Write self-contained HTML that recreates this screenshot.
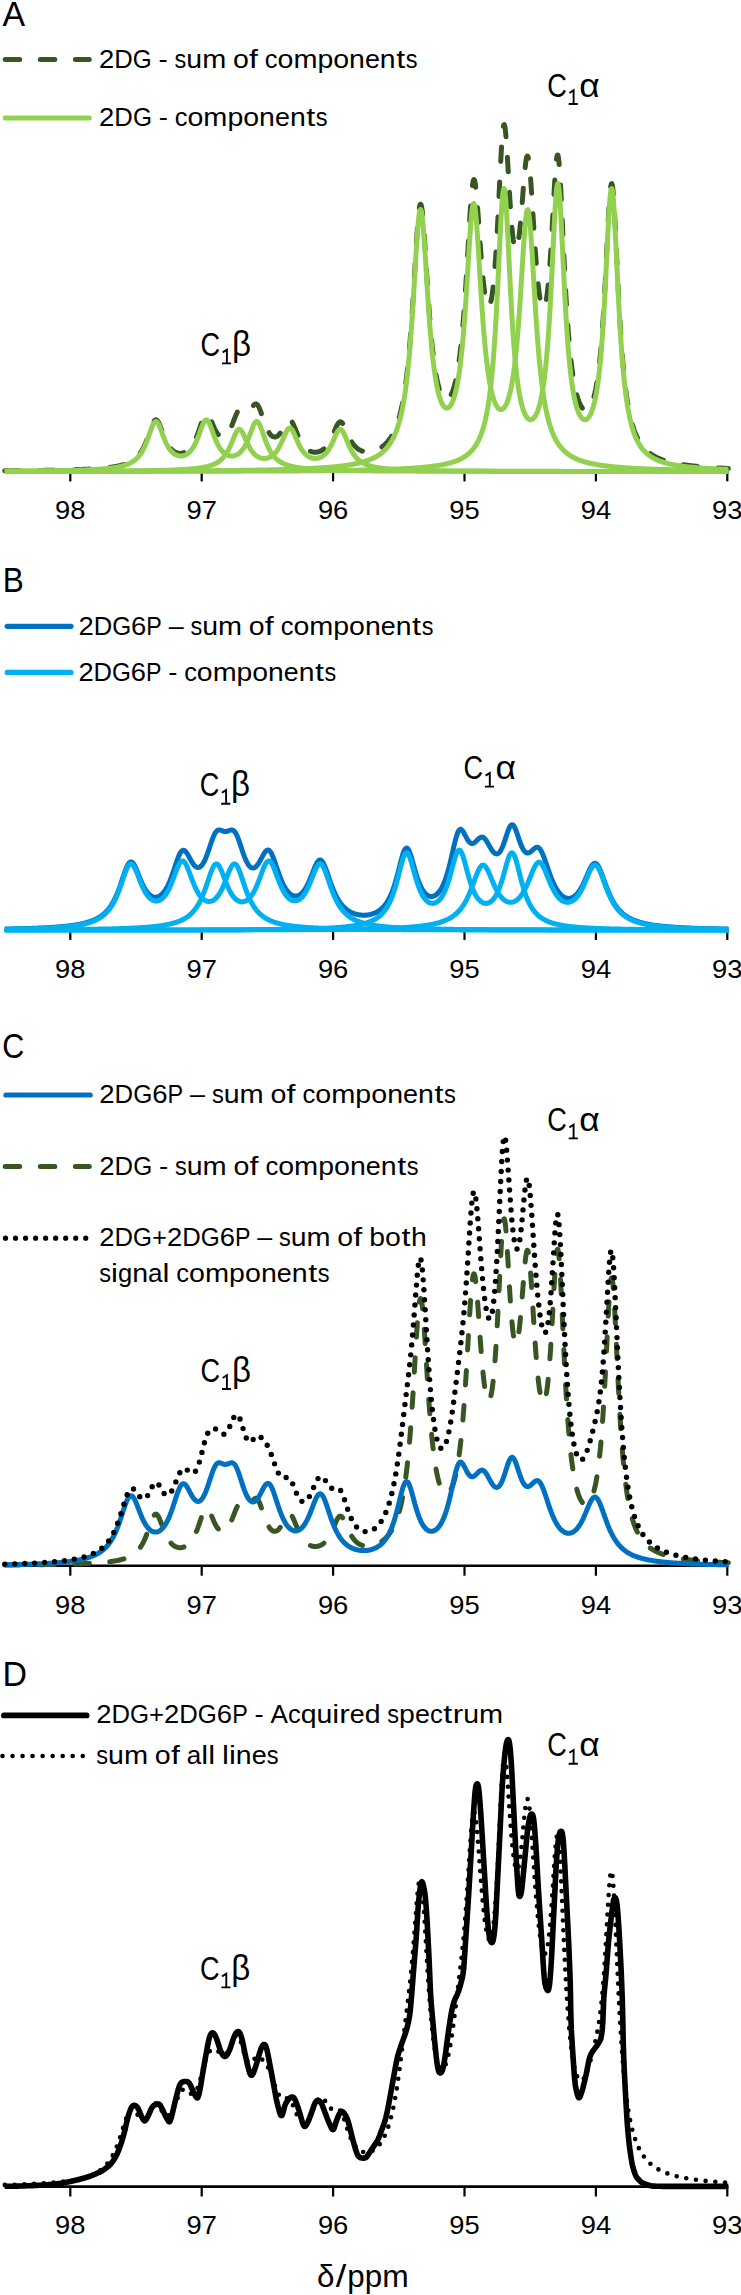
<!DOCTYPE html>
<html><head><meta charset="utf-8"><title>Figure</title><style>html,body{margin:0;padding:0;background:#fff}</style></head><body>
<svg width="741" height="2295" viewBox="0 0 741 2295" style="display:block;font-family:'Liberation Sans',sans-serif">
<rect width="741" height="2295" fill="#fff"/>
<path d="M4.5,471.5 H728.4" stroke="#000" stroke-width="2.6" fill="none"/><path d="M70.3,471.5 V481.4" stroke="#000" stroke-width="2.2" fill="none"/><text x="70.3" y="519.3" font-size="25.6" text-anchor="middle" textLength="30.4" lengthAdjust="spacingAndGlyphs">98</text><path d="M201.7,471.5 V481.4" stroke="#000" stroke-width="2.2" fill="none"/><text x="201.7" y="519.3" font-size="25.6" text-anchor="middle" textLength="30.4" lengthAdjust="spacingAndGlyphs">97</text><path d="M333.1,471.5 V481.4" stroke="#000" stroke-width="2.2" fill="none"/><text x="333.1" y="519.3" font-size="25.6" text-anchor="middle" textLength="30.4" lengthAdjust="spacingAndGlyphs">96</text><path d="M464.5,471.5 V481.4" stroke="#000" stroke-width="2.2" fill="none"/><text x="464.5" y="519.3" font-size="25.6" text-anchor="middle" textLength="30.4" lengthAdjust="spacingAndGlyphs">95</text><path d="M595.9,471.5 V481.4" stroke="#000" stroke-width="2.2" fill="none"/><text x="595.9" y="519.3" font-size="25.6" text-anchor="middle" textLength="30.4" lengthAdjust="spacingAndGlyphs">94</text><path d="M727.3,471.5 V481.4" stroke="#000" stroke-width="2.2" fill="none"/><text x="727.3" y="519.3" font-size="25.6" text-anchor="middle" textLength="30.4" lengthAdjust="spacingAndGlyphs">93</text>
<path d="M4.8,470.8 L5.3,470.8 L5.8,470.8 L6.3,470.8 L6.8,470.8 L7.3,470.8 L7.8,470.8 L8.3,470.8 L8.8,470.7 L9.3,470.7 L9.8,470.7 L10.3,470.7 L10.8,470.7 L11.3,470.7 L11.8,470.7 L12.3,470.7 L12.8,470.7 L13.3,470.7 L13.8,470.7 L14.3,470.7 L14.8,470.7 L15.3,470.7 L15.8,470.7 L16.3,470.7 L16.8,470.7 L17.3,470.7 L17.8,470.7 L18.3,470.7 L18.8,470.7 L19.3,470.7 L19.8,470.6 L20.3,470.6 L20.8,470.6 L21.3,470.6 L21.8,470.6 L22.3,470.6 L22.8,470.6 L23.3,470.6 L23.8,470.6 L24.3,470.6 L24.8,470.6 L25.3,470.6 L25.8,470.6 L26.3,470.6 L26.8,470.6 L27.3,470.6 L27.8,470.6 L28.3,470.6 L28.8,470.6 L29.3,470.5 L29.8,470.5 L30.3,470.5 L30.8,470.5 L31.3,470.5 L31.8,470.5 L32.3,470.5 L32.8,470.5 L33.3,470.5 L33.8,470.5 L34.3,470.5 L34.8,470.5 L35.3,470.5 L35.8,470.5 L36.3,470.5 L36.8,470.5 L37.3,470.4 L37.8,470.4 L38.3,470.4 L38.8,470.4 L39.3,470.4 L39.8,470.4 L40.3,470.4 L40.8,470.4 L41.3,470.4 L41.8,470.4 L42.3,470.4 L42.8,470.4 L43.3,470.4 L43.8,470.4 L44.3,470.3 L44.8,470.3 L45.3,470.3 L45.8,470.3 L46.3,470.3 L46.8,470.3 L47.3,470.3 L47.8,470.3 L48.3,470.3 L48.8,470.3 L49.3,470.3 L49.8,470.3 L50.3,470.2 L50.8,470.2 L51.3,470.2 L51.8,470.2 L52.3,470.2 L52.8,470.2 L53.3,470.2 L53.8,470.2 L54.3,470.2 L54.8,470.2 L55.3,470.2 L55.8,470.1 L56.3,470.1 L56.8,470.1 L57.3,470.1 L57.8,470.1 L58.3,470.1 L58.8,470.1 L59.3,470.1 L59.8,470.1 L60.3,470.0 L60.8,470.0 L61.3,470.0 L61.8,470.0 L62.3,470.0 L62.8,470.0 L63.3,470.0 L63.8,470.0 L64.3,470.0 L64.8,469.9 L65.3,469.9 L65.8,469.9 L66.3,469.9 L66.8,469.9 L67.3,469.9 L67.8,469.9 L68.3,469.9 L68.8,469.8 L69.3,469.8 L69.8,469.8 L70.3,469.8 L70.8,469.8 L71.3,469.8 L71.8,469.8 L72.3,469.7 L72.8,469.7 L73.3,469.7 L73.8,469.7 L74.3,469.7 L74.8,469.7 L75.3,469.6 L75.8,469.6 L76.3,469.6 L76.8,469.6 L77.3,469.6 L77.8,469.6 L78.3,469.5 L78.8,469.5 L79.3,469.5 L79.8,469.5 L80.3,469.5 L80.8,469.4 L81.3,469.4 L81.8,469.4 L82.3,469.4 L82.8,469.4 L83.3,469.3 L83.8,469.3 L84.3,469.3 L84.8,469.3 L85.3,469.3 L85.8,469.2 L86.3,469.2 L86.8,469.2 L87.3,469.2 L87.8,469.1 L88.3,469.1 L88.8,469.1 L89.3,469.1 L89.8,469.0 L90.3,469.0 L90.8,469.0 L91.3,469.0 L91.8,468.9 L92.3,468.9 L92.8,468.9 L93.3,468.8 L93.8,468.8 L94.3,468.8 L94.8,468.7 L95.3,468.7 L95.8,468.7 L96.3,468.6 L96.8,468.6 L97.3,468.6 L97.8,468.5 L98.3,468.5 L98.8,468.5 L99.3,468.4 L99.8,468.4 L100.3,468.3 L100.8,468.3 L101.3,468.3 L101.8,468.2 L102.3,468.2 L102.8,468.1 L103.3,468.1 L103.8,468.0 L104.3,468.0 L104.8,467.9 L105.3,467.9 L105.8,467.8 L106.3,467.8 L106.8,467.7 L107.3,467.7 L107.8,467.6 L108.3,467.6 L108.8,467.5 L109.3,467.4 L109.8,467.4 L110.3,467.3 L110.8,467.2 L111.3,467.2 L111.8,467.1 L112.3,467.0 L112.8,467.0 L113.3,466.9 L113.8,466.8 L114.3,466.7 L114.8,466.6 L115.3,466.5 L115.8,466.5 L116.3,466.4 L116.8,466.3 L117.3,466.2 L117.8,466.1 L118.3,466.0 L118.8,465.9 L119.3,465.8 L119.8,465.6 L120.3,465.5 L120.8,465.4 L121.3,465.3 L121.8,465.1 L122.3,465.0 L122.8,464.9 L123.3,464.7 L123.8,464.6 L124.3,464.4 L124.8,464.2 L125.3,464.1 L125.8,463.9 L126.3,463.7 L126.8,463.5 L127.3,463.3 L127.8,463.1 L128.3,462.9 L128.8,462.7 L129.3,462.4 L129.8,462.2 L130.3,461.9 L130.8,461.6 L131.3,461.4 L131.8,461.1 L132.3,460.7 L132.8,460.4 L133.3,460.1 L133.8,459.7 L134.3,459.3 L134.8,459.0 L135.3,458.5 L135.8,458.1 L136.3,457.7 L136.8,457.2 L137.3,456.7 L137.8,456.1 L138.3,455.6 L138.8,455.0 L139.3,454.4 L139.8,453.7 L140.3,453.0 L140.8,452.3 L141.3,451.5 L141.8,450.7 L142.3,449.8 L142.8,448.9 L143.3,448.0 L143.8,447.0 L144.3,445.9 L144.8,444.8 L145.3,443.7 L145.8,442.5 L146.3,441.2 L146.8,439.9 L147.3,438.6 L147.8,437.2 L148.3,435.8 L148.8,434.3 L149.3,432.9 L149.8,431.4 L150.3,429.9 L150.8,428.5 L151.3,427.1 L151.8,425.7 L152.3,424.5 L152.8,423.4 L153.3,422.3 L153.8,421.5 L154.3,420.8 L154.8,420.3 L155.3,419.9 L155.8,419.8 L156.3,419.9 L156.8,420.2 L157.3,420.6 L157.8,421.3 L158.3,422.1 L158.8,423.0 L159.3,424.1 L159.8,425.3 L160.3,426.5 L160.8,427.8 L161.3,429.1 L161.8,430.5 L162.3,431.8 L162.8,433.2 L163.3,434.5 L163.8,435.8 L164.3,437.0 L164.8,438.2 L165.3,439.4 L165.8,440.5 L166.3,441.5 L166.8,442.5 L167.3,443.4 L167.8,444.3 L168.3,445.2 L168.8,446.0 L169.3,446.7 L169.8,447.4 L170.3,448.0 L170.8,448.6 L171.3,449.2 L171.8,449.7 L172.3,450.1 L172.8,450.6 L173.3,451.0 L173.8,451.3 L174.3,451.7 L174.8,452.0 L175.3,452.2 L175.8,452.5 L176.3,452.7 L176.8,452.8 L177.3,453.0 L177.8,453.1 L178.3,453.2 L178.8,453.3 L179.3,453.4 L179.8,453.4 L180.3,453.4 L180.8,453.4 L181.3,453.3 L181.8,453.2 L182.3,453.2 L182.8,453.0 L183.3,452.9 L183.8,452.7 L184.3,452.5 L184.8,452.3 L185.3,452.1 L185.8,451.8 L186.3,451.5 L186.8,451.2 L187.3,450.8 L187.8,450.4 L188.3,450.0 L188.8,449.5 L189.3,449.0 L189.8,448.5 L190.3,447.9 L190.8,447.3 L191.3,446.7 L191.8,446.0 L192.3,445.2 L192.8,444.4 L193.3,443.6 L193.8,442.7 L194.3,441.7 L194.8,440.7 L195.3,439.7 L195.8,438.6 L196.3,437.4 L196.8,436.2 L197.3,434.9 L197.8,433.6 L198.3,432.2 L198.8,430.8 L199.3,429.3 L199.8,427.9 L200.3,426.4 L200.8,424.9 L201.3,423.4 L201.8,422.0 L202.3,420.6 L202.8,419.4 L203.3,418.2 L203.8,417.1 L204.3,416.2 L204.8,415.4 L205.3,414.8 L205.8,414.4 L206.3,414.1 L206.8,414.1 L207.3,414.3 L207.8,414.6 L208.3,415.2 L208.8,415.9 L209.3,416.7 L209.8,417.6 L210.3,418.7 L210.8,419.8 L211.3,420.9 L211.8,422.1 L212.3,423.3 L212.8,424.5 L213.3,425.7 L213.8,426.9 L214.3,428.0 L214.8,429.0 L215.3,430.0 L215.8,431.0 L216.3,431.9 L216.8,432.7 L217.3,433.4 L217.8,434.1 L218.3,434.7 L218.8,435.3 L219.3,435.7 L219.8,436.1 L220.3,436.5 L220.8,436.7 L221.3,436.9 L221.8,437.1 L222.3,437.1 L222.8,437.1 L223.3,437.1 L223.8,436.9 L224.3,436.7 L224.8,436.5 L225.3,436.1 L225.8,435.7 L226.3,435.3 L226.8,434.7 L227.3,434.1 L227.8,433.4 L228.3,432.7 L228.8,431.9 L229.3,431.0 L229.8,430.0 L230.3,429.0 L230.8,427.9 L231.3,426.8 L231.8,425.6 L232.3,424.4 L232.8,423.1 L233.3,421.8 L233.8,420.5 L234.3,419.2 L234.8,417.9 L235.3,416.7 L235.8,415.4 L236.3,414.3 L236.8,413.2 L237.3,412.2 L237.8,411.4 L238.3,410.7 L238.8,410.1 L239.3,409.6 L239.8,409.3 L240.3,409.1 L240.8,409.0 L241.3,409.0 L241.8,409.1 L242.3,409.3 L242.8,409.6 L243.3,409.9 L243.8,410.2 L244.3,410.5 L244.8,410.7 L245.3,411.0 L245.8,411.2 L246.3,411.3 L246.8,411.3 L247.3,411.3 L247.8,411.2 L248.3,411.0 L248.8,410.7 L249.3,410.3 L249.8,409.8 L250.3,409.3 L250.8,408.7 L251.3,408.1 L251.8,407.5 L252.3,406.8 L252.8,406.2 L253.3,405.6 L253.8,405.1 L254.3,404.6 L254.8,404.3 L255.3,404.0 L255.8,404.0 L256.3,404.0 L256.8,404.3 L257.3,404.7 L257.8,405.3 L258.3,406.1 L258.8,407.0 L259.3,408.0 L259.8,409.2 L260.3,410.5 L260.8,411.9 L261.3,413.3 L261.8,414.8 L262.3,416.3 L262.8,417.8 L263.3,419.3 L263.8,420.8 L264.3,422.2 L264.8,423.6 L265.3,424.9 L265.8,426.2 L266.3,427.4 L266.8,428.5 L267.3,429.6 L267.8,430.6 L268.3,431.5 L268.8,432.3 L269.3,433.1 L269.8,433.8 L270.3,434.5 L270.8,435.0 L271.3,435.5 L271.8,435.9 L272.3,436.3 L272.8,436.6 L273.3,436.8 L273.8,436.9 L274.3,437.0 L274.8,437.0 L275.3,437.0 L275.8,436.9 L276.3,436.7 L276.8,436.5 L277.3,436.2 L277.8,435.8 L278.3,435.4 L278.8,434.9 L279.3,434.3 L279.8,433.7 L280.3,433.0 L280.8,432.3 L281.3,431.5 L281.8,430.7 L282.3,429.8 L282.8,428.9 L283.3,427.9 L283.8,427.0 L284.3,426.0 L284.8,425.0 L285.3,424.1 L285.8,423.2 L286.3,422.4 L286.8,421.6 L287.3,420.9 L287.8,420.4 L288.3,420.0 L288.8,419.7 L289.3,419.6 L289.8,419.7 L290.3,419.9 L290.8,420.3 L291.3,420.8 L291.8,421.5 L292.3,422.3 L292.8,423.3 L293.3,424.3 L293.8,425.4 L294.3,426.6 L294.8,427.8 L295.3,429.0 L295.8,430.3 L296.3,431.5 L296.8,432.7 L297.3,433.9 L297.8,435.1 L298.3,436.3 L298.8,437.4 L299.3,438.4 L299.8,439.5 L300.3,440.4 L300.8,441.4 L301.3,442.2 L301.8,443.1 L302.3,443.8 L302.8,444.6 L303.3,445.3 L303.8,445.9 L304.3,446.5 L304.8,447.1 L305.3,447.6 L305.8,448.1 L306.3,448.6 L306.8,449.0 L307.3,449.4 L307.8,449.8 L308.3,450.1 L308.8,450.4 L309.3,450.7 L309.8,451.0 L310.3,451.2 L310.8,451.4 L311.3,451.6 L311.8,451.7 L312.3,451.9 L312.8,452.0 L313.3,452.1 L313.8,452.2 L314.3,452.2 L314.8,452.2 L315.3,452.2 L315.8,452.2 L316.3,452.2 L316.8,452.1 L317.3,452.1 L317.8,452.0 L318.3,451.9 L318.8,451.7 L319.3,451.5 L319.8,451.4 L320.3,451.1 L320.8,450.9 L321.3,450.7 L321.8,450.4 L322.3,450.0 L322.8,449.7 L323.3,449.3 L323.8,448.9 L324.3,448.5 L324.8,448.0 L325.3,447.5 L325.8,447.0 L326.3,446.4 L326.8,445.8 L327.3,445.1 L327.8,444.4 L328.3,443.6 L328.8,442.8 L329.3,442.0 L329.8,441.1 L330.3,440.2 L330.8,439.2 L331.3,438.2 L331.8,437.1 L332.3,436.0 L332.8,434.9 L333.3,433.7 L333.8,432.5 L334.3,431.3 L334.8,430.1 L335.3,429.0 L335.8,427.8 L336.3,426.7 L336.8,425.7 L337.3,424.8 L337.8,423.9 L338.3,423.2 L338.8,422.6 L339.3,422.2 L339.8,421.9 L340.3,421.8 L340.8,421.9 L341.3,422.1 L341.8,422.5 L342.3,423.0 L342.8,423.7 L343.3,424.5 L343.8,425.4 L344.3,426.4 L344.8,427.4 L345.3,428.5 L345.8,429.7 L346.3,430.8 L346.8,432.0 L347.3,433.1 L347.8,434.3 L348.3,435.4 L348.8,436.5 L349.3,437.5 L349.8,438.5 L350.3,439.5 L350.8,440.4 L351.3,441.2 L351.8,442.1 L352.3,442.8 L352.8,443.6 L353.3,444.3 L353.8,444.9 L354.3,445.5 L354.8,446.1 L355.3,446.6 L355.8,447.1 L356.3,447.6 L356.8,448.0 L357.3,448.4 L357.8,448.8 L358.3,449.2 L358.8,449.5 L359.3,449.8 L359.8,450.0 L360.3,450.3 L360.8,450.5 L361.3,450.7 L361.8,450.9 L362.3,451.1 L362.8,451.2 L363.3,451.4 L363.8,451.5 L364.3,451.6 L364.8,451.7 L365.3,451.7 L365.8,451.8 L366.3,451.8 L366.8,451.8 L367.3,451.9 L367.8,451.9 L368.3,451.8 L368.8,451.8 L369.3,451.8 L369.8,451.7 L370.3,451.7 L370.8,451.6 L371.3,451.5 L371.8,451.4 L372.3,451.3 L372.8,451.2 L373.3,451.1 L373.8,450.9 L374.3,450.8 L374.8,450.6 L375.3,450.5 L375.8,450.3 L376.3,450.1 L376.8,449.9 L377.3,449.6 L377.8,449.4 L378.3,449.2 L378.8,448.9 L379.3,448.6 L379.8,448.3 L380.3,448.0 L380.8,447.7 L381.3,447.4 L381.8,447.1 L382.3,446.7 L382.8,446.3 L383.3,445.9 L383.8,445.5 L384.3,445.1 L384.8,444.6 L385.3,444.1 L385.8,443.7 L386.3,443.1 L386.8,442.6 L387.3,442.0 L387.8,441.5 L388.3,440.8 L388.8,440.2 L389.3,439.5 L389.8,438.8 L390.3,438.1 L390.8,437.4 L391.3,436.6 L391.8,435.7 L392.3,434.8 L392.8,433.9 L393.3,433.0 L393.8,432.0 L394.3,430.9 L394.8,429.8 L395.3,428.6 L395.8,427.4 L396.3,426.1 L396.8,424.8 L397.3,423.4 L397.8,421.9 L398.3,420.3 L398.8,418.7 L399.3,416.9 L399.8,415.1 L400.3,413.1 L400.8,411.1 L401.3,408.9 L401.8,406.6 L402.3,404.2 L402.8,401.6 L403.3,398.9 L403.8,396.0 L404.3,393.0 L404.8,389.7 L405.3,386.3 L405.8,382.6 L406.3,378.8 L406.8,374.7 L407.3,370.3 L407.8,365.7 L408.3,360.8 L408.8,355.6 L409.3,350.1 L409.8,344.3 L410.3,338.2 L410.8,331.7 L411.3,324.9 L411.8,317.8 L412.3,310.3 L412.8,302.6 L413.3,294.6 L413.8,286.4 L414.3,278.0 L414.8,269.5 L415.3,261.0 L415.8,252.6 L416.3,244.4 L416.8,236.6 L417.3,229.3 L417.8,222.7 L418.3,216.8 L418.8,212.0 L419.3,208.2 L419.8,205.6 L420.3,204.3 L420.8,204.3 L421.3,205.5 L421.8,208.1 L422.3,211.8 L422.8,216.5 L423.3,222.2 L423.8,228.6 L424.3,235.7 L424.8,243.2 L425.3,251.0 L425.8,259.1 L426.3,267.1 L426.8,275.2 L427.3,283.1 L427.8,290.8 L428.3,298.3 L428.8,305.5 L429.3,312.5 L429.8,319.0 L430.3,325.3 L430.8,331.2 L431.3,336.8 L431.8,342.0 L432.3,346.9 L432.8,351.5 L433.3,355.8 L433.8,359.9 L434.3,363.6 L434.8,367.1 L435.3,370.4 L435.8,373.4 L436.3,376.2 L436.8,378.8 L437.3,381.2 L437.8,383.4 L438.3,385.4 L438.8,387.3 L439.3,389.0 L439.8,390.5 L440.3,391.9 L440.8,393.2 L441.3,394.3 L441.8,395.4 L442.3,396.3 L442.8,397.0 L443.3,397.7 L443.8,398.3 L444.3,398.7 L444.8,399.1 L445.3,399.3 L445.8,399.4 L446.3,399.5 L446.8,399.4 L447.3,399.3 L447.8,399.0 L448.3,398.7 L448.8,398.2 L449.3,397.7 L449.8,397.0 L450.3,396.3 L450.8,395.4 L451.3,394.4 L451.8,393.4 L452.3,392.2 L452.8,390.8 L453.3,389.4 L453.8,387.8 L454.3,386.1 L454.8,384.2 L455.3,382.2 L455.8,380.0 L456.3,377.6 L456.8,375.1 L457.3,372.3 L457.8,369.4 L458.3,366.3 L458.8,362.9 L459.3,359.3 L459.8,355.5 L460.3,351.3 L460.8,347.0 L461.3,342.3 L461.8,337.3 L462.3,332.0 L462.8,326.4 L463.3,320.4 L463.8,314.1 L464.3,307.4 L464.8,300.4 L465.3,293.0 L465.8,285.4 L466.3,277.4 L466.8,269.2 L467.3,260.7 L467.8,252.1 L468.3,243.4 L468.8,234.8 L469.3,226.3 L469.8,218.1 L470.3,210.3 L470.8,203.1 L471.3,196.6 L471.8,191.0 L472.3,186.3 L472.8,182.8 L473.3,180.6 L473.8,179.5 L474.3,179.8 L474.8,181.3 L475.3,184.0 L475.8,187.7 L476.3,192.4 L476.8,197.9 L477.3,204.0 L477.8,210.6 L478.3,217.5 L478.8,224.6 L479.3,231.8 L479.8,239.0 L480.3,245.9 L480.8,252.7 L481.3,259.2 L481.8,265.3 L482.3,271.0 L482.8,276.4 L483.3,281.3 L483.8,285.8 L484.3,289.9 L484.8,293.5 L485.3,296.6 L485.8,299.3 L486.3,301.6 L486.8,303.4 L487.3,304.8 L487.8,305.7 L488.3,306.2 L488.8,306.3 L489.3,305.9 L489.8,305.0 L490.3,303.7 L490.8,301.9 L491.3,299.6 L491.8,296.9 L492.3,293.6 L492.8,289.8 L493.3,285.4 L493.8,280.5 L494.3,275.1 L494.8,269.0 L495.3,262.3 L495.8,255.1 L496.3,247.2 L496.8,238.8 L497.3,229.9 L497.8,220.4 L498.3,210.6 L498.8,200.4 L499.3,190.1 L499.8,179.8 L500.3,169.7 L500.8,160.0 L501.3,151.0 L501.8,142.9 L502.3,136.0 L502.8,130.6 L503.3,126.8 L503.8,124.8 L504.3,124.6 L504.8,126.1 L505.3,129.4 L505.8,134.2 L506.3,140.3 L506.8,147.4 L507.3,155.3 L507.8,163.8 L508.3,172.5 L508.8,181.2 L509.3,189.8 L509.8,198.1 L510.3,205.9 L510.8,213.2 L511.3,220.0 L511.8,226.0 L512.3,231.4 L512.8,236.1 L513.3,240.1 L513.8,243.4 L514.3,245.9 L514.8,247.7 L515.3,248.9 L515.8,249.4 L516.3,249.1 L516.8,248.3 L517.3,246.7 L517.8,244.6 L518.3,241.8 L518.8,238.4 L519.3,234.5 L519.8,230.0 L520.3,225.0 L520.8,219.6 L521.3,213.8 L521.8,207.7 L522.3,201.4 L522.8,195.0 L523.3,188.6 L523.8,182.3 L524.3,176.4 L524.8,170.9 L525.3,166.1 L525.8,162.1 L526.3,159.0 L526.8,156.9 L527.3,156.0 L527.8,156.3 L528.3,157.8 L528.8,160.5 L529.3,164.3 L529.8,169.2 L530.3,174.9 L530.8,181.4 L531.3,188.5 L531.8,196.1 L532.3,204.0 L532.8,212.0 L533.3,220.0 L533.8,228.0 L534.3,235.8 L534.8,243.4 L535.3,250.6 L535.8,257.5 L536.3,264.0 L536.8,270.1 L537.3,275.8 L537.8,281.0 L538.3,285.7 L538.8,290.0 L539.3,293.8 L539.8,297.2 L540.3,300.1 L540.8,302.6 L541.3,304.6 L541.8,306.2 L542.3,307.3 L542.8,308.0 L543.3,308.3 L543.8,308.0 L544.3,307.3 L544.8,306.2 L545.3,304.5 L545.8,302.4 L546.3,299.8 L546.8,296.6 L547.3,292.9 L547.8,288.6 L548.3,283.8 L548.8,278.4 L549.3,272.5 L549.8,265.9 L550.3,258.8 L550.8,251.1 L551.3,243.0 L551.8,234.4 L552.3,225.4 L552.8,216.2 L553.3,206.9 L553.8,197.6 L554.3,188.7 L554.8,180.3 L555.3,172.6 L555.8,166.1 L556.3,160.8 L556.8,157.1 L557.3,155.1 L557.8,155.0 L558.3,156.7 L558.8,160.3 L559.3,165.6 L559.8,172.5 L560.3,180.7 L560.8,189.9 L561.3,200.0 L561.8,210.6 L562.3,221.5 L562.8,232.6 L563.3,243.5 L563.8,254.3 L564.3,264.7 L564.8,274.8 L565.3,284.4 L565.8,293.5 L566.3,302.2 L566.8,310.3 L567.3,317.9 L567.8,325.1 L568.3,331.8 L568.8,338.0 L569.3,343.8 L569.8,349.2 L570.3,354.3 L570.8,358.9 L571.3,363.3 L571.8,367.4 L572.3,371.1 L572.8,374.6 L573.3,377.9 L573.8,380.9 L574.3,383.7 L574.8,386.3 L575.3,388.8 L575.8,391.0 L576.3,393.1 L576.8,395.0 L577.3,396.8 L577.8,398.4 L578.3,399.9 L578.8,401.3 L579.3,402.6 L579.8,403.7 L580.3,404.8 L580.8,405.7 L581.3,406.6 L581.8,407.3 L582.3,408.0 L582.8,408.5 L583.3,409.0 L583.8,409.4 L584.3,409.7 L584.8,409.9 L585.3,410.0 L585.8,410.1 L586.3,410.0 L586.8,409.9 L587.3,409.7 L587.8,409.4 L588.3,409.0 L588.8,408.5 L589.3,407.9 L589.8,407.2 L590.3,406.4 L590.8,405.5 L591.3,404.4 L591.8,403.3 L592.3,402.0 L592.8,400.6 L593.3,399.0 L593.8,397.3 L594.3,395.4 L594.8,393.4 L595.3,391.1 L595.8,388.7 L596.3,386.0 L596.8,383.1 L597.3,380.0 L597.8,376.6 L598.3,373.0 L598.8,369.0 L599.3,364.7 L599.8,360.0 L600.3,355.0 L600.8,349.6 L601.3,343.8 L601.8,337.5 L602.3,330.8 L602.8,323.6 L603.3,315.9 L603.8,307.7 L604.3,299.0 L604.8,289.9 L605.3,280.4 L605.8,270.5 L606.3,260.3 L606.8,250.0 L607.3,239.7 L607.8,229.6 L608.3,219.8 L608.8,210.8 L609.3,202.6 L609.8,195.6 L610.3,190.0 L610.8,186.0 L611.3,183.9 L611.8,183.6 L612.3,185.3 L612.8,188.8 L613.3,194.0 L613.8,200.7 L614.3,208.8 L614.8,217.8 L615.3,227.7 L615.8,238.0 L616.3,248.6 L616.8,259.4 L617.3,270.0 L617.8,280.4 L618.3,290.5 L618.8,300.3 L619.3,309.6 L619.8,318.4 L620.3,326.7 L620.8,334.6 L621.3,341.9 L621.8,348.9 L622.3,355.3 L622.8,361.4 L623.3,367.0 L623.8,372.3 L624.3,377.3 L624.8,381.9 L625.3,386.2 L625.8,390.2 L626.3,393.9 L626.8,397.5 L627.3,400.7 L627.8,403.8 L628.3,406.7 L628.8,409.4 L629.3,412.0 L629.8,414.3 L630.3,416.6 L630.8,418.7 L631.3,420.7 L631.8,422.6 L632.3,424.4 L632.8,426.0 L633.3,427.6 L633.8,429.1 L634.3,430.6 L634.8,431.9 L635.3,433.2 L635.8,434.4 L636.3,435.6 L636.8,436.7 L637.3,437.7 L637.8,438.7 L638.3,439.6 L638.8,440.6 L639.3,441.4 L639.8,442.2 L640.3,443.0 L640.8,443.8 L641.3,444.5 L641.8,445.2 L642.3,445.9 L642.8,446.5 L643.3,447.1 L643.8,447.7 L644.3,448.3 L644.8,448.8 L645.3,449.4 L645.8,449.9 L646.3,450.4 L646.8,450.8 L647.3,451.3 L647.8,451.7 L648.3,452.1 L648.8,452.5 L649.3,452.9 L649.8,453.3 L650.3,453.7 L650.8,454.0 L651.3,454.4 L651.8,454.7 L652.3,455.0 L652.8,455.3 L653.3,455.6 L653.8,455.9 L654.3,456.2 L654.8,456.5 L655.3,456.8 L655.8,457.0 L656.3,457.3 L656.8,457.5 L657.3,457.7 L657.8,458.0 L658.3,458.2 L658.8,458.4 L659.3,458.6 L659.8,458.8 L660.3,459.0 L660.8,459.2 L661.3,459.4 L661.8,459.6 L662.3,459.8 L662.8,460.0 L663.3,460.2 L663.8,460.3 L664.3,460.5 L664.8,460.6 L665.3,460.8 L665.8,461.0 L666.3,461.1 L666.8,461.3 L667.3,461.4 L667.8,461.5 L668.3,461.7 L668.8,461.8 L669.3,461.9 L669.8,462.1 L670.3,462.2 L670.8,462.3 L671.3,462.4 L671.8,462.6 L672.3,462.7 L672.8,462.8 L673.3,462.9 L673.8,463.0 L674.3,463.1 L674.8,463.2 L675.3,463.3 L675.8,463.4 L676.3,463.5 L676.8,463.6 L677.3,463.7 L677.8,463.8 L678.3,463.9 L678.8,464.0 L679.3,464.1 L679.8,464.1 L680.3,464.2 L680.8,464.3 L681.3,464.4 L681.8,464.5 L682.3,464.6 L682.8,464.6 L683.3,464.7 L683.8,464.8 L684.3,464.9 L684.8,464.9 L685.3,465.0 L685.8,465.1 L686.3,465.1 L686.8,465.2 L687.3,465.3 L687.8,465.3 L688.3,465.4 L688.8,465.5 L689.3,465.5 L689.8,465.6 L690.3,465.6 L690.8,465.7 L691.3,465.8 L691.8,465.8 L692.3,465.9 L692.8,465.9 L693.3,466.0 L693.8,466.0 L694.3,466.1 L694.8,466.1 L695.3,466.2 L695.8,466.2 L696.3,466.3 L696.8,466.3 L697.3,466.4 L697.8,466.4 L698.3,466.5 L698.8,466.5 L699.3,466.6 L699.8,466.6 L700.3,466.7 L700.8,466.7 L701.3,466.8 L701.8,466.8 L702.3,466.8 L702.8,466.9 L703.3,466.9 L703.8,467.0 L704.3,467.0 L704.8,467.0 L705.3,467.1 L705.8,467.1 L706.3,467.2 L706.8,467.2 L707.3,467.2 L707.8,467.3 L708.3,467.3 L708.8,467.3 L709.3,467.4 L709.8,467.4 L710.3,467.5 L710.8,467.5 L711.3,467.5 L711.8,467.6 L712.3,467.6 L712.8,467.6 L713.3,467.6 L713.8,467.7 L714.3,467.7 L714.8,467.7 L715.3,467.8 L715.8,467.8 L716.3,467.8 L716.8,467.9 L717.3,467.9 L717.8,467.9 L718.3,467.9 L718.8,468.0 L719.3,468.0 L719.8,468.0 L720.3,468.1 L720.8,468.1 L721.3,468.1 L721.8,468.1 L722.3,468.2 L722.8,468.2 L723.3,468.2 L723.8,468.2 L724.3,468.3 L724.8,468.3 L725.3,468.3 L725.8,468.3 L726.3,468.4 L726.8,468.4 L727.3,468.4 L727.8,468.4 L728.3,468.5" fill="none" stroke="#375623" stroke-width="5" stroke-linecap="round" stroke-linejoin="round" stroke-dasharray="14.5 20.6"/>
<path d="M4.8,471.1 L5.3,471.1 L5.8,471.1 L6.3,471.1 L6.8,471.1 L7.3,471.1 L7.8,471.1 L8.3,471.1 L8.8,471.1 L9.3,471.1 L9.8,471.1 L10.3,471.1 L10.8,471.1 L11.3,471.1 L11.8,471.1 L12.3,471.1 L12.8,471.1 L13.3,471.1 L13.8,471.1 L14.3,471.1 L14.8,471.1 L15.3,471.0 L15.8,471.0 L16.3,471.0 L16.8,471.0 L17.3,471.0 L17.8,471.0 L18.3,471.0 L18.8,471.0 L19.3,471.0 L19.8,471.0 L20.3,471.0 L20.8,471.0 L21.3,471.0 L21.8,471.0 L22.3,471.0 L22.8,471.0 L23.3,471.0 L23.8,471.0 L24.3,471.0 L24.8,471.0 L25.3,471.0 L25.8,471.0 L26.3,471.0 L26.8,471.0 L27.3,471.0 L27.8,471.0 L28.3,471.0 L28.8,471.0 L29.3,470.9 L29.8,470.9 L30.3,470.9 L30.8,470.9 L31.3,470.9 L31.8,470.9 L32.3,470.9 L32.8,470.9 L33.3,470.9 L33.8,470.9 L34.3,470.9 L34.8,470.9 L35.3,470.9 L35.8,470.9 L36.3,470.9 L36.8,470.9 L37.3,470.9 L37.8,470.9 L38.3,470.9 L38.8,470.9 L39.3,470.9 L39.8,470.9 L40.3,470.8 L40.8,470.8 L41.3,470.8 L41.8,470.8 L42.3,470.8 L42.8,470.8 L43.3,470.8 L43.8,470.8 L44.3,470.8 L44.8,470.8 L45.3,470.8 L45.8,470.8 L46.3,470.8 L46.8,470.8 L47.3,470.8 L47.8,470.8 L48.3,470.8 L48.8,470.7 L49.3,470.7 L49.8,470.7 L50.3,470.7 L50.8,470.7 L51.3,470.7 L51.8,470.7 L52.3,470.7 L52.8,470.7 L53.3,470.7 L53.8,470.7 L54.3,470.7 L54.8,470.7 L55.3,470.7 L55.8,470.6 L56.3,470.6 L56.8,470.6 L57.3,470.6 L57.8,470.6 L58.3,470.6 L58.8,470.6 L59.3,470.6 L59.8,470.6 L60.3,470.6 L60.8,470.6 L61.3,470.6 L61.8,470.6 L62.3,470.5 L62.8,470.5 L63.3,470.5 L63.8,470.5 L64.3,470.5 L64.8,470.5 L65.3,470.5 L65.8,470.5 L66.3,470.5 L66.8,470.5 L67.3,470.4 L67.8,470.4 L68.3,470.4 L68.8,470.4 L69.3,470.4 L69.8,470.4 L70.3,470.4 L70.8,470.4 L71.3,470.4 L71.8,470.3 L72.3,470.3 L72.8,470.3 L73.3,470.3 L73.8,470.3 L74.3,470.3 L74.8,470.3 L75.3,470.3 L75.8,470.2 L76.3,470.2 L76.8,470.2 L77.3,470.2 L77.8,470.2 L78.3,470.2 L78.8,470.1 L79.3,470.1 L79.8,470.1 L80.3,470.1 L80.8,470.1 L81.3,470.1 L81.8,470.1 L82.3,470.0 L82.8,470.0 L83.3,470.0 L83.8,470.0 L84.3,470.0 L84.8,469.9 L85.3,469.9 L85.8,469.9 L86.3,469.9 L86.8,469.9 L87.3,469.8 L87.8,469.8 L88.3,469.8 L88.8,469.8 L89.3,469.8 L89.8,469.7 L90.3,469.7 L90.8,469.7 L91.3,469.7 L91.8,469.6 L92.3,469.6 L92.8,469.6 L93.3,469.6 L93.8,469.5 L94.3,469.5 L94.8,469.5 L95.3,469.5 L95.8,469.4 L96.3,469.4 L96.8,469.4 L97.3,469.3 L97.8,469.3 L98.3,469.3 L98.8,469.2 L99.3,469.2 L99.8,469.2 L100.3,469.1 L100.8,469.1 L101.3,469.1 L101.8,469.0 L102.3,469.0 L102.8,468.9 L103.3,468.9 L103.8,468.9 L104.3,468.8 L104.8,468.8 L105.3,468.7 L105.8,468.7 L106.3,468.6 L106.8,468.6 L107.3,468.5 L107.8,468.5 L108.3,468.4 L108.8,468.4 L109.3,468.3 L109.8,468.2 L110.3,468.2 L110.8,468.1 L111.3,468.1 L111.8,468.0 L112.3,467.9 L112.8,467.9 L113.3,467.8 L113.8,467.7 L114.3,467.6 L114.8,467.6 L115.3,467.5 L115.8,467.4 L116.3,467.3 L116.8,467.2 L117.3,467.1 L117.8,467.0 L118.3,466.9 L118.8,466.8 L119.3,466.7 L119.8,466.6 L120.3,466.5 L120.8,466.4 L121.3,466.3 L121.8,466.1 L122.3,466.0 L122.8,465.9 L123.3,465.7 L123.8,465.6 L124.3,465.4 L124.8,465.3 L125.3,465.1 L125.8,464.9 L126.3,464.8 L126.8,464.6 L127.3,464.4 L127.8,464.2 L128.3,464.0 L128.8,463.8 L129.3,463.5 L129.8,463.3 L130.3,463.0 L130.8,462.8 L131.3,462.5 L131.8,462.2 L132.3,461.9 L132.8,461.6 L133.3,461.2 L133.8,460.9 L134.3,460.5 L134.8,460.1 L135.3,459.7 L135.8,459.3 L136.3,458.9 L136.8,458.4 L137.3,457.9 L137.8,457.4 L138.3,456.8 L138.8,456.2 L139.3,455.6 L139.8,455.0 L140.3,454.3 L140.8,453.6 L141.3,452.8 L141.8,452.0 L142.3,451.2 L142.8,450.3 L143.3,449.3 L143.8,448.3 L144.3,447.3 L144.8,446.2 L145.3,445.1 L145.8,443.9 L146.3,442.6 L146.8,441.3 L147.3,440.0 L147.8,438.6 L148.3,437.2 L148.8,435.8 L149.3,434.3 L149.8,432.9 L150.3,431.4 L150.8,430.0 L151.3,428.6 L151.8,427.3 L152.3,426.0 L152.8,424.9 L153.3,423.9 L153.8,423.1 L154.3,422.4 L154.8,421.9 L155.3,421.6 L155.8,421.4 L156.3,421.5 L156.8,421.8 L157.3,422.3 L157.8,423.0 L158.3,423.8 L158.8,424.7 L159.3,425.8 L159.8,427.0 L160.3,428.3 L160.8,429.6 L161.3,430.9 L161.8,432.3 L162.3,433.6 L162.8,435.0 L163.3,436.3 L163.8,437.6 L164.3,438.9 L164.8,440.1 L165.3,441.3 L165.8,442.4 L166.3,443.5 L166.8,444.5 L167.3,445.4 L167.8,446.3 L168.3,447.2 L168.8,448.0 L169.3,448.7 L169.8,449.5 L170.3,450.1 L170.8,450.7 L171.3,451.3 L171.8,451.8 L172.3,452.3 L172.8,452.8 L173.3,453.2 L173.8,453.6 L174.3,453.9 L174.8,454.3 L175.3,454.5 L175.8,454.8 L176.3,455.0 L176.8,455.2 L177.3,455.4 L177.8,455.6 L178.3,455.7 L178.8,455.8 L179.3,455.9 L179.8,455.9 L180.3,456.0 L180.8,456.0 L181.3,456.0 L181.8,455.9 L182.3,455.9 L182.8,455.8 L183.3,455.7 L183.8,455.6 L184.3,455.4 L184.8,455.2 L185.3,455.0 L185.8,454.8 L186.3,454.5 L186.8,454.2 L187.3,453.9 L187.8,453.5 L188.3,453.2 L188.8,452.7 L189.3,452.3 L189.8,451.8 L190.3,451.3 L190.8,450.7 L191.3,450.1 L191.8,449.4 L192.3,448.8 L192.8,448.0 L193.3,447.2 L193.8,446.4 L194.3,445.5 L194.8,444.5 L195.3,443.5 L195.8,442.5 L196.3,441.4 L196.8,440.2 L197.3,439.0 L197.8,437.8 L198.3,436.5 L198.8,435.1 L199.3,433.8 L199.8,432.4 L200.3,431.0 L200.8,429.6 L201.3,428.2 L201.8,426.9 L202.3,425.6 L202.8,424.4 L203.3,423.3 L203.8,422.3 L204.3,421.5 L204.8,420.8 L205.3,420.3 L205.8,420.0 L206.3,419.9 L206.8,420.0 L207.3,420.3 L207.8,420.8 L208.3,421.5 L208.8,422.3 L209.3,423.3 L209.8,424.4 L210.3,425.6 L210.8,426.9 L211.3,428.2 L211.8,429.6 L212.3,431.0 L212.8,432.4 L213.3,433.8 L213.8,435.1 L214.3,436.5 L214.8,437.8 L215.3,439.0 L215.8,440.2 L216.3,441.4 L216.8,442.5 L217.3,443.6 L217.8,444.5 L218.3,445.5 L218.8,446.4 L219.3,447.2 L219.8,448.0 L220.3,448.8 L220.8,449.4 L221.3,450.1 L221.8,450.7 L222.3,451.3 L222.8,451.8 L223.3,452.3 L223.8,452.7 L224.3,453.2 L224.8,453.5 L225.3,453.9 L225.8,454.2 L226.3,454.5 L226.8,454.8 L227.3,455.0 L227.8,455.2 L228.3,455.4 L228.8,455.6 L229.3,455.7 L229.8,455.8 L230.3,455.9 L230.8,455.9 L231.3,456.0 L231.8,456.0 L232.3,456.0 L232.8,455.9 L233.3,455.9 L233.8,455.8 L234.3,455.7 L234.8,455.6 L235.3,455.4 L235.8,455.2 L236.3,455.0 L236.8,454.8 L237.3,454.5 L237.8,454.3 L238.3,453.9 L238.8,453.6 L239.3,453.2 L239.8,452.8 L240.3,452.3 L240.8,451.8 L241.3,451.3 L241.8,450.7 L242.3,450.1 L242.8,449.4 L243.3,448.7 L243.8,448.0 L244.3,447.2 L244.8,446.3 L245.3,445.4 L245.8,444.5 L246.3,443.5 L246.8,442.4 L247.3,441.3 L247.8,440.1 L248.3,438.9 L248.8,437.6 L249.3,436.3 L249.8,435.0 L250.3,433.6 L250.8,432.3 L251.3,430.9 L251.8,429.6 L252.3,428.3 L252.8,427.0 L253.3,425.8 L253.8,424.7 L254.3,423.8 L254.8,423.0 L255.3,422.3 L255.8,421.8 L256.3,421.5 L256.8,421.4 L257.3,421.6 L257.8,421.9 L258.3,422.4 L258.8,423.1 L259.3,423.9 L259.8,424.9 L260.3,426.0 L260.8,427.3 L261.3,428.6 L261.8,430.0 L262.3,431.4 L262.8,432.9 L263.3,434.3 L263.8,435.8 L264.3,437.2 L264.8,438.6 L265.3,440.0 L265.8,441.3 L266.3,442.6 L266.8,443.9 L267.3,445.1 L267.8,446.2 L268.3,447.3 L268.8,448.3 L269.3,449.3 L269.8,450.3 L270.3,451.2 L270.8,452.0 L271.3,452.8 L271.8,453.6 L272.3,454.3 L272.8,455.0 L273.3,455.6 L273.8,456.2 L274.3,456.8 L274.8,457.4 L275.3,457.9 L275.8,458.4 L276.3,458.9 L276.8,459.3 L277.3,459.7 L277.8,460.1 L278.3,460.5 L278.8,460.9 L279.3,461.3 L279.8,461.6 L280.3,461.9 L280.8,462.2 L281.3,462.5 L281.8,462.8 L282.3,463.0 L282.8,463.3 L283.3,463.5 L283.8,463.8 L284.3,464.0 L284.8,464.2 L285.3,464.4 L285.8,464.6 L286.3,464.8 L286.8,464.9 L287.3,465.1 L287.8,465.3 L288.3,465.4 L288.8,465.6 L289.3,465.7 L289.8,465.9 L290.3,466.0 L290.8,466.1 L291.3,466.3 L291.8,466.4 L292.3,466.5 L292.8,466.6 L293.3,466.7 L293.8,466.8 L294.3,466.9 L294.8,467.0 L295.3,467.1 L295.8,467.2 L296.3,467.3 L296.8,467.4 L297.3,467.5 L297.8,467.6 L298.3,467.6 L298.8,467.7 L299.3,467.8 L299.8,467.9 L300.3,467.9 L300.8,468.0 L301.3,468.1 L301.8,468.1 L302.3,468.2 L302.8,468.2 L303.3,468.3 L303.8,468.4 L304.3,468.4 L304.8,468.5 L305.3,468.5 L305.8,468.6 L306.3,468.6 L306.8,468.7 L307.3,468.7 L307.8,468.8 L308.3,468.8 L308.8,468.9 L309.3,468.9 L309.8,468.9 L310.3,469.0 L310.8,469.0 L311.3,469.1 L311.8,469.1 L312.3,469.1 L312.8,469.2 L313.3,469.2 L313.8,469.2 L314.3,469.3 L314.8,469.3 L315.3,469.3 L315.8,469.4 L316.3,469.4 L316.8,469.4 L317.3,469.5 L317.8,469.5 L318.3,469.5 L318.8,469.5 L319.3,469.6 L319.8,469.6 L320.3,469.6 L320.8,469.6 L321.3,469.7 L321.8,469.7 L322.3,469.7 L322.8,469.7 L323.3,469.8 L323.8,469.8 L324.3,469.8 L324.8,469.8 L325.3,469.8 L325.8,469.9 L326.3,469.9 L326.8,469.9 L327.3,469.9 L327.8,469.9 L328.3,470.0 L328.8,470.0 L329.3,470.0 L329.8,470.0 L330.3,470.0 L330.8,470.1 L331.3,470.1 L331.8,470.1 L332.3,470.1 L332.8,470.1 L333.3,470.1 L333.8,470.1 L334.3,470.2 L334.8,470.2 L335.3,470.2 L335.8,470.2 L336.3,470.2 L336.8,470.2 L337.3,470.3 L337.8,470.3 L338.3,470.3 L338.8,470.3 L339.3,470.3 L339.8,470.3 L340.3,470.3 L340.8,470.3 L341.3,470.4 L341.8,470.4 L342.3,470.4 L342.8,470.4 L343.3,470.4 L343.8,470.4 L344.3,470.4 L344.8,470.4 L345.3,470.4 L345.8,470.5 L346.3,470.5 L346.8,470.5 L347.3,470.5 L347.8,470.5 L348.3,470.5 L348.8,470.5 L349.3,470.5 L349.8,470.5 L350.3,470.5 L350.8,470.6 L351.3,470.6 L351.8,470.6 L352.3,470.6 L352.8,470.6 L353.3,470.6 L353.8,470.6 L354.3,470.6 L354.8,470.6 L355.3,470.6 L355.8,470.6 L356.3,470.6 L356.8,470.6 L357.3,470.7 L357.8,470.7 L358.3,470.7 L358.8,470.7 L359.3,470.7 L359.8,470.7 L360.3,470.7 L360.8,470.7 L361.3,470.7 L361.8,470.7 L362.3,470.7 L362.8,470.7 L363.3,470.7 L363.8,470.7 L364.3,470.8 L364.8,470.8 L365.3,470.8 L365.8,470.8 L366.3,470.8 L366.8,470.8 L367.3,470.8 L367.8,470.8 L368.3,470.8 L368.8,470.8 L369.3,470.8 L369.8,470.8 L370.3,470.8 L370.8,470.8 L371.3,470.8 L371.8,470.8 L372.3,470.8 L372.8,470.9 L373.3,470.9 L373.8,470.9 L374.3,470.9 L374.8,470.9 L375.3,470.9 L375.8,470.9 L376.3,470.9 L376.8,470.9 L377.3,470.9 L377.8,470.9 L378.3,470.9 L378.8,470.9 L379.3,470.9 L379.8,470.9 L380.3,470.9 L380.8,470.9 L381.3,470.9 L381.8,470.9 L382.3,470.9 L382.8,470.9 L383.3,470.9 L383.8,471.0 L384.3,471.0 L384.8,471.0 L385.3,471.0 L385.8,471.0 L386.3,471.0 L386.8,471.0 L387.3,471.0 L387.8,471.0 L388.3,471.0 L388.8,471.0 L389.3,471.0 L389.8,471.0 L390.3,471.0 L390.8,471.0 L391.3,471.0 L391.8,471.0 L392.3,471.0 L392.8,471.0 L393.3,471.0 L393.8,471.0 L394.3,471.0 L394.8,471.0 L395.3,471.0 L395.8,471.0 L396.3,471.0 L396.8,471.0 L397.3,471.0 L397.8,471.1 L398.3,471.1 L398.8,471.1 L399.3,471.1 L399.8,471.1 L400.3,471.1 L400.8,471.1 L401.3,471.1 L401.8,471.1 L402.3,471.1 L402.8,471.1 L403.3,471.1 L403.8,471.1 L404.3,471.1 L404.8,471.1 L405.3,471.1 L405.8,471.1 L406.3,471.1 L406.8,471.1 L407.3,471.1 L407.8,471.1 L408.3,471.1 L408.8,471.1 L409.3,471.1 L409.8,471.1 L410.3,471.1 L410.8,471.1 L411.3,471.1 L411.8,471.1 L412.3,471.1 L412.8,471.1 L413.3,471.1 L413.8,471.1 L414.3,471.1 L414.8,471.1 L415.3,471.1 L415.8,471.1 L416.3,471.1 L416.8,471.2 L417.3,471.2 L417.8,471.2 L418.3,471.2 L418.8,471.2 L419.3,471.2 L419.8,471.2 L420.3,471.2 L420.8,471.2 L421.3,471.2 L421.8,471.2 L422.3,471.2 L422.8,471.2 L423.3,471.2 L423.8,471.2 L424.3,471.2 L424.8,471.2 L425.3,471.2 L425.8,471.2 L426.3,471.2 L426.8,471.2 L427.3,471.2 L427.8,471.2 L428.3,471.2 L428.8,471.2 L429.3,471.2 L429.8,471.2 L430.3,471.2 L430.8,471.2 L431.3,471.2 L431.8,471.2 L432.3,471.2 L432.8,471.2 L433.3,471.2 L433.8,471.2 L434.3,471.2 L434.8,471.2 L435.3,471.2 L435.8,471.2 L436.3,471.2 L436.8,471.2 L437.3,471.2 L437.8,471.2 L438.3,471.2 L438.8,471.2 L439.3,471.2 L439.8,471.2 L440.3,471.2 L440.8,471.2 L441.3,471.2 L441.8,471.2 L442.3,471.2 L442.8,471.2 L443.3,471.2 L443.8,471.2 L444.3,471.2 L444.8,471.2 L445.3,471.2 L445.8,471.3 L446.3,471.3 L446.8,471.3 L447.3,471.3 L447.8,471.3 L448.3,471.3 L448.8,471.3 L449.3,471.3 L449.8,471.3 L450.3,471.3 L450.8,471.3 L451.3,471.3 L451.8,471.3 L452.3,471.3 L452.8,471.3 L453.3,471.3 L453.8,471.3 L454.3,471.3 L454.8,471.3 L455.3,471.3 L455.8,471.3 L456.3,471.3 L456.8,471.3 L457.3,471.3 L457.8,471.3 L458.3,471.3 L458.8,471.3 L459.3,471.3 L459.8,471.3 L460.3,471.3 L460.8,471.3 L461.3,471.3 L461.8,471.3 L462.3,471.3 L462.8,471.3 L463.3,471.3 L463.8,471.3 L464.3,471.3 L464.8,471.3 L465.3,471.3 L465.8,471.3 L466.3,471.3 L466.8,471.3 L467.3,471.3 L467.8,471.3 L468.3,471.3 L468.8,471.3 L469.3,471.3 L469.8,471.3 L470.3,471.3 L470.8,471.3 L471.3,471.3 L471.8,471.3 L472.3,471.3 L472.8,471.3 L473.3,471.3 L473.8,471.3 L474.3,471.3 L474.8,471.3 L475.3,471.3 L475.8,471.3 L476.3,471.3 L476.8,471.3 L477.3,471.3 L477.8,471.3 L478.3,471.3 L478.8,471.3 L479.3,471.3 L479.8,471.3 L480.3,471.3 L480.8,471.3 L481.3,471.3 L481.8,471.3 L482.3,471.3 L482.8,471.3 L483.3,471.3 L483.8,471.3 L484.3,471.3 L484.8,471.3 L485.3,471.3 L485.8,471.3 L486.3,471.3 L486.8,471.3 L487.3,471.3 L487.8,471.3 L488.3,471.3 L488.8,471.3 L489.3,471.3 L489.8,471.3 L490.3,471.3 L490.8,471.3 L491.3,471.3 L491.8,471.3 L492.3,471.3 L492.8,471.3 L493.3,471.3 L493.8,471.3 L494.3,471.3 L494.8,471.3 L495.3,471.4 L495.8,471.4 L496.3,471.4 L496.8,471.4 L497.3,471.4 L497.8,471.4 L498.3,471.4 L498.8,471.4 L499.3,471.4 L499.8,471.4 L500.3,471.4 L500.8,471.4 L501.3,471.4 L501.8,471.4 L502.3,471.4 L502.8,471.4 L503.3,471.4 L503.8,471.4 L504.3,471.4 L504.8,471.4 L505.3,471.4 L505.8,471.4 L506.3,471.4 L506.8,471.4 L507.3,471.4 L507.8,471.4 L508.3,471.4 L508.8,471.4 L509.3,471.4 L509.8,471.4 L510.3,471.4 L510.8,471.4 L511.3,471.4 L511.8,471.4 L512.3,471.4 L512.8,471.4 L513.3,471.4 L513.8,471.4 L514.3,471.4 L514.8,471.4 L515.3,471.4 L515.8,471.4 L516.3,471.4 L516.8,471.4 L517.3,471.4 L517.8,471.4 L518.3,471.4 L518.8,471.4 L519.3,471.4 L519.8,471.4 L520.3,471.4 L520.8,471.4 L521.3,471.4 L521.8,471.4 L522.3,471.4 L522.8,471.4 L523.3,471.4 L523.8,471.4 L524.3,471.4 L524.8,471.4 L525.3,471.4 L525.8,471.4 L526.3,471.4 L526.8,471.4 L527.3,471.4 L527.8,471.4 L528.3,471.4 L528.8,471.4 L529.3,471.4 L529.8,471.4 L530.3,471.4 L530.8,471.4 L531.3,471.4 L531.8,471.4 L532.3,471.4 L532.8,471.4 L533.3,471.4 L533.8,471.4 L534.3,471.4 L534.8,471.4 L535.3,471.4 L535.8,471.4 L536.3,471.4 L536.8,471.4 L537.3,471.4 L537.8,471.4 L538.3,471.4 L538.8,471.4 L539.3,471.4 L539.8,471.4 L540.3,471.4 L540.8,471.4 L541.3,471.4 L541.8,471.4 L542.3,471.4 L542.8,471.4 L543.3,471.4 L543.8,471.4 L544.3,471.4 L544.8,471.4 L545.3,471.4 L545.8,471.4 L546.3,471.4 L546.8,471.4 L547.3,471.4 L547.8,471.4 L548.3,471.4 L548.8,471.4 L549.3,471.4 L549.8,471.4 L550.3,471.4 L550.8,471.4 L551.3,471.4 L551.8,471.4 L552.3,471.4 L552.8,471.4 L553.3,471.4 L553.8,471.4 L554.3,471.4 L554.8,471.4 L555.3,471.4 L555.8,471.4 L556.3,471.4 L556.8,471.4 L557.3,471.4 L557.8,471.4 L558.3,471.4 L558.8,471.4 L559.3,471.4 L559.8,471.4 L560.3,471.4 L560.8,471.4 L561.3,471.4 L561.8,471.4 L562.3,471.4 L562.8,471.4 L563.3,471.4 L563.8,471.4 L564.3,471.4 L564.8,471.4 L565.3,471.4 L565.8,471.4 L566.3,471.4 L566.8,471.4 L567.3,471.4 L567.8,471.4 L568.3,471.4 L568.8,471.4 L569.3,471.4 L569.8,471.4 L570.3,471.4 L570.8,471.4 L571.3,471.4 L571.8,471.4 L572.3,471.4 L572.8,471.4 L573.3,471.4 L573.8,471.4 L574.3,471.4 L574.8,471.4 L575.3,471.4 L575.8,471.4 L576.3,471.4 L576.8,471.4 L577.3,471.4 L577.8,471.4 L578.3,471.4 L578.8,471.4 L579.3,471.4 L579.8,471.4 L580.3,471.4 L580.8,471.4 L581.3,471.4 L581.8,471.4 L582.3,471.4 L582.8,471.4 L583.3,471.4 L583.8,471.4 L584.3,471.4 L584.8,471.4 L585.3,471.4 L585.8,471.4 L586.3,471.4 L586.8,471.4 L587.3,471.4 L587.8,471.4 L588.3,471.4 L588.8,471.4 L589.3,471.4 L589.8,471.4 L590.3,471.4 L590.8,471.4 L591.3,471.4 L591.8,471.4 L592.3,471.4 L592.8,471.4 L593.3,471.4 L593.8,471.4 L594.3,471.4 L594.8,471.4 L595.3,471.4 L595.8,471.4 L596.3,471.4 L596.8,471.4 L597.3,471.4 L597.8,471.4 L598.3,471.4 L598.8,471.4 L599.3,471.4 L599.8,471.4 L600.3,471.4 L600.8,471.4 L601.3,471.4 L601.8,471.4 L602.3,471.4 L602.8,471.4 L603.3,471.4 L603.8,471.4 L604.3,471.4 L604.8,471.4 L605.3,471.4 L605.8,471.4 L606.3,471.4 L606.8,471.4 L607.3,471.4 L607.8,471.4 L608.3,471.4 L608.8,471.4 L609.3,471.4 L609.8,471.4 L610.3,471.4 L610.8,471.4 L611.3,471.4 L611.8,471.4 L612.3,471.4 L612.8,471.4 L613.3,471.4 L613.8,471.4 L614.3,471.4 L614.8,471.4 L615.3,471.4 L615.8,471.4 L616.3,471.4 L616.8,471.4 L617.3,471.4 L617.8,471.4 L618.3,471.4 L618.8,471.4 L619.3,471.4 L619.8,471.4 L620.3,471.4 L620.8,471.4 L621.3,471.4 L621.8,471.4 L622.3,471.4 L622.8,471.4 L623.3,471.4 L623.8,471.4 L624.3,471.4 L624.8,471.4 L625.3,471.4 L625.8,471.4 L626.3,471.4 L626.8,471.4 L627.3,471.4 L627.8,471.4 L628.3,471.4 L628.8,471.4 L629.3,471.5 L629.8,471.5 L630.3,471.5 L630.8,471.5 L631.3,471.5 L631.8,471.5 L632.3,471.5 L632.8,471.5 L633.3,471.5 L633.8,471.5 L634.3,471.5 L634.8,471.5 L635.3,471.5 L635.8,471.5 L636.3,471.5 L636.8,471.5 L637.3,471.5 L637.8,471.5 L638.3,471.5 L638.8,471.5 L639.3,471.5 L639.8,471.5 L640.3,471.5 L640.8,471.5 L641.3,471.5 L641.8,471.5 L642.3,471.5 L642.8,471.5 L643.3,471.5 L643.8,471.5 L644.3,471.5 L644.8,471.5 L645.3,471.5 L645.8,471.5 L646.3,471.5 L646.8,471.5 L647.3,471.5 L647.8,471.5 L648.3,471.5 L648.8,471.5 L649.3,471.5 L649.8,471.5 L650.3,471.5 L650.8,471.5 L651.3,471.5 L651.8,471.5 L652.3,471.5 L652.8,471.5 L653.3,471.5 L653.8,471.5 L654.3,471.5 L654.8,471.5 L655.3,471.5 L655.8,471.5 L656.3,471.5 L656.8,471.5 L657.3,471.5 L657.8,471.5 L658.3,471.5 L658.8,471.5 L659.3,471.5 L659.8,471.5 L660.3,471.5 L660.8,471.5 L661.3,471.5 L661.8,471.5 L662.3,471.5 L662.8,471.5 L663.3,471.5 L663.8,471.5 L664.3,471.5 L664.8,471.5 L665.3,471.5 L665.8,471.5 L666.3,471.5 L666.8,471.5 L667.3,471.5 L667.8,471.5 L668.3,471.5 L668.8,471.5 L669.3,471.5 L669.8,471.5 L670.3,471.5 L670.8,471.5 L671.3,471.5 L671.8,471.5 L672.3,471.5 L672.8,471.5 L673.3,471.5 L673.8,471.5 L674.3,471.5 L674.8,471.5 L675.3,471.5 L675.8,471.5 L676.3,471.5 L676.8,471.5 L677.3,471.5 L677.8,471.5 L678.3,471.5 L678.8,471.5 L679.3,471.5 L679.8,471.5 L680.3,471.5 L680.8,471.5 L681.3,471.5 L681.8,471.5 L682.3,471.5 L682.8,471.5 L683.3,471.5 L683.8,471.5 L684.3,471.5 L684.8,471.5 L685.3,471.5 L685.8,471.5 L686.3,471.5 L686.8,471.5 L687.3,471.5 L687.8,471.5 L688.3,471.5 L688.8,471.5 L689.3,471.5 L689.8,471.5 L690.3,471.5 L690.8,471.5 L691.3,471.5 L691.8,471.5 L692.3,471.5 L692.8,471.5 L693.3,471.5 L693.8,471.5 L694.3,471.5 L694.8,471.5 L695.3,471.5 L695.8,471.5 L696.3,471.5 L696.8,471.5 L697.3,471.5 L697.8,471.5 L698.3,471.5 L698.8,471.5 L699.3,471.5 L699.8,471.5 L700.3,471.5 L700.8,471.5 L701.3,471.5 L701.8,471.5 L702.3,471.5 L702.8,471.5 L703.3,471.5 L703.8,471.5 L704.3,471.5 L704.8,471.5 L705.3,471.5 L705.8,471.5 L706.3,471.5 L706.8,471.5 L707.3,471.5 L707.8,471.5 L708.3,471.5 L708.8,471.5 L709.3,471.5 L709.8,471.5 L710.3,471.5 L710.8,471.5 L711.3,471.5 L711.8,471.5 L712.3,471.5 L712.8,471.5 L713.3,471.5 L713.8,471.5 L714.3,471.5 L714.8,471.5 L715.3,471.5 L715.8,471.5 L716.3,471.5 L716.8,471.5 L717.3,471.5 L717.8,471.5 L718.3,471.5 L718.8,471.5 L719.3,471.5 L719.8,471.5 L720.3,471.5 L720.8,471.5 L721.3,471.5 L721.8,471.5 L722.3,471.5 L722.8,471.5 L723.3,471.5 L723.8,471.5 L724.3,471.5 L724.8,471.5 L725.3,471.5 L725.8,471.5 L726.3,471.5 L726.8,471.5 L727.3,471.5 L727.8,471.5 L728.3,471.5" fill="none" stroke="#92D050" stroke-width="5" stroke-linecap="butt" stroke-linejoin="round"/>
<path d="M4.8,471.4 L5.3,471.4 L5.8,471.4 L6.3,471.4 L6.8,471.4 L7.3,471.4 L7.8,471.4 L8.3,471.4 L8.8,471.4 L9.3,471.4 L9.8,471.4 L10.3,471.4 L10.8,471.4 L11.3,471.4 L11.8,471.4 L12.3,471.4 L12.8,471.4 L13.3,471.4 L13.8,471.4 L14.3,471.4 L14.8,471.4 L15.3,471.4 L15.8,471.4 L16.3,471.4 L16.8,471.4 L17.3,471.4 L17.8,471.4 L18.3,471.4 L18.8,471.3 L19.3,471.3 L19.8,471.3 L20.3,471.3 L20.8,471.3 L21.3,471.3 L21.8,471.3 L22.3,471.3 L22.8,471.3 L23.3,471.3 L23.8,471.3 L24.3,471.3 L24.8,471.3 L25.3,471.3 L25.8,471.3 L26.3,471.3 L26.8,471.3 L27.3,471.3 L27.8,471.3 L28.3,471.3 L28.8,471.3 L29.3,471.3 L29.8,471.3 L30.3,471.3 L30.8,471.3 L31.3,471.3 L31.8,471.3 L32.3,471.3 L32.8,471.3 L33.3,471.3 L33.8,471.3 L34.3,471.3 L34.8,471.3 L35.3,471.3 L35.8,471.3 L36.3,471.3 L36.8,471.3 L37.3,471.3 L37.8,471.3 L38.3,471.3 L38.8,471.3 L39.3,471.3 L39.8,471.3 L40.3,471.3 L40.8,471.3 L41.3,471.3 L41.8,471.3 L42.3,471.3 L42.8,471.3 L43.3,471.3 L43.8,471.3 L44.3,471.3 L44.8,471.3 L45.3,471.3 L45.8,471.3 L46.3,471.3 L46.8,471.3 L47.3,471.3 L47.8,471.3 L48.3,471.3 L48.8,471.3 L49.3,471.3 L49.8,471.3 L50.3,471.3 L50.8,471.3 L51.3,471.3 L51.8,471.3 L52.3,471.3 L52.8,471.3 L53.3,471.3 L53.8,471.3 L54.3,471.3 L54.8,471.3 L55.3,471.3 L55.8,471.3 L56.3,471.3 L56.8,471.3 L57.3,471.3 L57.8,471.3 L58.3,471.3 L58.8,471.3 L59.3,471.3 L59.8,471.3 L60.3,471.3 L60.8,471.3 L61.3,471.3 L61.8,471.3 L62.3,471.3 L62.8,471.3 L63.3,471.3 L63.8,471.3 L64.3,471.3 L64.8,471.3 L65.3,471.3 L65.8,471.2 L66.3,471.2 L66.8,471.2 L67.3,471.2 L67.8,471.2 L68.3,471.2 L68.8,471.2 L69.3,471.2 L69.8,471.2 L70.3,471.2 L70.8,471.2 L71.3,471.2 L71.8,471.2 L72.3,471.2 L72.8,471.2 L73.3,471.2 L73.8,471.2 L74.3,471.2 L74.8,471.2 L75.3,471.2 L75.8,471.2 L76.3,471.2 L76.8,471.2 L77.3,471.2 L77.8,471.2 L78.3,471.2 L78.8,471.2 L79.3,471.2 L79.8,471.2 L80.3,471.2 L80.8,471.2 L81.3,471.2 L81.8,471.2 L82.3,471.2 L82.8,471.2 L83.3,471.2 L83.8,471.2 L84.3,471.2 L84.8,471.2 L85.3,471.2 L85.8,471.2 L86.3,471.2 L86.8,471.2 L87.3,471.2 L87.8,471.2 L88.3,471.2 L88.8,471.2 L89.3,471.2 L89.8,471.2 L90.3,471.2 L90.8,471.2 L91.3,471.2 L91.8,471.2 L92.3,471.2 L92.8,471.1 L93.3,471.1 L93.8,471.1 L94.3,471.1 L94.8,471.1 L95.3,471.1 L95.8,471.1 L96.3,471.1 L96.8,471.1 L97.3,471.1 L97.8,471.1 L98.3,471.1 L98.8,471.1 L99.3,471.1 L99.8,471.1 L100.3,471.1 L100.8,471.1 L101.3,471.1 L101.8,471.1 L102.3,471.1 L102.8,471.1 L103.3,471.1 L103.8,471.1 L104.3,471.1 L104.8,471.1 L105.3,471.1 L105.8,471.1 L106.3,471.1 L106.8,471.1 L107.3,471.1 L107.8,471.1 L108.3,471.1 L108.8,471.1 L109.3,471.1 L109.8,471.1 L110.3,471.1 L110.8,471.0 L111.3,471.0 L111.8,471.0 L112.3,471.0 L112.8,471.0 L113.3,471.0 L113.8,471.0 L114.3,471.0 L114.8,471.0 L115.3,471.0 L115.8,471.0 L116.3,471.0 L116.8,471.0 L117.3,471.0 L117.8,471.0 L118.3,471.0 L118.8,471.0 L119.3,471.0 L119.8,471.0 L120.3,471.0 L120.8,471.0 L121.3,471.0 L121.8,471.0 L122.3,471.0 L122.8,471.0 L123.3,471.0 L123.8,470.9 L124.3,470.9 L124.8,470.9 L125.3,470.9 L125.8,470.9 L126.3,470.9 L126.8,470.9 L127.3,470.9 L127.8,470.9 L128.3,470.9 L128.8,470.9 L129.3,470.9 L129.8,470.9 L130.3,470.9 L130.8,470.9 L131.3,470.9 L131.8,470.9 L132.3,470.9 L132.8,470.9 L133.3,470.9 L133.8,470.8 L134.3,470.8 L134.8,470.8 L135.3,470.8 L135.8,470.8 L136.3,470.8 L136.8,470.8 L137.3,470.8 L137.8,470.8 L138.3,470.8 L138.8,470.8 L139.3,470.8 L139.8,470.8 L140.3,470.8 L140.8,470.8 L141.3,470.8 L141.8,470.7 L142.3,470.7 L142.8,470.7 L143.3,470.7 L143.8,470.7 L144.3,470.7 L144.8,470.7 L145.3,470.7 L145.8,470.7 L146.3,470.7 L146.8,470.7 L147.3,470.7 L147.8,470.7 L148.3,470.7 L148.8,470.6 L149.3,470.6 L149.8,470.6 L150.3,470.6 L150.8,470.6 L151.3,470.6 L151.8,470.6 L152.3,470.6 L152.8,470.6 L153.3,470.6 L153.8,470.6 L154.3,470.5 L154.8,470.5 L155.3,470.5 L155.8,470.5 L156.3,470.5 L156.8,470.5 L157.3,470.5 L157.8,470.5 L158.3,470.5 L158.8,470.4 L159.3,470.4 L159.8,470.4 L160.3,470.4 L160.8,470.4 L161.3,470.4 L161.8,470.4 L162.3,470.4 L162.8,470.3 L163.3,470.3 L163.8,470.3 L164.3,470.3 L164.8,470.3 L165.3,470.3 L165.8,470.3 L166.3,470.3 L166.8,470.2 L167.3,470.2 L167.8,470.2 L168.3,470.2 L168.8,470.2 L169.3,470.2 L169.8,470.1 L170.3,470.1 L170.8,470.1 L171.3,470.1 L171.8,470.1 L172.3,470.1 L172.8,470.0 L173.3,470.0 L173.8,470.0 L174.3,470.0 L174.8,470.0 L175.3,469.9 L175.8,469.9 L176.3,469.9 L176.8,469.9 L177.3,469.8 L177.8,469.8 L178.3,469.8 L178.8,469.8 L179.3,469.7 L179.8,469.7 L180.3,469.7 L180.8,469.7 L181.3,469.6 L181.8,469.6 L182.3,469.6 L182.8,469.6 L183.3,469.5 L183.8,469.5 L184.3,469.5 L184.8,469.4 L185.3,469.4 L185.8,469.4 L186.3,469.3 L186.8,469.3 L187.3,469.3 L187.8,469.2 L188.3,469.2 L188.8,469.2 L189.3,469.1 L189.8,469.1 L190.3,469.0 L190.8,469.0 L191.3,468.9 L191.8,468.9 L192.3,468.9 L192.8,468.8 L193.3,468.8 L193.8,468.7 L194.3,468.7 L194.8,468.6 L195.3,468.5 L195.8,468.5 L196.3,468.4 L196.8,468.4 L197.3,468.3 L197.8,468.2 L198.3,468.2 L198.8,468.1 L199.3,468.0 L199.8,468.0 L200.3,467.9 L200.8,467.8 L201.3,467.7 L201.8,467.6 L202.3,467.6 L202.8,467.5 L203.3,467.4 L203.8,467.3 L204.3,467.2 L204.8,467.1 L205.3,467.0 L205.8,466.9 L206.3,466.7 L206.8,466.6 L207.3,466.5 L207.8,466.4 L208.3,466.2 L208.8,466.1 L209.3,466.0 L209.8,465.8 L210.3,465.7 L210.8,465.5 L211.3,465.3 L211.8,465.1 L212.3,465.0 L212.8,464.8 L213.3,464.6 L213.8,464.3 L214.3,464.1 L214.8,463.9 L215.3,463.6 L215.8,463.4 L216.3,463.1 L216.8,462.8 L217.3,462.5 L217.8,462.2 L218.3,461.9 L218.8,461.6 L219.3,461.2 L219.8,460.8 L220.3,460.4 L220.8,460.0 L221.3,459.5 L221.8,459.1 L222.3,458.6 L222.8,458.1 L223.3,457.5 L223.8,456.9 L224.3,456.3 L224.8,455.7 L225.3,455.0 L225.8,454.3 L226.3,453.5 L226.8,452.7 L227.3,451.9 L227.8,451.0 L228.3,450.1 L228.8,449.1 L229.3,448.1 L229.8,447.1 L230.3,446.0 L230.8,444.8 L231.3,443.7 L231.8,442.5 L232.3,441.3 L232.8,440.0 L233.3,438.8 L233.8,437.6 L234.3,436.4 L234.8,435.2 L235.3,434.1 L235.8,433.1 L236.3,432.2 L236.8,431.3 L237.3,430.6 L237.8,430.1 L238.3,429.7 L238.8,429.4 L239.3,429.3 L239.8,429.4 L240.3,429.7 L240.8,430.1 L241.3,430.7 L241.8,431.4 L242.3,432.2 L242.8,433.2 L243.3,434.2 L243.8,435.2 L244.3,436.3 L244.8,437.5 L245.3,438.6 L245.8,439.8 L246.3,440.9 L246.8,442.0 L247.3,443.1 L247.8,444.2 L248.3,445.2 L248.8,446.2 L249.3,447.1 L249.8,448.0 L250.3,448.8 L250.8,449.6 L251.3,450.4 L251.8,451.1 L252.3,451.8 L252.8,452.4 L253.3,453.0 L253.8,453.6 L254.3,454.1 L254.8,454.5 L255.3,455.0 L255.8,455.4 L256.3,455.8 L256.8,456.1 L257.3,456.4 L257.8,456.7 L258.3,457.0 L258.8,457.3 L259.3,457.5 L259.8,457.7 L260.3,457.8 L260.8,458.0 L261.3,458.1 L261.8,458.2 L262.3,458.3 L262.8,458.4 L263.3,458.4 L263.8,458.4 L264.3,458.4 L264.8,458.4 L265.3,458.4 L265.8,458.3 L266.3,458.3 L266.8,458.2 L267.3,458.1 L267.8,457.9 L268.3,457.8 L268.8,457.6 L269.3,457.4 L269.8,457.2 L270.3,456.9 L270.8,456.6 L271.3,456.3 L271.8,456.0 L272.3,455.7 L272.8,455.3 L273.3,454.9 L273.8,454.4 L274.3,453.9 L274.8,453.4 L275.3,452.9 L275.8,452.3 L276.3,451.6 L276.8,451.0 L277.3,450.3 L277.8,449.5 L278.3,448.7 L278.8,447.9 L279.3,447.0 L279.8,446.0 L280.3,445.0 L280.8,444.0 L281.3,443.0 L281.8,441.9 L282.3,440.7 L282.8,439.6 L283.3,438.4 L283.8,437.2 L284.3,436.0 L284.8,434.9 L285.3,433.8 L285.8,432.7 L286.3,431.7 L286.8,430.8 L287.3,430.0 L287.8,429.3 L288.3,428.7 L288.8,428.4 L289.3,428.1 L289.8,428.1 L290.3,428.2 L290.8,428.4 L291.3,428.9 L291.8,429.5 L292.3,430.2 L292.8,431.0 L293.3,431.9 L293.8,433.0 L294.3,434.0 L294.8,435.2 L295.3,436.3 L295.8,437.5 L296.3,438.7 L296.8,439.9 L297.3,441.0 L297.8,442.1 L298.3,443.2 L298.8,444.3 L299.3,445.3 L299.8,446.3 L300.3,447.2 L300.8,448.1 L301.3,448.9 L301.8,449.7 L302.3,450.4 L302.8,451.1 L303.3,451.8 L303.8,452.4 L304.3,453.0 L304.8,453.5 L305.3,454.0 L305.8,454.5 L306.3,455.0 L306.8,455.4 L307.3,455.7 L307.8,456.1 L308.3,456.4 L308.8,456.7 L309.3,457.0 L309.8,457.2 L310.3,457.4 L310.8,457.6 L311.3,457.8 L311.8,458.0 L312.3,458.1 L312.8,458.2 L313.3,458.3 L313.8,458.4 L314.3,458.4 L314.8,458.4 L315.3,458.4 L315.8,458.4 L316.3,458.4 L316.8,458.3 L317.3,458.3 L317.8,458.2 L318.3,458.1 L318.8,457.9 L319.3,457.8 L319.8,457.6 L320.3,457.4 L320.8,457.2 L321.3,456.9 L321.8,456.7 L322.3,456.4 L322.8,456.0 L323.3,455.7 L323.8,455.3 L324.3,454.9 L324.8,454.4 L325.3,453.9 L325.8,453.4 L326.3,452.9 L326.8,452.3 L327.3,451.6 L327.8,450.9 L328.3,450.2 L328.8,449.4 L329.3,448.6 L329.8,447.8 L330.3,446.9 L330.8,445.9 L331.3,444.9 L331.8,443.9 L332.3,442.8 L332.8,441.7 L333.3,440.6 L333.8,439.5 L334.3,438.3 L334.8,437.2 L335.3,436.0 L335.8,435.0 L336.3,433.9 L336.8,432.9 L337.3,432.0 L337.8,431.2 L338.3,430.6 L338.8,430.0 L339.3,429.6 L339.8,429.4 L340.3,429.4 L340.8,429.5 L341.3,429.7 L341.8,430.2 L342.3,430.8 L342.8,431.5 L343.3,432.4 L343.8,433.3 L344.3,434.4 L344.8,435.5 L345.3,436.7 L345.8,437.9 L346.3,439.1 L346.8,440.3 L347.3,441.6 L347.8,442.8 L348.3,444.0 L348.8,445.1 L349.3,446.2 L349.8,447.3 L350.3,448.4 L350.8,449.4 L351.3,450.3 L351.8,451.2 L352.3,452.1 L352.8,452.9 L353.3,453.7 L353.8,454.5 L354.3,455.2 L354.8,455.8 L355.3,456.5 L355.8,457.1 L356.3,457.7 L356.8,458.2 L357.3,458.7 L357.8,459.2 L358.3,459.7 L358.8,460.1 L359.3,460.5 L359.8,460.9 L360.3,461.3 L360.8,461.6 L361.3,462.0 L361.8,462.3 L362.3,462.6 L362.8,462.9 L363.3,463.2 L363.8,463.4 L364.3,463.7 L364.8,463.9 L365.3,464.2 L365.8,464.4 L366.3,464.6 L366.8,464.8 L367.3,465.0 L367.8,465.2 L368.3,465.4 L368.8,465.5 L369.3,465.7 L369.8,465.8 L370.3,466.0 L370.8,466.1 L371.3,466.3 L371.8,466.4 L372.3,466.5 L372.8,466.7 L373.3,466.8 L373.8,466.9 L374.3,467.0 L374.8,467.1 L375.3,467.2 L375.8,467.3 L376.3,467.4 L376.8,467.5 L377.3,467.6 L377.8,467.7 L378.3,467.7 L378.8,467.8 L379.3,467.9 L379.8,468.0 L380.3,468.1 L380.8,468.1 L381.3,468.2 L381.8,468.3 L382.3,468.3 L382.8,468.4 L383.3,468.4 L383.8,468.5 L384.3,468.6 L384.8,468.6 L385.3,468.7 L385.8,468.7 L386.3,468.8 L386.8,468.8 L387.3,468.9 L387.8,468.9 L388.3,469.0 L388.8,469.0 L389.3,469.0 L389.8,469.1 L390.3,469.1 L390.8,469.2 L391.3,469.2 L391.8,469.2 L392.3,469.3 L392.8,469.3 L393.3,469.3 L393.8,469.4 L394.3,469.4 L394.8,469.4 L395.3,469.5 L395.8,469.5 L396.3,469.5 L396.8,469.6 L397.3,469.6 L397.8,469.6 L398.3,469.7 L398.8,469.7 L399.3,469.7 L399.8,469.7 L400.3,469.8 L400.8,469.8 L401.3,469.8 L401.8,469.8 L402.3,469.9 L402.8,469.9 L403.3,469.9 L403.8,469.9 L404.3,469.9 L404.8,470.0 L405.3,470.0 L405.8,470.0 L406.3,470.0 L406.8,470.0 L407.3,470.1 L407.8,470.1 L408.3,470.1 L408.8,470.1 L409.3,470.1 L409.8,470.1 L410.3,470.2 L410.8,470.2 L411.3,470.2 L411.8,470.2 L412.3,470.2 L412.8,470.2 L413.3,470.3 L413.8,470.3 L414.3,470.3 L414.8,470.3 L415.3,470.3 L415.8,470.3 L416.3,470.3 L416.8,470.4 L417.3,470.4 L417.8,470.4 L418.3,470.4 L418.8,470.4 L419.3,470.4 L419.8,470.4 L420.3,470.4 L420.8,470.4 L421.3,470.5 L421.8,470.5 L422.3,470.5 L422.8,470.5 L423.3,470.5 L423.8,470.5 L424.3,470.5 L424.8,470.5 L425.3,470.5 L425.8,470.6 L426.3,470.6 L426.8,470.6 L427.3,470.6 L427.8,470.6 L428.3,470.6 L428.8,470.6 L429.3,470.6 L429.8,470.6 L430.3,470.6 L430.8,470.6 L431.3,470.7 L431.8,470.7 L432.3,470.7 L432.8,470.7 L433.3,470.7 L433.8,470.7 L434.3,470.7 L434.8,470.7 L435.3,470.7 L435.8,470.7 L436.3,470.7 L436.8,470.7 L437.3,470.7 L437.8,470.8 L438.3,470.8 L438.8,470.8 L439.3,470.8 L439.8,470.8 L440.3,470.8 L440.8,470.8 L441.3,470.8 L441.8,470.8 L442.3,470.8 L442.8,470.8 L443.3,470.8 L443.8,470.8 L444.3,470.8 L444.8,470.8 L445.3,470.8 L445.8,470.9 L446.3,470.9 L446.8,470.9 L447.3,470.9 L447.8,470.9 L448.3,470.9 L448.8,470.9 L449.3,470.9 L449.8,470.9 L450.3,470.9 L450.8,470.9 L451.3,470.9 L451.8,470.9 L452.3,470.9 L452.8,470.9 L453.3,470.9 L453.8,470.9 L454.3,470.9 L454.8,470.9 L455.3,470.9 L455.8,471.0 L456.3,471.0 L456.8,471.0 L457.3,471.0 L457.8,471.0 L458.3,471.0 L458.8,471.0 L459.3,471.0 L459.8,471.0 L460.3,471.0 L460.8,471.0 L461.3,471.0 L461.8,471.0 L462.3,471.0 L462.8,471.0 L463.3,471.0 L463.8,471.0 L464.3,471.0 L464.8,471.0 L465.3,471.0 L465.8,471.0 L466.3,471.0 L466.8,471.0 L467.3,471.0 L467.8,471.0 L468.3,471.0 L468.8,471.0 L469.3,471.1 L469.8,471.1 L470.3,471.1 L470.8,471.1 L471.3,471.1 L471.8,471.1 L472.3,471.1 L472.8,471.1 L473.3,471.1 L473.8,471.1 L474.3,471.1 L474.8,471.1 L475.3,471.1 L475.8,471.1 L476.3,471.1 L476.8,471.1 L477.3,471.1 L477.8,471.1 L478.3,471.1 L478.8,471.1 L479.3,471.1 L479.8,471.1 L480.3,471.1 L480.8,471.1 L481.3,471.1 L481.8,471.1 L482.3,471.1 L482.8,471.1 L483.3,471.1 L483.8,471.1 L484.3,471.1 L484.8,471.1 L485.3,471.1 L485.8,471.1 L486.3,471.1 L486.8,471.1 L487.3,471.2 L487.8,471.2 L488.3,471.2 L488.8,471.2 L489.3,471.2 L489.8,471.2 L490.3,471.2 L490.8,471.2 L491.3,471.2 L491.8,471.2 L492.3,471.2 L492.8,471.2 L493.3,471.2 L493.8,471.2 L494.3,471.2 L494.8,471.2 L495.3,471.2 L495.8,471.2 L496.3,471.2 L496.8,471.2 L497.3,471.2 L497.8,471.2 L498.3,471.2 L498.8,471.2 L499.3,471.2 L499.8,471.2 L500.3,471.2 L500.8,471.2 L501.3,471.2 L501.8,471.2 L502.3,471.2 L502.8,471.2 L503.3,471.2 L503.8,471.2 L504.3,471.2 L504.8,471.2 L505.3,471.2 L505.8,471.2 L506.3,471.2 L506.8,471.2 L507.3,471.2 L507.8,471.2 L508.3,471.2 L508.8,471.2 L509.3,471.2 L509.8,471.2 L510.3,471.2 L510.8,471.2 L511.3,471.2 L511.8,471.2 L512.3,471.2 L512.8,471.2 L513.3,471.2 L513.8,471.2 L514.3,471.3 L514.8,471.3 L515.3,471.3 L515.8,471.3 L516.3,471.3 L516.8,471.3 L517.3,471.3 L517.8,471.3 L518.3,471.3 L518.8,471.3 L519.3,471.3 L519.8,471.3 L520.3,471.3 L520.8,471.3 L521.3,471.3 L521.8,471.3 L522.3,471.3 L522.8,471.3 L523.3,471.3 L523.8,471.3 L524.3,471.3 L524.8,471.3 L525.3,471.3 L525.8,471.3 L526.3,471.3 L526.8,471.3 L527.3,471.3 L527.8,471.3 L528.3,471.3 L528.8,471.3 L529.3,471.3 L529.8,471.3 L530.3,471.3 L530.8,471.3 L531.3,471.3 L531.8,471.3 L532.3,471.3 L532.8,471.3 L533.3,471.3 L533.8,471.3 L534.3,471.3 L534.8,471.3 L535.3,471.3 L535.8,471.3 L536.3,471.3 L536.8,471.3 L537.3,471.3 L537.8,471.3 L538.3,471.3 L538.8,471.3 L539.3,471.3 L539.8,471.3 L540.3,471.3 L540.8,471.3 L541.3,471.3 L541.8,471.3 L542.3,471.3 L542.8,471.3 L543.3,471.3 L543.8,471.3 L544.3,471.3 L544.8,471.3 L545.3,471.3 L545.8,471.3 L546.3,471.3 L546.8,471.3 L547.3,471.3 L547.8,471.3 L548.3,471.3 L548.8,471.3 L549.3,471.3 L549.8,471.3 L550.3,471.3 L550.8,471.3 L551.3,471.3 L551.8,471.3 L552.3,471.3 L552.8,471.3 L553.3,471.3 L553.8,471.3 L554.3,471.3 L554.8,471.3 L555.3,471.3 L555.8,471.3 L556.3,471.3 L556.8,471.3 L557.3,471.3 L557.8,471.3 L558.3,471.3 L558.8,471.3 L559.3,471.3 L559.8,471.3 L560.3,471.3 L560.8,471.3 L561.3,471.4 L561.8,471.4 L562.3,471.4 L562.8,471.4 L563.3,471.4 L563.8,471.4 L564.3,471.4 L564.8,471.4 L565.3,471.4 L565.8,471.4 L566.3,471.4 L566.8,471.4 L567.3,471.4 L567.8,471.4 L568.3,471.4 L568.8,471.4 L569.3,471.4 L569.8,471.4 L570.3,471.4 L570.8,471.4 L571.3,471.4 L571.8,471.4 L572.3,471.4 L572.8,471.4 L573.3,471.4 L573.8,471.4 L574.3,471.4 L574.8,471.4 L575.3,471.4 L575.8,471.4 L576.3,471.4 L576.8,471.4 L577.3,471.4 L577.8,471.4 L578.3,471.4 L578.8,471.4 L579.3,471.4 L579.8,471.4 L580.3,471.4 L580.8,471.4 L581.3,471.4 L581.8,471.4 L582.3,471.4 L582.8,471.4 L583.3,471.4 L583.8,471.4 L584.3,471.4 L584.8,471.4 L585.3,471.4 L585.8,471.4 L586.3,471.4 L586.8,471.4 L587.3,471.4 L587.8,471.4 L588.3,471.4 L588.8,471.4 L589.3,471.4 L589.8,471.4 L590.3,471.4 L590.8,471.4 L591.3,471.4 L591.8,471.4 L592.3,471.4 L592.8,471.4 L593.3,471.4 L593.8,471.4 L594.3,471.4 L594.8,471.4 L595.3,471.4 L595.8,471.4 L596.3,471.4 L596.8,471.4 L597.3,471.4 L597.8,471.4 L598.3,471.4 L598.8,471.4 L599.3,471.4 L599.8,471.4 L600.3,471.4 L600.8,471.4 L601.3,471.4 L601.8,471.4 L602.3,471.4 L602.8,471.4 L603.3,471.4 L603.8,471.4 L604.3,471.4 L604.8,471.4 L605.3,471.4 L605.8,471.4 L606.3,471.4 L606.8,471.4 L607.3,471.4 L607.8,471.4 L608.3,471.4 L608.8,471.4 L609.3,471.4 L609.8,471.4 L610.3,471.4 L610.8,471.4 L611.3,471.4 L611.8,471.4 L612.3,471.4 L612.8,471.4 L613.3,471.4 L613.8,471.4 L614.3,471.4 L614.8,471.4 L615.3,471.4 L615.8,471.4 L616.3,471.4 L616.8,471.4 L617.3,471.4 L617.8,471.4 L618.3,471.4 L618.8,471.4 L619.3,471.4 L619.8,471.4 L620.3,471.4 L620.8,471.4 L621.3,471.4 L621.8,471.4 L622.3,471.4 L622.8,471.4 L623.3,471.4 L623.8,471.4 L624.3,471.4 L624.8,471.4 L625.3,471.4 L625.8,471.4 L626.3,471.4 L626.8,471.4 L627.3,471.4 L627.8,471.4 L628.3,471.4 L628.8,471.4 L629.3,471.4 L629.8,471.4 L630.3,471.4 L630.8,471.4 L631.3,471.4 L631.8,471.4 L632.3,471.4 L632.8,471.4 L633.3,471.4 L633.8,471.4 L634.3,471.4 L634.8,471.4 L635.3,471.4 L635.8,471.4 L636.3,471.4 L636.8,471.4 L637.3,471.4 L637.8,471.4 L638.3,471.4 L638.8,471.4 L639.3,471.4 L639.8,471.4 L640.3,471.4 L640.8,471.4 L641.3,471.4 L641.8,471.4 L642.3,471.4 L642.8,471.4 L643.3,471.4 L643.8,471.4 L644.3,471.4 L644.8,471.4 L645.3,471.4 L645.8,471.4 L646.3,471.4 L646.8,471.4 L647.3,471.4 L647.8,471.4 L648.3,471.4 L648.8,471.4 L649.3,471.4 L649.8,471.4 L650.3,471.4 L650.8,471.4 L651.3,471.4 L651.8,471.4 L652.3,471.4 L652.8,471.4 L653.3,471.4 L653.8,471.4 L654.3,471.4 L654.8,471.4 L655.3,471.4 L655.8,471.4 L656.3,471.4 L656.8,471.4 L657.3,471.4 L657.8,471.4 L658.3,471.4 L658.8,471.4 L659.3,471.4 L659.8,471.4 L660.3,471.4 L660.8,471.4 L661.3,471.4 L661.8,471.4 L662.3,471.4 L662.8,471.4 L663.3,471.4 L663.8,471.4 L664.3,471.4 L664.8,471.4 L665.3,471.4 L665.8,471.4 L666.3,471.4 L666.8,471.4 L667.3,471.4 L667.8,471.4 L668.3,471.4 L668.8,471.4 L669.3,471.4 L669.8,471.4 L670.3,471.4 L670.8,471.4 L671.3,471.4 L671.8,471.4 L672.3,471.4 L672.8,471.4 L673.3,471.4 L673.8,471.4 L674.3,471.4 L674.8,471.4 L675.3,471.4 L675.8,471.4 L676.3,471.4 L676.8,471.4 L677.3,471.4 L677.8,471.4 L678.3,471.4 L678.8,471.4 L679.3,471.4 L679.8,471.4 L680.3,471.4 L680.8,471.4 L681.3,471.4 L681.8,471.4 L682.3,471.4 L682.8,471.4 L683.3,471.4 L683.8,471.4 L684.3,471.4 L684.8,471.4 L685.3,471.4 L685.8,471.4 L686.3,471.4 L686.8,471.4 L687.3,471.4 L687.8,471.4 L688.3,471.4 L688.8,471.4 L689.3,471.5 L689.8,471.5 L690.3,471.5 L690.8,471.5 L691.3,471.5 L691.8,471.5 L692.3,471.5 L692.8,471.5 L693.3,471.5 L693.8,471.5 L694.3,471.5 L694.8,471.5 L695.3,471.5 L695.8,471.5 L696.3,471.5 L696.8,471.5 L697.3,471.5 L697.8,471.5 L698.3,471.5 L698.8,471.5 L699.3,471.5 L699.8,471.5 L700.3,471.5 L700.8,471.5 L701.3,471.5 L701.8,471.5 L702.3,471.5 L702.8,471.5 L703.3,471.5 L703.8,471.5 L704.3,471.5 L704.8,471.5 L705.3,471.5 L705.8,471.5 L706.3,471.5 L706.8,471.5 L707.3,471.5 L707.8,471.5 L708.3,471.5 L708.8,471.5 L709.3,471.5 L709.8,471.5 L710.3,471.5 L710.8,471.5 L711.3,471.5 L711.8,471.5 L712.3,471.5 L712.8,471.5 L713.3,471.5 L713.8,471.5 L714.3,471.5 L714.8,471.5 L715.3,471.5 L715.8,471.5 L716.3,471.5 L716.8,471.5 L717.3,471.5 L717.8,471.5 L718.3,471.5 L718.8,471.5 L719.3,471.5 L719.8,471.5 L720.3,471.5 L720.8,471.5 L721.3,471.5 L721.8,471.5 L722.3,471.5 L722.8,471.5 L723.3,471.5 L723.8,471.5 L724.3,471.5 L724.8,471.5 L725.3,471.5 L725.8,471.5 L726.3,471.5 L726.8,471.5 L727.3,471.5 L727.8,471.5 L728.3,471.5" fill="none" stroke="#92D050" stroke-width="5" stroke-linecap="butt" stroke-linejoin="round"/>
<path d="M4.8,471.4 L5.3,471.4 L5.8,471.4 L6.3,471.4 L6.8,471.4 L7.3,471.4 L7.8,471.4 L8.3,471.4 L8.8,471.4 L9.3,471.4 L9.8,471.4 L10.3,471.4 L10.8,471.4 L11.3,471.4 L11.8,471.3 L12.3,471.3 L12.8,471.3 L13.3,471.3 L13.8,471.3 L14.3,471.3 L14.8,471.3 L15.3,471.3 L15.8,471.3 L16.3,471.3 L16.8,471.3 L17.3,471.3 L17.8,471.3 L18.3,471.3 L18.8,471.3 L19.3,471.3 L19.8,471.3 L20.3,471.3 L20.8,471.3 L21.3,471.3 L21.8,471.3 L22.3,471.3 L22.8,471.3 L23.3,471.3 L23.8,471.3 L24.3,471.3 L24.8,471.3 L25.3,471.3 L25.8,471.3 L26.3,471.3 L26.8,471.3 L27.3,471.3 L27.8,471.3 L28.3,471.3 L28.8,471.3 L29.3,471.3 L29.8,471.3 L30.3,471.3 L30.8,471.3 L31.3,471.3 L31.8,471.3 L32.3,471.3 L32.8,471.3 L33.3,471.3 L33.8,471.3 L34.3,471.3 L34.8,471.3 L35.3,471.3 L35.8,471.3 L36.3,471.3 L36.8,471.3 L37.3,471.3 L37.8,471.3 L38.3,471.3 L38.8,471.3 L39.3,471.3 L39.8,471.3 L40.3,471.3 L40.8,471.3 L41.3,471.3 L41.8,471.3 L42.3,471.3 L42.8,471.3 L43.3,471.3 L43.8,471.3 L44.3,471.3 L44.8,471.3 L45.3,471.3 L45.8,471.3 L46.3,471.3 L46.8,471.3 L47.3,471.3 L47.8,471.3 L48.3,471.3 L48.8,471.3 L49.3,471.3 L49.8,471.3 L50.3,471.3 L50.8,471.3 L51.3,471.3 L51.8,471.3 L52.3,471.3 L52.8,471.3 L53.3,471.3 L53.8,471.3 L54.3,471.3 L54.8,471.3 L55.3,471.3 L55.8,471.3 L56.3,471.3 L56.8,471.3 L57.3,471.3 L57.8,471.3 L58.3,471.3 L58.8,471.3 L59.3,471.3 L59.8,471.3 L60.3,471.3 L60.8,471.3 L61.3,471.3 L61.8,471.3 L62.3,471.3 L62.8,471.3 L63.3,471.3 L63.8,471.3 L64.3,471.3 L64.8,471.3 L65.3,471.3 L65.8,471.3 L66.3,471.3 L66.8,471.3 L67.3,471.3 L67.8,471.3 L68.3,471.3 L68.8,471.3 L69.3,471.3 L69.8,471.3 L70.3,471.3 L70.8,471.3 L71.3,471.3 L71.8,471.3 L72.3,471.3 L72.8,471.3 L73.3,471.3 L73.8,471.3 L74.3,471.3 L74.8,471.3 L75.3,471.3 L75.8,471.3 L76.3,471.3 L76.8,471.3 L77.3,471.3 L77.8,471.3 L78.3,471.3 L78.8,471.3 L79.3,471.3 L79.8,471.3 L80.3,471.3 L80.8,471.2 L81.3,471.2 L81.8,471.2 L82.3,471.2 L82.8,471.2 L83.3,471.2 L83.8,471.2 L84.3,471.2 L84.8,471.2 L85.3,471.2 L85.8,471.2 L86.3,471.2 L86.8,471.2 L87.3,471.2 L87.8,471.2 L88.3,471.2 L88.8,471.2 L89.3,471.2 L89.8,471.2 L90.3,471.2 L90.8,471.2 L91.3,471.2 L91.8,471.2 L92.3,471.2 L92.8,471.2 L93.3,471.2 L93.8,471.2 L94.3,471.2 L94.8,471.2 L95.3,471.2 L95.8,471.2 L96.3,471.2 L96.8,471.2 L97.3,471.2 L97.8,471.2 L98.3,471.2 L98.8,471.2 L99.3,471.2 L99.8,471.2 L100.3,471.2 L100.8,471.2 L101.3,471.2 L101.8,471.2 L102.3,471.2 L102.8,471.2 L103.3,471.2 L103.8,471.2 L104.3,471.2 L104.8,471.2 L105.3,471.2 L105.8,471.2 L106.3,471.2 L106.8,471.2 L107.3,471.2 L107.8,471.2 L108.3,471.2 L108.8,471.2 L109.3,471.2 L109.8,471.2 L110.3,471.2 L110.8,471.2 L111.3,471.2 L111.8,471.2 L112.3,471.2 L112.8,471.2 L113.3,471.2 L113.8,471.2 L114.3,471.2 L114.8,471.2 L115.3,471.2 L115.8,471.2 L116.3,471.2 L116.8,471.2 L117.3,471.2 L117.8,471.2 L118.3,471.2 L118.8,471.2 L119.3,471.2 L119.8,471.2 L120.3,471.2 L120.8,471.2 L121.3,471.2 L121.8,471.1 L122.3,471.1 L122.8,471.1 L123.3,471.1 L123.8,471.1 L124.3,471.1 L124.8,471.1 L125.3,471.1 L125.8,471.1 L126.3,471.1 L126.8,471.1 L127.3,471.1 L127.8,471.1 L128.3,471.1 L128.8,471.1 L129.3,471.1 L129.8,471.1 L130.3,471.1 L130.8,471.1 L131.3,471.1 L131.8,471.1 L132.3,471.1 L132.8,471.1 L133.3,471.1 L133.8,471.1 L134.3,471.1 L134.8,471.1 L135.3,471.1 L135.8,471.1 L136.3,471.1 L136.8,471.1 L137.3,471.1 L137.8,471.1 L138.3,471.1 L138.8,471.1 L139.3,471.1 L139.8,471.1 L140.3,471.1 L140.8,471.1 L141.3,471.1 L141.8,471.1 L142.3,471.1 L142.8,471.1 L143.3,471.1 L143.8,471.1 L144.3,471.1 L144.8,471.1 L145.3,471.1 L145.8,471.1 L146.3,471.1 L146.8,471.1 L147.3,471.1 L147.8,471.1 L148.3,471.1 L148.8,471.1 L149.3,471.1 L149.8,471.1 L150.3,471.0 L150.8,471.0 L151.3,471.0 L151.8,471.0 L152.3,471.0 L152.8,471.0 L153.3,471.0 L153.8,471.0 L154.3,471.0 L154.8,471.0 L155.3,471.0 L155.8,471.0 L156.3,471.0 L156.8,471.0 L157.3,471.0 L157.8,471.0 L158.3,471.0 L158.8,471.0 L159.3,471.0 L159.8,471.0 L160.3,471.0 L160.8,471.0 L161.3,471.0 L161.8,471.0 L162.3,471.0 L162.8,471.0 L163.3,471.0 L163.8,471.0 L164.3,471.0 L164.8,471.0 L165.3,471.0 L165.8,471.0 L166.3,471.0 L166.8,471.0 L167.3,471.0 L167.8,471.0 L168.3,471.0 L168.8,471.0 L169.3,471.0 L169.8,471.0 L170.3,471.0 L170.8,471.0 L171.3,471.0 L171.8,471.0 L172.3,470.9 L172.8,470.9 L173.3,470.9 L173.8,470.9 L174.3,470.9 L174.8,470.9 L175.3,470.9 L175.8,470.9 L176.3,470.9 L176.8,470.9 L177.3,470.9 L177.8,470.9 L178.3,470.9 L178.8,470.9 L179.3,470.9 L179.8,470.9 L180.3,470.9 L180.8,470.9 L181.3,470.9 L181.8,470.9 L182.3,470.9 L182.8,470.9 L183.3,470.9 L183.8,470.9 L184.3,470.9 L184.8,470.9 L185.3,470.9 L185.8,470.9 L186.3,470.9 L186.8,470.9 L187.3,470.9 L187.8,470.9 L188.3,470.9 L188.8,470.9 L189.3,470.8 L189.8,470.8 L190.3,470.8 L190.8,470.8 L191.3,470.8 L191.8,470.8 L192.3,470.8 L192.8,470.8 L193.3,470.8 L193.8,470.8 L194.3,470.8 L194.8,470.8 L195.3,470.8 L195.8,470.8 L196.3,470.8 L196.8,470.8 L197.3,470.8 L197.8,470.8 L198.3,470.8 L198.8,470.8 L199.3,470.8 L199.8,470.8 L200.3,470.8 L200.8,470.8 L201.3,470.8 L201.8,470.8 L202.3,470.8 L202.8,470.8 L203.3,470.7 L203.8,470.7 L204.3,470.7 L204.8,470.7 L205.3,470.7 L205.8,470.7 L206.3,470.7 L206.8,470.7 L207.3,470.7 L207.8,470.7 L208.3,470.7 L208.8,470.7 L209.3,470.7 L209.8,470.7 L210.3,470.7 L210.8,470.7 L211.3,470.7 L211.8,470.7 L212.3,470.7 L212.8,470.7 L213.3,470.7 L213.8,470.7 L214.3,470.7 L214.8,470.7 L215.3,470.6 L215.8,470.6 L216.3,470.6 L216.8,470.6 L217.3,470.6 L217.8,470.6 L218.3,470.6 L218.8,470.6 L219.3,470.6 L219.8,470.6 L220.3,470.6 L220.8,470.6 L221.3,470.6 L221.8,470.6 L222.3,470.6 L222.8,470.6 L223.3,470.6 L223.8,470.6 L224.3,470.6 L224.8,470.6 L225.3,470.5 L225.8,470.5 L226.3,470.5 L226.8,470.5 L227.3,470.5 L227.8,470.5 L228.3,470.5 L228.8,470.5 L229.3,470.5 L229.8,470.5 L230.3,470.5 L230.8,470.5 L231.3,470.5 L231.8,470.5 L232.3,470.5 L232.8,470.5 L233.3,470.5 L233.8,470.5 L234.3,470.4 L234.8,470.4 L235.3,470.4 L235.8,470.4 L236.3,470.4 L236.8,470.4 L237.3,470.4 L237.8,470.4 L238.3,470.4 L238.8,470.4 L239.3,470.4 L239.8,470.4 L240.3,470.4 L240.8,470.4 L241.3,470.4 L241.8,470.3 L242.3,470.3 L242.8,470.3 L243.3,470.3 L243.8,470.3 L244.3,470.3 L244.8,470.3 L245.3,470.3 L245.8,470.3 L246.3,470.3 L246.8,470.3 L247.3,470.3 L247.8,470.3 L248.3,470.3 L248.8,470.2 L249.3,470.2 L249.8,470.2 L250.3,470.2 L250.8,470.2 L251.3,470.2 L251.8,470.2 L252.3,470.2 L252.8,470.2 L253.3,470.2 L253.8,470.2 L254.3,470.2 L254.8,470.2 L255.3,470.1 L255.8,470.1 L256.3,470.1 L256.8,470.1 L257.3,470.1 L257.8,470.1 L258.3,470.1 L258.8,470.1 L259.3,470.1 L259.8,470.1 L260.3,470.1 L260.8,470.0 L261.3,470.0 L261.8,470.0 L262.3,470.0 L262.8,470.0 L263.3,470.0 L263.8,470.0 L264.3,470.0 L264.8,470.0 L265.3,470.0 L265.8,469.9 L266.3,469.9 L266.8,469.9 L267.3,469.9 L267.8,469.9 L268.3,469.9 L268.8,469.9 L269.3,469.9 L269.8,469.9 L270.3,469.9 L270.8,469.8 L271.3,469.8 L271.8,469.8 L272.3,469.8 L272.8,469.8 L273.3,469.8 L273.8,469.8 L274.3,469.8 L274.8,469.8 L275.3,469.7 L275.8,469.7 L276.3,469.7 L276.8,469.7 L277.3,469.7 L277.8,469.7 L278.3,469.7 L278.8,469.7 L279.3,469.6 L279.8,469.6 L280.3,469.6 L280.8,469.6 L281.3,469.6 L281.8,469.6 L282.3,469.6 L282.8,469.5 L283.3,469.5 L283.8,469.5 L284.3,469.5 L284.8,469.5 L285.3,469.5 L285.8,469.5 L286.3,469.4 L286.8,469.4 L287.3,469.4 L287.8,469.4 L288.3,469.4 L288.8,469.4 L289.3,469.4 L289.8,469.3 L290.3,469.3 L290.8,469.3 L291.3,469.3 L291.8,469.3 L292.3,469.3 L292.8,469.2 L293.3,469.2 L293.8,469.2 L294.3,469.2 L294.8,469.2 L295.3,469.1 L295.8,469.1 L296.3,469.1 L296.8,469.1 L297.3,469.1 L297.8,469.1 L298.3,469.0 L298.8,469.0 L299.3,469.0 L299.8,469.0 L300.3,469.0 L300.8,468.9 L301.3,468.9 L301.8,468.9 L302.3,468.9 L302.8,468.9 L303.3,468.8 L303.8,468.8 L304.3,468.8 L304.8,468.8 L305.3,468.7 L305.8,468.7 L306.3,468.7 L306.8,468.7 L307.3,468.7 L307.8,468.6 L308.3,468.6 L308.8,468.6 L309.3,468.6 L309.8,468.5 L310.3,468.5 L310.8,468.5 L311.3,468.5 L311.8,468.4 L312.3,468.4 L312.8,468.4 L313.3,468.3 L313.8,468.3 L314.3,468.3 L314.8,468.3 L315.3,468.2 L315.8,468.2 L316.3,468.2 L316.8,468.1 L317.3,468.1 L317.8,468.1 L318.3,468.1 L318.8,468.0 L319.3,468.0 L319.8,468.0 L320.3,467.9 L320.8,467.9 L321.3,467.9 L321.8,467.8 L322.3,467.8 L322.8,467.8 L323.3,467.7 L323.8,467.7 L324.3,467.7 L324.8,467.6 L325.3,467.6 L325.8,467.5 L326.3,467.5 L326.8,467.5 L327.3,467.4 L327.8,467.4 L328.3,467.3 L328.8,467.3 L329.3,467.3 L329.8,467.2 L330.3,467.2 L330.8,467.1 L331.3,467.1 L331.8,467.0 L332.3,467.0 L332.8,467.0 L333.3,466.9 L333.8,466.9 L334.3,466.8 L334.8,466.8 L335.3,466.7 L335.8,466.7 L336.3,466.6 L336.8,466.6 L337.3,466.5 L337.8,466.5 L338.3,466.4 L338.8,466.3 L339.3,466.3 L339.8,466.2 L340.3,466.2 L340.8,466.1 L341.3,466.0 L341.8,466.0 L342.3,465.9 L342.8,465.9 L343.3,465.8 L343.8,465.7 L344.3,465.7 L344.8,465.6 L345.3,465.5 L345.8,465.5 L346.3,465.4 L346.8,465.3 L347.3,465.2 L347.8,465.2 L348.3,465.1 L348.8,465.0 L349.3,464.9 L349.8,464.8 L350.3,464.8 L350.8,464.7 L351.3,464.6 L351.8,464.5 L352.3,464.4 L352.8,464.3 L353.3,464.2 L353.8,464.1 L354.3,464.0 L354.8,463.9 L355.3,463.8 L355.8,463.7 L356.3,463.6 L356.8,463.5 L357.3,463.4 L357.8,463.3 L358.3,463.2 L358.8,463.1 L359.3,462.9 L359.8,462.8 L360.3,462.7 L360.8,462.6 L361.3,462.4 L361.8,462.3 L362.3,462.2 L362.8,462.0 L363.3,461.9 L363.8,461.7 L364.3,461.6 L364.8,461.4 L365.3,461.3 L365.8,461.1 L366.3,460.9 L366.8,460.8 L367.3,460.6 L367.8,460.4 L368.3,460.2 L368.8,460.0 L369.3,459.9 L369.8,459.7 L370.3,459.5 L370.8,459.2 L371.3,459.0 L371.8,458.8 L372.3,458.6 L372.8,458.4 L373.3,458.1 L373.8,457.9 L374.3,457.6 L374.8,457.4 L375.3,457.1 L375.8,456.8 L376.3,456.5 L376.8,456.2 L377.3,455.9 L377.8,455.6 L378.3,455.3 L378.8,455.0 L379.3,454.6 L379.8,454.3 L380.3,453.9 L380.8,453.6 L381.3,453.2 L381.8,452.8 L382.3,452.4 L382.8,451.9 L383.3,451.5 L383.8,451.0 L384.3,450.5 L384.8,450.0 L385.3,449.5 L385.8,449.0 L386.3,448.5 L386.8,447.9 L387.3,447.3 L387.8,446.7 L388.3,446.0 L388.8,445.4 L389.3,444.7 L389.8,443.9 L390.3,443.2 L390.8,442.4 L391.3,441.6 L391.8,440.7 L392.3,439.8 L392.8,438.9 L393.3,437.9 L393.8,436.9 L394.3,435.8 L394.8,434.7 L395.3,433.5 L395.8,432.3 L396.3,431.0 L396.8,429.6 L397.3,428.2 L397.8,426.7 L398.3,425.1 L398.8,423.5 L399.3,421.7 L399.8,419.9 L400.3,417.9 L400.8,415.9 L401.3,413.7 L401.8,411.4 L402.3,409.0 L402.8,406.4 L403.3,403.7 L403.8,400.8 L404.3,397.8 L404.8,394.5 L405.3,391.1 L405.8,387.5 L406.3,383.6 L406.8,379.5 L407.3,375.2 L407.8,370.5 L408.3,365.6 L408.8,360.5 L409.3,355.0 L409.8,349.2 L410.3,343.1 L410.8,336.6 L411.3,329.8 L411.8,322.7 L412.3,315.3 L412.8,307.6 L413.3,299.6 L413.8,291.4 L414.3,283.0 L414.8,274.5 L415.3,266.1 L415.8,257.7 L416.3,249.6 L416.8,241.8 L417.3,234.5 L417.8,227.8 L418.3,222.0 L418.8,217.2 L419.3,213.4 L419.8,210.9 L420.3,209.6 L420.8,209.6 L421.3,210.9 L421.8,213.5 L422.3,217.2 L422.8,222.0 L423.3,227.7 L423.8,234.2 L424.3,241.3 L424.8,248.8 L425.3,256.7 L425.8,264.7 L426.3,272.9 L426.8,280.9 L427.3,288.9 L427.8,296.7 L428.3,304.2 L428.8,311.5 L429.3,318.4 L429.8,325.1 L430.3,331.4 L430.8,337.3 L431.3,342.9 L431.8,348.2 L432.3,353.2 L432.8,357.9 L433.3,362.2 L433.8,366.3 L434.3,370.1 L434.8,373.7 L435.3,377.0 L435.8,380.1 L436.3,383.0 L436.8,385.6 L437.3,388.1 L437.8,390.4 L438.3,392.5 L438.8,394.4 L439.3,396.2 L439.8,397.8 L440.3,399.3 L440.8,400.7 L441.3,401.9 L441.8,403.0 L442.3,404.0 L442.8,404.8 L443.3,405.6 L443.8,406.3 L444.3,406.8 L444.8,407.3 L445.3,407.6 L445.8,407.9 L446.3,408.0 L446.8,408.1 L447.3,408.0 L447.8,407.9 L448.3,407.7 L448.8,407.3 L449.3,406.9 L449.8,406.4 L450.3,405.8 L450.8,405.0 L451.3,404.2 L451.8,403.3 L452.3,402.2 L452.8,401.0 L453.3,399.7 L453.8,398.3 L454.3,396.7 L454.8,395.0 L455.3,393.2 L455.8,391.2 L456.3,389.0 L456.8,386.7 L457.3,384.1 L457.8,381.4 L458.3,378.5 L458.8,375.3 L459.3,372.0 L459.8,368.3 L460.3,364.5 L460.8,360.3 L461.3,355.9 L461.8,351.2 L462.3,346.1 L462.8,340.8 L463.3,335.1 L463.8,329.1 L464.3,322.7 L464.8,316.0 L465.3,309.0 L465.8,301.7 L466.3,294.0 L466.8,286.2 L467.3,278.1 L467.8,269.9 L468.3,261.7 L468.8,253.5 L469.3,245.4 L469.8,237.7 L470.3,230.3 L470.8,223.6 L471.3,217.6 L471.8,212.5 L472.3,208.5 L472.8,205.6 L473.3,203.9 L473.8,203.5 L474.3,204.4 L474.8,206.6 L475.3,210.0 L475.8,214.5 L476.3,220.0 L476.8,226.3 L477.3,233.4 L477.8,240.9 L478.3,248.8 L478.8,256.9 L479.3,265.2 L479.8,273.4 L480.3,281.6 L480.8,289.6 L481.3,297.4 L481.8,304.9 L482.3,312.1 L482.8,319.0 L483.3,325.6 L483.8,331.8 L484.3,337.7 L484.8,343.3 L485.3,348.5 L485.8,353.5 L486.3,358.1 L486.8,362.4 L487.3,366.5 L487.8,370.3 L488.3,373.8 L488.8,377.1 L489.3,380.2 L489.8,383.1 L490.3,385.7 L490.8,388.2 L491.3,390.5 L491.8,392.7 L492.3,394.6 L492.8,396.5 L493.3,398.1 L493.8,399.7 L494.3,401.1 L494.8,402.4 L495.3,403.5 L495.8,404.6 L496.3,405.5 L496.8,406.4 L497.3,407.1 L497.8,407.7 L498.3,408.3 L498.8,408.7 L499.3,409.1 L499.8,409.3 L500.3,409.5 L500.8,409.6 L501.3,409.6 L501.8,409.4 L502.3,409.2 L502.8,408.9 L503.3,408.6 L503.8,408.1 L504.3,407.5 L504.8,406.8 L505.3,406.0 L505.8,405.1 L506.3,404.1 L506.8,403.0 L507.3,401.8 L507.8,400.4 L508.3,398.9 L508.8,397.2 L509.3,395.5 L509.8,393.5 L510.3,391.4 L510.8,389.1 L511.3,386.7 L511.8,384.0 L512.3,381.2 L512.8,378.1 L513.3,374.8 L513.8,371.3 L514.3,367.5 L514.8,363.5 L515.3,359.1 L515.8,354.5 L516.3,349.6 L516.8,344.3 L517.3,338.7 L517.8,332.8 L518.3,326.6 L518.8,320.0 L519.3,313.1 L519.8,305.8 L520.3,298.3 L520.8,290.6 L521.3,282.6 L521.8,274.6 L522.3,266.4 L522.8,258.3 L523.3,250.4 L523.8,242.8 L524.3,235.6 L524.8,229.0 L525.3,223.1 L525.8,218.2 L526.3,214.3 L526.8,211.5 L527.3,210.0 L527.8,209.7 L528.3,210.8 L528.8,213.1 L529.3,216.7 L529.8,221.4 L530.3,227.0 L530.8,233.5 L531.3,240.7 L531.8,248.4 L532.3,256.5 L532.8,264.8 L533.3,273.3 L533.8,281.8 L534.3,290.1 L534.8,298.4 L535.3,306.4 L535.8,314.2 L536.3,321.6 L536.8,328.8 L537.3,335.6 L537.8,342.1 L538.3,348.3 L538.8,354.2 L539.3,359.7 L539.8,364.9 L540.3,369.9 L540.8,374.5 L541.3,378.9 L541.8,383.0 L542.3,386.9 L542.8,390.6 L543.3,394.1 L543.8,397.3 L544.3,400.4 L544.8,403.3 L545.3,406.1 L545.8,408.7 L546.3,411.1 L546.8,413.4 L547.3,415.6 L547.8,417.7 L548.3,419.7 L548.8,421.5 L549.3,423.3 L549.8,425.0 L550.3,426.5 L550.8,428.1 L551.3,429.5 L551.8,430.9 L552.3,432.2 L552.8,433.4 L553.3,434.6 L553.8,435.7 L554.3,436.8 L554.8,437.8 L555.3,438.8 L555.8,439.7 L556.3,440.6 L556.8,441.5 L557.3,442.3 L557.8,443.1 L558.3,443.9 L558.8,444.6 L559.3,445.3 L559.8,446.0 L560.3,446.6 L560.8,447.2 L561.3,447.8 L561.8,448.4 L562.3,449.0 L562.8,449.5 L563.3,450.0 L563.8,450.5 L564.3,451.0 L564.8,451.5 L565.3,451.9 L565.8,452.3 L566.3,452.7 L566.8,453.1 L567.3,453.5 L567.8,453.9 L568.3,454.3 L568.8,454.6 L569.3,455.0 L569.8,455.3 L570.3,455.6 L570.8,455.9 L571.3,456.2 L571.8,456.5 L572.3,456.8 L572.8,457.1 L573.3,457.4 L573.8,457.6 L574.3,457.9 L574.8,458.1 L575.3,458.4 L575.8,458.6 L576.3,458.8 L576.8,459.0 L577.3,459.2 L577.8,459.5 L578.3,459.7 L578.8,459.9 L579.3,460.0 L579.8,460.2 L580.3,460.4 L580.8,460.6 L581.3,460.8 L581.8,460.9 L582.3,461.1 L582.8,461.3 L583.3,461.4 L583.8,461.6 L584.3,461.7 L584.8,461.9 L585.3,462.0 L585.8,462.2 L586.3,462.3 L586.8,462.4 L587.3,462.6 L587.8,462.7 L588.3,462.8 L588.8,462.9 L589.3,463.1 L589.8,463.2 L590.3,463.3 L590.8,463.4 L591.3,463.5 L591.8,463.6 L592.3,463.7 L592.8,463.8 L593.3,463.9 L593.8,464.0 L594.3,464.1 L594.8,464.2 L595.3,464.3 L595.8,464.4 L596.3,464.5 L596.8,464.6 L597.3,464.7 L597.8,464.8 L598.3,464.8 L598.8,464.9 L599.3,465.0 L599.8,465.1 L600.3,465.2 L600.8,465.2 L601.3,465.3 L601.8,465.4 L602.3,465.5 L602.8,465.5 L603.3,465.6 L603.8,465.7 L604.3,465.7 L604.8,465.8 L605.3,465.9 L605.8,465.9 L606.3,466.0 L606.8,466.1 L607.3,466.1 L607.8,466.2 L608.3,466.2 L608.8,466.3 L609.3,466.3 L609.8,466.4 L610.3,466.5 L610.8,466.5 L611.3,466.6 L611.8,466.6 L612.3,466.7 L612.8,466.7 L613.3,466.8 L613.8,466.8 L614.3,466.9 L614.8,466.9 L615.3,467.0 L615.8,467.0 L616.3,467.1 L616.8,467.1 L617.3,467.1 L617.8,467.2 L618.3,467.2 L618.8,467.3 L619.3,467.3 L619.8,467.4 L620.3,467.4 L620.8,467.4 L621.3,467.5 L621.8,467.5 L622.3,467.5 L622.8,467.6 L623.3,467.6 L623.8,467.7 L624.3,467.7 L624.8,467.7 L625.3,467.8 L625.8,467.8 L626.3,467.8 L626.8,467.9 L627.3,467.9 L627.8,467.9 L628.3,468.0 L628.8,468.0 L629.3,468.0 L629.8,468.1 L630.3,468.1 L630.8,468.1 L631.3,468.2 L631.8,468.2 L632.3,468.2 L632.8,468.2 L633.3,468.3 L633.8,468.3 L634.3,468.3 L634.8,468.4 L635.3,468.4 L635.8,468.4 L636.3,468.4 L636.8,468.5 L637.3,468.5 L637.8,468.5 L638.3,468.5 L638.8,468.6 L639.3,468.6 L639.8,468.6 L640.3,468.6 L640.8,468.7 L641.3,468.7 L641.8,468.7 L642.3,468.7 L642.8,468.7 L643.3,468.8 L643.8,468.8 L644.3,468.8 L644.8,468.8 L645.3,468.9 L645.8,468.9 L646.3,468.9 L646.8,468.9 L647.3,468.9 L647.8,469.0 L648.3,469.0 L648.8,469.0 L649.3,469.0 L649.8,469.0 L650.3,469.1 L650.8,469.1 L651.3,469.1 L651.8,469.1 L652.3,469.1 L652.8,469.2 L653.3,469.2 L653.8,469.2 L654.3,469.2 L654.8,469.2 L655.3,469.2 L655.8,469.3 L656.3,469.3 L656.8,469.3 L657.3,469.3 L657.8,469.3 L658.3,469.3 L658.8,469.4 L659.3,469.4 L659.8,469.4 L660.3,469.4 L660.8,469.4 L661.3,469.4 L661.8,469.4 L662.3,469.5 L662.8,469.5 L663.3,469.5 L663.8,469.5 L664.3,469.5 L664.8,469.5 L665.3,469.5 L665.8,469.6 L666.3,469.6 L666.8,469.6 L667.3,469.6 L667.8,469.6 L668.3,469.6 L668.8,469.6 L669.3,469.7 L669.8,469.7 L670.3,469.7 L670.8,469.7 L671.3,469.7 L671.8,469.7 L672.3,469.7 L672.8,469.7 L673.3,469.8 L673.8,469.8 L674.3,469.8 L674.8,469.8 L675.3,469.8 L675.8,469.8 L676.3,469.8 L676.8,469.8 L677.3,469.8 L677.8,469.9 L678.3,469.9 L678.8,469.9 L679.3,469.9 L679.8,469.9 L680.3,469.9 L680.8,469.9 L681.3,469.9 L681.8,469.9 L682.3,470.0 L682.8,470.0 L683.3,470.0 L683.8,470.0 L684.3,470.0 L684.8,470.0 L685.3,470.0 L685.8,470.0 L686.3,470.0 L686.8,470.0 L687.3,470.0 L687.8,470.1 L688.3,470.1 L688.8,470.1 L689.3,470.1 L689.8,470.1 L690.3,470.1 L690.8,470.1 L691.3,470.1 L691.8,470.1 L692.3,470.1 L692.8,470.1 L693.3,470.2 L693.8,470.2 L694.3,470.2 L694.8,470.2 L695.3,470.2 L695.8,470.2 L696.3,470.2 L696.8,470.2 L697.3,470.2 L697.8,470.2 L698.3,470.2 L698.8,470.2 L699.3,470.2 L699.8,470.3 L700.3,470.3 L700.8,470.3 L701.3,470.3 L701.8,470.3 L702.3,470.3 L702.8,470.3 L703.3,470.3 L703.8,470.3 L704.3,470.3 L704.8,470.3 L705.3,470.3 L705.8,470.3 L706.3,470.4 L706.8,470.4 L707.3,470.4 L707.8,470.4 L708.3,470.4 L708.8,470.4 L709.3,470.4 L709.8,470.4 L710.3,470.4 L710.8,470.4 L711.3,470.4 L711.8,470.4 L712.3,470.4 L712.8,470.4 L713.3,470.4 L713.8,470.4 L714.3,470.5 L714.8,470.5 L715.3,470.5 L715.8,470.5 L716.3,470.5 L716.8,470.5 L717.3,470.5 L717.8,470.5 L718.3,470.5 L718.8,470.5 L719.3,470.5 L719.8,470.5 L720.3,470.5 L720.8,470.5 L721.3,470.5 L721.8,470.5 L722.3,470.5 L722.8,470.5 L723.3,470.6 L723.8,470.6 L724.3,470.6 L724.8,470.6 L725.3,470.6 L725.8,470.6 L726.3,470.6 L726.8,470.6 L727.3,470.6 L727.8,470.6 L728.3,470.6" fill="none" stroke="#92D050" stroke-width="5" stroke-linecap="butt" stroke-linejoin="round"/>
<path d="M4.8,471.4 L5.3,471.4 L5.8,471.4 L6.3,471.4 L6.8,471.4 L7.3,471.4 L7.8,471.4 L8.3,471.4 L8.8,471.4 L9.3,471.4 L9.8,471.4 L10.3,471.4 L10.8,471.4 L11.3,471.4 L11.8,471.4 L12.3,471.4 L12.8,471.4 L13.3,471.4 L13.8,471.4 L14.3,471.4 L14.8,471.4 L15.3,471.4 L15.8,471.4 L16.3,471.4 L16.8,471.4 L17.3,471.4 L17.8,471.4 L18.3,471.4 L18.8,471.4 L19.3,471.4 L19.8,471.4 L20.3,471.4 L20.8,471.4 L21.3,471.4 L21.8,471.4 L22.3,471.4 L22.8,471.4 L23.3,471.4 L23.8,471.4 L24.3,471.4 L24.8,471.4 L25.3,471.4 L25.8,471.4 L26.3,471.4 L26.8,471.4 L27.3,471.4 L27.8,471.4 L28.3,471.4 L28.8,471.4 L29.3,471.4 L29.8,471.4 L30.3,471.4 L30.8,471.4 L31.3,471.4 L31.8,471.4 L32.3,471.4 L32.8,471.4 L33.3,471.4 L33.8,471.4 L34.3,471.4 L34.8,471.4 L35.3,471.4 L35.8,471.4 L36.3,471.4 L36.8,471.4 L37.3,471.4 L37.8,471.4 L38.3,471.4 L38.8,471.4 L39.3,471.4 L39.8,471.4 L40.3,471.4 L40.8,471.4 L41.3,471.4 L41.8,471.4 L42.3,471.4 L42.8,471.4 L43.3,471.4 L43.8,471.4 L44.3,471.4 L44.8,471.4 L45.3,471.4 L45.8,471.4 L46.3,471.4 L46.8,471.4 L47.3,471.4 L47.8,471.4 L48.3,471.4 L48.8,471.4 L49.3,471.4 L49.8,471.4 L50.3,471.4 L50.8,471.4 L51.3,471.4 L51.8,471.4 L52.3,471.4 L52.8,471.4 L53.3,471.4 L53.8,471.4 L54.3,471.4 L54.8,471.4 L55.3,471.4 L55.8,471.4 L56.3,471.4 L56.8,471.4 L57.3,471.4 L57.8,471.4 L58.3,471.4 L58.8,471.4 L59.3,471.4 L59.8,471.4 L60.3,471.4 L60.8,471.4 L61.3,471.4 L61.8,471.4 L62.3,471.4 L62.8,471.4 L63.3,471.4 L63.8,471.4 L64.3,471.4 L64.8,471.4 L65.3,471.4 L65.8,471.4 L66.3,471.4 L66.8,471.4 L67.3,471.4 L67.8,471.4 L68.3,471.4 L68.8,471.4 L69.3,471.4 L69.8,471.4 L70.3,471.4 L70.8,471.4 L71.3,471.4 L71.8,471.4 L72.3,471.4 L72.8,471.4 L73.3,471.4 L73.8,471.4 L74.3,471.4 L74.8,471.4 L75.3,471.4 L75.8,471.4 L76.3,471.4 L76.8,471.4 L77.3,471.4 L77.8,471.4 L78.3,471.4 L78.8,471.4 L79.3,471.4 L79.8,471.4 L80.3,471.4 L80.8,471.4 L81.3,471.4 L81.8,471.4 L82.3,471.4 L82.8,471.4 L83.3,471.4 L83.8,471.4 L84.3,471.4 L84.8,471.4 L85.3,471.4 L85.8,471.4 L86.3,471.4 L86.8,471.4 L87.3,471.4 L87.8,471.4 L88.3,471.4 L88.8,471.4 L89.3,471.4 L89.8,471.4 L90.3,471.4 L90.8,471.4 L91.3,471.4 L91.8,471.4 L92.3,471.4 L92.8,471.4 L93.3,471.4 L93.8,471.4 L94.3,471.4 L94.8,471.4 L95.3,471.4 L95.8,471.4 L96.3,471.4 L96.8,471.4 L97.3,471.4 L97.8,471.4 L98.3,471.4 L98.8,471.4 L99.3,471.4 L99.8,471.4 L100.3,471.4 L100.8,471.4 L101.3,471.4 L101.8,471.4 L102.3,471.4 L102.8,471.4 L103.3,471.4 L103.8,471.4 L104.3,471.4 L104.8,471.4 L105.3,471.4 L105.8,471.4 L106.3,471.4 L106.8,471.4 L107.3,471.4 L107.8,471.4 L108.3,471.4 L108.8,471.4 L109.3,471.4 L109.8,471.4 L110.3,471.4 L110.8,471.4 L111.3,471.4 L111.8,471.4 L112.3,471.4 L112.8,471.4 L113.3,471.4 L113.8,471.4 L114.3,471.4 L114.8,471.4 L115.3,471.4 L115.8,471.4 L116.3,471.4 L116.8,471.4 L117.3,471.4 L117.8,471.4 L118.3,471.4 L118.8,471.4 L119.3,471.4 L119.8,471.4 L120.3,471.4 L120.8,471.4 L121.3,471.4 L121.8,471.4 L122.3,471.4 L122.8,471.4 L123.3,471.4 L123.8,471.4 L124.3,471.4 L124.8,471.4 L125.3,471.4 L125.8,471.4 L126.3,471.4 L126.8,471.4 L127.3,471.4 L127.8,471.4 L128.3,471.4 L128.8,471.4 L129.3,471.4 L129.8,471.4 L130.3,471.4 L130.8,471.4 L131.3,471.4 L131.8,471.4 L132.3,471.4 L132.8,471.4 L133.3,471.4 L133.8,471.4 L134.3,471.4 L134.8,471.4 L135.3,471.4 L135.8,471.4 L136.3,471.4 L136.8,471.4 L137.3,471.4 L137.8,471.4 L138.3,471.4 L138.8,471.4 L139.3,471.4 L139.8,471.4 L140.3,471.4 L140.8,471.4 L141.3,471.4 L141.8,471.4 L142.3,471.4 L142.8,471.4 L143.3,471.4 L143.8,471.4 L144.3,471.4 L144.8,471.4 L145.3,471.4 L145.8,471.4 L146.3,471.3 L146.8,471.3 L147.3,471.3 L147.8,471.3 L148.3,471.3 L148.8,471.3 L149.3,471.3 L149.8,471.3 L150.3,471.3 L150.8,471.3 L151.3,471.3 L151.8,471.3 L152.3,471.3 L152.8,471.3 L153.3,471.3 L153.8,471.3 L154.3,471.3 L154.8,471.3 L155.3,471.3 L155.8,471.3 L156.3,471.3 L156.8,471.3 L157.3,471.3 L157.8,471.3 L158.3,471.3 L158.8,471.3 L159.3,471.3 L159.8,471.3 L160.3,471.3 L160.8,471.3 L161.3,471.3 L161.8,471.3 L162.3,471.3 L162.8,471.3 L163.3,471.3 L163.8,471.3 L164.3,471.3 L164.8,471.3 L165.3,471.3 L165.8,471.3 L166.3,471.3 L166.8,471.3 L167.3,471.3 L167.8,471.3 L168.3,471.3 L168.8,471.3 L169.3,471.3 L169.8,471.3 L170.3,471.3 L170.8,471.3 L171.3,471.3 L171.8,471.3 L172.3,471.3 L172.8,471.3 L173.3,471.3 L173.8,471.3 L174.3,471.3 L174.8,471.3 L175.3,471.3 L175.8,471.3 L176.3,471.3 L176.8,471.3 L177.3,471.3 L177.8,471.3 L178.3,471.3 L178.8,471.3 L179.3,471.3 L179.8,471.3 L180.3,471.3 L180.8,471.3 L181.3,471.3 L181.8,471.3 L182.3,471.3 L182.8,471.3 L183.3,471.3 L183.8,471.3 L184.3,471.3 L184.8,471.3 L185.3,471.3 L185.8,471.3 L186.3,471.3 L186.8,471.3 L187.3,471.3 L187.8,471.3 L188.3,471.3 L188.8,471.3 L189.3,471.3 L189.8,471.3 L190.3,471.3 L190.8,471.3 L191.3,471.3 L191.8,471.3 L192.3,471.3 L192.8,471.3 L193.3,471.3 L193.8,471.3 L194.3,471.3 L194.8,471.3 L195.3,471.3 L195.8,471.3 L196.3,471.3 L196.8,471.3 L197.3,471.3 L197.8,471.3 L198.3,471.3 L198.8,471.3 L199.3,471.3 L199.8,471.3 L200.3,471.3 L200.8,471.3 L201.3,471.3 L201.8,471.3 L202.3,471.3 L202.8,471.3 L203.3,471.3 L203.8,471.3 L204.3,471.3 L204.8,471.3 L205.3,471.3 L205.8,471.3 L206.3,471.2 L206.8,471.2 L207.3,471.2 L207.8,471.2 L208.3,471.2 L208.8,471.2 L209.3,471.2 L209.8,471.2 L210.3,471.2 L210.8,471.2 L211.3,471.2 L211.8,471.2 L212.3,471.2 L212.8,471.2 L213.3,471.2 L213.8,471.2 L214.3,471.2 L214.8,471.2 L215.3,471.2 L215.8,471.2 L216.3,471.2 L216.8,471.2 L217.3,471.2 L217.8,471.2 L218.3,471.2 L218.8,471.2 L219.3,471.2 L219.8,471.2 L220.3,471.2 L220.8,471.2 L221.3,471.2 L221.8,471.2 L222.3,471.2 L222.8,471.2 L223.3,471.2 L223.8,471.2 L224.3,471.2 L224.8,471.2 L225.3,471.2 L225.8,471.2 L226.3,471.2 L226.8,471.2 L227.3,471.2 L227.8,471.2 L228.3,471.2 L228.8,471.2 L229.3,471.2 L229.8,471.2 L230.3,471.2 L230.8,471.2 L231.3,471.2 L231.8,471.2 L232.3,471.2 L232.8,471.2 L233.3,471.2 L233.8,471.2 L234.3,471.2 L234.8,471.2 L235.3,471.2 L235.8,471.2 L236.3,471.2 L236.8,471.2 L237.3,471.2 L237.8,471.2 L238.3,471.2 L238.8,471.2 L239.3,471.2 L239.8,471.2 L240.3,471.2 L240.8,471.2 L241.3,471.2 L241.8,471.2 L242.3,471.1 L242.8,471.1 L243.3,471.1 L243.8,471.1 L244.3,471.1 L244.8,471.1 L245.3,471.1 L245.8,471.1 L246.3,471.1 L246.8,471.1 L247.3,471.1 L247.8,471.1 L248.3,471.1 L248.8,471.1 L249.3,471.1 L249.8,471.1 L250.3,471.1 L250.8,471.1 L251.3,471.1 L251.8,471.1 L252.3,471.1 L252.8,471.1 L253.3,471.1 L253.8,471.1 L254.3,471.1 L254.8,471.1 L255.3,471.1 L255.8,471.1 L256.3,471.1 L256.8,471.1 L257.3,471.1 L257.8,471.1 L258.3,471.1 L258.8,471.1 L259.3,471.1 L259.8,471.1 L260.3,471.1 L260.8,471.1 L261.3,471.1 L261.8,471.1 L262.3,471.1 L262.8,471.1 L263.3,471.1 L263.8,471.1 L264.3,471.1 L264.8,471.1 L265.3,471.1 L265.8,471.1 L266.3,471.1 L266.8,471.1 L267.3,471.1 L267.8,471.0 L268.3,471.0 L268.8,471.0 L269.3,471.0 L269.8,471.0 L270.3,471.0 L270.8,471.0 L271.3,471.0 L271.8,471.0 L272.3,471.0 L272.8,471.0 L273.3,471.0 L273.8,471.0 L274.3,471.0 L274.8,471.0 L275.3,471.0 L275.8,471.0 L276.3,471.0 L276.8,471.0 L277.3,471.0 L277.8,471.0 L278.3,471.0 L278.8,471.0 L279.3,471.0 L279.8,471.0 L280.3,471.0 L280.8,471.0 L281.3,471.0 L281.8,471.0 L282.3,471.0 L282.8,471.0 L283.3,471.0 L283.8,471.0 L284.3,471.0 L284.8,471.0 L285.3,471.0 L285.8,471.0 L286.3,470.9 L286.8,470.9 L287.3,470.9 L287.8,470.9 L288.3,470.9 L288.8,470.9 L289.3,470.9 L289.8,470.9 L290.3,470.9 L290.8,470.9 L291.3,470.9 L291.8,470.9 L292.3,470.9 L292.8,470.9 L293.3,470.9 L293.8,470.9 L294.3,470.9 L294.8,470.9 L295.3,470.9 L295.8,470.9 L296.3,470.9 L296.8,470.9 L297.3,470.9 L297.8,470.9 L298.3,470.9 L298.8,470.9 L299.3,470.9 L299.8,470.9 L300.3,470.9 L300.8,470.9 L301.3,470.8 L301.8,470.8 L302.3,470.8 L302.8,470.8 L303.3,470.8 L303.8,470.8 L304.3,470.8 L304.8,470.8 L305.3,470.8 L305.8,470.8 L306.3,470.8 L306.8,470.8 L307.3,470.8 L307.8,470.8 L308.3,470.8 L308.8,470.8 L309.3,470.8 L309.8,470.8 L310.3,470.8 L310.8,470.8 L311.3,470.8 L311.8,470.8 L312.3,470.8 L312.8,470.8 L313.3,470.8 L313.8,470.7 L314.3,470.7 L314.8,470.7 L315.3,470.7 L315.8,470.7 L316.3,470.7 L316.8,470.7 L317.3,470.7 L317.8,470.7 L318.3,470.7 L318.8,470.7 L319.3,470.7 L319.8,470.7 L320.3,470.7 L320.8,470.7 L321.3,470.7 L321.8,470.7 L322.3,470.7 L322.8,470.7 L323.3,470.7 L323.8,470.7 L324.3,470.6 L324.8,470.6 L325.3,470.6 L325.8,470.6 L326.3,470.6 L326.8,470.6 L327.3,470.6 L327.8,470.6 L328.3,470.6 L328.8,470.6 L329.3,470.6 L329.8,470.6 L330.3,470.6 L330.8,470.6 L331.3,470.6 L331.8,470.6 L332.3,470.6 L332.8,470.5 L333.3,470.5 L333.8,470.5 L334.3,470.5 L334.8,470.5 L335.3,470.5 L335.8,470.5 L336.3,470.5 L336.8,470.5 L337.3,470.5 L337.8,470.5 L338.3,470.5 L338.8,470.5 L339.3,470.5 L339.8,470.5 L340.3,470.5 L340.8,470.4 L341.3,470.4 L341.8,470.4 L342.3,470.4 L342.8,470.4 L343.3,470.4 L343.8,470.4 L344.3,470.4 L344.8,470.4 L345.3,470.4 L345.8,470.4 L346.3,470.4 L346.8,470.4 L347.3,470.3 L347.8,470.3 L348.3,470.3 L348.8,470.3 L349.3,470.3 L349.8,470.3 L350.3,470.3 L350.8,470.3 L351.3,470.3 L351.8,470.3 L352.3,470.3 L352.8,470.3 L353.3,470.3 L353.8,470.2 L354.3,470.2 L354.8,470.2 L355.3,470.2 L355.8,470.2 L356.3,470.2 L356.8,470.2 L357.3,470.2 L357.8,470.2 L358.3,470.2 L358.8,470.2 L359.3,470.1 L359.8,470.1 L360.3,470.1 L360.8,470.1 L361.3,470.1 L361.8,470.1 L362.3,470.1 L362.8,470.1 L363.3,470.1 L363.8,470.1 L364.3,470.0 L364.8,470.0 L365.3,470.0 L365.8,470.0 L366.3,470.0 L366.8,470.0 L367.3,470.0 L367.8,470.0 L368.3,470.0 L368.8,469.9 L369.3,469.9 L369.8,469.9 L370.3,469.9 L370.8,469.9 L371.3,469.9 L371.8,469.9 L372.3,469.9 L372.8,469.8 L373.3,469.8 L373.8,469.8 L374.3,469.8 L374.8,469.8 L375.3,469.8 L375.8,469.8 L376.3,469.7 L376.8,469.7 L377.3,469.7 L377.8,469.7 L378.3,469.7 L378.8,469.7 L379.3,469.7 L379.8,469.6 L380.3,469.6 L380.8,469.6 L381.3,469.6 L381.8,469.6 L382.3,469.6 L382.8,469.6 L383.3,469.5 L383.8,469.5 L384.3,469.5 L384.8,469.5 L385.3,469.5 L385.8,469.5 L386.3,469.4 L386.8,469.4 L387.3,469.4 L387.8,469.4 L388.3,469.4 L388.8,469.4 L389.3,469.3 L389.8,469.3 L390.3,469.3 L390.8,469.3 L391.3,469.3 L391.8,469.2 L392.3,469.2 L392.8,469.2 L393.3,469.2 L393.8,469.2 L394.3,469.1 L394.8,469.1 L395.3,469.1 L395.8,469.1 L396.3,469.1 L396.8,469.0 L397.3,469.0 L397.8,469.0 L398.3,469.0 L398.8,468.9 L399.3,468.9 L399.8,468.9 L400.3,468.9 L400.8,468.9 L401.3,468.8 L401.8,468.8 L402.3,468.8 L402.8,468.8 L403.3,468.7 L403.8,468.7 L404.3,468.7 L404.8,468.6 L405.3,468.6 L405.8,468.6 L406.3,468.6 L406.8,468.5 L407.3,468.5 L407.8,468.5 L408.3,468.4 L408.8,468.4 L409.3,468.4 L409.8,468.4 L410.3,468.3 L410.8,468.3 L411.3,468.3 L411.8,468.2 L412.3,468.2 L412.8,468.2 L413.3,468.1 L413.8,468.1 L414.3,468.1 L414.8,468.0 L415.3,468.0 L415.8,467.9 L416.3,467.9 L416.8,467.9 L417.3,467.8 L417.8,467.8 L418.3,467.8 L418.8,467.7 L419.3,467.7 L419.8,467.6 L420.3,467.6 L420.8,467.5 L421.3,467.5 L421.8,467.5 L422.3,467.4 L422.8,467.4 L423.3,467.3 L423.8,467.3 L424.3,467.2 L424.8,467.2 L425.3,467.1 L425.8,467.1 L426.3,467.0 L426.8,467.0 L427.3,466.9 L427.8,466.9 L428.3,466.8 L428.8,466.7 L429.3,466.7 L429.8,466.6 L430.3,466.6 L430.8,466.5 L431.3,466.4 L431.8,466.4 L432.3,466.3 L432.8,466.3 L433.3,466.2 L433.8,466.1 L434.3,466.1 L434.8,466.0 L435.3,465.9 L435.8,465.8 L436.3,465.8 L436.8,465.7 L437.3,465.6 L437.8,465.5 L438.3,465.4 L438.8,465.4 L439.3,465.3 L439.8,465.2 L440.3,465.1 L440.8,465.0 L441.3,464.9 L441.8,464.8 L442.3,464.7 L442.8,464.6 L443.3,464.5 L443.8,464.4 L444.3,464.3 L444.8,464.2 L445.3,464.1 L445.8,464.0 L446.3,463.9 L446.8,463.8 L447.3,463.6 L447.8,463.5 L448.3,463.4 L448.8,463.3 L449.3,463.1 L449.8,463.0 L450.3,462.9 L450.8,462.7 L451.3,462.6 L451.8,462.4 L452.3,462.3 L452.8,462.1 L453.3,461.9 L453.8,461.8 L454.3,461.6 L454.8,461.4 L455.3,461.2 L455.8,461.1 L456.3,460.9 L456.8,460.7 L457.3,460.5 L457.8,460.3 L458.3,460.0 L458.8,459.8 L459.3,459.6 L459.8,459.4 L460.3,459.1 L460.8,458.9 L461.3,458.6 L461.8,458.3 L462.3,458.1 L462.8,457.8 L463.3,457.5 L463.8,457.2 L464.3,456.9 L464.8,456.5 L465.3,456.2 L465.8,455.9 L466.3,455.5 L466.8,455.1 L467.3,454.7 L467.8,454.3 L468.3,453.9 L468.8,453.5 L469.3,453.1 L469.8,452.6 L470.3,452.1 L470.8,451.6 L471.3,451.1 L471.8,450.5 L472.3,450.0 L472.8,449.4 L473.3,448.8 L473.8,448.1 L474.3,447.4 L474.8,446.7 L475.3,446.0 L475.8,445.2 L476.3,444.4 L476.8,443.6 L477.3,442.7 L477.8,441.8 L478.3,440.8 L478.8,439.8 L479.3,438.7 L479.8,437.6 L480.3,436.4 L480.8,435.1 L481.3,433.8 L481.8,432.4 L482.3,430.9 L482.8,429.4 L483.3,427.7 L483.8,426.0 L484.3,424.1 L484.8,422.2 L485.3,420.1 L485.8,417.9 L486.3,415.5 L486.8,413.0 L487.3,410.3 L487.8,407.4 L488.3,404.4 L488.8,401.1 L489.3,397.7 L489.8,393.9 L490.3,389.9 L490.8,385.7 L491.3,381.1 L491.8,376.2 L492.3,370.9 L492.8,365.3 L493.3,359.3 L493.8,352.8 L494.3,345.9 L494.8,338.6 L495.3,330.8 L495.8,322.5 L496.3,313.7 L496.8,304.4 L497.3,294.7 L497.8,284.6 L498.3,274.3 L498.8,263.7 L499.3,253.0 L499.8,242.4 L500.3,232.1 L500.8,222.3 L501.3,213.3 L501.8,205.4 L502.3,198.7 L502.8,193.6 L503.3,190.2 L503.8,188.6 L504.3,189.0 L504.8,191.2 L505.3,195.3 L505.8,201.0 L506.3,208.1 L506.8,216.3 L507.3,225.5 L507.8,235.3 L508.3,245.5 L508.8,255.9 L509.3,266.2 L509.8,276.4 L510.3,286.4 L510.8,296.0 L511.3,305.2 L511.8,313.9 L512.3,322.1 L512.8,329.9 L513.3,337.1 L513.8,343.9 L514.3,350.3 L514.8,356.2 L515.3,361.6 L515.8,366.7 L516.3,371.4 L516.8,375.8 L517.3,379.9 L517.8,383.6 L518.3,387.1 L518.8,390.3 L519.3,393.3 L519.8,396.0 L520.3,398.5 L520.8,400.9 L521.3,403.0 L521.8,405.0 L522.3,406.8 L522.8,408.5 L523.3,410.0 L523.8,411.4 L524.3,412.6 L524.8,413.8 L525.3,414.8 L525.8,415.7 L526.3,416.5 L526.8,417.2 L527.3,417.9 L527.8,418.4 L528.3,418.8 L528.8,419.2 L529.3,419.4 L529.8,419.6 L530.3,419.7 L530.8,419.7 L531.3,419.7 L531.8,419.5 L532.3,419.3 L532.8,419.0 L533.3,418.6 L533.8,418.1 L534.3,417.5 L534.8,416.8 L535.3,416.0 L535.8,415.2 L536.3,414.2 L536.8,413.1 L537.3,411.9 L537.8,410.6 L538.3,409.2 L538.8,407.6 L539.3,405.9 L539.8,404.1 L540.3,402.1 L540.8,399.9 L541.3,397.5 L541.8,394.9 L542.3,392.2 L542.8,389.2 L543.3,386.0 L543.8,382.5 L544.3,378.7 L544.8,374.6 L545.3,370.2 L545.8,365.5 L546.3,360.4 L546.8,354.9 L547.3,349.0 L547.8,342.7 L548.3,335.9 L548.8,328.7 L549.3,321.0 L549.8,312.7 L550.3,304.0 L550.8,294.8 L551.3,285.2 L551.8,275.3 L552.3,265.0 L552.8,254.5 L553.3,244.0 L553.8,233.7 L554.3,223.6 L554.8,214.2 L555.3,205.6 L555.8,198.1 L556.3,191.9 L556.8,187.4 L557.3,184.6 L557.8,183.6 L558.3,184.6 L558.8,187.5 L559.3,192.1 L559.8,198.2 L560.3,205.8 L560.8,214.4 L561.3,223.9 L561.8,233.9 L562.3,244.3 L562.8,254.8 L563.3,265.2 L563.8,275.5 L564.3,285.5 L564.8,295.1 L565.3,304.2 L565.8,312.9 L566.3,321.1 L566.8,328.9 L567.3,336.1 L567.8,342.9 L568.3,349.2 L568.8,355.1 L569.3,360.5 L569.8,365.6 L570.3,370.3 L570.8,374.7 L571.3,378.8 L571.8,382.5 L572.3,386.0 L572.8,389.3 L573.3,392.2 L573.8,395.0 L574.3,397.6 L574.8,399.9 L575.3,402.1 L575.8,404.1 L576.3,406.0 L576.8,407.7 L577.3,409.2 L577.8,410.7 L578.3,412.0 L578.8,413.2 L579.3,414.2 L579.8,415.2 L580.3,416.1 L580.8,416.8 L581.3,417.5 L581.8,418.1 L582.3,418.6 L582.8,419.0 L583.3,419.3 L583.8,419.5 L584.3,419.7 L584.8,419.7 L585.3,419.7 L585.8,419.6 L586.3,419.4 L586.8,419.2 L587.3,418.8 L587.8,418.4 L588.3,417.8 L588.8,417.2 L589.3,416.5 L589.8,415.7 L590.3,414.8 L590.8,413.7 L591.3,412.6 L591.8,411.3 L592.3,409.9 L592.8,408.4 L593.3,406.8 L593.8,404.9 L594.3,403.0 L594.8,400.8 L595.3,398.5 L595.8,395.9 L596.3,393.2 L596.8,390.2 L597.3,387.0 L597.8,383.5 L598.3,379.8 L598.8,375.7 L599.3,371.3 L599.8,366.6 L600.3,361.5 L600.8,356.0 L601.3,350.1 L601.8,343.8 L602.3,337.0 L602.8,329.7 L603.3,321.9 L603.8,313.7 L604.3,304.9 L604.8,295.8 L605.3,286.2 L605.8,276.2 L606.3,266.0 L606.8,255.6 L607.3,245.2 L607.8,235.0 L608.3,225.3 L608.8,216.1 L609.3,207.9 L609.8,200.8 L610.3,195.2 L610.8,191.2 L611.3,189.0 L611.8,188.6 L612.3,190.2 L612.8,193.7 L613.3,198.9 L613.8,205.5 L614.3,213.5 L614.8,222.6 L615.3,232.3 L615.8,242.6 L616.3,253.2 L616.8,263.9 L617.3,274.5 L617.8,284.9 L618.3,295.0 L618.8,304.6 L619.3,313.9 L619.8,322.7 L620.3,331.0 L620.8,338.8 L621.3,346.1 L621.8,353.0 L622.3,359.4 L622.8,365.4 L623.3,371.1 L623.8,376.3 L624.3,381.2 L624.8,385.8 L625.3,390.0 L625.8,394.0 L626.3,397.7 L626.8,401.2 L627.3,404.5 L627.8,407.5 L628.3,410.4 L628.8,413.0 L629.3,415.6 L629.8,417.9 L630.3,420.1 L630.8,422.2 L631.3,424.2 L631.8,426.0 L632.3,427.8 L632.8,429.4 L633.3,431.0 L633.8,432.5 L634.3,433.9 L634.8,435.2 L635.3,436.4 L635.8,437.6 L636.3,438.7 L636.8,439.8 L637.3,440.8 L637.8,441.8 L638.3,442.7 L638.8,443.6 L639.3,444.5 L639.8,445.3 L640.3,446.0 L640.8,446.8 L641.3,447.5 L641.8,448.1 L642.3,448.8 L642.8,449.4 L643.3,450.0 L643.8,450.5 L644.3,451.1 L644.8,451.6 L645.3,452.1 L645.8,452.6 L646.3,453.1 L646.8,453.5 L647.3,453.9 L647.8,454.4 L648.3,454.8 L648.8,455.1 L649.3,455.5 L649.8,455.9 L650.3,456.2 L650.8,456.6 L651.3,456.9 L651.8,457.2 L652.3,457.5 L652.8,457.8 L653.3,458.1 L653.8,458.3 L654.3,458.6 L654.8,458.9 L655.3,459.1 L655.8,459.4 L656.3,459.6 L656.8,459.8 L657.3,460.0 L657.8,460.3 L658.3,460.5 L658.8,460.7 L659.3,460.9 L659.8,461.1 L660.3,461.2 L660.8,461.4 L661.3,461.6 L661.8,461.8 L662.3,461.9 L662.8,462.1 L663.3,462.3 L663.8,462.4 L664.3,462.6 L664.8,462.7 L665.3,462.9 L665.8,463.0 L666.3,463.1 L666.8,463.3 L667.3,463.4 L667.8,463.5 L668.3,463.6 L668.8,463.8 L669.3,463.9 L669.8,464.0 L670.3,464.1 L670.8,464.2 L671.3,464.3 L671.8,464.4 L672.3,464.5 L672.8,464.6 L673.3,464.7 L673.8,464.8 L674.3,464.9 L674.8,465.0 L675.3,465.1 L675.8,465.2 L676.3,465.3 L676.8,465.4 L677.3,465.4 L677.8,465.5 L678.3,465.6 L678.8,465.7 L679.3,465.8 L679.8,465.8 L680.3,465.9 L680.8,466.0 L681.3,466.1 L681.8,466.1 L682.3,466.2 L682.8,466.3 L683.3,466.3 L683.8,466.4 L684.3,466.4 L684.8,466.5 L685.3,466.6 L685.8,466.6 L686.3,466.7 L686.8,466.7 L687.3,466.8 L687.8,466.9 L688.3,466.9 L688.8,467.0 L689.3,467.0 L689.8,467.1 L690.3,467.1 L690.8,467.2 L691.3,467.2 L691.8,467.3 L692.3,467.3 L692.8,467.4 L693.3,467.4 L693.8,467.5 L694.3,467.5 L694.8,467.5 L695.3,467.6 L695.8,467.6 L696.3,467.7 L696.8,467.7 L697.3,467.8 L697.8,467.8 L698.3,467.8 L698.8,467.9 L699.3,467.9 L699.8,467.9 L700.3,468.0 L700.8,468.0 L701.3,468.1 L701.8,468.1 L702.3,468.1 L702.8,468.2 L703.3,468.2 L703.8,468.2 L704.3,468.3 L704.8,468.3 L705.3,468.3 L705.8,468.4 L706.3,468.4 L706.8,468.4 L707.3,468.4 L707.8,468.5 L708.3,468.5 L708.8,468.5 L709.3,468.6 L709.8,468.6 L710.3,468.6 L710.8,468.6 L711.3,468.7 L711.8,468.7 L712.3,468.7 L712.8,468.8 L713.3,468.8 L713.8,468.8 L714.3,468.8 L714.8,468.9 L715.3,468.9 L715.8,468.9 L716.3,468.9 L716.8,468.9 L717.3,469.0 L717.8,469.0 L718.3,469.0 L718.8,469.0 L719.3,469.1 L719.8,469.1 L720.3,469.1 L720.8,469.1 L721.3,469.1 L721.8,469.2 L722.3,469.2 L722.8,469.2 L723.3,469.2 L723.8,469.2 L724.3,469.3 L724.8,469.3 L725.3,469.3 L725.8,469.3 L726.3,469.3 L726.8,469.4 L727.3,469.4 L727.8,469.4 L728.3,469.4" fill="none" stroke="#92D050" stroke-width="5" stroke-linecap="butt" stroke-linejoin="round"/>
<text x="2.6" y="25.6" font-size="34.5" textLength="22.6" lengthAdjust="spacingAndGlyphs">A</text>
<path d="M5.2,59.4 H89.3" fill="none" stroke="#375623" stroke-width="5" stroke-linecap="round" stroke-linejoin="round" stroke-dasharray="14.5 20.6"/>
<path d="M5.2,118 H89.3" fill="none" stroke="#92D050" stroke-width="5" stroke-linecap="round" stroke-linejoin="round"/>
<g font-size="26.4"><text x="99.10" y="68.3" textLength="15.24" lengthAdjust="spacingAndGlyphs">2</text><text x="114.34" y="68.3" textLength="18.50" lengthAdjust="spacingAndGlyphs">D</text><text x="132.84" y="68.3" textLength="18.97" lengthAdjust="spacingAndGlyphs">G</text><text x="158.62" y="68.3" textLength="9.21" lengthAdjust="spacingAndGlyphs">-</text><text x="174.62" y="68.3" textLength="11.76" lengthAdjust="spacingAndGlyphs">s</text><text x="186.38" y="68.3" textLength="15.80" lengthAdjust="spacingAndGlyphs">u</text><text x="202.18" y="68.3" textLength="24.02" lengthAdjust="spacingAndGlyphs">m</text><text x="233.01" y="68.3" textLength="15.86" lengthAdjust="spacingAndGlyphs">o</text><text x="248.98" y="68.3" textLength="8.95" lengthAdjust="spacingAndGlyphs">f</text><text x="264.84" y="68.3" textLength="12.72" lengthAdjust="spacingAndGlyphs">c</text><text x="277.56" y="68.3" textLength="15.86" lengthAdjust="spacingAndGlyphs">o</text><text x="293.42" y="68.3" textLength="24.02" lengthAdjust="spacingAndGlyphs">m</text><text x="317.44" y="68.3" textLength="15.80" lengthAdjust="spacingAndGlyphs">p</text><text x="333.24" y="68.3" textLength="15.86" lengthAdjust="spacingAndGlyphs">o</text><text x="349.10" y="68.3" textLength="15.80" lengthAdjust="spacingAndGlyphs">n</text><text x="364.90" y="68.3" textLength="14.96" lengthAdjust="spacingAndGlyphs">e</text><text x="379.86" y="68.3" textLength="15.80" lengthAdjust="spacingAndGlyphs">n</text><text x="396.23" y="68.3" textLength="8.95" lengthAdjust="spacingAndGlyphs">t</text><text x="405.74" y="68.3" textLength="11.76" lengthAdjust="spacingAndGlyphs">s</text></g>
<g font-size="26.4"><text x="99.10" y="126.3" textLength="15.26" lengthAdjust="spacingAndGlyphs">2</text><text x="114.36" y="126.3" textLength="18.53" lengthAdjust="spacingAndGlyphs">D</text><text x="132.89" y="126.3" textLength="19.00" lengthAdjust="spacingAndGlyphs">G</text><text x="158.70" y="126.3" textLength="9.22" lengthAdjust="spacingAndGlyphs">-</text><text x="174.73" y="126.3" textLength="12.73" lengthAdjust="spacingAndGlyphs">c</text><text x="187.46" y="126.3" textLength="15.88" lengthAdjust="spacingAndGlyphs">o</text><text x="203.34" y="126.3" textLength="24.06" lengthAdjust="spacingAndGlyphs">m</text><text x="227.40" y="126.3" textLength="15.82" lengthAdjust="spacingAndGlyphs">p</text><text x="243.22" y="126.3" textLength="15.88" lengthAdjust="spacingAndGlyphs">o</text><text x="259.10" y="126.3" textLength="15.82" lengthAdjust="spacingAndGlyphs">n</text><text x="274.93" y="126.3" textLength="14.98" lengthAdjust="spacingAndGlyphs">e</text><text x="289.91" y="126.3" textLength="15.82" lengthAdjust="spacingAndGlyphs">n</text><text x="306.30" y="126.3" textLength="8.95" lengthAdjust="spacingAndGlyphs">t</text><text x="315.82" y="126.3" textLength="11.78" lengthAdjust="spacingAndGlyphs">s</text></g>
<text x="547.2" y="96.6" font-size="32.3" textLength="19.6" lengthAdjust="spacingAndGlyphs">C</text><path d="M568.7,104.0 H577.8 M573.6,104.0 V90.3 L569.4,93.0" fill="none" stroke="#000" stroke-width="1.9" stroke-linejoin="miter"/><text x="579.3" y="96.6" font-size="32.3" textLength="20.5" lengthAdjust="spacingAndGlyphs">α</text>
<text x="200.5" y="356" font-size="32.3" textLength="19.6" lengthAdjust="spacingAndGlyphs">C</text><path d="M222.0,363.4 H231.1 M226.9,363.4 V349.7 L222.7,352.4" fill="none" stroke="#000" stroke-width="1.9" stroke-linejoin="miter"/><text x="231.9" y="356" font-size="32.3" textLength="19.0" lengthAdjust="spacingAndGlyphs" transform="translate(0,356) scale(1,1.08) translate(0,-356)">β</text>
<path d="M4.5,930 H728.4" stroke="#000" stroke-width="2.6" fill="none"/><path d="M70.3,930 V939.9" stroke="#000" stroke-width="2.2" fill="none"/><text x="70.3" y="977.8" font-size="25.6" text-anchor="middle" textLength="30.4" lengthAdjust="spacingAndGlyphs">98</text><path d="M201.7,930 V939.9" stroke="#000" stroke-width="2.2" fill="none"/><text x="201.7" y="977.8" font-size="25.6" text-anchor="middle" textLength="30.4" lengthAdjust="spacingAndGlyphs">97</text><path d="M333.1,930 V939.9" stroke="#000" stroke-width="2.2" fill="none"/><text x="333.1" y="977.8" font-size="25.6" text-anchor="middle" textLength="30.4" lengthAdjust="spacingAndGlyphs">96</text><path d="M464.5,930 V939.9" stroke="#000" stroke-width="2.2" fill="none"/><text x="464.5" y="977.8" font-size="25.6" text-anchor="middle" textLength="30.4" lengthAdjust="spacingAndGlyphs">95</text><path d="M595.9,930 V939.9" stroke="#000" stroke-width="2.2" fill="none"/><text x="595.9" y="977.8" font-size="25.6" text-anchor="middle" textLength="30.4" lengthAdjust="spacingAndGlyphs">94</text><path d="M727.3,930 V939.9" stroke="#000" stroke-width="2.2" fill="none"/><text x="727.3" y="977.8" font-size="25.6" text-anchor="middle" textLength="30.4" lengthAdjust="spacingAndGlyphs">93</text>
<path d="M4.8,929.0 L5.3,929.0 L5.8,929.0 L6.3,929.0 L6.8,929.0 L7.3,929.0 L7.8,929.0 L8.3,929.0 L8.8,929.0 L9.3,929.0 L9.8,928.9 L10.3,928.9 L10.8,928.9 L11.3,928.9 L11.8,928.9 L12.3,928.9 L12.8,928.9 L13.3,928.9 L13.8,928.9 L14.3,928.8 L14.8,928.8 L15.3,928.8 L15.8,928.8 L16.3,928.8 L16.8,928.8 L17.3,928.8 L17.8,928.8 L18.3,928.8 L18.8,928.7 L19.3,928.7 L19.8,928.7 L20.3,928.7 L20.8,928.7 L21.3,928.7 L21.8,928.7 L22.3,928.7 L22.8,928.6 L23.3,928.6 L23.8,928.6 L24.3,928.6 L24.8,928.6 L25.3,928.6 L25.8,928.6 L26.3,928.5 L26.8,928.5 L27.3,928.5 L27.8,928.5 L28.3,928.5 L28.8,928.5 L29.3,928.4 L29.8,928.4 L30.3,928.4 L30.8,928.4 L31.3,928.4 L31.8,928.4 L32.3,928.3 L32.8,928.3 L33.3,928.3 L33.8,928.3 L34.3,928.3 L34.8,928.3 L35.3,928.2 L35.8,928.2 L36.3,928.2 L36.8,928.2 L37.3,928.2 L37.8,928.1 L38.3,928.1 L38.8,928.1 L39.3,928.1 L39.8,928.1 L40.3,928.0 L40.8,928.0 L41.3,928.0 L41.8,928.0 L42.3,927.9 L42.8,927.9 L43.3,927.9 L43.8,927.9 L44.3,927.8 L44.8,927.8 L45.3,927.8 L45.8,927.8 L46.3,927.7 L46.8,927.7 L47.3,927.7 L47.8,927.7 L48.3,927.6 L48.8,927.6 L49.3,927.6 L49.8,927.5 L50.3,927.5 L50.8,927.5 L51.3,927.4 L51.8,927.4 L52.3,927.4 L52.8,927.3 L53.3,927.3 L53.8,927.3 L54.3,927.2 L54.8,927.2 L55.3,927.2 L55.8,927.1 L56.3,927.1 L56.8,927.1 L57.3,927.0 L57.8,927.0 L58.3,926.9 L58.8,926.9 L59.3,926.9 L59.8,926.8 L60.3,926.8 L60.8,926.7 L61.3,926.7 L61.8,926.6 L62.3,926.6 L62.8,926.6 L63.3,926.5 L63.8,926.5 L64.3,926.4 L64.8,926.4 L65.3,926.3 L65.8,926.3 L66.3,926.2 L66.8,926.1 L67.3,926.1 L67.8,926.0 L68.3,926.0 L68.8,925.9 L69.3,925.9 L69.8,925.8 L70.3,925.7 L70.8,925.7 L71.3,925.6 L71.8,925.5 L72.3,925.5 L72.8,925.4 L73.3,925.3 L73.8,925.2 L74.3,925.2 L74.8,925.1 L75.3,925.0 L75.8,924.9 L76.3,924.8 L76.8,924.8 L77.3,924.7 L77.8,924.6 L78.3,924.5 L78.8,924.4 L79.3,924.3 L79.8,924.2 L80.3,924.1 L80.8,924.0 L81.3,923.9 L81.8,923.8 L82.3,923.7 L82.8,923.6 L83.3,923.5 L83.8,923.3 L84.3,923.2 L84.8,923.1 L85.3,923.0 L85.8,922.8 L86.3,922.7 L86.8,922.5 L87.3,922.4 L87.8,922.3 L88.3,922.1 L88.8,921.9 L89.3,921.8 L89.8,921.6 L90.3,921.4 L90.8,921.3 L91.3,921.1 L91.8,920.9 L92.3,920.7 L92.8,920.5 L93.3,920.3 L93.8,920.1 L94.3,919.9 L94.8,919.7 L95.3,919.4 L95.8,919.2 L96.3,918.9 L96.8,918.7 L97.3,918.4 L97.8,918.1 L98.3,917.9 L98.8,917.6 L99.3,917.3 L99.8,916.9 L100.3,916.6 L100.8,916.3 L101.3,915.9 L101.8,915.6 L102.3,915.2 L102.8,914.8 L103.3,914.4 L103.8,914.0 L104.3,913.5 L104.8,913.1 L105.3,912.6 L105.8,912.1 L106.3,911.6 L106.8,911.1 L107.3,910.5 L107.8,909.9 L108.3,909.3 L108.8,908.7 L109.3,908.1 L109.8,907.4 L110.3,906.7 L110.8,906.0 L111.3,905.2 L111.8,904.4 L112.3,903.6 L112.8,902.7 L113.3,901.8 L113.8,900.9 L114.3,899.9 L114.8,898.9 L115.3,897.9 L115.8,896.8 L116.3,895.7 L116.8,894.5 L117.3,893.3 L117.8,892.1 L118.3,890.8 L118.8,889.5 L119.3,888.1 L119.8,886.8 L120.3,885.3 L120.8,883.9 L121.3,882.4 L121.8,880.9 L122.3,879.4 L122.8,877.9 L123.3,876.4 L123.8,875.0 L124.3,873.5 L124.8,872.1 L125.3,870.7 L125.8,869.4 L126.3,868.1 L126.8,866.9 L127.3,865.9 L127.8,864.9 L128.3,864.1 L128.8,863.4 L129.3,862.8 L129.8,862.4 L130.3,862.1 L130.8,861.9 L131.3,862.0 L131.8,862.1 L132.3,862.5 L132.8,862.9 L133.3,863.5 L133.8,864.2 L134.3,865.1 L134.8,866.0 L135.3,867.0 L135.8,868.1 L136.3,869.2 L136.8,870.4 L137.3,871.6 L137.8,872.9 L138.3,874.1 L138.8,875.4 L139.3,876.7 L139.8,877.9 L140.3,879.1 L140.8,880.3 L141.3,881.5 L141.8,882.7 L142.3,883.8 L142.8,884.8 L143.3,885.8 L143.8,886.8 L144.3,887.7 L144.8,888.6 L145.3,889.5 L145.8,890.3 L146.3,891.0 L146.8,891.7 L147.3,892.4 L147.8,893.0 L148.3,893.6 L148.8,894.1 L149.3,894.6 L149.8,895.0 L150.3,895.4 L150.8,895.8 L151.3,896.1 L151.8,896.4 L152.3,896.6 L152.8,896.8 L153.3,897.0 L153.8,897.1 L154.3,897.2 L154.8,897.3 L155.3,897.3 L155.8,897.3 L156.3,897.3 L156.8,897.2 L157.3,897.0 L157.8,896.9 L158.3,896.7 L158.8,896.5 L159.3,896.2 L159.8,895.9 L160.3,895.6 L160.8,895.2 L161.3,894.8 L161.8,894.3 L162.3,893.8 L162.8,893.3 L163.3,892.7 L163.8,892.1 L164.3,891.5 L164.8,890.8 L165.3,890.0 L165.8,889.2 L166.3,888.4 L166.8,887.5 L167.3,886.6 L167.8,885.6 L168.3,884.5 L168.8,883.5 L169.3,882.3 L169.8,881.2 L170.3,879.9 L170.8,878.7 L171.3,877.4 L171.8,876.0 L172.3,874.6 L172.8,873.2 L173.3,871.7 L173.8,870.2 L174.3,868.8 L174.8,867.2 L175.3,865.7 L175.8,864.2 L176.3,862.8 L176.8,861.3 L177.3,859.9 L177.8,858.5 L178.3,857.2 L178.8,856.0 L179.3,854.9 L179.8,853.8 L180.3,852.9 L180.8,852.1 L181.3,851.5 L181.8,851.0 L182.3,850.6 L182.8,850.3 L183.3,850.2 L183.8,850.3 L184.3,850.5 L184.8,850.8 L185.3,851.2 L185.8,851.7 L186.3,852.3 L186.8,853.1 L187.3,853.8 L187.8,854.7 L188.3,855.5 L188.8,856.5 L189.3,857.4 L189.8,858.3 L190.3,859.2 L190.8,860.1 L191.3,861.0 L191.8,861.9 L192.3,862.7 L192.8,863.4 L193.3,864.1 L193.8,864.8 L194.3,865.4 L194.8,865.9 L195.3,866.4 L195.8,866.7 L196.3,867.1 L196.8,867.3 L197.3,867.4 L197.8,867.5 L198.3,867.5 L198.8,867.4 L199.3,867.3 L199.8,867.0 L200.3,866.7 L200.8,866.3 L201.3,865.8 L201.8,865.3 L202.3,864.6 L202.8,863.9 L203.3,863.1 L203.8,862.2 L204.3,861.3 L204.8,860.2 L205.3,859.1 L205.8,858.0 L206.3,856.7 L206.8,855.4 L207.3,854.1 L207.8,852.7 L208.3,851.2 L208.8,849.8 L209.3,848.3 L209.8,846.8 L210.3,845.3 L210.8,843.8 L211.3,842.3 L211.8,840.9 L212.3,839.5 L212.8,838.1 L213.3,836.9 L213.8,835.7 L214.3,834.6 L214.8,833.7 L215.3,832.8 L215.8,832.1 L216.3,831.4 L216.8,830.9 L217.3,830.5 L217.8,830.2 L218.3,830.1 L218.8,830.0 L219.3,829.9 L219.8,830.0 L220.3,830.1 L220.8,830.3 L221.3,830.4 L221.8,830.6 L222.3,830.8 L222.8,831.0 L223.3,831.2 L223.8,831.3 L224.3,831.5 L224.8,831.5 L225.3,831.6 L225.8,831.5 L226.3,831.5 L226.8,831.4 L227.3,831.3 L227.8,831.1 L228.3,830.9 L228.8,830.7 L229.3,830.5 L229.8,830.4 L230.3,830.2 L230.8,830.1 L231.3,830.0 L231.8,830.0 L232.3,830.0 L232.8,830.2 L233.3,830.4 L233.8,830.8 L234.3,831.2 L234.8,831.8 L235.3,832.5 L235.8,833.3 L236.3,834.2 L236.8,835.3 L237.3,836.4 L237.8,837.6 L238.3,838.9 L238.8,840.3 L239.3,841.7 L239.8,843.2 L240.3,844.6 L240.8,846.2 L241.3,847.7 L241.8,849.2 L242.3,850.7 L242.8,852.1 L243.3,853.6 L243.8,854.9 L244.3,856.3 L244.8,857.6 L245.3,858.8 L245.8,859.9 L246.3,861.0 L246.8,862.0 L247.3,862.9 L247.8,863.8 L248.3,864.6 L248.8,865.3 L249.3,865.9 L249.8,866.4 L250.3,866.9 L250.8,867.3 L251.3,867.6 L251.8,867.8 L252.3,867.9 L252.8,868.0 L253.3,868.0 L253.8,867.9 L254.3,867.7 L254.8,867.5 L255.3,867.1 L255.8,866.7 L256.3,866.3 L256.8,865.7 L257.3,865.1 L257.8,864.5 L258.3,863.8 L258.8,863.0 L259.3,862.2 L259.8,861.3 L260.3,860.4 L260.8,859.5 L261.3,858.5 L261.8,857.6 L262.3,856.6 L262.8,855.7 L263.3,854.8 L263.8,853.9 L264.3,853.1 L264.8,852.4 L265.3,851.7 L265.8,851.1 L266.3,850.7 L266.8,850.3 L267.3,850.1 L267.8,850.0 L268.3,850.0 L268.8,850.2 L269.3,850.5 L269.8,851.0 L270.3,851.6 L270.8,852.4 L271.3,853.2 L271.8,854.2 L272.3,855.3 L272.8,856.5 L273.3,857.7 L273.8,859.1 L274.3,860.5 L274.8,861.9 L275.3,863.4 L275.8,864.8 L276.3,866.3 L276.8,867.8 L277.3,869.3 L277.8,870.8 L278.3,872.2 L278.8,873.6 L279.3,875.0 L279.8,876.4 L280.3,877.7 L280.8,879.0 L281.3,880.2 L281.8,881.3 L282.3,882.5 L282.8,883.6 L283.3,884.6 L283.8,885.6 L284.3,886.5 L284.8,887.4 L285.3,888.2 L285.8,889.0 L286.3,889.7 L286.8,890.4 L287.3,891.1 L287.8,891.7 L288.3,892.3 L288.8,892.8 L289.3,893.3 L289.8,893.7 L290.3,894.1 L290.8,894.5 L291.3,894.8 L291.8,895.1 L292.3,895.4 L292.8,895.6 L293.3,895.8 L293.8,895.9 L294.3,896.0 L294.8,896.1 L295.3,896.1 L295.8,896.1 L296.3,896.1 L296.8,896.0 L297.3,895.9 L297.8,895.7 L298.3,895.6 L298.8,895.3 L299.3,895.1 L299.8,894.8 L300.3,894.4 L300.8,894.0 L301.3,893.6 L301.8,893.2 L302.3,892.7 L302.8,892.1 L303.3,891.5 L303.8,890.9 L304.3,890.2 L304.8,889.5 L305.3,888.7 L305.8,887.9 L306.3,887.0 L306.8,886.1 L307.3,885.1 L307.8,884.1 L308.3,883.1 L308.8,882.0 L309.3,880.9 L309.8,879.7 L310.3,878.5 L310.8,877.3 L311.3,876.1 L311.8,874.8 L312.3,873.5 L312.8,872.2 L313.3,871.0 L313.8,869.7 L314.3,868.5 L314.8,867.3 L315.3,866.1 L315.8,865.0 L316.3,864.0 L316.8,863.1 L317.3,862.3 L317.8,861.6 L318.3,861.0 L318.8,860.5 L319.3,860.2 L319.8,860.1 L320.3,860.1 L320.8,860.2 L321.3,860.5 L321.8,861.0 L322.3,861.6 L322.8,862.3 L323.3,863.1 L323.8,864.1 L324.3,865.2 L324.8,866.3 L325.3,867.6 L325.8,868.9 L326.3,870.3 L326.8,871.7 L327.3,873.1 L327.8,874.6 L328.3,876.0 L328.8,877.5 L329.3,879.0 L329.8,880.4 L330.3,881.8 L330.8,883.3 L331.3,884.6 L331.8,886.0 L332.3,887.3 L332.8,888.6 L333.3,889.8 L333.8,891.0 L334.3,892.1 L334.8,893.2 L335.3,894.3 L335.8,895.3 L336.3,896.3 L336.8,897.3 L337.3,898.2 L337.8,899.1 L338.3,899.9 L338.8,900.7 L339.3,901.5 L339.8,902.2 L340.3,902.9 L340.8,903.6 L341.3,904.3 L341.8,904.9 L342.3,905.5 L342.8,906.0 L343.3,906.6 L343.8,907.1 L344.3,907.6 L344.8,908.0 L345.3,908.5 L345.8,908.9 L346.3,909.3 L346.8,909.7 L347.3,910.1 L347.8,910.4 L348.3,910.8 L348.8,911.1 L349.3,911.4 L349.8,911.7 L350.3,912.0 L350.8,912.2 L351.3,912.5 L351.8,912.7 L352.3,912.9 L352.8,913.1 L353.3,913.3 L353.8,913.5 L354.3,913.7 L354.8,913.9 L355.3,914.0 L355.8,914.2 L356.3,914.3 L356.8,914.4 L357.3,914.5 L357.8,914.6 L358.3,914.7 L358.8,914.8 L359.3,914.9 L359.8,915.0 L360.3,915.0 L360.8,915.1 L361.3,915.1 L361.8,915.2 L362.3,915.2 L362.8,915.2 L363.3,915.2 L363.8,915.2 L364.3,915.2 L364.8,915.2 L365.3,915.2 L365.8,915.2 L366.3,915.1 L366.8,915.1 L367.3,915.0 L367.8,915.0 L368.3,914.9 L368.8,914.8 L369.3,914.7 L369.8,914.6 L370.3,914.5 L370.8,914.4 L371.3,914.3 L371.8,914.1 L372.3,914.0 L372.8,913.8 L373.3,913.6 L373.8,913.4 L374.3,913.2 L374.8,913.0 L375.3,912.8 L375.8,912.6 L376.3,912.3 L376.8,912.1 L377.3,911.8 L377.8,911.5 L378.3,911.2 L378.8,910.9 L379.3,910.5 L379.8,910.2 L380.3,909.8 L380.8,909.4 L381.3,908.9 L381.8,908.5 L382.3,908.0 L382.8,907.5 L383.3,907.0 L383.8,906.5 L384.3,905.9 L384.8,905.3 L385.3,904.6 L385.8,904.0 L386.3,903.3 L386.8,902.5 L387.3,901.7 L387.8,900.9 L388.3,900.1 L388.8,899.2 L389.3,898.2 L389.8,897.2 L390.3,896.2 L390.8,895.1 L391.3,893.9 L391.8,892.7 L392.3,891.4 L392.8,890.1 L393.3,888.7 L393.8,887.2 L394.3,885.7 L394.8,884.1 L395.3,882.5 L395.8,880.8 L396.3,879.0 L396.8,877.2 L397.3,875.4 L397.8,873.5 L398.3,871.5 L398.8,869.5 L399.3,867.5 L399.8,865.5 L400.3,863.6 L400.8,861.6 L401.3,859.7 L401.8,857.9 L402.3,856.1 L402.8,854.5 L403.3,853.0 L403.8,851.7 L404.3,850.6 L404.8,849.6 L405.3,848.9 L405.8,848.4 L406.3,848.1 L406.8,848.1 L407.3,848.3 L407.8,848.8 L408.3,849.4 L408.8,850.3 L409.3,851.4 L409.8,852.6 L410.3,854.0 L410.8,855.5 L411.3,857.1 L411.8,858.8 L412.3,860.6 L412.8,862.4 L413.3,864.2 L413.8,866.0 L414.3,867.8 L414.8,869.6 L415.3,871.3 L415.8,873.0 L416.3,874.6 L416.8,876.2 L417.3,877.8 L417.8,879.2 L418.3,880.6 L418.8,882.0 L419.3,883.2 L419.8,884.4 L420.3,885.5 L420.8,886.6 L421.3,887.6 L421.8,888.6 L422.3,889.4 L422.8,890.2 L423.3,891.0 L423.8,891.7 L424.3,892.4 L424.8,893.0 L425.3,893.5 L425.8,894.0 L426.3,894.4 L426.8,894.9 L427.3,895.2 L427.8,895.5 L428.3,895.8 L428.8,896.0 L429.3,896.2 L429.8,896.3 L430.3,896.4 L430.8,896.5 L431.3,896.5 L431.8,896.5 L432.3,896.5 L432.8,896.4 L433.3,896.2 L433.8,896.1 L434.3,895.9 L434.8,895.6 L435.3,895.3 L435.8,895.0 L436.3,894.6 L436.8,894.2 L437.3,893.8 L437.8,893.3 L438.3,892.7 L438.8,892.1 L439.3,891.5 L439.8,890.8 L440.3,890.1 L440.8,889.3 L441.3,888.5 L441.8,887.6 L442.3,886.6 L442.8,885.6 L443.3,884.5 L443.8,883.4 L444.3,882.1 L444.8,880.9 L445.3,879.5 L445.8,878.1 L446.3,876.6 L446.8,875.1 L447.3,873.4 L447.8,871.7 L448.3,869.9 L448.8,868.1 L449.3,866.1 L449.8,864.2 L450.3,862.1 L450.8,860.0 L451.3,857.8 L451.8,855.7 L452.3,853.4 L452.8,851.2 L453.3,849.0 L453.8,846.8 L454.3,844.6 L454.8,842.5 L455.3,840.5 L455.8,838.6 L456.3,836.9 L456.8,835.2 L457.3,833.8 L457.8,832.5 L458.3,831.4 L458.8,830.6 L459.3,829.9 L459.8,829.5 L460.3,829.3 L460.8,829.3 L461.3,829.5 L461.8,829.9 L462.3,830.4 L462.8,831.1 L463.3,831.8 L463.8,832.7 L464.3,833.6 L464.8,834.6 L465.3,835.5 L465.8,836.5 L466.3,837.5 L466.8,838.4 L467.3,839.3 L467.8,840.1 L468.3,840.8 L468.8,841.5 L469.3,842.1 L469.8,842.5 L470.3,842.9 L470.8,843.2 L471.3,843.4 L471.8,843.5 L472.3,843.5 L472.8,843.4 L473.3,843.3 L473.8,843.1 L474.3,842.8 L474.8,842.4 L475.3,842.0 L475.8,841.6 L476.3,841.1 L476.8,840.6 L477.3,840.1 L477.8,839.6 L478.3,839.1 L478.8,838.6 L479.3,838.2 L479.8,837.9 L480.3,837.6 L480.8,837.3 L481.3,837.2 L481.8,837.1 L482.3,837.1 L482.8,837.2 L483.3,837.5 L483.8,837.8 L484.3,838.2 L484.8,838.7 L485.3,839.2 L485.8,839.9 L486.3,840.6 L486.8,841.4 L487.3,842.2 L487.8,843.1 L488.3,844.0 L488.8,844.9 L489.3,845.8 L489.8,846.7 L490.3,847.5 L490.8,848.4 L491.3,849.2 L491.8,850.0 L492.3,850.7 L492.8,851.4 L493.3,852.0 L493.8,852.5 L494.3,852.9 L494.8,853.3 L495.3,853.6 L495.8,853.8 L496.3,853.9 L496.8,853.9 L497.3,853.8 L497.8,853.6 L498.3,853.3 L498.8,852.9 L499.3,852.4 L499.8,851.8 L500.3,851.1 L500.8,850.3 L501.3,849.4 L501.8,848.4 L502.3,847.3 L502.8,846.1 L503.3,844.8 L503.8,843.5 L504.3,842.1 L504.8,840.6 L505.3,839.1 L505.8,837.6 L506.3,836.0 L506.8,834.5 L507.3,833.0 L507.8,831.6 L508.3,830.2 L508.8,829.0 L509.3,827.8 L509.8,826.8 L510.3,826.0 L510.8,825.4 L511.3,824.9 L511.8,824.7 L512.3,824.7 L512.8,824.9 L513.3,825.3 L513.8,825.9 L514.3,826.7 L514.8,827.6 L515.3,828.7 L515.8,830.0 L516.3,831.3 L516.8,832.7 L517.3,834.1 L517.8,835.6 L518.3,837.2 L518.8,838.7 L519.3,840.1 L519.8,841.6 L520.3,843.0 L520.8,844.3 L521.3,845.5 L521.8,846.7 L522.3,847.7 L522.8,848.7 L523.3,849.6 L523.8,850.4 L524.3,851.1 L524.8,851.6 L525.3,852.1 L525.8,852.5 L526.3,852.8 L526.8,853.0 L527.3,853.1 L527.8,853.1 L528.3,853.0 L528.8,852.9 L529.3,852.7 L529.8,852.4 L530.3,852.1 L530.8,851.7 L531.3,851.3 L531.8,850.8 L532.3,850.4 L532.8,849.9 L533.3,849.4 L533.8,849.0 L534.3,848.6 L534.8,848.2 L535.3,847.9 L535.8,847.6 L536.3,847.4 L536.8,847.3 L537.3,847.3 L537.8,847.4 L538.3,847.6 L538.8,847.9 L539.3,848.3 L539.8,848.9 L540.3,849.5 L540.8,850.3 L541.3,851.2 L541.8,852.1 L542.3,853.2 L542.8,854.4 L543.3,855.6 L543.8,856.9 L544.3,858.2 L544.8,859.6 L545.3,861.0 L545.8,862.5 L546.3,864.0 L546.8,865.5 L547.3,866.9 L547.8,868.4 L548.3,869.9 L548.8,871.3 L549.3,872.7 L549.8,874.1 L550.3,875.5 L550.8,876.8 L551.3,878.1 L551.8,879.4 L552.3,880.6 L552.8,881.7 L553.3,882.9 L553.8,883.9 L554.3,885.0 L554.8,886.0 L555.3,886.9 L555.8,887.8 L556.3,888.7 L556.8,889.5 L557.3,890.3 L557.8,891.0 L558.3,891.7 L558.8,892.4 L559.3,893.0 L559.8,893.6 L560.3,894.1 L560.8,894.7 L561.3,895.1 L561.8,895.6 L562.3,896.0 L562.8,896.4 L563.3,896.7 L563.8,897.0 L564.3,897.3 L564.8,897.5 L565.3,897.8 L565.8,897.9 L566.3,898.1 L566.8,898.2 L567.3,898.3 L567.8,898.4 L568.3,898.4 L568.8,898.4 L569.3,898.4 L569.8,898.3 L570.3,898.3 L570.8,898.1 L571.3,898.0 L571.8,897.8 L572.3,897.6 L572.8,897.4 L573.3,897.1 L573.8,896.8 L574.3,896.4 L574.8,896.0 L575.3,895.6 L575.8,895.2 L576.3,894.7 L576.8,894.2 L577.3,893.6 L577.8,893.0 L578.3,892.4 L578.8,891.7 L579.3,891.0 L579.8,890.2 L580.3,889.4 L580.8,888.6 L581.3,887.7 L581.8,886.8 L582.3,885.9 L582.8,884.9 L583.3,883.8 L583.8,882.8 L584.3,881.7 L584.8,880.6 L585.3,879.5 L585.8,878.3 L586.3,877.2 L586.8,876.0 L587.3,874.8 L587.8,873.6 L588.3,872.5 L588.8,871.4 L589.3,870.3 L589.8,869.2 L590.3,868.2 L590.8,867.3 L591.3,866.4 L591.8,865.7 L592.3,865.0 L592.8,864.4 L593.3,863.9 L593.8,863.6 L594.3,863.4 L594.8,863.3 L595.3,863.3 L595.8,863.5 L596.3,863.8 L596.8,864.3 L597.3,864.8 L597.8,865.5 L598.3,866.3 L598.8,867.2 L599.3,868.2 L599.8,869.3 L600.3,870.4 L600.8,871.7 L601.3,872.9 L601.8,874.2 L602.3,875.6 L602.8,876.9 L603.3,878.3 L603.8,879.7 L604.3,881.1 L604.8,882.5 L605.3,883.8 L605.8,885.2 L606.3,886.5 L606.8,887.8 L607.3,889.1 L607.8,890.3 L608.3,891.6 L608.8,892.7 L609.3,893.9 L609.8,895.0 L610.3,896.1 L610.8,897.1 L611.3,898.2 L611.8,899.1 L612.3,900.1 L612.8,901.0 L613.3,901.9 L613.8,902.7 L614.3,903.5 L614.8,904.3 L615.3,905.1 L615.8,905.8 L616.3,906.5 L616.8,907.2 L617.3,907.8 L617.8,908.5 L618.3,909.1 L618.8,909.7 L619.3,910.2 L619.8,910.8 L620.3,911.3 L620.8,911.8 L621.3,912.3 L621.8,912.7 L622.3,913.2 L622.8,913.6 L623.3,914.0 L623.8,914.4 L624.3,914.8 L624.8,915.2 L625.3,915.5 L625.8,915.9 L626.3,916.2 L626.8,916.6 L627.3,916.9 L627.8,917.2 L628.3,917.5 L628.8,917.8 L629.3,918.0 L629.8,918.3 L630.3,918.6 L630.8,918.8 L631.3,919.1 L631.8,919.3 L632.3,919.5 L632.8,919.7 L633.3,920.0 L633.8,920.2 L634.3,920.4 L634.8,920.6 L635.3,920.7 L635.8,920.9 L636.3,921.1 L636.8,921.3 L637.3,921.5 L637.8,921.6 L638.3,921.8 L638.8,921.9 L639.3,922.1 L639.8,922.2 L640.3,922.4 L640.8,922.5 L641.3,922.7 L641.8,922.8 L642.3,922.9 L642.8,923.0 L643.3,923.2 L643.8,923.3 L644.3,923.4 L644.8,923.5 L645.3,923.6 L645.8,923.7 L646.3,923.8 L646.8,923.9 L647.3,924.0 L647.8,924.1 L648.3,924.2 L648.8,924.3 L649.3,924.4 L649.8,924.5 L650.3,924.6 L650.8,924.7 L651.3,924.8 L651.8,924.9 L652.3,924.9 L652.8,925.0 L653.3,925.1 L653.8,925.2 L654.3,925.2 L654.8,925.3 L655.3,925.4 L655.8,925.4 L656.3,925.5 L656.8,925.6 L657.3,925.6 L657.8,925.7 L658.3,925.8 L658.8,925.8 L659.3,925.9 L659.8,925.9 L660.3,926.0 L660.8,926.1 L661.3,926.1 L661.8,926.2 L662.3,926.2 L662.8,926.3 L663.3,926.3 L663.8,926.4 L664.3,926.4 L664.8,926.5 L665.3,926.5 L665.8,926.6 L666.3,926.6 L666.8,926.7 L667.3,926.7 L667.8,926.7 L668.3,926.8 L668.8,926.8 L669.3,926.9 L669.8,926.9 L670.3,926.9 L670.8,927.0 L671.3,927.0 L671.8,927.1 L672.3,927.1 L672.8,927.1 L673.3,927.2 L673.8,927.2 L674.3,927.2 L674.8,927.3 L675.3,927.3 L675.8,927.3 L676.3,927.4 L676.8,927.4 L677.3,927.4 L677.8,927.5 L678.3,927.5 L678.8,927.5 L679.3,927.6 L679.8,927.6 L680.3,927.6 L680.8,927.6 L681.3,927.7 L681.8,927.7 L682.3,927.7 L682.8,927.7 L683.3,927.8 L683.8,927.8 L684.3,927.8 L684.8,927.8 L685.3,927.9 L685.8,927.9 L686.3,927.9 L686.8,927.9 L687.3,928.0 L687.8,928.0 L688.3,928.0 L688.8,928.0 L689.3,928.1 L689.8,928.1 L690.3,928.1 L690.8,928.1 L691.3,928.1 L691.8,928.2 L692.3,928.2 L692.8,928.2 L693.3,928.2 L693.8,928.2 L694.3,928.3 L694.8,928.3 L695.3,928.3 L695.8,928.3 L696.3,928.3 L696.8,928.3 L697.3,928.4 L697.8,928.4 L698.3,928.4 L698.8,928.4 L699.3,928.4 L699.8,928.4 L700.3,928.5 L700.8,928.5 L701.3,928.5 L701.8,928.5 L702.3,928.5 L702.8,928.5 L703.3,928.5 L703.8,928.6 L704.3,928.6 L704.8,928.6 L705.3,928.6 L705.8,928.6 L706.3,928.6 L706.8,928.6 L707.3,928.7 L707.8,928.7 L708.3,928.7 L708.8,928.7 L709.3,928.7 L709.8,928.7 L710.3,928.7 L710.8,928.7 L711.3,928.8 L711.8,928.8 L712.3,928.8 L712.8,928.8 L713.3,928.8 L713.8,928.8 L714.3,928.8 L714.8,928.8 L715.3,928.8 L715.8,928.9 L716.3,928.9 L716.8,928.9 L717.3,928.9 L717.8,928.9 L718.3,928.9 L718.8,928.9 L719.3,928.9 L719.8,928.9 L720.3,928.9 L720.8,929.0 L721.3,929.0 L721.8,929.0 L722.3,929.0 L722.8,929.0 L723.3,929.0 L723.8,929.0 L724.3,929.0 L724.8,929.0 L725.3,929.0 L725.8,929.0 L726.3,929.1 L726.8,929.1 L727.3,929.1 L727.8,929.1 L728.3,929.1" fill="none" stroke="#0070C0" stroke-width="5" stroke-linecap="butt" stroke-linejoin="round"/>
<path d="M4.8,929.2 L5.3,929.2 L5.8,929.2 L6.3,929.2 L6.8,929.2 L7.3,929.2 L7.8,929.2 L8.3,929.2 L8.8,929.2 L9.3,929.2 L9.8,929.2 L10.3,929.2 L10.8,929.2 L11.3,929.1 L11.8,929.1 L12.3,929.1 L12.8,929.1 L13.3,929.1 L13.8,929.1 L14.3,929.1 L14.8,929.1 L15.3,929.1 L15.8,929.1 L16.3,929.1 L16.8,929.0 L17.3,929.0 L17.8,929.0 L18.3,929.0 L18.8,929.0 L19.3,929.0 L19.8,929.0 L20.3,929.0 L20.8,929.0 L21.3,928.9 L21.8,928.9 L22.3,928.9 L22.8,928.9 L23.3,928.9 L23.8,928.9 L24.3,928.9 L24.8,928.9 L25.3,928.9 L25.8,928.8 L26.3,928.8 L26.8,928.8 L27.3,928.8 L27.8,928.8 L28.3,928.8 L28.8,928.8 L29.3,928.7 L29.8,928.7 L30.3,928.7 L30.8,928.7 L31.3,928.7 L31.8,928.7 L32.3,928.7 L32.8,928.6 L33.3,928.6 L33.8,928.6 L34.3,928.6 L34.8,928.6 L35.3,928.6 L35.8,928.5 L36.3,928.5 L36.8,928.5 L37.3,928.5 L37.8,928.5 L38.3,928.5 L38.8,928.4 L39.3,928.4 L39.8,928.4 L40.3,928.4 L40.8,928.4 L41.3,928.3 L41.8,928.3 L42.3,928.3 L42.8,928.3 L43.3,928.3 L43.8,928.2 L44.3,928.2 L44.8,928.2 L45.3,928.2 L45.8,928.1 L46.3,928.1 L46.8,928.1 L47.3,928.1 L47.8,928.0 L48.3,928.0 L48.8,928.0 L49.3,928.0 L49.8,927.9 L50.3,927.9 L50.8,927.9 L51.3,927.9 L51.8,927.8 L52.3,927.8 L52.8,927.8 L53.3,927.7 L53.8,927.7 L54.3,927.7 L54.8,927.6 L55.3,927.6 L55.8,927.6 L56.3,927.5 L56.8,927.5 L57.3,927.5 L57.8,927.4 L58.3,927.4 L58.8,927.4 L59.3,927.3 L59.8,927.3 L60.3,927.3 L60.8,927.2 L61.3,927.2 L61.8,927.1 L62.3,927.1 L62.8,927.0 L63.3,927.0 L63.8,927.0 L64.3,926.9 L64.8,926.9 L65.3,926.8 L65.8,926.8 L66.3,926.7 L66.8,926.7 L67.3,926.6 L67.8,926.6 L68.3,926.5 L68.8,926.5 L69.3,926.4 L69.8,926.3 L70.3,926.3 L70.8,926.2 L71.3,926.2 L71.8,926.1 L72.3,926.0 L72.8,926.0 L73.3,925.9 L73.8,925.8 L74.3,925.8 L74.8,925.7 L75.3,925.6 L75.8,925.5 L76.3,925.5 L76.8,925.4 L77.3,925.3 L77.8,925.2 L78.3,925.1 L78.8,925.1 L79.3,925.0 L79.8,924.9 L80.3,924.8 L80.8,924.7 L81.3,924.6 L81.8,924.5 L82.3,924.4 L82.8,924.3 L83.3,924.2 L83.8,924.0 L84.3,923.9 L84.8,923.8 L85.3,923.7 L85.8,923.6 L86.3,923.4 L86.8,923.3 L87.3,923.2 L87.8,923.0 L88.3,922.9 L88.8,922.7 L89.3,922.6 L89.8,922.4 L90.3,922.3 L90.8,922.1 L91.3,921.9 L91.8,921.7 L92.3,921.5 L92.8,921.4 L93.3,921.2 L93.8,921.0 L94.3,920.7 L94.8,920.5 L95.3,920.3 L95.8,920.1 L96.3,919.8 L96.8,919.6 L97.3,919.3 L97.8,919.1 L98.3,918.8 L98.8,918.5 L99.3,918.2 L99.8,917.9 L100.3,917.6 L100.8,917.3 L101.3,916.9 L101.8,916.6 L102.3,916.2 L102.8,915.8 L103.3,915.4 L103.8,915.0 L104.3,914.6 L104.8,914.1 L105.3,913.7 L105.8,913.2 L106.3,912.7 L106.8,912.2 L107.3,911.6 L107.8,911.1 L108.3,910.5 L108.8,909.9 L109.3,909.2 L109.8,908.6 L110.3,907.9 L110.8,907.2 L111.3,906.4 L111.8,905.6 L112.3,904.8 L112.8,904.0 L113.3,903.1 L113.8,902.2 L114.3,901.2 L114.8,900.3 L115.3,899.2 L115.8,898.2 L116.3,897.1 L116.8,895.9 L117.3,894.7 L117.8,893.5 L118.3,892.2 L118.8,890.9 L119.3,889.6 L119.8,888.2 L120.3,886.8 L120.8,885.4 L121.3,883.9 L121.8,882.5 L122.3,881.0 L122.8,879.5 L123.3,878.0 L123.8,876.6 L124.3,875.1 L124.8,873.7 L125.3,872.4 L125.8,871.1 L126.3,869.8 L126.8,868.7 L127.3,867.6 L127.8,866.7 L128.3,865.9 L128.8,865.2 L129.3,864.6 L129.8,864.2 L130.3,863.9 L130.8,863.8 L131.3,863.9 L131.8,864.1 L132.3,864.4 L132.8,864.9 L133.3,865.5 L133.8,866.3 L134.3,867.1 L134.8,868.1 L135.3,869.1 L135.8,870.2 L136.3,871.4 L136.8,872.6 L137.3,873.9 L137.8,875.1 L138.3,876.4 L138.8,877.7 L139.3,879.0 L139.8,880.3 L140.3,881.6 L140.8,882.8 L141.3,884.0 L141.8,885.2 L142.3,886.3 L142.8,887.4 L143.3,888.5 L143.8,889.5 L144.3,890.4 L144.8,891.4 L145.3,892.2 L145.8,893.1 L146.3,893.9 L146.8,894.6 L147.3,895.3 L147.8,895.9 L148.3,896.6 L148.8,897.1 L149.3,897.7 L149.8,898.1 L150.3,898.6 L150.8,899.0 L151.3,899.4 L151.8,899.7 L152.3,900.0 L152.8,900.3 L153.3,900.5 L153.8,900.7 L154.3,900.8 L154.8,900.9 L155.3,901.0 L155.8,901.1 L156.3,901.1 L156.8,901.0 L157.3,901.0 L157.8,900.9 L158.3,900.8 L158.8,900.6 L159.3,900.4 L159.8,900.2 L160.3,899.9 L160.8,899.6 L161.3,899.3 L161.8,898.9 L162.3,898.5 L162.8,898.0 L163.3,897.5 L163.8,897.0 L164.3,896.4 L164.8,895.8 L165.3,895.2 L165.8,894.5 L166.3,893.7 L166.8,892.9 L167.3,892.1 L167.8,891.2 L168.3,890.3 L168.8,889.3 L169.3,888.3 L169.8,887.2 L170.3,886.1 L170.8,885.0 L171.3,883.8 L171.8,882.6 L172.3,881.3 L172.8,880.0 L173.3,878.7 L173.8,877.4 L174.3,876.0 L174.8,874.7 L175.3,873.3 L175.8,872.0 L176.3,870.7 L176.8,869.4 L177.3,868.1 L177.8,866.9 L178.3,865.8 L178.8,864.8 L179.3,863.9 L179.8,863.1 L180.3,862.4 L180.8,861.8 L181.3,861.4 L181.8,861.1 L182.3,860.9 L182.8,860.9 L183.3,861.1 L183.8,861.4 L184.3,861.9 L184.8,862.5 L185.3,863.2 L185.8,864.0 L186.3,865.0 L186.8,866.0 L187.3,867.2 L187.8,868.4 L188.3,869.6 L188.8,870.9 L189.3,872.2 L189.8,873.6 L190.3,874.9 L190.8,876.3 L191.3,877.7 L191.8,879.0 L192.3,880.3 L192.8,881.6 L193.3,882.9 L193.8,884.1 L194.3,885.3 L194.8,886.4 L195.3,887.6 L195.8,888.6 L196.3,889.6 L196.8,890.6 L197.3,891.5 L197.8,892.4 L198.3,893.3 L198.8,894.1 L199.3,894.8 L199.8,895.5 L200.3,896.2 L200.8,896.8 L201.3,897.4 L201.8,897.9 L202.3,898.4 L202.8,898.9 L203.3,899.3 L203.8,899.7 L204.3,900.0 L204.8,900.3 L205.3,900.6 L205.8,900.8 L206.3,901.0 L206.8,901.2 L207.3,901.3 L207.8,901.4 L208.3,901.5 L208.8,901.5 L209.3,901.5 L209.8,901.5 L210.3,901.4 L210.8,901.3 L211.3,901.2 L211.8,901.0 L212.3,900.8 L212.8,900.6 L213.3,900.3 L213.8,900.0 L214.3,899.6 L214.8,899.2 L215.3,898.8 L215.8,898.3 L216.3,897.8 L216.8,897.3 L217.3,896.7 L217.8,896.0 L218.3,895.4 L218.8,894.6 L219.3,893.9 L219.8,893.1 L220.3,892.2 L220.8,891.3 L221.3,890.3 L221.8,889.3 L222.3,888.3 L222.8,887.2 L223.3,886.1 L223.8,884.9 L224.3,883.7 L224.8,882.5 L225.3,881.2 L225.8,879.9 L226.3,878.6 L226.8,877.3 L227.3,876.0 L227.8,874.7 L228.3,873.4 L228.8,872.1 L229.3,870.9 L229.8,869.7 L230.3,868.6 L230.8,867.6 L231.3,866.7 L231.8,865.9 L232.3,865.2 L232.8,864.7 L233.3,864.2 L233.8,864.0 L234.3,863.9 L234.8,863.9 L235.3,864.1 L235.8,864.5 L236.3,865.0 L236.8,865.6 L237.3,866.4 L237.8,867.3 L238.3,868.4 L238.8,869.5 L239.3,870.7 L239.8,872.0 L240.3,873.4 L240.8,874.8 L241.3,876.3 L241.8,877.8 L242.3,879.3 L242.8,880.8 L243.3,882.3 L243.8,883.7 L244.3,885.2 L244.8,886.7 L245.3,888.1 L245.8,889.5 L246.3,890.8 L246.8,892.2 L247.3,893.5 L247.8,894.7 L248.3,895.9 L248.8,897.1 L249.3,898.2 L249.8,899.3 L250.3,900.3 L250.8,901.3 L251.3,902.3 L251.8,903.2 L252.3,904.1 L252.8,904.9 L253.3,905.7 L253.8,906.5 L254.3,907.3 L254.8,908.0 L255.3,908.7 L255.8,909.4 L256.3,910.0 L256.8,910.6 L257.3,911.2 L257.8,911.8 L258.3,912.3 L258.8,912.8 L259.3,913.3 L259.8,913.8 L260.3,914.3 L260.8,914.7 L261.3,915.1 L261.8,915.5 L262.3,915.9 L262.8,916.3 L263.3,916.7 L263.8,917.0 L264.3,917.4 L264.8,917.7 L265.3,918.0 L265.8,918.3 L266.3,918.6 L266.8,918.9 L267.3,919.2 L267.8,919.4 L268.3,919.7 L268.8,919.9 L269.3,920.2 L269.8,920.4 L270.3,920.6 L270.8,920.9 L271.3,921.1 L271.8,921.3 L272.3,921.5 L272.8,921.6 L273.3,921.8 L273.8,922.0 L274.3,922.2 L274.8,922.4 L275.3,922.5 L275.8,922.7 L276.3,922.8 L276.8,923.0 L277.3,923.1 L277.8,923.3 L278.3,923.4 L278.8,923.5 L279.3,923.7 L279.8,923.8 L280.3,923.9 L280.8,924.0 L281.3,924.1 L281.8,924.2 L282.3,924.3 L282.8,924.5 L283.3,924.6 L283.8,924.7 L284.3,924.8 L284.8,924.9 L285.3,924.9 L285.8,925.0 L286.3,925.1 L286.8,925.2 L287.3,925.3 L287.8,925.4 L288.3,925.5 L288.8,925.5 L289.3,925.6 L289.8,925.7 L290.3,925.8 L290.8,925.8 L291.3,925.9 L291.8,926.0 L292.3,926.0 L292.8,926.1 L293.3,926.2 L293.8,926.2 L294.3,926.3 L294.8,926.3 L295.3,926.4 L295.8,926.5 L296.3,926.5 L296.8,926.6 L297.3,926.6 L297.8,926.7 L298.3,926.7 L298.8,926.8 L299.3,926.8 L299.8,926.9 L300.3,926.9 L300.8,927.0 L301.3,927.0 L301.8,927.1 L302.3,927.1 L302.8,927.1 L303.3,927.2 L303.8,927.2 L304.3,927.3 L304.8,927.3 L305.3,927.3 L305.8,927.4 L306.3,927.4 L306.8,927.4 L307.3,927.5 L307.8,927.5 L308.3,927.6 L308.8,927.6 L309.3,927.6 L309.8,927.7 L310.3,927.7 L310.8,927.7 L311.3,927.7 L311.8,927.8 L312.3,927.8 L312.8,927.8 L313.3,927.9 L313.8,927.9 L314.3,927.9 L314.8,927.9 L315.3,928.0 L315.8,928.0 L316.3,928.0 L316.8,928.1 L317.3,928.1 L317.8,928.1 L318.3,928.1 L318.8,928.1 L319.3,928.2 L319.8,928.2 L320.3,928.2 L320.8,928.2 L321.3,928.3 L321.8,928.3 L322.3,928.3 L322.8,928.3 L323.3,928.3 L323.8,928.4 L324.3,928.4 L324.8,928.4 L325.3,928.4 L325.8,928.4 L326.3,928.5 L326.8,928.5 L327.3,928.5 L327.8,928.5 L328.3,928.5 L328.8,928.5 L329.3,928.6 L329.8,928.6 L330.3,928.6 L330.8,928.6 L331.3,928.6 L331.8,928.6 L332.3,928.7 L332.8,928.7 L333.3,928.7 L333.8,928.7 L334.3,928.7 L334.8,928.7 L335.3,928.8 L335.8,928.8 L336.3,928.8 L336.8,928.8 L337.3,928.8 L337.8,928.8 L338.3,928.8 L338.8,928.8 L339.3,928.9 L339.8,928.9 L340.3,928.9 L340.8,928.9 L341.3,928.9 L341.8,928.9 L342.3,928.9 L342.8,928.9 L343.3,929.0 L343.8,929.0 L344.3,929.0 L344.8,929.0 L345.3,929.0 L345.8,929.0 L346.3,929.0 L346.8,929.0 L347.3,929.0 L347.8,929.0 L348.3,929.1 L348.8,929.1 L349.3,929.1 L349.8,929.1 L350.3,929.1 L350.8,929.1 L351.3,929.1 L351.8,929.1 L352.3,929.1 L352.8,929.1 L353.3,929.2 L353.8,929.2 L354.3,929.2 L354.8,929.2 L355.3,929.2 L355.8,929.2 L356.3,929.2 L356.8,929.2 L357.3,929.2 L357.8,929.2 L358.3,929.2 L358.8,929.2 L359.3,929.2 L359.8,929.3 L360.3,929.3 L360.8,929.3 L361.3,929.3 L361.8,929.3 L362.3,929.3 L362.8,929.3 L363.3,929.3 L363.8,929.3 L364.3,929.3 L364.8,929.3 L365.3,929.3 L365.8,929.3 L366.3,929.3 L366.8,929.3 L367.3,929.4 L367.8,929.4 L368.3,929.4 L368.8,929.4 L369.3,929.4 L369.8,929.4 L370.3,929.4 L370.8,929.4 L371.3,929.4 L371.8,929.4 L372.3,929.4 L372.8,929.4 L373.3,929.4 L373.8,929.4 L374.3,929.4 L374.8,929.4 L375.3,929.4 L375.8,929.4 L376.3,929.5 L376.8,929.5 L377.3,929.5 L377.8,929.5 L378.3,929.5 L378.8,929.5 L379.3,929.5 L379.8,929.5 L380.3,929.5 L380.8,929.5 L381.3,929.5 L381.8,929.5 L382.3,929.5 L382.8,929.5 L383.3,929.5 L383.8,929.5 L384.3,929.5 L384.8,929.5 L385.3,929.5 L385.8,929.5 L386.3,929.5 L386.8,929.5 L387.3,929.6 L387.8,929.6 L388.3,929.6 L388.8,929.6 L389.3,929.6 L389.8,929.6 L390.3,929.6 L390.8,929.6 L391.3,929.6 L391.8,929.6 L392.3,929.6 L392.8,929.6 L393.3,929.6 L393.8,929.6 L394.3,929.6 L394.8,929.6 L395.3,929.6 L395.8,929.6 L396.3,929.6 L396.8,929.6 L397.3,929.6 L397.8,929.6 L398.3,929.6 L398.8,929.6 L399.3,929.6 L399.8,929.6 L400.3,929.6 L400.8,929.6 L401.3,929.6 L401.8,929.6 L402.3,929.7 L402.8,929.7 L403.3,929.7 L403.8,929.7 L404.3,929.7 L404.8,929.7 L405.3,929.7 L405.8,929.7 L406.3,929.7 L406.8,929.7 L407.3,929.7 L407.8,929.7 L408.3,929.7 L408.8,929.7 L409.3,929.7 L409.8,929.7 L410.3,929.7 L410.8,929.7 L411.3,929.7 L411.8,929.7 L412.3,929.7 L412.8,929.7 L413.3,929.7 L413.8,929.7 L414.3,929.7 L414.8,929.7 L415.3,929.7 L415.8,929.7 L416.3,929.7 L416.8,929.7 L417.3,929.7 L417.8,929.7 L418.3,929.7 L418.8,929.7 L419.3,929.7 L419.8,929.7 L420.3,929.7 L420.8,929.7 L421.3,929.7 L421.8,929.7 L422.3,929.7 L422.8,929.7 L423.3,929.7 L423.8,929.8 L424.3,929.8 L424.8,929.8 L425.3,929.8 L425.8,929.8 L426.3,929.8 L426.8,929.8 L427.3,929.8 L427.8,929.8 L428.3,929.8 L428.8,929.8 L429.3,929.8 L429.8,929.8 L430.3,929.8 L430.8,929.8 L431.3,929.8 L431.8,929.8 L432.3,929.8 L432.8,929.8 L433.3,929.8 L433.8,929.8 L434.3,929.8 L434.8,929.8 L435.3,929.8 L435.8,929.8 L436.3,929.8 L436.8,929.8 L437.3,929.8 L437.8,929.8 L438.3,929.8 L438.8,929.8 L439.3,929.8 L439.8,929.8 L440.3,929.8 L440.8,929.8 L441.3,929.8 L441.8,929.8 L442.3,929.8 L442.8,929.8 L443.3,929.8 L443.8,929.8 L444.3,929.8 L444.8,929.8 L445.3,929.8 L445.8,929.8 L446.3,929.8 L446.8,929.8 L447.3,929.8 L447.8,929.8 L448.3,929.8 L448.8,929.8 L449.3,929.8 L449.8,929.8 L450.3,929.8 L450.8,929.8 L451.3,929.8 L451.8,929.8 L452.3,929.8 L452.8,929.8 L453.3,929.8 L453.8,929.8 L454.3,929.8 L454.8,929.8 L455.3,929.8 L455.8,929.8 L456.3,929.8 L456.8,929.8 L457.3,929.8 L457.8,929.8 L458.3,929.8 L458.8,929.8 L459.3,929.8 L459.8,929.9 L460.3,929.9 L460.8,929.9 L461.3,929.9 L461.8,929.9 L462.3,929.9 L462.8,929.9 L463.3,929.9 L463.8,929.9 L464.3,929.9 L464.8,929.9 L465.3,929.9 L465.8,929.9 L466.3,929.9 L466.8,929.9 L467.3,929.9 L467.8,929.9 L468.3,929.9 L468.8,929.9 L469.3,929.9 L469.8,929.9 L470.3,929.9 L470.8,929.9 L471.3,929.9 L471.8,929.9 L472.3,929.9 L472.8,929.9 L473.3,929.9 L473.8,929.9 L474.3,929.9 L474.8,929.9 L475.3,929.9 L475.8,929.9 L476.3,929.9 L476.8,929.9 L477.3,929.9 L477.8,929.9 L478.3,929.9 L478.8,929.9 L479.3,929.9 L479.8,929.9 L480.3,929.9 L480.8,929.9 L481.3,929.9 L481.8,929.9 L482.3,929.9 L482.8,929.9 L483.3,929.9 L483.8,929.9 L484.3,929.9 L484.8,929.9 L485.3,929.9 L485.8,929.9 L486.3,929.9 L486.8,929.9 L487.3,929.9 L487.8,929.9 L488.3,929.9 L488.8,929.9 L489.3,929.9 L489.8,929.9 L490.3,929.9 L490.8,929.9 L491.3,929.9 L491.8,929.9 L492.3,929.9 L492.8,929.9 L493.3,929.9 L493.8,929.9 L494.3,929.9 L494.8,929.9 L495.3,929.9 L495.8,929.9 L496.3,929.9 L496.8,929.9 L497.3,929.9 L497.8,929.9 L498.3,929.9 L498.8,929.9 L499.3,929.9 L499.8,929.9 L500.3,929.9 L500.8,929.9 L501.3,929.9 L501.8,929.9 L502.3,929.9 L502.8,929.9 L503.3,929.9 L503.8,929.9 L504.3,929.9 L504.8,929.9 L505.3,929.9 L505.8,929.9 L506.3,929.9 L506.8,929.9 L507.3,929.9 L507.8,929.9 L508.3,929.9 L508.8,929.9 L509.3,929.9 L509.8,929.9 L510.3,929.9 L510.8,929.9 L511.3,929.9 L511.8,929.9 L512.3,929.9 L512.8,929.9 L513.3,929.9 L513.8,929.9 L514.3,929.9 L514.8,929.9 L515.3,929.9 L515.8,929.9 L516.3,929.9 L516.8,929.9 L517.3,929.9 L517.8,929.9 L518.3,929.9 L518.8,929.9 L519.3,929.9 L519.8,929.9 L520.3,929.9 L520.8,929.9 L521.3,929.9 L521.8,929.9 L522.3,929.9 L522.8,929.9 L523.3,929.9 L523.8,929.9 L524.3,929.9 L524.8,929.9 L525.3,929.9 L525.8,929.9 L526.3,929.9 L526.8,929.9 L527.3,929.9 L527.8,929.9 L528.3,929.9 L528.8,929.9 L529.3,929.9 L529.8,929.9 L530.3,929.9 L530.8,929.9 L531.3,929.9 L531.8,929.9 L532.3,929.9 L532.8,929.9 L533.3,929.9 L533.8,929.9 L534.3,929.9 L534.8,929.9 L535.3,929.9 L535.8,929.9 L536.3,929.9 L536.8,929.9 L537.3,929.9 L537.8,929.9 L538.3,929.9 L538.8,929.9 L539.3,929.9 L539.8,929.9 L540.3,929.9 L540.8,929.9 L541.3,929.9 L541.8,929.9 L542.3,929.9 L542.8,929.9 L543.3,929.9 L543.8,929.9 L544.3,929.9 L544.8,929.9 L545.3,929.9 L545.8,929.9 L546.3,929.9 L546.8,929.9 L547.3,929.9 L547.8,929.9 L548.3,929.9 L548.8,929.9 L549.3,929.9 L549.8,929.9 L550.3,929.9 L550.8,929.9 L551.3,929.9 L551.8,929.9 L552.3,929.9 L552.8,929.9 L553.3,930.0 L553.8,930.0 L554.3,930.0 L554.8,930.0 L555.3,930.0 L555.8,930.0 L556.3,930.0 L556.8,930.0 L557.3,930.0 L557.8,930.0 L558.3,930.0 L558.8,930.0 L559.3,930.0 L559.8,930.0 L560.3,930.0 L560.8,930.0 L561.3,930.0 L561.8,930.0 L562.3,930.0 L562.8,930.0 L563.3,930.0 L563.8,930.0 L564.3,930.0 L564.8,930.0 L565.3,930.0 L565.8,930.0 L566.3,930.0 L566.8,930.0 L567.3,930.0 L567.8,930.0 L568.3,930.0 L568.8,930.0 L569.3,930.0 L569.8,930.0 L570.3,930.0 L570.8,930.0 L571.3,930.0 L571.8,930.0 L572.3,930.0 L572.8,930.0 L573.3,930.0 L573.8,930.0 L574.3,930.0 L574.8,930.0 L575.3,930.0 L575.8,930.0 L576.3,930.0 L576.8,930.0 L577.3,930.0 L577.8,930.0 L578.3,930.0 L578.8,930.0 L579.3,930.0 L579.8,930.0 L580.3,930.0 L580.8,930.0 L581.3,930.0 L581.8,930.0 L582.3,930.0 L582.8,930.0 L583.3,930.0 L583.8,930.0 L584.3,930.0 L584.8,930.0 L585.3,930.0 L585.8,930.0 L586.3,930.0 L586.8,930.0 L587.3,930.0 L587.8,930.0 L588.3,930.0 L588.8,930.0 L589.3,930.0 L589.8,930.0 L590.3,930.0 L590.8,930.0 L591.3,930.0 L591.8,930.0 L592.3,930.0 L592.8,930.0 L593.3,930.0 L593.8,930.0 L594.3,930.0 L594.8,930.0 L595.3,930.0 L595.8,930.0 L596.3,930.0 L596.8,930.0 L597.3,930.0 L597.8,930.0 L598.3,930.0 L598.8,930.0 L599.3,930.0 L599.8,930.0 L600.3,930.0 L600.8,930.0 L601.3,930.0 L601.8,930.0 L602.3,930.0 L602.8,930.0 L603.3,930.0 L603.8,930.0 L604.3,930.0 L604.8,930.0 L605.3,930.0 L605.8,930.0 L606.3,930.0 L606.8,930.0 L607.3,930.0 L607.8,930.0 L608.3,930.0 L608.8,930.0 L609.3,930.0 L609.8,930.0 L610.3,930.0 L610.8,930.0 L611.3,930.0 L611.8,930.0 L612.3,930.0 L612.8,930.0 L613.3,930.0 L613.8,930.0 L614.3,930.0 L614.8,930.0 L615.3,930.0 L615.8,930.0 L616.3,930.0 L616.8,930.0 L617.3,930.0 L617.8,930.0 L618.3,930.0 L618.8,930.0 L619.3,930.0 L619.8,930.0 L620.3,930.0 L620.8,930.0 L621.3,930.0 L621.8,930.0 L622.3,930.0 L622.8,930.0 L623.3,930.0 L623.8,930.0 L624.3,930.0 L624.8,930.0 L625.3,930.0 L625.8,930.0 L626.3,930.0 L626.8,930.0 L627.3,930.0 L627.8,930.0 L628.3,930.0 L628.8,930.0 L629.3,930.0 L629.8,930.0 L630.3,930.0 L630.8,930.0 L631.3,930.0 L631.8,930.0 L632.3,930.0 L632.8,930.0 L633.3,930.0 L633.8,930.0 L634.3,930.0 L634.8,930.0 L635.3,930.0 L635.8,930.0 L636.3,930.0 L636.8,930.0 L637.3,930.0 L637.8,930.0 L638.3,930.0 L638.8,930.0 L639.3,930.0 L639.8,930.0 L640.3,930.0 L640.8,930.0 L641.3,930.0 L641.8,930.0 L642.3,930.0 L642.8,930.0 L643.3,930.0 L643.8,930.0 L644.3,930.0 L644.8,930.0 L645.3,930.0 L645.8,930.0 L646.3,930.0 L646.8,930.0 L647.3,930.0 L647.8,930.0 L648.3,930.0 L648.8,930.0 L649.3,930.0 L649.8,930.0 L650.3,930.0 L650.8,930.0 L651.3,930.0 L651.8,930.0 L652.3,930.0 L652.8,930.0 L653.3,930.0 L653.8,930.0 L654.3,930.0 L654.8,930.0 L655.3,930.0 L655.8,930.0 L656.3,930.0 L656.8,930.0 L657.3,930.0 L657.8,930.0 L658.3,930.0 L658.8,930.0 L659.3,930.0 L659.8,930.0 L660.3,930.0 L660.8,930.0 L661.3,930.0 L661.8,930.0 L662.3,930.0 L662.8,930.0 L663.3,930.0 L663.8,930.0 L664.3,930.0 L664.8,930.0 L665.3,930.0 L665.8,930.0 L666.3,930.0 L666.8,930.0 L667.3,930.0 L667.8,930.0 L668.3,930.0 L668.8,930.0 L669.3,930.0 L669.8,930.0 L670.3,930.0 L670.8,930.0 L671.3,930.0 L671.8,930.0 L672.3,930.0 L672.8,930.0 L673.3,930.0 L673.8,930.0 L674.3,930.0 L674.8,930.0 L675.3,930.0 L675.8,930.0 L676.3,930.0 L676.8,930.0 L677.3,930.0 L677.8,930.0 L678.3,930.0 L678.8,930.0 L679.3,930.0 L679.8,930.0 L680.3,930.0 L680.8,930.0 L681.3,930.0 L681.8,930.0 L682.3,930.0 L682.8,930.0 L683.3,930.0 L683.8,930.0 L684.3,930.0 L684.8,930.0 L685.3,930.0 L685.8,930.0 L686.3,930.0 L686.8,930.0 L687.3,930.0 L687.8,930.0 L688.3,930.0 L688.8,930.0 L689.3,930.0 L689.8,930.0 L690.3,930.0 L690.8,930.0 L691.3,930.0 L691.8,930.0 L692.3,930.0 L692.8,930.0 L693.3,930.0 L693.8,930.0 L694.3,930.0 L694.8,930.0 L695.3,930.0 L695.8,930.0 L696.3,930.0 L696.8,930.0 L697.3,930.0 L697.8,930.0 L698.3,930.0 L698.8,930.0 L699.3,930.0 L699.8,930.0 L700.3,930.0 L700.8,930.0 L701.3,930.0 L701.8,930.0 L702.3,930.0 L702.8,930.0 L703.3,930.0 L703.8,930.0 L704.3,930.0 L704.8,930.0 L705.3,930.0 L705.8,930.0 L706.3,930.0 L706.8,930.0 L707.3,930.0 L707.8,930.0 L708.3,930.0 L708.8,930.0 L709.3,930.0 L709.8,930.0 L710.3,930.0 L710.8,930.0 L711.3,930.0 L711.8,930.0 L712.3,930.0 L712.8,930.0 L713.3,930.0 L713.8,930.0 L714.3,930.0 L714.8,930.0 L715.3,930.0 L715.8,930.0 L716.3,930.0 L716.8,930.0 L717.3,930.0 L717.8,930.0 L718.3,930.0 L718.8,930.0 L719.3,930.0 L719.8,930.0 L720.3,930.0 L720.8,930.0 L721.3,930.0 L721.8,930.0 L722.3,930.0 L722.8,930.0 L723.3,930.0 L723.8,930.0 L724.3,930.0 L724.8,930.0 L725.3,930.0 L725.8,930.0 L726.3,930.0 L726.8,930.0 L727.3,930.0 L727.8,930.0 L728.3,930.0" fill="none" stroke="#00B0F0" stroke-width="5" stroke-linecap="butt" stroke-linejoin="round"/>
<path d="M4.8,929.8 L5.3,929.8 L5.8,929.8 L6.3,929.8 L6.8,929.8 L7.3,929.8 L7.8,929.8 L8.3,929.8 L8.8,929.8 L9.3,929.8 L9.8,929.8 L10.3,929.8 L10.8,929.8 L11.3,929.8 L11.8,929.8 L12.3,929.8 L12.8,929.8 L13.3,929.8 L13.8,929.8 L14.3,929.8 L14.8,929.8 L15.3,929.8 L15.8,929.8 L16.3,929.8 L16.8,929.8 L17.3,929.8 L17.8,929.8 L18.3,929.8 L18.8,929.8 L19.3,929.8 L19.8,929.8 L20.3,929.8 L20.8,929.8 L21.3,929.8 L21.8,929.8 L22.3,929.8 L22.8,929.8 L23.3,929.8 L23.8,929.8 L24.3,929.8 L24.8,929.8 L25.3,929.8 L25.8,929.8 L26.3,929.8 L26.8,929.8 L27.3,929.8 L27.8,929.7 L28.3,929.7 L28.8,929.7 L29.3,929.7 L29.8,929.7 L30.3,929.7 L30.8,929.7 L31.3,929.7 L31.8,929.7 L32.3,929.7 L32.8,929.7 L33.3,929.7 L33.8,929.7 L34.3,929.7 L34.8,929.7 L35.3,929.7 L35.8,929.7 L36.3,929.7 L36.8,929.7 L37.3,929.7 L37.8,929.7 L38.3,929.7 L38.8,929.7 L39.3,929.7 L39.8,929.7 L40.3,929.7 L40.8,929.7 L41.3,929.7 L41.8,929.7 L42.3,929.7 L42.8,929.7 L43.3,929.7 L43.8,929.7 L44.3,929.7 L44.8,929.7 L45.3,929.7 L45.8,929.7 L46.3,929.7 L46.8,929.7 L47.3,929.7 L47.8,929.7 L48.3,929.7 L48.8,929.7 L49.3,929.6 L49.8,929.6 L50.3,929.6 L50.8,929.6 L51.3,929.6 L51.8,929.6 L52.3,929.6 L52.8,929.6 L53.3,929.6 L53.8,929.6 L54.3,929.6 L54.8,929.6 L55.3,929.6 L55.8,929.6 L56.3,929.6 L56.8,929.6 L57.3,929.6 L57.8,929.6 L58.3,929.6 L58.8,929.6 L59.3,929.6 L59.8,929.6 L60.3,929.6 L60.8,929.6 L61.3,929.6 L61.8,929.6 L62.3,929.6 L62.8,929.6 L63.3,929.6 L63.8,929.5 L64.3,929.5 L64.8,929.5 L65.3,929.5 L65.8,929.5 L66.3,929.5 L66.8,929.5 L67.3,929.5 L67.8,929.5 L68.3,929.5 L68.8,929.5 L69.3,929.5 L69.8,929.5 L70.3,929.5 L70.8,929.5 L71.3,929.5 L71.8,929.5 L72.3,929.5 L72.8,929.5 L73.3,929.5 L73.8,929.5 L74.3,929.5 L74.8,929.5 L75.3,929.4 L75.8,929.4 L76.3,929.4 L76.8,929.4 L77.3,929.4 L77.8,929.4 L78.3,929.4 L78.8,929.4 L79.3,929.4 L79.8,929.4 L80.3,929.4 L80.8,929.4 L81.3,929.4 L81.8,929.4 L82.3,929.4 L82.8,929.4 L83.3,929.4 L83.8,929.4 L84.3,929.3 L84.8,929.3 L85.3,929.3 L85.8,929.3 L86.3,929.3 L86.8,929.3 L87.3,929.3 L87.8,929.3 L88.3,929.3 L88.8,929.3 L89.3,929.3 L89.8,929.3 L90.3,929.3 L90.8,929.3 L91.3,929.3 L91.8,929.2 L92.3,929.2 L92.8,929.2 L93.3,929.2 L93.8,929.2 L94.3,929.2 L94.8,929.2 L95.3,929.2 L95.8,929.2 L96.3,929.2 L96.8,929.2 L97.3,929.2 L97.8,929.1 L98.3,929.1 L98.8,929.1 L99.3,929.1 L99.8,929.1 L100.3,929.1 L100.8,929.1 L101.3,929.1 L101.8,929.1 L102.3,929.1 L102.8,929.1 L103.3,929.0 L103.8,929.0 L104.3,929.0 L104.8,929.0 L105.3,929.0 L105.8,929.0 L106.3,929.0 L106.8,929.0 L107.3,929.0 L107.8,928.9 L108.3,928.9 L108.8,928.9 L109.3,928.9 L109.8,928.9 L110.3,928.9 L110.8,928.9 L111.3,928.9 L111.8,928.9 L112.3,928.8 L112.8,928.8 L113.3,928.8 L113.8,928.8 L114.3,928.8 L114.8,928.8 L115.3,928.8 L115.8,928.7 L116.3,928.7 L116.8,928.7 L117.3,928.7 L117.8,928.7 L118.3,928.7 L118.8,928.7 L119.3,928.6 L119.8,928.6 L120.3,928.6 L120.8,928.6 L121.3,928.6 L121.8,928.6 L122.3,928.5 L122.8,928.5 L123.3,928.5 L123.8,928.5 L124.3,928.5 L124.8,928.5 L125.3,928.4 L125.8,928.4 L126.3,928.4 L126.8,928.4 L127.3,928.4 L127.8,928.3 L128.3,928.3 L128.8,928.3 L129.3,928.3 L129.8,928.3 L130.3,928.2 L130.8,928.2 L131.3,928.2 L131.8,928.2 L132.3,928.1 L132.8,928.1 L133.3,928.1 L133.8,928.1 L134.3,928.0 L134.8,928.0 L135.3,928.0 L135.8,928.0 L136.3,927.9 L136.8,927.9 L137.3,927.9 L137.8,927.9 L138.3,927.8 L138.8,927.8 L139.3,927.8 L139.8,927.7 L140.3,927.7 L140.8,927.7 L141.3,927.6 L141.8,927.6 L142.3,927.6 L142.8,927.5 L143.3,927.5 L143.8,927.5 L144.3,927.4 L144.8,927.4 L145.3,927.4 L145.8,927.3 L146.3,927.3 L146.8,927.2 L147.3,927.2 L147.8,927.2 L148.3,927.1 L148.8,927.1 L149.3,927.0 L149.8,927.0 L150.3,926.9 L150.8,926.9 L151.3,926.9 L151.8,926.8 L152.3,926.8 L152.8,926.7 L153.3,926.7 L153.8,926.6 L154.3,926.5 L154.8,926.5 L155.3,926.4 L155.8,926.4 L156.3,926.3 L156.8,926.3 L157.3,926.2 L157.8,926.1 L158.3,926.1 L158.8,926.0 L159.3,925.9 L159.8,925.9 L160.3,925.8 L160.8,925.7 L161.3,925.7 L161.8,925.6 L162.3,925.5 L162.8,925.4 L163.3,925.3 L163.8,925.3 L164.3,925.2 L164.8,925.1 L165.3,925.0 L165.8,924.9 L166.3,924.8 L166.8,924.7 L167.3,924.6 L167.8,924.5 L168.3,924.4 L168.8,924.3 L169.3,924.2 L169.8,924.1 L170.3,924.0 L170.8,923.8 L171.3,923.7 L171.8,923.6 L172.3,923.5 L172.8,923.3 L173.3,923.2 L173.8,923.0 L174.3,922.9 L174.8,922.8 L175.3,922.6 L175.8,922.4 L176.3,922.3 L176.8,922.1 L177.3,921.9 L177.8,921.7 L178.3,921.6 L178.8,921.4 L179.3,921.2 L179.8,921.0 L180.3,920.8 L180.8,920.5 L181.3,920.3 L181.8,920.1 L182.3,919.8 L182.8,919.6 L183.3,919.3 L183.8,919.1 L184.3,918.8 L184.8,918.5 L185.3,918.2 L185.8,917.9 L186.3,917.6 L186.8,917.2 L187.3,916.9 L187.8,916.5 L188.3,916.1 L188.8,915.8 L189.3,915.4 L189.8,914.9 L190.3,914.5 L190.8,914.0 L191.3,913.6 L191.8,913.1 L192.3,912.6 L192.8,912.0 L193.3,911.5 L193.8,910.9 L194.3,910.3 L194.8,909.7 L195.3,909.0 L195.8,908.4 L196.3,907.6 L196.8,906.9 L197.3,906.1 L197.8,905.3 L198.3,904.5 L198.8,903.6 L199.3,902.7 L199.8,901.8 L200.3,900.8 L200.8,899.8 L201.3,898.7 L201.8,897.6 L202.3,896.5 L202.8,895.3 L203.3,894.1 L203.8,892.8 L204.3,891.5 L204.8,890.2 L205.3,888.8 L205.8,887.4 L206.3,885.9 L206.8,884.5 L207.3,883.0 L207.8,881.5 L208.3,880.0 L208.8,878.5 L209.3,877.0 L209.8,875.5 L210.3,874.1 L210.8,872.7 L211.3,871.4 L211.8,870.1 L212.3,868.9 L212.8,867.9 L213.3,866.9 L213.8,866.0 L214.3,865.3 L214.8,864.7 L215.3,864.3 L215.8,864.0 L216.3,863.9 L216.8,864.0 L217.3,864.2 L217.8,864.5 L218.3,865.0 L218.8,865.6 L219.3,866.4 L219.8,867.3 L220.3,868.2 L220.8,869.3 L221.3,870.4 L221.8,871.6 L222.3,872.9 L222.8,874.1 L223.3,875.4 L223.8,876.8 L224.3,878.1 L224.8,879.4 L225.3,880.7 L225.8,882.0 L226.3,883.2 L226.8,884.5 L227.3,885.6 L227.8,886.8 L228.3,887.9 L228.8,889.0 L229.3,890.0 L229.8,891.0 L230.3,891.9 L230.8,892.8 L231.3,893.6 L231.8,894.4 L232.3,895.2 L232.8,895.9 L233.3,896.6 L233.8,897.2 L234.3,897.8 L234.8,898.3 L235.3,898.8 L235.8,899.2 L236.3,899.7 L236.8,900.0 L237.3,900.4 L237.8,900.7 L238.3,901.0 L238.8,901.2 L239.3,901.4 L239.8,901.5 L240.3,901.7 L240.8,901.8 L241.3,901.8 L241.8,901.9 L242.3,901.9 L242.8,901.8 L243.3,901.7 L243.8,901.6 L244.3,901.5 L244.8,901.3 L245.3,901.1 L245.8,900.9 L246.3,900.6 L246.8,900.3 L247.3,900.0 L247.8,899.6 L248.3,899.2 L248.8,898.7 L249.3,898.2 L249.8,897.7 L250.3,897.1 L250.8,896.5 L251.3,895.8 L251.8,895.1 L252.3,894.4 L252.8,893.6 L253.3,892.8 L253.8,891.9 L254.3,891.0 L254.8,890.0 L255.3,889.0 L255.8,887.9 L256.3,886.8 L256.8,885.7 L257.3,884.5 L257.8,883.3 L258.3,882.0 L258.8,880.7 L259.3,879.4 L259.8,878.1 L260.3,876.7 L260.8,875.4 L261.3,874.0 L261.8,872.6 L262.3,871.3 L262.8,870.0 L263.3,868.7 L263.8,867.5 L264.3,866.4 L264.8,865.3 L265.3,864.3 L265.8,863.4 L266.3,862.7 L266.8,862.1 L267.3,861.6 L267.8,861.2 L268.3,861.0 L268.8,860.9 L269.3,861.0 L269.8,861.3 L270.3,861.7 L270.8,862.2 L271.3,862.9 L271.8,863.7 L272.3,864.6 L272.8,865.6 L273.3,866.6 L273.8,867.8 L274.3,869.0 L274.8,870.3 L275.3,871.6 L275.8,872.9 L276.3,874.3 L276.8,875.6 L277.3,877.0 L277.8,878.3 L278.3,879.6 L278.8,880.9 L279.3,882.2 L279.8,883.4 L280.3,884.6 L280.8,885.8 L281.3,886.9 L281.8,888.0 L282.3,889.0 L282.8,890.0 L283.3,890.9 L283.8,891.8 L284.3,892.6 L284.8,893.4 L285.3,894.2 L285.8,894.9 L286.3,895.6 L286.8,896.2 L287.3,896.8 L287.8,897.3 L288.3,897.8 L288.8,898.3 L289.3,898.7 L289.8,899.1 L290.3,899.4 L290.8,899.7 L291.3,900.0 L291.8,900.2 L292.3,900.4 L292.8,900.6 L293.3,900.7 L293.8,900.8 L294.3,900.8 L294.8,900.9 L295.3,900.8 L295.8,900.8 L296.3,900.7 L296.8,900.6 L297.3,900.4 L297.8,900.3 L298.3,900.0 L298.8,899.8 L299.3,899.5 L299.8,899.1 L300.3,898.8 L300.8,898.3 L301.3,897.9 L301.8,897.4 L302.3,896.9 L302.8,896.3 L303.3,895.7 L303.8,895.0 L304.3,894.3 L304.8,893.5 L305.3,892.8 L305.8,891.9 L306.3,891.0 L306.8,890.1 L307.3,889.1 L307.8,888.1 L308.3,887.0 L308.8,885.9 L309.3,884.8 L309.8,883.6 L310.3,882.4 L310.8,881.2 L311.3,879.9 L311.8,878.6 L312.3,877.3 L312.8,876.0 L313.3,874.7 L313.8,873.5 L314.3,872.2 L314.8,871.0 L315.3,869.9 L315.8,868.8 L316.3,867.8 L316.8,866.9 L317.3,866.0 L317.8,865.3 L318.3,864.7 L318.8,864.3 L319.3,864.0 L319.8,863.8 L320.3,863.8 L320.8,864.0 L321.3,864.3 L321.8,864.7 L322.3,865.3 L322.8,866.0 L323.3,866.9 L323.8,867.9 L324.3,868.9 L324.8,870.1 L325.3,871.4 L325.8,872.7 L326.3,874.1 L326.8,875.5 L327.3,876.9 L327.8,878.4 L328.3,879.9 L328.8,881.4 L329.3,882.8 L329.8,884.3 L330.3,885.8 L330.8,887.2 L331.3,888.6 L331.8,889.9 L332.3,891.3 L332.8,892.6 L333.3,893.8 L333.8,895.0 L334.3,896.2 L334.8,897.3 L335.3,898.4 L335.8,899.5 L336.3,900.5 L336.8,901.5 L337.3,902.4 L337.8,903.3 L338.3,904.2 L338.8,905.0 L339.3,905.8 L339.8,906.6 L340.3,907.4 L340.8,908.1 L341.3,908.7 L341.8,909.4 L342.3,910.0 L342.8,910.6 L343.3,911.2 L343.8,911.8 L344.3,912.3 L344.8,912.8 L345.3,913.3 L345.8,913.8 L346.3,914.2 L346.8,914.7 L347.3,915.1 L347.8,915.5 L348.3,915.9 L348.8,916.3 L349.3,916.6 L349.8,917.0 L350.3,917.3 L350.8,917.7 L351.3,918.0 L351.8,918.3 L352.3,918.6 L352.8,918.9 L353.3,919.1 L353.8,919.4 L354.3,919.6 L354.8,919.9 L355.3,920.1 L355.8,920.4 L356.3,920.6 L356.8,920.8 L357.3,921.0 L357.8,921.2 L358.3,921.4 L358.8,921.6 L359.3,921.8 L359.8,921.9 L360.3,922.1 L360.8,922.3 L361.3,922.5 L361.8,922.6 L362.3,922.8 L362.8,922.9 L363.3,923.1 L363.8,923.2 L364.3,923.3 L364.8,923.5 L365.3,923.6 L365.8,923.7 L366.3,923.8 L366.8,924.0 L367.3,924.1 L367.8,924.2 L368.3,924.3 L368.8,924.4 L369.3,924.5 L369.8,924.6 L370.3,924.7 L370.8,924.8 L371.3,924.9 L371.8,925.0 L372.3,925.1 L372.8,925.2 L373.3,925.2 L373.8,925.3 L374.3,925.4 L374.8,925.5 L375.3,925.6 L375.8,925.6 L376.3,925.7 L376.8,925.8 L377.3,925.9 L377.8,925.9 L378.3,926.0 L378.8,926.1 L379.3,926.1 L379.8,926.2 L380.3,926.2 L380.8,926.3 L381.3,926.4 L381.8,926.4 L382.3,926.5 L382.8,926.5 L383.3,926.6 L383.8,926.6 L384.3,926.7 L384.8,926.7 L385.3,926.8 L385.8,926.8 L386.3,926.9 L386.8,926.9 L387.3,927.0 L387.8,927.0 L388.3,927.1 L388.8,927.1 L389.3,927.1 L389.8,927.2 L390.3,927.2 L390.8,927.3 L391.3,927.3 L391.8,927.3 L392.3,927.4 L392.8,927.4 L393.3,927.5 L393.8,927.5 L394.3,927.5 L394.8,927.6 L395.3,927.6 L395.8,927.6 L396.3,927.7 L396.8,927.7 L397.3,927.7 L397.8,927.7 L398.3,927.8 L398.8,927.8 L399.3,927.8 L399.8,927.9 L400.3,927.9 L400.8,927.9 L401.3,927.9 L401.8,928.0 L402.3,928.0 L402.8,928.0 L403.3,928.0 L403.8,928.1 L404.3,928.1 L404.8,928.1 L405.3,928.1 L405.8,928.2 L406.3,928.2 L406.8,928.2 L407.3,928.2 L407.8,928.3 L408.3,928.3 L408.8,928.3 L409.3,928.3 L409.8,928.3 L410.3,928.4 L410.8,928.4 L411.3,928.4 L411.8,928.4 L412.3,928.4 L412.8,928.5 L413.3,928.5 L413.8,928.5 L414.3,928.5 L414.8,928.5 L415.3,928.5 L415.8,928.6 L416.3,928.6 L416.8,928.6 L417.3,928.6 L417.8,928.6 L418.3,928.6 L418.8,928.7 L419.3,928.7 L419.8,928.7 L420.3,928.7 L420.8,928.7 L421.3,928.7 L421.8,928.7 L422.3,928.8 L422.8,928.8 L423.3,928.8 L423.8,928.8 L424.3,928.8 L424.8,928.8 L425.3,928.8 L425.8,928.9 L426.3,928.9 L426.8,928.9 L427.3,928.9 L427.8,928.9 L428.3,928.9 L428.8,928.9 L429.3,928.9 L429.8,928.9 L430.3,929.0 L430.8,929.0 L431.3,929.0 L431.8,929.0 L432.3,929.0 L432.8,929.0 L433.3,929.0 L433.8,929.0 L434.3,929.0 L434.8,929.1 L435.3,929.1 L435.8,929.1 L436.3,929.1 L436.8,929.1 L437.3,929.1 L437.8,929.1 L438.3,929.1 L438.8,929.1 L439.3,929.1 L439.8,929.1 L440.3,929.2 L440.8,929.2 L441.3,929.2 L441.8,929.2 L442.3,929.2 L442.8,929.2 L443.3,929.2 L443.8,929.2 L444.3,929.2 L444.8,929.2 L445.3,929.2 L445.8,929.2 L446.3,929.2 L446.8,929.3 L447.3,929.3 L447.8,929.3 L448.3,929.3 L448.8,929.3 L449.3,929.3 L449.8,929.3 L450.3,929.3 L450.8,929.3 L451.3,929.3 L451.8,929.3 L452.3,929.3 L452.8,929.3 L453.3,929.3 L453.8,929.4 L454.3,929.4 L454.8,929.4 L455.3,929.4 L455.8,929.4 L456.3,929.4 L456.8,929.4 L457.3,929.4 L457.8,929.4 L458.3,929.4 L458.8,929.4 L459.3,929.4 L459.8,929.4 L460.3,929.4 L460.8,929.4 L461.3,929.4 L461.8,929.4 L462.3,929.4 L462.8,929.5 L463.3,929.5 L463.8,929.5 L464.3,929.5 L464.8,929.5 L465.3,929.5 L465.8,929.5 L466.3,929.5 L466.8,929.5 L467.3,929.5 L467.8,929.5 L468.3,929.5 L468.8,929.5 L469.3,929.5 L469.8,929.5 L470.3,929.5 L470.8,929.5 L471.3,929.5 L471.8,929.5 L472.3,929.5 L472.8,929.5 L473.3,929.5 L473.8,929.5 L474.3,929.6 L474.8,929.6 L475.3,929.6 L475.8,929.6 L476.3,929.6 L476.8,929.6 L477.3,929.6 L477.8,929.6 L478.3,929.6 L478.8,929.6 L479.3,929.6 L479.8,929.6 L480.3,929.6 L480.8,929.6 L481.3,929.6 L481.8,929.6 L482.3,929.6 L482.8,929.6 L483.3,929.6 L483.8,929.6 L484.3,929.6 L484.8,929.6 L485.3,929.6 L485.8,929.6 L486.3,929.6 L486.8,929.6 L487.3,929.6 L487.8,929.6 L488.3,929.6 L488.8,929.6 L489.3,929.7 L489.8,929.7 L490.3,929.7 L490.8,929.7 L491.3,929.7 L491.8,929.7 L492.3,929.7 L492.8,929.7 L493.3,929.7 L493.8,929.7 L494.3,929.7 L494.8,929.7 L495.3,929.7 L495.8,929.7 L496.3,929.7 L496.8,929.7 L497.3,929.7 L497.8,929.7 L498.3,929.7 L498.8,929.7 L499.3,929.7 L499.8,929.7 L500.3,929.7 L500.8,929.7 L501.3,929.7 L501.8,929.7 L502.3,929.7 L502.8,929.7 L503.3,929.7 L503.8,929.7 L504.3,929.7 L504.8,929.7 L505.3,929.7 L505.8,929.7 L506.3,929.7 L506.8,929.7 L507.3,929.7 L507.8,929.7 L508.3,929.7 L508.8,929.7 L509.3,929.7 L509.8,929.7 L510.3,929.7 L510.8,929.8 L511.3,929.8 L511.8,929.8 L512.3,929.8 L512.8,929.8 L513.3,929.8 L513.8,929.8 L514.3,929.8 L514.8,929.8 L515.3,929.8 L515.8,929.8 L516.3,929.8 L516.8,929.8 L517.3,929.8 L517.8,929.8 L518.3,929.8 L518.8,929.8 L519.3,929.8 L519.8,929.8 L520.3,929.8 L520.8,929.8 L521.3,929.8 L521.8,929.8 L522.3,929.8 L522.8,929.8 L523.3,929.8 L523.8,929.8 L524.3,929.8 L524.8,929.8 L525.3,929.8 L525.8,929.8 L526.3,929.8 L526.8,929.8 L527.3,929.8 L527.8,929.8 L528.3,929.8 L528.8,929.8 L529.3,929.8 L529.8,929.8 L530.3,929.8 L530.8,929.8 L531.3,929.8 L531.8,929.8 L532.3,929.8 L532.8,929.8 L533.3,929.8 L533.8,929.8 L534.3,929.8 L534.8,929.8 L535.3,929.8 L535.8,929.8 L536.3,929.8 L536.8,929.8 L537.3,929.8 L537.8,929.8 L538.3,929.8 L538.8,929.8 L539.3,929.8 L539.8,929.8 L540.3,929.8 L540.8,929.8 L541.3,929.8 L541.8,929.8 L542.3,929.8 L542.8,929.8 L543.3,929.8 L543.8,929.8 L544.3,929.8 L544.8,929.8 L545.3,929.8 L545.8,929.8 L546.3,929.8 L546.8,929.9 L547.3,929.9 L547.8,929.9 L548.3,929.9 L548.8,929.9 L549.3,929.9 L549.8,929.9 L550.3,929.9 L550.8,929.9 L551.3,929.9 L551.8,929.9 L552.3,929.9 L552.8,929.9 L553.3,929.9 L553.8,929.9 L554.3,929.9 L554.8,929.9 L555.3,929.9 L555.8,929.9 L556.3,929.9 L556.8,929.9 L557.3,929.9 L557.8,929.9 L558.3,929.9 L558.8,929.9 L559.3,929.9 L559.8,929.9 L560.3,929.9 L560.8,929.9 L561.3,929.9 L561.8,929.9 L562.3,929.9 L562.8,929.9 L563.3,929.9 L563.8,929.9 L564.3,929.9 L564.8,929.9 L565.3,929.9 L565.8,929.9 L566.3,929.9 L566.8,929.9 L567.3,929.9 L567.8,929.9 L568.3,929.9 L568.8,929.9 L569.3,929.9 L569.8,929.9 L570.3,929.9 L570.8,929.9 L571.3,929.9 L571.8,929.9 L572.3,929.9 L572.8,929.9 L573.3,929.9 L573.8,929.9 L574.3,929.9 L574.8,929.9 L575.3,929.9 L575.8,929.9 L576.3,929.9 L576.8,929.9 L577.3,929.9 L577.8,929.9 L578.3,929.9 L578.8,929.9 L579.3,929.9 L579.8,929.9 L580.3,929.9 L580.8,929.9 L581.3,929.9 L581.8,929.9 L582.3,929.9 L582.8,929.9 L583.3,929.9 L583.8,929.9 L584.3,929.9 L584.8,929.9 L585.3,929.9 L585.8,929.9 L586.3,929.9 L586.8,929.9 L587.3,929.9 L587.8,929.9 L588.3,929.9 L588.8,929.9 L589.3,929.9 L589.8,929.9 L590.3,929.9 L590.8,929.9 L591.3,929.9 L591.8,929.9 L592.3,929.9 L592.8,929.9 L593.3,929.9 L593.8,929.9 L594.3,929.9 L594.8,929.9 L595.3,929.9 L595.8,929.9 L596.3,929.9 L596.8,929.9 L597.3,929.9 L597.8,929.9 L598.3,929.9 L598.8,929.9 L599.3,929.9 L599.8,929.9 L600.3,929.9 L600.8,929.9 L601.3,929.9 L601.8,929.9 L602.3,929.9 L602.8,929.9 L603.3,929.9 L603.8,929.9 L604.3,929.9 L604.8,929.9 L605.3,929.9 L605.8,929.9 L606.3,929.9 L606.8,929.9 L607.3,929.9 L607.8,929.9 L608.3,929.9 L608.8,929.9 L609.3,929.9 L609.8,929.9 L610.3,929.9 L610.8,929.9 L611.3,929.9 L611.8,929.9 L612.3,929.9 L612.8,929.9 L613.3,929.9 L613.8,929.9 L614.3,929.9 L614.8,929.9 L615.3,929.9 L615.8,929.9 L616.3,929.9 L616.8,929.9 L617.3,929.9 L617.8,929.9 L618.3,929.9 L618.8,929.9 L619.3,929.9 L619.8,929.9 L620.3,929.9 L620.8,929.9 L621.3,929.9 L621.8,929.9 L622.3,929.9 L622.8,929.9 L623.3,929.9 L623.8,929.9 L624.3,929.9 L624.8,929.9 L625.3,929.9 L625.8,929.9 L626.3,929.9 L626.8,929.9 L627.3,929.9 L627.8,929.9 L628.3,929.9 L628.8,929.9 L629.3,929.9 L629.8,929.9 L630.3,929.9 L630.8,929.9 L631.3,929.9 L631.8,929.9 L632.3,929.9 L632.8,929.9 L633.3,929.9 L633.8,929.9 L634.3,929.9 L634.8,929.9 L635.3,929.9 L635.8,929.9 L636.3,929.9 L636.8,929.9 L637.3,929.9 L637.8,929.9 L638.3,929.9 L638.8,929.9 L639.3,929.9 L639.8,929.9 L640.3,929.9 L640.8,930.0 L641.3,930.0 L641.8,930.0 L642.3,930.0 L642.8,930.0 L643.3,930.0 L643.8,930.0 L644.3,930.0 L644.8,930.0 L645.3,930.0 L645.8,930.0 L646.3,930.0 L646.8,930.0 L647.3,930.0 L647.8,930.0 L648.3,930.0 L648.8,930.0 L649.3,930.0 L649.8,930.0 L650.3,930.0 L650.8,930.0 L651.3,930.0 L651.8,930.0 L652.3,930.0 L652.8,930.0 L653.3,930.0 L653.8,930.0 L654.3,930.0 L654.8,930.0 L655.3,930.0 L655.8,930.0 L656.3,930.0 L656.8,930.0 L657.3,930.0 L657.8,930.0 L658.3,930.0 L658.8,930.0 L659.3,930.0 L659.8,930.0 L660.3,930.0 L660.8,930.0 L661.3,930.0 L661.8,930.0 L662.3,930.0 L662.8,930.0 L663.3,930.0 L663.8,930.0 L664.3,930.0 L664.8,930.0 L665.3,930.0 L665.8,930.0 L666.3,930.0 L666.8,930.0 L667.3,930.0 L667.8,930.0 L668.3,930.0 L668.8,930.0 L669.3,930.0 L669.8,930.0 L670.3,930.0 L670.8,930.0 L671.3,930.0 L671.8,930.0 L672.3,930.0 L672.8,930.0 L673.3,930.0 L673.8,930.0 L674.3,930.0 L674.8,930.0 L675.3,930.0 L675.8,930.0 L676.3,930.0 L676.8,930.0 L677.3,930.0 L677.8,930.0 L678.3,930.0 L678.8,930.0 L679.3,930.0 L679.8,930.0 L680.3,930.0 L680.8,930.0 L681.3,930.0 L681.8,930.0 L682.3,930.0 L682.8,930.0 L683.3,930.0 L683.8,930.0 L684.3,930.0 L684.8,930.0 L685.3,930.0 L685.8,930.0 L686.3,930.0 L686.8,930.0 L687.3,930.0 L687.8,930.0 L688.3,930.0 L688.8,930.0 L689.3,930.0 L689.8,930.0 L690.3,930.0 L690.8,930.0 L691.3,930.0 L691.8,930.0 L692.3,930.0 L692.8,930.0 L693.3,930.0 L693.8,930.0 L694.3,930.0 L694.8,930.0 L695.3,930.0 L695.8,930.0 L696.3,930.0 L696.8,930.0 L697.3,930.0 L697.8,930.0 L698.3,930.0 L698.8,930.0 L699.3,930.0 L699.8,930.0 L700.3,930.0 L700.8,930.0 L701.3,930.0 L701.8,930.0 L702.3,930.0 L702.8,930.0 L703.3,930.0 L703.8,930.0 L704.3,930.0 L704.8,930.0 L705.3,930.0 L705.8,930.0 L706.3,930.0 L706.8,930.0 L707.3,930.0 L707.8,930.0 L708.3,930.0 L708.8,930.0 L709.3,930.0 L709.8,930.0 L710.3,930.0 L710.8,930.0 L711.3,930.0 L711.8,930.0 L712.3,930.0 L712.8,930.0 L713.3,930.0 L713.8,930.0 L714.3,930.0 L714.8,930.0 L715.3,930.0 L715.8,930.0 L716.3,930.0 L716.8,930.0 L717.3,930.0 L717.8,930.0 L718.3,930.0 L718.8,930.0 L719.3,930.0 L719.8,930.0 L720.3,930.0 L720.8,930.0 L721.3,930.0 L721.8,930.0 L722.3,930.0 L722.8,930.0 L723.3,930.0 L723.8,930.0 L724.3,930.0 L724.8,930.0 L725.3,930.0 L725.8,930.0 L726.3,930.0 L726.8,930.0 L727.3,930.0 L727.8,930.0 L728.3,930.0" fill="none" stroke="#00B0F0" stroke-width="5" stroke-linecap="butt" stroke-linejoin="round"/>
<path d="M4.8,930.0 L5.3,930.0 L5.8,930.0 L6.3,930.0 L6.8,930.0 L7.3,930.0 L7.8,930.0 L8.3,930.0 L8.8,930.0 L9.3,930.0 L9.8,930.0 L10.3,930.0 L10.8,930.0 L11.3,930.0 L11.8,930.0 L12.3,930.0 L12.8,930.0 L13.3,930.0 L13.8,930.0 L14.3,930.0 L14.8,930.0 L15.3,930.0 L15.8,930.0 L16.3,930.0 L16.8,930.0 L17.3,930.0 L17.8,930.0 L18.3,930.0 L18.8,930.0 L19.3,930.0 L19.8,930.0 L20.3,930.0 L20.8,930.0 L21.3,930.0 L21.8,930.0 L22.3,930.0 L22.8,930.0 L23.3,930.0 L23.8,930.0 L24.3,930.0 L24.8,930.0 L25.3,930.0 L25.8,930.0 L26.3,930.0 L26.8,930.0 L27.3,930.0 L27.8,930.0 L28.3,930.0 L28.8,930.0 L29.3,930.0 L29.8,930.0 L30.3,930.0 L30.8,930.0 L31.3,930.0 L31.8,930.0 L32.3,930.0 L32.8,930.0 L33.3,930.0 L33.8,930.0 L34.3,930.0 L34.8,930.0 L35.3,930.0 L35.8,930.0 L36.3,930.0 L36.8,930.0 L37.3,930.0 L37.8,930.0 L38.3,930.0 L38.8,930.0 L39.3,930.0 L39.8,930.0 L40.3,930.0 L40.8,930.0 L41.3,930.0 L41.8,930.0 L42.3,930.0 L42.8,930.0 L43.3,930.0 L43.8,930.0 L44.3,930.0 L44.8,930.0 L45.3,930.0 L45.8,930.0 L46.3,930.0 L46.8,930.0 L47.3,930.0 L47.8,930.0 L48.3,930.0 L48.8,930.0 L49.3,930.0 L49.8,930.0 L50.3,930.0 L50.8,930.0 L51.3,930.0 L51.8,930.0 L52.3,930.0 L52.8,930.0 L53.3,930.0 L53.8,930.0 L54.3,930.0 L54.8,930.0 L55.3,930.0 L55.8,930.0 L56.3,930.0 L56.8,930.0 L57.3,930.0 L57.8,930.0 L58.3,930.0 L58.8,930.0 L59.3,930.0 L59.8,930.0 L60.3,930.0 L60.8,930.0 L61.3,930.0 L61.8,930.0 L62.3,930.0 L62.8,930.0 L63.3,930.0 L63.8,930.0 L64.3,930.0 L64.8,930.0 L65.3,930.0 L65.8,930.0 L66.3,930.0 L66.8,930.0 L67.3,930.0 L67.8,930.0 L68.3,930.0 L68.8,930.0 L69.3,930.0 L69.8,930.0 L70.3,930.0 L70.8,930.0 L71.3,930.0 L71.8,930.0 L72.3,930.0 L72.8,930.0 L73.3,930.0 L73.8,930.0 L74.3,930.0 L74.8,930.0 L75.3,930.0 L75.8,930.0 L76.3,930.0 L76.8,930.0 L77.3,930.0 L77.8,930.0 L78.3,930.0 L78.8,930.0 L79.3,930.0 L79.8,930.0 L80.3,930.0 L80.8,930.0 L81.3,930.0 L81.8,930.0 L82.3,930.0 L82.8,930.0 L83.3,930.0 L83.8,930.0 L84.3,930.0 L84.8,930.0 L85.3,930.0 L85.8,930.0 L86.3,930.0 L86.8,930.0 L87.3,930.0 L87.8,930.0 L88.3,930.0 L88.8,930.0 L89.3,930.0 L89.8,930.0 L90.3,930.0 L90.8,930.0 L91.3,930.0 L91.8,930.0 L92.3,930.0 L92.8,930.0 L93.3,930.0 L93.8,930.0 L94.3,930.0 L94.8,930.0 L95.3,930.0 L95.8,930.0 L96.3,930.0 L96.8,930.0 L97.3,930.0 L97.8,930.0 L98.3,930.0 L98.8,930.0 L99.3,930.0 L99.8,930.0 L100.3,930.0 L100.8,930.0 L101.3,930.0 L101.8,930.0 L102.3,930.0 L102.8,930.0 L103.3,930.0 L103.8,930.0 L104.3,930.0 L104.8,930.0 L105.3,930.0 L105.8,930.0 L106.3,930.0 L106.8,930.0 L107.3,930.0 L107.8,930.0 L108.3,930.0 L108.8,930.0 L109.3,930.0 L109.8,930.0 L110.3,930.0 L110.8,930.0 L111.3,930.0 L111.8,930.0 L112.3,930.0 L112.8,930.0 L113.3,930.0 L113.8,930.0 L114.3,930.0 L114.8,930.0 L115.3,930.0 L115.8,929.9 L116.3,929.9 L116.8,929.9 L117.3,929.9 L117.8,929.9 L118.3,929.9 L118.8,929.9 L119.3,929.9 L119.8,929.9 L120.3,929.9 L120.8,929.9 L121.3,929.9 L121.8,929.9 L122.3,929.9 L122.8,929.9 L123.3,929.9 L123.8,929.9 L124.3,929.9 L124.8,929.9 L125.3,929.9 L125.8,929.9 L126.3,929.9 L126.8,929.9 L127.3,929.9 L127.8,929.9 L128.3,929.9 L128.8,929.9 L129.3,929.9 L129.8,929.9 L130.3,929.9 L130.8,929.9 L131.3,929.9 L131.8,929.9 L132.3,929.9 L132.8,929.9 L133.3,929.9 L133.8,929.9 L134.3,929.9 L134.8,929.9 L135.3,929.9 L135.8,929.9 L136.3,929.9 L136.8,929.9 L137.3,929.9 L137.8,929.9 L138.3,929.9 L138.8,929.9 L139.3,929.9 L139.8,929.9 L140.3,929.9 L140.8,929.9 L141.3,929.9 L141.8,929.9 L142.3,929.9 L142.8,929.9 L143.3,929.9 L143.8,929.9 L144.3,929.9 L144.8,929.9 L145.3,929.9 L145.8,929.9 L146.3,929.9 L146.8,929.9 L147.3,929.9 L147.8,929.9 L148.3,929.9 L148.8,929.9 L149.3,929.9 L149.8,929.9 L150.3,929.9 L150.8,929.9 L151.3,929.9 L151.8,929.9 L152.3,929.9 L152.8,929.9 L153.3,929.9 L153.8,929.9 L154.3,929.9 L154.8,929.9 L155.3,929.9 L155.8,929.9 L156.3,929.9 L156.8,929.9 L157.3,929.9 L157.8,929.9 L158.3,929.9 L158.8,929.9 L159.3,929.9 L159.8,929.9 L160.3,929.9 L160.8,929.9 L161.3,929.9 L161.8,929.9 L162.3,929.9 L162.8,929.9 L163.3,929.9 L163.8,929.9 L164.3,929.9 L164.8,929.9 L165.3,929.9 L165.8,929.9 L166.3,929.9 L166.8,929.9 L167.3,929.9 L167.8,929.9 L168.3,929.9 L168.8,929.9 L169.3,929.9 L169.8,929.9 L170.3,929.9 L170.8,929.9 L171.3,929.9 L171.8,929.9 L172.3,929.9 L172.8,929.9 L173.3,929.9 L173.8,929.9 L174.3,929.9 L174.8,929.9 L175.3,929.9 L175.8,929.9 L176.3,929.9 L176.8,929.9 L177.3,929.9 L177.8,929.9 L178.3,929.9 L178.8,929.9 L179.3,929.9 L179.8,929.9 L180.3,929.9 L180.8,929.9 L181.3,929.9 L181.8,929.9 L182.3,929.9 L182.8,929.9 L183.3,929.9 L183.8,929.9 L184.3,929.9 L184.8,929.9 L185.3,929.9 L185.8,929.9 L186.3,929.9 L186.8,929.9 L187.3,929.9 L187.8,929.9 L188.3,929.9 L188.8,929.9 L189.3,929.9 L189.8,929.9 L190.3,929.9 L190.8,929.9 L191.3,929.9 L191.8,929.9 L192.3,929.9 L192.8,929.9 L193.3,929.9 L193.8,929.9 L194.3,929.9 L194.8,929.9 L195.3,929.9 L195.8,929.9 L196.3,929.9 L196.8,929.9 L197.3,929.9 L197.8,929.9 L198.3,929.9 L198.8,929.9 L199.3,929.9 L199.8,929.9 L200.3,929.9 L200.8,929.8 L201.3,929.8 L201.8,929.8 L202.3,929.8 L202.8,929.8 L203.3,929.8 L203.8,929.8 L204.3,929.8 L204.8,929.8 L205.3,929.8 L205.8,929.8 L206.3,929.8 L206.8,929.8 L207.3,929.8 L207.8,929.8 L208.3,929.8 L208.8,929.8 L209.3,929.8 L209.8,929.8 L210.3,929.8 L210.8,929.8 L211.3,929.8 L211.8,929.8 L212.3,929.8 L212.8,929.8 L213.3,929.8 L213.8,929.8 L214.3,929.8 L214.8,929.8 L215.3,929.8 L215.8,929.8 L216.3,929.8 L216.8,929.8 L217.3,929.8 L217.8,929.8 L218.3,929.8 L218.8,929.8 L219.3,929.8 L219.8,929.8 L220.3,929.8 L220.8,929.8 L221.3,929.8 L221.8,929.8 L222.3,929.8 L222.8,929.8 L223.3,929.8 L223.8,929.8 L224.3,929.8 L224.8,929.8 L225.3,929.8 L225.8,929.8 L226.3,929.8 L226.8,929.8 L227.3,929.8 L227.8,929.8 L228.3,929.8 L228.8,929.8 L229.3,929.8 L229.8,929.8 L230.3,929.8 L230.8,929.8 L231.3,929.8 L231.8,929.8 L232.3,929.8 L232.8,929.8 L233.3,929.7 L233.8,929.7 L234.3,929.7 L234.8,929.7 L235.3,929.7 L235.8,929.7 L236.3,929.7 L236.8,929.7 L237.3,929.7 L237.8,929.7 L238.3,929.7 L238.8,929.7 L239.3,929.7 L239.8,929.7 L240.3,929.7 L240.8,929.7 L241.3,929.7 L241.8,929.7 L242.3,929.7 L242.8,929.7 L243.3,929.7 L243.8,929.7 L244.3,929.7 L244.8,929.7 L245.3,929.7 L245.8,929.7 L246.3,929.7 L246.8,929.7 L247.3,929.7 L247.8,929.7 L248.3,929.7 L248.8,929.7 L249.3,929.7 L249.8,929.7 L250.3,929.7 L250.8,929.7 L251.3,929.7 L251.8,929.7 L252.3,929.7 L252.8,929.6 L253.3,929.6 L253.8,929.6 L254.3,929.6 L254.8,929.6 L255.3,929.6 L255.8,929.6 L256.3,929.6 L256.8,929.6 L257.3,929.6 L257.8,929.6 L258.3,929.6 L258.8,929.6 L259.3,929.6 L259.8,929.6 L260.3,929.6 L260.8,929.6 L261.3,929.6 L261.8,929.6 L262.3,929.6 L262.8,929.6 L263.3,929.6 L263.8,929.6 L264.3,929.6 L264.8,929.6 L265.3,929.6 L265.8,929.6 L266.3,929.5 L266.8,929.5 L267.3,929.5 L267.8,929.5 L268.3,929.5 L268.8,929.5 L269.3,929.5 L269.8,929.5 L270.3,929.5 L270.8,929.5 L271.3,929.5 L271.8,929.5 L272.3,929.5 L272.8,929.5 L273.3,929.5 L273.8,929.5 L274.3,929.5 L274.8,929.5 L275.3,929.5 L275.8,929.5 L276.3,929.4 L276.8,929.4 L277.3,929.4 L277.8,929.4 L278.3,929.4 L278.8,929.4 L279.3,929.4 L279.8,929.4 L280.3,929.4 L280.8,929.4 L281.3,929.4 L281.8,929.4 L282.3,929.4 L282.8,929.4 L283.3,929.4 L283.8,929.4 L284.3,929.4 L284.8,929.3 L285.3,929.3 L285.8,929.3 L286.3,929.3 L286.8,929.3 L287.3,929.3 L287.8,929.3 L288.3,929.3 L288.8,929.3 L289.3,929.3 L289.8,929.3 L290.3,929.3 L290.8,929.3 L291.3,929.2 L291.8,929.2 L292.3,929.2 L292.8,929.2 L293.3,929.2 L293.8,929.2 L294.3,929.2 L294.8,929.2 L295.3,929.2 L295.8,929.2 L296.3,929.2 L296.8,929.1 L297.3,929.1 L297.8,929.1 L298.3,929.1 L298.8,929.1 L299.3,929.1 L299.8,929.1 L300.3,929.1 L300.8,929.1 L301.3,929.1 L301.8,929.0 L302.3,929.0 L302.8,929.0 L303.3,929.0 L303.8,929.0 L304.3,929.0 L304.8,929.0 L305.3,929.0 L305.8,929.0 L306.3,928.9 L306.8,928.9 L307.3,928.9 L307.8,928.9 L308.3,928.9 L308.8,928.9 L309.3,928.9 L309.8,928.8 L310.3,928.8 L310.8,928.8 L311.3,928.8 L311.8,928.8 L312.3,928.8 L312.8,928.8 L313.3,928.7 L313.8,928.7 L314.3,928.7 L314.8,928.7 L315.3,928.7 L315.8,928.7 L316.3,928.6 L316.8,928.6 L317.3,928.6 L317.8,928.6 L318.3,928.6 L318.8,928.6 L319.3,928.5 L319.8,928.5 L320.3,928.5 L320.8,928.5 L321.3,928.5 L321.8,928.4 L322.3,928.4 L322.8,928.4 L323.3,928.4 L323.8,928.3 L324.3,928.3 L324.8,928.3 L325.3,928.3 L325.8,928.3 L326.3,928.2 L326.8,928.2 L327.3,928.2 L327.8,928.2 L328.3,928.1 L328.8,928.1 L329.3,928.1 L329.8,928.0 L330.3,928.0 L330.8,928.0 L331.3,928.0 L331.8,927.9 L332.3,927.9 L332.8,927.9 L333.3,927.8 L333.8,927.8 L334.3,927.8 L334.8,927.7 L335.3,927.7 L335.8,927.7 L336.3,927.6 L336.8,927.6 L337.3,927.6 L337.8,927.5 L338.3,927.5 L338.8,927.5 L339.3,927.4 L339.8,927.4 L340.3,927.3 L340.8,927.3 L341.3,927.2 L341.8,927.2 L342.3,927.2 L342.8,927.1 L343.3,927.1 L343.8,927.0 L344.3,927.0 L344.8,926.9 L345.3,926.9 L345.8,926.8 L346.3,926.8 L346.8,926.7 L347.3,926.6 L347.8,926.6 L348.3,926.5 L348.8,926.5 L349.3,926.4 L349.8,926.3 L350.3,926.3 L350.8,926.2 L351.3,926.1 L351.8,926.1 L352.3,926.0 L352.8,925.9 L353.3,925.9 L353.8,925.8 L354.3,925.7 L354.8,925.6 L355.3,925.5 L355.8,925.5 L356.3,925.4 L356.8,925.3 L357.3,925.2 L357.8,925.1 L358.3,925.0 L358.8,924.9 L359.3,924.8 L359.8,924.7 L360.3,924.6 L360.8,924.5 L361.3,924.3 L361.8,924.2 L362.3,924.1 L362.8,924.0 L363.3,923.8 L363.8,923.7 L364.3,923.6 L364.8,923.4 L365.3,923.3 L365.8,923.1 L366.3,923.0 L366.8,922.8 L367.3,922.7 L367.8,922.5 L368.3,922.3 L368.8,922.1 L369.3,921.9 L369.8,921.7 L370.3,921.5 L370.8,921.3 L371.3,921.1 L371.8,920.9 L372.3,920.6 L372.8,920.4 L373.3,920.2 L373.8,919.9 L374.3,919.6 L374.8,919.3 L375.3,919.1 L375.8,918.8 L376.3,918.4 L376.8,918.1 L377.3,917.8 L377.8,917.4 L378.3,917.0 L378.8,916.7 L379.3,916.3 L379.8,915.9 L380.3,915.4 L380.8,915.0 L381.3,914.5 L381.8,914.0 L382.3,913.5 L382.8,912.9 L383.3,912.4 L383.8,911.8 L384.3,911.2 L384.8,910.5 L385.3,909.9 L385.8,909.2 L386.3,908.4 L386.8,907.6 L387.3,906.8 L387.8,906.0 L388.3,905.1 L388.8,904.2 L389.3,903.2 L389.8,902.2 L390.3,901.1 L390.8,900.0 L391.3,898.8 L391.8,897.6 L392.3,896.3 L392.8,894.9 L393.3,893.5 L393.8,892.0 L394.3,890.5 L394.8,888.9 L395.3,887.3 L395.8,885.5 L396.3,883.8 L396.8,881.9 L397.3,880.1 L397.8,878.2 L398.3,876.2 L398.8,874.2 L399.3,872.2 L399.8,870.2 L400.3,868.2 L400.8,866.3 L401.3,864.4 L401.8,862.6 L402.3,860.8 L402.8,859.2 L403.3,857.7 L403.8,856.4 L404.3,855.2 L404.8,854.3 L405.3,853.6 L405.8,853.1 L406.3,852.8 L406.8,852.8 L407.3,853.1 L407.8,853.5 L408.3,854.2 L408.8,855.1 L409.3,856.2 L409.8,857.4 L410.3,858.8 L410.8,860.4 L411.3,862.0 L411.8,863.7 L412.3,865.5 L412.8,867.3 L413.3,869.1 L413.8,871.0 L414.3,872.8 L414.8,874.6 L415.3,876.4 L415.8,878.1 L416.3,879.7 L416.8,881.4 L417.3,882.9 L417.8,884.4 L418.3,885.9 L418.8,887.2 L419.3,888.5 L419.8,889.8 L420.3,890.9 L420.8,892.0 L421.3,893.1 L421.8,894.1 L422.3,895.0 L422.8,895.9 L423.3,896.7 L423.8,897.4 L424.3,898.1 L424.8,898.8 L425.3,899.4 L425.8,900.0 L426.3,900.5 L426.8,900.9 L427.3,901.3 L427.8,901.7 L428.3,902.1 L428.8,902.4 L429.3,902.6 L429.8,902.8 L430.3,903.0 L430.8,903.2 L431.3,903.3 L431.8,903.3 L432.3,903.4 L432.8,903.4 L433.3,903.3 L433.8,903.3 L434.3,903.2 L434.8,903.0 L435.3,902.8 L435.8,902.6 L436.3,902.4 L436.8,902.1 L437.3,901.7 L437.8,901.4 L438.3,901.0 L438.8,900.5 L439.3,900.0 L439.8,899.4 L440.3,898.9 L440.8,898.2 L441.3,897.5 L441.8,896.8 L442.3,896.0 L442.8,895.1 L443.3,894.2 L443.8,893.3 L444.3,892.3 L444.8,891.2 L445.3,890.0 L445.8,888.8 L446.3,887.5 L446.8,886.2 L447.3,884.8 L447.8,883.3 L448.3,881.8 L448.8,880.2 L449.3,878.5 L449.8,876.8 L450.3,875.0 L450.8,873.2 L451.3,871.4 L451.8,869.5 L452.3,867.6 L452.8,865.7 L453.3,863.8 L453.8,862.0 L454.3,860.2 L454.8,858.5 L455.3,856.9 L455.8,855.4 L456.3,854.1 L456.8,852.9 L457.3,851.9 L457.8,851.1 L458.3,850.6 L458.8,850.2 L459.3,850.1 L459.8,850.3 L460.3,850.7 L460.8,851.3 L461.3,852.1 L461.8,853.1 L462.3,854.3 L462.8,855.7 L463.3,857.2 L463.8,858.9 L464.3,860.6 L464.8,862.4 L465.3,864.2 L465.8,866.1 L466.3,868.0 L466.8,869.9 L467.3,871.8 L467.8,873.6 L468.3,875.4 L468.8,877.2 L469.3,878.9 L469.8,880.5 L470.3,882.1 L470.8,883.7 L471.3,885.1 L471.8,886.5 L472.3,887.8 L472.8,889.1 L473.3,890.3 L473.8,891.4 L474.3,892.5 L474.8,893.5 L475.3,894.5 L475.8,895.3 L476.3,896.2 L476.8,897.0 L477.3,897.7 L477.8,898.4 L478.3,899.0 L478.8,899.6 L479.3,900.1 L479.8,900.6 L480.3,901.0 L480.8,901.5 L481.3,901.8 L481.8,902.1 L482.3,902.4 L482.8,902.7 L483.3,902.9 L483.8,903.1 L484.3,903.2 L484.8,903.3 L485.3,903.4 L485.8,903.4 L486.3,903.4 L486.8,903.3 L487.3,903.3 L487.8,903.1 L488.3,903.0 L488.8,902.8 L489.3,902.6 L489.8,902.3 L490.3,902.0 L490.8,901.6 L491.3,901.3 L491.8,900.8 L492.3,900.4 L492.8,899.8 L493.3,899.3 L493.8,898.7 L494.3,898.0 L494.8,897.3 L495.3,896.5 L495.8,895.7 L496.3,894.8 L496.8,893.9 L497.3,892.9 L497.8,891.8 L498.3,890.7 L498.8,889.5 L499.3,888.2 L499.8,886.9 L500.3,885.5 L500.8,884.1 L501.3,882.6 L501.8,881.0 L502.3,879.4 L502.8,877.7 L503.3,876.0 L503.8,874.2 L504.3,872.4 L504.8,870.5 L505.3,868.7 L505.8,866.9 L506.3,865.1 L506.8,863.3 L507.3,861.6 L507.8,860.0 L508.3,858.5 L508.8,857.1 L509.3,855.9 L509.8,854.9 L510.3,854.0 L510.8,853.4 L511.3,853.0 L511.8,852.8 L512.3,852.9 L512.8,853.2 L513.3,853.7 L513.8,854.5 L514.3,855.5 L514.8,856.7 L515.3,858.0 L515.8,859.5 L516.3,861.2 L516.8,863.0 L517.3,864.8 L517.8,866.7 L518.3,868.7 L518.8,870.7 L519.3,872.7 L519.8,874.7 L520.3,876.6 L520.8,878.6 L521.3,880.5 L521.8,882.4 L522.3,884.2 L522.8,885.9 L523.3,887.6 L523.8,889.3 L524.3,890.9 L524.8,892.4 L525.3,893.8 L525.8,895.2 L526.3,896.6 L526.8,897.8 L527.3,899.1 L527.8,900.2 L528.3,901.3 L528.8,902.4 L529.3,903.4 L529.8,904.4 L530.3,905.3 L530.8,906.2 L531.3,907.0 L531.8,907.8 L532.3,908.6 L532.8,909.3 L533.3,910.0 L533.8,910.7 L534.3,911.3 L534.8,911.9 L535.3,912.5 L535.8,913.1 L536.3,913.6 L536.8,914.1 L537.3,914.6 L537.8,915.1 L538.3,915.5 L538.8,915.9 L539.3,916.4 L539.8,916.8 L540.3,917.1 L540.8,917.5 L541.3,917.8 L541.8,918.2 L542.3,918.5 L542.8,918.8 L543.3,919.1 L543.8,919.4 L544.3,919.7 L544.8,920.0 L545.3,920.2 L545.8,920.5 L546.3,920.7 L546.8,920.9 L547.3,921.2 L547.8,921.4 L548.3,921.6 L548.8,921.8 L549.3,922.0 L549.8,922.2 L550.3,922.3 L550.8,922.5 L551.3,922.7 L551.8,922.9 L552.3,923.0 L552.8,923.2 L553.3,923.3 L553.8,923.5 L554.3,923.6 L554.8,923.7 L555.3,923.9 L555.8,924.0 L556.3,924.1 L556.8,924.3 L557.3,924.4 L557.8,924.5 L558.3,924.6 L558.8,924.7 L559.3,924.8 L559.8,924.9 L560.3,925.0 L560.8,925.1 L561.3,925.2 L561.8,925.3 L562.3,925.4 L562.8,925.5 L563.3,925.6 L563.8,925.6 L564.3,925.7 L564.8,925.8 L565.3,925.9 L565.8,925.9 L566.3,926.0 L566.8,926.1 L567.3,926.2 L567.8,926.2 L568.3,926.3 L568.8,926.4 L569.3,926.4 L569.8,926.5 L570.3,926.5 L570.8,926.6 L571.3,926.7 L571.8,926.7 L572.3,926.8 L572.8,926.8 L573.3,926.9 L573.8,926.9 L574.3,927.0 L574.8,927.0 L575.3,927.1 L575.8,927.1 L576.3,927.2 L576.8,927.2 L577.3,927.3 L577.8,927.3 L578.3,927.3 L578.8,927.4 L579.3,927.4 L579.8,927.5 L580.3,927.5 L580.8,927.5 L581.3,927.6 L581.8,927.6 L582.3,927.6 L582.8,927.7 L583.3,927.7 L583.8,927.8 L584.3,927.8 L584.8,927.8 L585.3,927.8 L585.8,927.9 L586.3,927.9 L586.8,927.9 L587.3,928.0 L587.8,928.0 L588.3,928.0 L588.8,928.1 L589.3,928.1 L589.8,928.1 L590.3,928.1 L590.8,928.2 L591.3,928.2 L591.8,928.2 L592.3,928.2 L592.8,928.3 L593.3,928.3 L593.8,928.3 L594.3,928.3 L594.8,928.4 L595.3,928.4 L595.8,928.4 L596.3,928.4 L596.8,928.4 L597.3,928.5 L597.8,928.5 L598.3,928.5 L598.8,928.5 L599.3,928.5 L599.8,928.6 L600.3,928.6 L600.8,928.6 L601.3,928.6 L601.8,928.6 L602.3,928.6 L602.8,928.7 L603.3,928.7 L603.8,928.7 L604.3,928.7 L604.8,928.7 L605.3,928.7 L605.8,928.8 L606.3,928.8 L606.8,928.8 L607.3,928.8 L607.8,928.8 L608.3,928.8 L608.8,928.8 L609.3,928.9 L609.8,928.9 L610.3,928.9 L610.8,928.9 L611.3,928.9 L611.8,928.9 L612.3,928.9 L612.8,929.0 L613.3,929.0 L613.8,929.0 L614.3,929.0 L614.8,929.0 L615.3,929.0 L615.8,929.0 L616.3,929.0 L616.8,929.0 L617.3,929.1 L617.8,929.1 L618.3,929.1 L618.8,929.1 L619.3,929.1 L619.8,929.1 L620.3,929.1 L620.8,929.1 L621.3,929.1 L621.8,929.2 L622.3,929.2 L622.8,929.2 L623.3,929.2 L623.8,929.2 L624.3,929.2 L624.8,929.2 L625.3,929.2 L625.8,929.2 L626.3,929.2 L626.8,929.2 L627.3,929.2 L627.8,929.3 L628.3,929.3 L628.8,929.3 L629.3,929.3 L629.8,929.3 L630.3,929.3 L630.8,929.3 L631.3,929.3 L631.8,929.3 L632.3,929.3 L632.8,929.3 L633.3,929.3 L633.8,929.3 L634.3,929.4 L634.8,929.4 L635.3,929.4 L635.8,929.4 L636.3,929.4 L636.8,929.4 L637.3,929.4 L637.8,929.4 L638.3,929.4 L638.8,929.4 L639.3,929.4 L639.8,929.4 L640.3,929.4 L640.8,929.4 L641.3,929.4 L641.8,929.4 L642.3,929.5 L642.8,929.5 L643.3,929.5 L643.8,929.5 L644.3,929.5 L644.8,929.5 L645.3,929.5 L645.8,929.5 L646.3,929.5 L646.8,929.5 L647.3,929.5 L647.8,929.5 L648.3,929.5 L648.8,929.5 L649.3,929.5 L649.8,929.5 L650.3,929.5 L650.8,929.5 L651.3,929.5 L651.8,929.5 L652.3,929.5 L652.8,929.6 L653.3,929.6 L653.8,929.6 L654.3,929.6 L654.8,929.6 L655.3,929.6 L655.8,929.6 L656.3,929.6 L656.8,929.6 L657.3,929.6 L657.8,929.6 L658.3,929.6 L658.8,929.6 L659.3,929.6 L659.8,929.6 L660.3,929.6 L660.8,929.6 L661.3,929.6 L661.8,929.6 L662.3,929.6 L662.8,929.6 L663.3,929.6 L663.8,929.6 L664.3,929.6 L664.8,929.6 L665.3,929.6 L665.8,929.6 L666.3,929.7 L666.8,929.7 L667.3,929.7 L667.8,929.7 L668.3,929.7 L668.8,929.7 L669.3,929.7 L669.8,929.7 L670.3,929.7 L670.8,929.7 L671.3,929.7 L671.8,929.7 L672.3,929.7 L672.8,929.7 L673.3,929.7 L673.8,929.7 L674.3,929.7 L674.8,929.7 L675.3,929.7 L675.8,929.7 L676.3,929.7 L676.8,929.7 L677.3,929.7 L677.8,929.7 L678.3,929.7 L678.8,929.7 L679.3,929.7 L679.8,929.7 L680.3,929.7 L680.8,929.7 L681.3,929.7 L681.8,929.7 L682.3,929.7 L682.8,929.7 L683.3,929.7 L683.8,929.7 L684.3,929.7 L684.8,929.7 L685.3,929.7 L685.8,929.8 L686.3,929.8 L686.8,929.8 L687.3,929.8 L687.8,929.8 L688.3,929.8 L688.8,929.8 L689.3,929.8 L689.8,929.8 L690.3,929.8 L690.8,929.8 L691.3,929.8 L691.8,929.8 L692.3,929.8 L692.8,929.8 L693.3,929.8 L693.8,929.8 L694.3,929.8 L694.8,929.8 L695.3,929.8 L695.8,929.8 L696.3,929.8 L696.8,929.8 L697.3,929.8 L697.8,929.8 L698.3,929.8 L698.8,929.8 L699.3,929.8 L699.8,929.8 L700.3,929.8 L700.8,929.8 L701.3,929.8 L701.8,929.8 L702.3,929.8 L702.8,929.8 L703.3,929.8 L703.8,929.8 L704.3,929.8 L704.8,929.8 L705.3,929.8 L705.8,929.8 L706.3,929.8 L706.8,929.8 L707.3,929.8 L707.8,929.8 L708.3,929.8 L708.8,929.8 L709.3,929.8 L709.8,929.8 L710.3,929.8 L710.8,929.8 L711.3,929.8 L711.8,929.8 L712.3,929.8 L712.8,929.8 L713.3,929.8 L713.8,929.8 L714.3,929.8 L714.8,929.8 L715.3,929.8 L715.8,929.8 L716.3,929.8 L716.8,929.8 L717.3,929.8 L717.8,929.8 L718.3,929.9 L718.8,929.9 L719.3,929.9 L719.8,929.9 L720.3,929.9 L720.8,929.9 L721.3,929.9 L721.8,929.9 L722.3,929.9 L722.8,929.9 L723.3,929.9 L723.8,929.9 L724.3,929.9 L724.8,929.9 L725.3,929.9 L725.8,929.9 L726.3,929.9 L726.8,929.9 L727.3,929.9 L727.8,929.9 L728.3,929.9" fill="none" stroke="#00B0F0" stroke-width="5" stroke-linecap="butt" stroke-linejoin="round"/>
<path d="M4.8,930.0 L5.3,930.0 L5.8,930.0 L6.3,930.0 L6.8,930.0 L7.3,930.0 L7.8,930.0 L8.3,930.0 L8.8,930.0 L9.3,930.0 L9.8,930.0 L10.3,930.0 L10.8,930.0 L11.3,930.0 L11.8,930.0 L12.3,930.0 L12.8,930.0 L13.3,930.0 L13.8,930.0 L14.3,930.0 L14.8,930.0 L15.3,930.0 L15.8,930.0 L16.3,930.0 L16.8,930.0 L17.3,930.0 L17.8,930.0 L18.3,930.0 L18.8,930.0 L19.3,930.0 L19.8,930.0 L20.3,930.0 L20.8,930.0 L21.3,930.0 L21.8,930.0 L22.3,930.0 L22.8,930.0 L23.3,930.0 L23.8,930.0 L24.3,930.0 L24.8,930.0 L25.3,930.0 L25.8,930.0 L26.3,930.0 L26.8,930.0 L27.3,930.0 L27.8,930.0 L28.3,930.0 L28.8,930.0 L29.3,930.0 L29.8,930.0 L30.3,930.0 L30.8,930.0 L31.3,930.0 L31.8,930.0 L32.3,930.0 L32.8,930.0 L33.3,930.0 L33.8,930.0 L34.3,930.0 L34.8,930.0 L35.3,930.0 L35.8,930.0 L36.3,930.0 L36.8,930.0 L37.3,930.0 L37.8,930.0 L38.3,930.0 L38.8,930.0 L39.3,930.0 L39.8,930.0 L40.3,930.0 L40.8,930.0 L41.3,930.0 L41.8,930.0 L42.3,930.0 L42.8,930.0 L43.3,930.0 L43.8,930.0 L44.3,930.0 L44.8,930.0 L45.3,930.0 L45.8,930.0 L46.3,930.0 L46.8,930.0 L47.3,930.0 L47.8,930.0 L48.3,930.0 L48.8,930.0 L49.3,930.0 L49.8,930.0 L50.3,930.0 L50.8,930.0 L51.3,930.0 L51.8,930.0 L52.3,930.0 L52.8,930.0 L53.3,930.0 L53.8,930.0 L54.3,930.0 L54.8,930.0 L55.3,930.0 L55.8,930.0 L56.3,930.0 L56.8,930.0 L57.3,930.0 L57.8,930.0 L58.3,930.0 L58.8,930.0 L59.3,930.0 L59.8,930.0 L60.3,930.0 L60.8,930.0 L61.3,930.0 L61.8,930.0 L62.3,930.0 L62.8,930.0 L63.3,930.0 L63.8,930.0 L64.3,930.0 L64.8,930.0 L65.3,930.0 L65.8,930.0 L66.3,930.0 L66.8,930.0 L67.3,930.0 L67.8,930.0 L68.3,930.0 L68.8,930.0 L69.3,930.0 L69.8,930.0 L70.3,930.0 L70.8,930.0 L71.3,930.0 L71.8,930.0 L72.3,930.0 L72.8,930.0 L73.3,930.0 L73.8,930.0 L74.3,930.0 L74.8,930.0 L75.3,930.0 L75.8,930.0 L76.3,930.0 L76.8,930.0 L77.3,930.0 L77.8,930.0 L78.3,930.0 L78.8,930.0 L79.3,930.0 L79.8,930.0 L80.3,930.0 L80.8,930.0 L81.3,930.0 L81.8,930.0 L82.3,930.0 L82.8,930.0 L83.3,930.0 L83.8,930.0 L84.3,930.0 L84.8,930.0 L85.3,930.0 L85.8,930.0 L86.3,930.0 L86.8,930.0 L87.3,930.0 L87.8,930.0 L88.3,930.0 L88.8,930.0 L89.3,930.0 L89.8,930.0 L90.3,930.0 L90.8,930.0 L91.3,930.0 L91.8,930.0 L92.3,930.0 L92.8,930.0 L93.3,930.0 L93.8,930.0 L94.3,930.0 L94.8,930.0 L95.3,930.0 L95.8,930.0 L96.3,930.0 L96.8,930.0 L97.3,930.0 L97.8,930.0 L98.3,930.0 L98.8,930.0 L99.3,930.0 L99.8,930.0 L100.3,930.0 L100.8,930.0 L101.3,930.0 L101.8,930.0 L102.3,930.0 L102.8,930.0 L103.3,930.0 L103.8,930.0 L104.3,930.0 L104.8,930.0 L105.3,930.0 L105.8,930.0 L106.3,930.0 L106.8,930.0 L107.3,930.0 L107.8,930.0 L108.3,930.0 L108.8,930.0 L109.3,930.0 L109.8,930.0 L110.3,930.0 L110.8,930.0 L111.3,930.0 L111.8,930.0 L112.3,930.0 L112.8,930.0 L113.3,930.0 L113.8,930.0 L114.3,930.0 L114.8,930.0 L115.3,930.0 L115.8,930.0 L116.3,930.0 L116.8,930.0 L117.3,930.0 L117.8,930.0 L118.3,930.0 L118.8,930.0 L119.3,930.0 L119.8,930.0 L120.3,930.0 L120.8,930.0 L121.3,930.0 L121.8,930.0 L122.3,930.0 L122.8,930.0 L123.3,930.0 L123.8,930.0 L124.3,930.0 L124.8,930.0 L125.3,930.0 L125.8,930.0 L126.3,930.0 L126.8,930.0 L127.3,930.0 L127.8,930.0 L128.3,930.0 L128.8,930.0 L129.3,930.0 L129.8,930.0 L130.3,930.0 L130.8,930.0 L131.3,930.0 L131.8,930.0 L132.3,930.0 L132.8,930.0 L133.3,930.0 L133.8,930.0 L134.3,930.0 L134.8,930.0 L135.3,930.0 L135.8,930.0 L136.3,930.0 L136.8,930.0 L137.3,930.0 L137.8,930.0 L138.3,930.0 L138.8,930.0 L139.3,930.0 L139.8,930.0 L140.3,930.0 L140.8,930.0 L141.3,930.0 L141.8,930.0 L142.3,930.0 L142.8,930.0 L143.3,930.0 L143.8,929.9 L144.3,929.9 L144.8,929.9 L145.3,929.9 L145.8,929.9 L146.3,929.9 L146.8,929.9 L147.3,929.9 L147.8,929.9 L148.3,929.9 L148.8,929.9 L149.3,929.9 L149.8,929.9 L150.3,929.9 L150.8,929.9 L151.3,929.9 L151.8,929.9 L152.3,929.9 L152.8,929.9 L153.3,929.9 L153.8,929.9 L154.3,929.9 L154.8,929.9 L155.3,929.9 L155.8,929.9 L156.3,929.9 L156.8,929.9 L157.3,929.9 L157.8,929.9 L158.3,929.9 L158.8,929.9 L159.3,929.9 L159.8,929.9 L160.3,929.9 L160.8,929.9 L161.3,929.9 L161.8,929.9 L162.3,929.9 L162.8,929.9 L163.3,929.9 L163.8,929.9 L164.3,929.9 L164.8,929.9 L165.3,929.9 L165.8,929.9 L166.3,929.9 L166.8,929.9 L167.3,929.9 L167.8,929.9 L168.3,929.9 L168.8,929.9 L169.3,929.9 L169.8,929.9 L170.3,929.9 L170.8,929.9 L171.3,929.9 L171.8,929.9 L172.3,929.9 L172.8,929.9 L173.3,929.9 L173.8,929.9 L174.3,929.9 L174.8,929.9 L175.3,929.9 L175.8,929.9 L176.3,929.9 L176.8,929.9 L177.3,929.9 L177.8,929.9 L178.3,929.9 L178.8,929.9 L179.3,929.9 L179.8,929.9 L180.3,929.9 L180.8,929.9 L181.3,929.9 L181.8,929.9 L182.3,929.9 L182.8,929.9 L183.3,929.9 L183.8,929.9 L184.3,929.9 L184.8,929.9 L185.3,929.9 L185.8,929.9 L186.3,929.9 L186.8,929.9 L187.3,929.9 L187.8,929.9 L188.3,929.9 L188.8,929.9 L189.3,929.9 L189.8,929.9 L190.3,929.9 L190.8,929.9 L191.3,929.9 L191.8,929.9 L192.3,929.9 L192.8,929.9 L193.3,929.9 L193.8,929.9 L194.3,929.9 L194.8,929.9 L195.3,929.9 L195.8,929.9 L196.3,929.9 L196.8,929.9 L197.3,929.9 L197.8,929.9 L198.3,929.9 L198.8,929.9 L199.3,929.9 L199.8,929.9 L200.3,929.9 L200.8,929.9 L201.3,929.9 L201.8,929.9 L202.3,929.9 L202.8,929.9 L203.3,929.9 L203.8,929.9 L204.3,929.9 L204.8,929.9 L205.3,929.9 L205.8,929.9 L206.3,929.9 L206.8,929.9 L207.3,929.9 L207.8,929.9 L208.3,929.9 L208.8,929.9 L209.3,929.9 L209.8,929.9 L210.3,929.9 L210.8,929.9 L211.3,929.9 L211.8,929.9 L212.3,929.9 L212.8,929.9 L213.3,929.9 L213.8,929.9 L214.3,929.9 L214.8,929.9 L215.3,929.9 L215.8,929.9 L216.3,929.9 L216.8,929.9 L217.3,929.9 L217.8,929.9 L218.3,929.9 L218.8,929.9 L219.3,929.9 L219.8,929.9 L220.3,929.9 L220.8,929.9 L221.3,929.9 L221.8,929.9 L222.3,929.9 L222.8,929.9 L223.3,929.9 L223.8,929.9 L224.3,929.9 L224.8,929.9 L225.3,929.9 L225.8,929.9 L226.3,929.9 L226.8,929.9 L227.3,929.9 L227.8,929.9 L228.3,929.9 L228.8,929.9 L229.3,929.9 L229.8,929.9 L230.3,929.9 L230.8,929.9 L231.3,929.9 L231.8,929.9 L232.3,929.9 L232.8,929.9 L233.3,929.9 L233.8,929.9 L234.3,929.9 L234.8,929.9 L235.3,929.9 L235.8,929.9 L236.3,929.9 L236.8,929.9 L237.3,929.9 L237.8,929.9 L238.3,929.9 L238.8,929.9 L239.3,929.9 L239.8,929.9 L240.3,929.9 L240.8,929.9 L241.3,929.9 L241.8,929.9 L242.3,929.9 L242.8,929.9 L243.3,929.8 L243.8,929.8 L244.3,929.8 L244.8,929.8 L245.3,929.8 L245.8,929.8 L246.3,929.8 L246.8,929.8 L247.3,929.8 L247.8,929.8 L248.3,929.8 L248.8,929.8 L249.3,929.8 L249.8,929.8 L250.3,929.8 L250.8,929.8 L251.3,929.8 L251.8,929.8 L252.3,929.8 L252.8,929.8 L253.3,929.8 L253.8,929.8 L254.3,929.8 L254.8,929.8 L255.3,929.8 L255.8,929.8 L256.3,929.8 L256.8,929.8 L257.3,929.8 L257.8,929.8 L258.3,929.8 L258.8,929.8 L259.3,929.8 L259.8,929.8 L260.3,929.8 L260.8,929.8 L261.3,929.8 L261.8,929.8 L262.3,929.8 L262.8,929.8 L263.3,929.8 L263.8,929.8 L264.3,929.8 L264.8,929.8 L265.3,929.8 L265.8,929.8 L266.3,929.8 L266.8,929.8 L267.3,929.8 L267.8,929.8 L268.3,929.8 L268.8,929.8 L269.3,929.8 L269.8,929.8 L270.3,929.8 L270.8,929.8 L271.3,929.8 L271.8,929.8 L272.3,929.8 L272.8,929.8 L273.3,929.8 L273.8,929.8 L274.3,929.8 L274.8,929.8 L275.3,929.8 L275.8,929.8 L276.3,929.8 L276.8,929.8 L277.3,929.8 L277.8,929.8 L278.3,929.8 L278.8,929.8 L279.3,929.8 L279.8,929.8 L280.3,929.8 L280.8,929.8 L281.3,929.8 L281.8,929.7 L282.3,929.7 L282.8,929.7 L283.3,929.7 L283.8,929.7 L284.3,929.7 L284.8,929.7 L285.3,929.7 L285.8,929.7 L286.3,929.7 L286.8,929.7 L287.3,929.7 L287.8,929.7 L288.3,929.7 L288.8,929.7 L289.3,929.7 L289.8,929.7 L290.3,929.7 L290.8,929.7 L291.3,929.7 L291.8,929.7 L292.3,929.7 L292.8,929.7 L293.3,929.7 L293.8,929.7 L294.3,929.7 L294.8,929.7 L295.3,929.7 L295.8,929.7 L296.3,929.7 L296.8,929.7 L297.3,929.7 L297.8,929.7 L298.3,929.7 L298.8,929.7 L299.3,929.7 L299.8,929.7 L300.3,929.7 L300.8,929.7 L301.3,929.7 L301.8,929.7 L302.3,929.7 L302.8,929.7 L303.3,929.7 L303.8,929.7 L304.3,929.7 L304.8,929.6 L305.3,929.6 L305.8,929.6 L306.3,929.6 L306.8,929.6 L307.3,929.6 L307.8,929.6 L308.3,929.6 L308.8,929.6 L309.3,929.6 L309.8,929.6 L310.3,929.6 L310.8,929.6 L311.3,929.6 L311.8,929.6 L312.3,929.6 L312.8,929.6 L313.3,929.6 L313.8,929.6 L314.3,929.6 L314.8,929.6 L315.3,929.6 L315.8,929.6 L316.3,929.6 L316.8,929.6 L317.3,929.6 L317.8,929.6 L318.3,929.6 L318.8,929.6 L319.3,929.6 L319.8,929.6 L320.3,929.5 L320.8,929.5 L321.3,929.5 L321.8,929.5 L322.3,929.5 L322.8,929.5 L323.3,929.5 L323.8,929.5 L324.3,929.5 L324.8,929.5 L325.3,929.5 L325.8,929.5 L326.3,929.5 L326.8,929.5 L327.3,929.5 L327.8,929.5 L328.3,929.5 L328.8,929.5 L329.3,929.5 L329.8,929.5 L330.3,929.5 L330.8,929.5 L331.3,929.5 L331.8,929.5 L332.3,929.5 L332.8,929.4 L333.3,929.4 L333.8,929.4 L334.3,929.4 L334.8,929.4 L335.3,929.4 L335.8,929.4 L336.3,929.4 L336.8,929.4 L337.3,929.4 L337.8,929.4 L338.3,929.4 L338.8,929.4 L339.3,929.4 L339.8,929.4 L340.3,929.4 L340.8,929.4 L341.3,929.4 L341.8,929.4 L342.3,929.3 L342.8,929.3 L343.3,929.3 L343.8,929.3 L344.3,929.3 L344.8,929.3 L345.3,929.3 L345.8,929.3 L346.3,929.3 L346.8,929.3 L347.3,929.3 L347.8,929.3 L348.3,929.3 L348.8,929.3 L349.3,929.3 L349.8,929.2 L350.3,929.2 L350.8,929.2 L351.3,929.2 L351.8,929.2 L352.3,929.2 L352.8,929.2 L353.3,929.2 L353.8,929.2 L354.3,929.2 L354.8,929.2 L355.3,929.2 L355.8,929.2 L356.3,929.2 L356.8,929.1 L357.3,929.1 L357.8,929.1 L358.3,929.1 L358.8,929.1 L359.3,929.1 L359.8,929.1 L360.3,929.1 L360.8,929.1 L361.3,929.1 L361.8,929.1 L362.3,929.0 L362.8,929.0 L363.3,929.0 L363.8,929.0 L364.3,929.0 L364.8,929.0 L365.3,929.0 L365.8,929.0 L366.3,929.0 L366.8,929.0 L367.3,928.9 L367.8,928.9 L368.3,928.9 L368.8,928.9 L369.3,928.9 L369.8,928.9 L370.3,928.9 L370.8,928.9 L371.3,928.9 L371.8,928.8 L372.3,928.8 L372.8,928.8 L373.3,928.8 L373.8,928.8 L374.3,928.8 L374.8,928.8 L375.3,928.8 L375.8,928.7 L376.3,928.7 L376.8,928.7 L377.3,928.7 L377.8,928.7 L378.3,928.7 L378.8,928.7 L379.3,928.6 L379.8,928.6 L380.3,928.6 L380.8,928.6 L381.3,928.6 L381.8,928.6 L382.3,928.6 L382.8,928.5 L383.3,928.5 L383.8,928.5 L384.3,928.5 L384.8,928.5 L385.3,928.5 L385.8,928.4 L386.3,928.4 L386.8,928.4 L387.3,928.4 L387.8,928.4 L388.3,928.3 L388.8,928.3 L389.3,928.3 L389.8,928.3 L390.3,928.3 L390.8,928.2 L391.3,928.2 L391.8,928.2 L392.3,928.2 L392.8,928.2 L393.3,928.1 L393.8,928.1 L394.3,928.1 L394.8,928.1 L395.3,928.1 L395.8,928.0 L396.3,928.0 L396.8,928.0 L397.3,928.0 L397.8,927.9 L398.3,927.9 L398.8,927.9 L399.3,927.9 L399.8,927.8 L400.3,927.8 L400.8,927.8 L401.3,927.7 L401.8,927.7 L402.3,927.7 L402.8,927.7 L403.3,927.6 L403.8,927.6 L404.3,927.6 L404.8,927.5 L405.3,927.5 L405.8,927.5 L406.3,927.4 L406.8,927.4 L407.3,927.4 L407.8,927.3 L408.3,927.3 L408.8,927.2 L409.3,927.2 L409.8,927.2 L410.3,927.1 L410.8,927.1 L411.3,927.1 L411.8,927.0 L412.3,927.0 L412.8,926.9 L413.3,926.9 L413.8,926.8 L414.3,926.8 L414.8,926.7 L415.3,926.7 L415.8,926.6 L416.3,926.6 L416.8,926.5 L417.3,926.5 L417.8,926.4 L418.3,926.4 L418.8,926.3 L419.3,926.3 L419.8,926.2 L420.3,926.2 L420.8,926.1 L421.3,926.0 L421.8,926.0 L422.3,925.9 L422.8,925.9 L423.3,925.8 L423.8,925.7 L424.3,925.7 L424.8,925.6 L425.3,925.5 L425.8,925.4 L426.3,925.4 L426.8,925.3 L427.3,925.2 L427.8,925.1 L428.3,925.0 L428.8,925.0 L429.3,924.9 L429.8,924.8 L430.3,924.7 L430.8,924.6 L431.3,924.5 L431.8,924.4 L432.3,924.3 L432.8,924.2 L433.3,924.1 L433.8,924.0 L434.3,923.9 L434.8,923.8 L435.3,923.6 L435.8,923.5 L436.3,923.4 L436.8,923.3 L437.3,923.1 L437.8,923.0 L438.3,922.9 L438.8,922.7 L439.3,922.6 L439.8,922.4 L440.3,922.3 L440.8,922.1 L441.3,921.9 L441.8,921.8 L442.3,921.6 L442.8,921.4 L443.3,921.2 L443.8,921.1 L444.3,920.9 L444.8,920.7 L445.3,920.4 L445.8,920.2 L446.3,920.0 L446.8,919.8 L447.3,919.5 L447.8,919.3 L448.3,919.0 L448.8,918.8 L449.3,918.5 L449.8,918.2 L450.3,917.9 L450.8,917.7 L451.3,917.3 L451.8,917.0 L452.3,916.7 L452.8,916.3 L453.3,916.0 L453.8,915.6 L454.3,915.2 L454.8,914.9 L455.3,914.4 L455.8,914.0 L456.3,913.6 L456.8,913.1 L457.3,912.6 L457.8,912.1 L458.3,911.6 L458.8,911.1 L459.3,910.5 L459.8,910.0 L460.3,909.4 L460.8,908.8 L461.3,908.1 L461.8,907.4 L462.3,906.7 L462.8,906.0 L463.3,905.3 L463.8,904.5 L464.3,903.7 L464.8,902.8 L465.3,902.0 L465.8,901.1 L466.3,900.1 L466.8,899.2 L467.3,898.2 L467.8,897.1 L468.3,896.0 L468.8,894.9 L469.3,893.8 L469.8,892.6 L470.3,891.4 L470.8,890.2 L471.3,888.9 L471.8,887.6 L472.3,886.3 L472.8,884.9 L473.3,883.6 L473.8,882.2 L474.3,880.8 L474.8,879.5 L475.3,878.1 L475.8,876.8 L476.3,875.5 L476.8,874.2 L477.3,872.9 L477.8,871.8 L478.3,870.6 L478.8,869.6 L479.3,868.6 L479.8,867.8 L480.3,867.0 L480.8,866.4 L481.3,865.9 L481.8,865.5 L482.3,865.2 L482.8,865.1 L483.3,865.1 L483.8,865.2 L484.3,865.5 L484.8,865.9 L485.3,866.4 L485.8,867.0 L486.3,867.7 L486.8,868.5 L487.3,869.4 L487.8,870.4 L488.3,871.4 L488.8,872.5 L489.3,873.6 L489.8,874.8 L490.3,876.0 L490.8,877.2 L491.3,878.4 L491.8,879.6 L492.3,880.8 L492.8,882.0 L493.3,883.1 L493.8,884.3 L494.3,885.4 L494.8,886.5 L495.3,887.5 L495.8,888.5 L496.3,889.5 L496.8,890.4 L497.3,891.4 L497.8,892.2 L498.3,893.0 L498.8,893.8 L499.3,894.6 L499.8,895.3 L500.3,896.0 L500.8,896.6 L501.3,897.2 L501.8,897.8 L502.3,898.3 L502.8,898.8 L503.3,899.2 L503.8,899.7 L504.3,900.1 L504.8,900.4 L505.3,900.7 L505.8,901.0 L506.3,901.3 L506.8,901.5 L507.3,901.7 L507.8,901.9 L508.3,902.0 L508.8,902.2 L509.3,902.2 L509.8,902.3 L510.3,902.3 L510.8,902.3 L511.3,902.3 L511.8,902.2 L512.3,902.1 L512.8,902.0 L513.3,901.9 L513.8,901.7 L514.3,901.5 L514.8,901.3 L515.3,901.0 L515.8,900.7 L516.3,900.4 L516.8,900.0 L517.3,899.6 L517.8,899.2 L518.3,898.8 L518.8,898.3 L519.3,897.8 L519.8,897.2 L520.3,896.6 L520.8,896.0 L521.3,895.3 L521.8,894.6 L522.3,893.9 L522.8,893.1 L523.3,892.2 L523.8,891.4 L524.3,890.5 L524.8,889.5 L525.3,888.6 L525.8,887.5 L526.3,886.5 L526.8,885.4 L527.3,884.3 L527.8,883.1 L528.3,881.9 L528.8,880.7 L529.3,879.5 L529.8,878.3 L530.3,877.0 L530.8,875.8 L531.3,874.5 L531.8,873.2 L532.3,872.0 L532.8,870.8 L533.3,869.7 L533.8,868.5 L534.3,867.5 L534.8,866.5 L535.3,865.6 L535.8,864.8 L536.3,864.0 L536.8,863.4 L537.3,862.9 L537.8,862.6 L538.3,862.3 L538.8,862.2 L539.3,862.2 L539.8,862.3 L540.3,862.6 L540.8,863.0 L541.3,863.5 L541.8,864.2 L542.3,864.9 L542.8,865.8 L543.3,866.7 L543.8,867.7 L544.3,868.7 L544.8,869.9 L545.3,871.0 L545.8,872.2 L546.3,873.5 L546.8,874.7 L547.3,876.0 L547.8,877.2 L548.3,878.5 L548.8,879.7 L549.3,881.0 L549.8,882.2 L550.3,883.3 L550.8,884.5 L551.3,885.6 L551.8,886.7 L552.3,887.7 L552.8,888.7 L553.3,889.7 L553.8,890.7 L554.3,891.5 L554.8,892.4 L555.3,893.2 L555.8,894.0 L556.3,894.7 L556.8,895.4 L557.3,896.1 L557.8,896.7 L558.3,897.3 L558.8,897.9 L559.3,898.4 L559.8,898.9 L560.3,899.3 L560.8,899.7 L561.3,900.1 L561.8,900.5 L562.3,900.8 L562.8,901.1 L563.3,901.3 L563.8,901.5 L564.3,901.7 L564.8,901.9 L565.3,902.0 L565.8,902.2 L566.3,902.2 L566.8,902.3 L567.3,902.3 L567.8,902.3 L568.3,902.3 L568.8,902.2 L569.3,902.1 L569.8,902.0 L570.3,901.9 L570.8,901.7 L571.3,901.5 L571.8,901.2 L572.3,901.0 L572.8,900.7 L573.3,900.4 L573.8,900.0 L574.3,899.6 L574.8,899.2 L575.3,898.7 L575.8,898.2 L576.3,897.7 L576.8,897.1 L577.3,896.5 L577.8,895.9 L578.3,895.2 L578.8,894.5 L579.3,893.7 L579.8,892.9 L580.3,892.1 L580.8,891.2 L581.3,890.3 L581.8,889.3 L582.3,888.3 L582.8,887.3 L583.3,886.3 L583.8,885.2 L584.3,884.1 L584.8,882.9 L585.3,881.7 L585.8,880.6 L586.3,879.4 L586.8,878.2 L587.3,877.0 L587.8,875.8 L588.3,874.6 L588.8,873.4 L589.3,872.3 L589.8,871.2 L590.3,870.2 L590.8,869.2 L591.3,868.4 L591.8,867.6 L592.3,866.9 L592.8,866.3 L593.3,865.8 L593.8,865.4 L594.3,865.2 L594.8,865.1 L595.3,865.1 L595.8,865.2 L596.3,865.5 L596.8,866.0 L597.3,866.5 L597.8,867.2 L598.3,867.9 L598.8,868.8 L599.3,869.8 L599.8,870.8 L600.3,872.0 L600.8,873.2 L601.3,874.4 L601.8,875.7 L602.3,877.0 L602.8,878.4 L603.3,879.7 L603.8,881.1 L604.3,882.5 L604.8,883.8 L605.3,885.2 L605.8,886.5 L606.3,887.8 L606.8,889.1 L607.3,890.4 L607.8,891.6 L608.3,892.8 L608.8,894.0 L609.3,895.1 L609.8,896.2 L610.3,897.3 L610.8,898.3 L611.3,899.3 L611.8,900.3 L612.3,901.2 L612.8,902.1 L613.3,903.0 L613.8,903.8 L614.3,904.6 L614.8,905.4 L615.3,906.2 L615.8,906.9 L616.3,907.6 L616.8,908.2 L617.3,908.9 L617.8,909.5 L618.3,910.1 L618.8,910.7 L619.3,911.2 L619.8,911.7 L620.3,912.2 L620.8,912.7 L621.3,913.2 L621.8,913.7 L622.3,914.1 L622.8,914.5 L623.3,914.9 L623.8,915.3 L624.3,915.7 L624.8,916.1 L625.3,916.4 L625.8,916.8 L626.3,917.1 L626.8,917.4 L627.3,917.7 L627.8,918.0 L628.3,918.3 L628.8,918.6 L629.3,918.8 L629.8,919.1 L630.3,919.3 L630.8,919.6 L631.3,919.8 L631.8,920.1 L632.3,920.3 L632.8,920.5 L633.3,920.7 L633.8,920.9 L634.3,921.1 L634.8,921.3 L635.3,921.5 L635.8,921.6 L636.3,921.8 L636.8,922.0 L637.3,922.1 L637.8,922.3 L638.3,922.5 L638.8,922.6 L639.3,922.7 L639.8,922.9 L640.3,923.0 L640.8,923.2 L641.3,923.3 L641.8,923.4 L642.3,923.5 L642.8,923.7 L643.3,923.8 L643.8,923.9 L644.3,924.0 L644.8,924.1 L645.3,924.2 L645.8,924.3 L646.3,924.4 L646.8,924.5 L647.3,924.6 L647.8,924.7 L648.3,924.8 L648.8,924.9 L649.3,925.0 L649.8,925.1 L650.3,925.1 L650.8,925.2 L651.3,925.3 L651.8,925.4 L652.3,925.5 L652.8,925.5 L653.3,925.6 L653.8,925.7 L654.3,925.7 L654.8,925.8 L655.3,925.9 L655.8,925.9 L656.3,926.0 L656.8,926.1 L657.3,926.1 L657.8,926.2 L658.3,926.2 L658.8,926.3 L659.3,926.3 L659.8,926.4 L660.3,926.5 L660.8,926.5 L661.3,926.6 L661.8,926.6 L662.3,926.7 L662.8,926.7 L663.3,926.8 L663.8,926.8 L664.3,926.8 L664.8,926.9 L665.3,926.9 L665.8,927.0 L666.3,927.0 L666.8,927.1 L667.3,927.1 L667.8,927.1 L668.3,927.2 L668.8,927.2 L669.3,927.3 L669.8,927.3 L670.3,927.3 L670.8,927.4 L671.3,927.4 L671.8,927.4 L672.3,927.5 L672.8,927.5 L673.3,927.5 L673.8,927.6 L674.3,927.6 L674.8,927.6 L675.3,927.7 L675.8,927.7 L676.3,927.7 L676.8,927.7 L677.3,927.8 L677.8,927.8 L678.3,927.8 L678.8,927.9 L679.3,927.9 L679.8,927.9 L680.3,927.9 L680.8,928.0 L681.3,928.0 L681.8,928.0 L682.3,928.0 L682.8,928.1 L683.3,928.1 L683.8,928.1 L684.3,928.1 L684.8,928.1 L685.3,928.2 L685.8,928.2 L686.3,928.2 L686.8,928.2 L687.3,928.3 L687.8,928.3 L688.3,928.3 L688.8,928.3 L689.3,928.3 L689.8,928.4 L690.3,928.4 L690.8,928.4 L691.3,928.4 L691.8,928.4 L692.3,928.4 L692.8,928.5 L693.3,928.5 L693.8,928.5 L694.3,928.5 L694.8,928.5 L695.3,928.5 L695.8,928.6 L696.3,928.6 L696.8,928.6 L697.3,928.6 L697.8,928.6 L698.3,928.6 L698.8,928.7 L699.3,928.7 L699.8,928.7 L700.3,928.7 L700.8,928.7 L701.3,928.7 L701.8,928.7 L702.3,928.7 L702.8,928.8 L703.3,928.8 L703.8,928.8 L704.3,928.8 L704.8,928.8 L705.3,928.8 L705.8,928.8 L706.3,928.8 L706.8,928.9 L707.3,928.9 L707.8,928.9 L708.3,928.9 L708.8,928.9 L709.3,928.9 L709.8,928.9 L710.3,928.9 L710.8,929.0 L711.3,929.0 L711.8,929.0 L712.3,929.0 L712.8,929.0 L713.3,929.0 L713.8,929.0 L714.3,929.0 L714.8,929.0 L715.3,929.0 L715.8,929.0 L716.3,929.1 L716.8,929.1 L717.3,929.1 L717.8,929.1 L718.3,929.1 L718.8,929.1 L719.3,929.1 L719.8,929.1 L720.3,929.1 L720.8,929.1 L721.3,929.1 L721.8,929.2 L722.3,929.2 L722.8,929.2 L723.3,929.2 L723.8,929.2 L724.3,929.2 L724.8,929.2 L725.3,929.2 L725.8,929.2 L726.3,929.2 L726.8,929.2 L727.3,929.2 L727.8,929.2 L728.3,929.3" fill="none" stroke="#00B0F0" stroke-width="5" stroke-linecap="butt" stroke-linejoin="round"/>
<text x="2.8" y="592.4" font-size="34.5" textLength="21" lengthAdjust="spacingAndGlyphs">B</text>
<path d="M7.2,626.3 H71" fill="none" stroke="#0070C0" stroke-width="5.2" stroke-linecap="round" stroke-linejoin="round"/>
<path d="M7.2,672.4 H71" fill="none" stroke="#00B0F0" stroke-width="5.2" stroke-linecap="round" stroke-linejoin="round"/>
<g font-size="26.4"><text x="78.40" y="634.8" textLength="15.24" lengthAdjust="spacingAndGlyphs">2</text><text x="93.64" y="634.8" textLength="18.50" lengthAdjust="spacingAndGlyphs">D</text><text x="112.15" y="634.8" textLength="18.97" lengthAdjust="spacingAndGlyphs">G</text><text x="131.12" y="634.8" textLength="15.24" lengthAdjust="spacingAndGlyphs">6</text><text x="146.37" y="634.8" textLength="15.54" lengthAdjust="spacingAndGlyphs">P</text><text x="168.71" y="634.8" textLength="14.98" lengthAdjust="spacingAndGlyphs">–</text><text x="190.49" y="634.8" textLength="11.76" lengthAdjust="spacingAndGlyphs">s</text><text x="202.25" y="634.8" textLength="15.80" lengthAdjust="spacingAndGlyphs">u</text><text x="218.05" y="634.8" textLength="24.03" lengthAdjust="spacingAndGlyphs">m</text><text x="248.88" y="634.8" textLength="15.86" lengthAdjust="spacingAndGlyphs">o</text><text x="264.86" y="634.8" textLength="8.95" lengthAdjust="spacingAndGlyphs">f</text><text x="280.72" y="634.8" textLength="12.72" lengthAdjust="spacingAndGlyphs">c</text><text x="293.44" y="634.8" textLength="15.86" lengthAdjust="spacingAndGlyphs">o</text><text x="309.30" y="634.8" textLength="24.03" lengthAdjust="spacingAndGlyphs">m</text><text x="333.33" y="634.8" textLength="15.80" lengthAdjust="spacingAndGlyphs">p</text><text x="349.13" y="634.8" textLength="15.86" lengthAdjust="spacingAndGlyphs">o</text><text x="364.99" y="634.8" textLength="15.80" lengthAdjust="spacingAndGlyphs">n</text><text x="380.79" y="634.8" textLength="14.97" lengthAdjust="spacingAndGlyphs">e</text><text x="395.76" y="634.8" textLength="15.80" lengthAdjust="spacingAndGlyphs">n</text><text x="412.13" y="634.8" textLength="8.95" lengthAdjust="spacingAndGlyphs">t</text><text x="421.64" y="634.8" textLength="11.76" lengthAdjust="spacingAndGlyphs">s</text></g>
<g font-size="26.4"><text x="78.40" y="680.9" textLength="15.17" lengthAdjust="spacingAndGlyphs">2</text><text x="93.57" y="680.9" textLength="18.42" lengthAdjust="spacingAndGlyphs">D</text><text x="111.99" y="680.9" textLength="18.89" lengthAdjust="spacingAndGlyphs">G</text><text x="130.88" y="680.9" textLength="15.17" lengthAdjust="spacingAndGlyphs">6</text><text x="146.06" y="680.9" textLength="15.47" lengthAdjust="spacingAndGlyphs">P</text><text x="168.29" y="680.9" textLength="9.17" lengthAdjust="spacingAndGlyphs">-</text><text x="184.22" y="680.9" textLength="12.66" lengthAdjust="spacingAndGlyphs">c</text><text x="196.88" y="680.9" textLength="15.79" lengthAdjust="spacingAndGlyphs">o</text><text x="212.67" y="680.9" textLength="23.92" lengthAdjust="spacingAndGlyphs">m</text><text x="236.59" y="680.9" textLength="15.73" lengthAdjust="spacingAndGlyphs">p</text><text x="252.32" y="680.9" textLength="15.79" lengthAdjust="spacingAndGlyphs">o</text><text x="268.11" y="680.9" textLength="15.73" lengthAdjust="spacingAndGlyphs">n</text><text x="283.84" y="680.9" textLength="14.90" lengthAdjust="spacingAndGlyphs">e</text><text x="298.73" y="680.9" textLength="15.73" lengthAdjust="spacingAndGlyphs">n</text><text x="315.00" y="680.9" textLength="8.95" lengthAdjust="spacingAndGlyphs">t</text><text x="324.49" y="680.9" textLength="11.71" lengthAdjust="spacingAndGlyphs">s</text></g>
<text x="463.4" y="779.2" font-size="32.3" textLength="19.6" lengthAdjust="spacingAndGlyphs">C</text><path d="M484.9,786.6 H494.0 M489.8,786.6 V772.9 L485.6,775.6" fill="none" stroke="#000" stroke-width="1.9" stroke-linejoin="miter"/><text x="495.5" y="779.2" font-size="32.3" textLength="20.5" lengthAdjust="spacingAndGlyphs">α</text>
<text x="199.7" y="796.4" font-size="32.3" textLength="19.6" lengthAdjust="spacingAndGlyphs">C</text><path d="M221.2,803.8 H230.3 M226.1,803.8 V790.1 L221.9,792.8" fill="none" stroke="#000" stroke-width="1.9" stroke-linejoin="miter"/><text x="231.1" y="796.4" font-size="32.3" textLength="19.0" lengthAdjust="spacingAndGlyphs" transform="translate(0,796.4) scale(1,1.08) translate(0,-796.4)">β</text>
<path d="M4.5,1565.8 H728.4" stroke="#000" stroke-width="2.6" fill="none"/><path d="M70.3,1565.8 V1575.7" stroke="#000" stroke-width="2.2" fill="none"/><text x="70.3" y="1613.6" font-size="25.6" text-anchor="middle" textLength="30.4" lengthAdjust="spacingAndGlyphs">98</text><path d="M201.7,1565.8 V1575.7" stroke="#000" stroke-width="2.2" fill="none"/><text x="201.7" y="1613.6" font-size="25.6" text-anchor="middle" textLength="30.4" lengthAdjust="spacingAndGlyphs">97</text><path d="M333.1,1565.8 V1575.7" stroke="#000" stroke-width="2.2" fill="none"/><text x="333.1" y="1613.6" font-size="25.6" text-anchor="middle" textLength="30.4" lengthAdjust="spacingAndGlyphs">96</text><path d="M464.5,1565.8 V1575.7" stroke="#000" stroke-width="2.2" fill="none"/><text x="464.5" y="1613.6" font-size="25.6" text-anchor="middle" textLength="30.4" lengthAdjust="spacingAndGlyphs">95</text><path d="M595.9,1565.8 V1575.7" stroke="#000" stroke-width="2.2" fill="none"/><text x="595.9" y="1613.6" font-size="25.6" text-anchor="middle" textLength="30.4" lengthAdjust="spacingAndGlyphs">94</text><path d="M727.3,1565.8 V1575.7" stroke="#000" stroke-width="2.2" fill="none"/><text x="727.3" y="1613.6" font-size="25.6" text-anchor="middle" textLength="30.4" lengthAdjust="spacingAndGlyphs">93</text>
<path d="M4.8,1565.1 L5.3,1565.1 L5.8,1565.1 L6.3,1565.1 L6.8,1565.1 L7.3,1565.1 L7.8,1565.1 L8.3,1565.1 L8.8,1565.0 L9.3,1565.0 L9.8,1565.0 L10.3,1565.0 L10.8,1565.0 L11.3,1565.0 L11.8,1565.0 L12.3,1565.0 L12.8,1565.0 L13.3,1565.0 L13.8,1565.0 L14.3,1565.0 L14.8,1565.0 L15.3,1565.0 L15.8,1565.0 L16.3,1565.0 L16.8,1565.0 L17.3,1565.0 L17.8,1565.0 L18.3,1565.0 L18.8,1565.0 L19.3,1565.0 L19.8,1564.9 L20.3,1564.9 L20.8,1564.9 L21.3,1564.9 L21.8,1564.9 L22.3,1564.9 L22.8,1564.9 L23.3,1564.9 L23.8,1564.9 L24.3,1564.9 L24.8,1564.9 L25.3,1564.9 L25.8,1564.9 L26.3,1564.9 L26.8,1564.9 L27.3,1564.9 L27.8,1564.9 L28.3,1564.9 L28.8,1564.9 L29.3,1564.8 L29.8,1564.8 L30.3,1564.8 L30.8,1564.8 L31.3,1564.8 L31.8,1564.8 L32.3,1564.8 L32.8,1564.8 L33.3,1564.8 L33.8,1564.8 L34.3,1564.8 L34.8,1564.8 L35.3,1564.8 L35.8,1564.8 L36.3,1564.8 L36.8,1564.8 L37.3,1564.7 L37.8,1564.7 L38.3,1564.7 L38.8,1564.7 L39.3,1564.7 L39.8,1564.7 L40.3,1564.7 L40.8,1564.7 L41.3,1564.7 L41.8,1564.7 L42.3,1564.7 L42.8,1564.7 L43.3,1564.7 L43.8,1564.7 L44.3,1564.6 L44.8,1564.6 L45.3,1564.6 L45.8,1564.6 L46.3,1564.6 L46.8,1564.6 L47.3,1564.6 L47.8,1564.6 L48.3,1564.6 L48.8,1564.6 L49.3,1564.6 L49.8,1564.6 L50.3,1564.5 L50.8,1564.5 L51.3,1564.5 L51.8,1564.5 L52.3,1564.5 L52.8,1564.5 L53.3,1564.5 L53.8,1564.5 L54.3,1564.5 L54.8,1564.5 L55.3,1564.5 L55.8,1564.4 L56.3,1564.4 L56.8,1564.4 L57.3,1564.4 L57.8,1564.4 L58.3,1564.4 L58.8,1564.4 L59.3,1564.4 L59.8,1564.4 L60.3,1564.3 L60.8,1564.3 L61.3,1564.3 L61.8,1564.3 L62.3,1564.3 L62.8,1564.3 L63.3,1564.3 L63.8,1564.3 L64.3,1564.3 L64.8,1564.2 L65.3,1564.2 L65.8,1564.2 L66.3,1564.2 L66.8,1564.2 L67.3,1564.2 L67.8,1564.2 L68.3,1564.2 L68.8,1564.1 L69.3,1564.1 L69.8,1564.1 L70.3,1564.1 L70.8,1564.1 L71.3,1564.1 L71.8,1564.1 L72.3,1564.0 L72.8,1564.0 L73.3,1564.0 L73.8,1564.0 L74.3,1564.0 L74.8,1564.0 L75.3,1563.9 L75.8,1563.9 L76.3,1563.9 L76.8,1563.9 L77.3,1563.9 L77.8,1563.9 L78.3,1563.8 L78.8,1563.8 L79.3,1563.8 L79.8,1563.8 L80.3,1563.8 L80.8,1563.7 L81.3,1563.7 L81.8,1563.7 L82.3,1563.7 L82.8,1563.7 L83.3,1563.6 L83.8,1563.6 L84.3,1563.6 L84.8,1563.6 L85.3,1563.6 L85.8,1563.5 L86.3,1563.5 L86.8,1563.5 L87.3,1563.5 L87.8,1563.4 L88.3,1563.4 L88.8,1563.4 L89.3,1563.4 L89.8,1563.3 L90.3,1563.3 L90.8,1563.3 L91.3,1563.3 L91.8,1563.2 L92.3,1563.2 L92.8,1563.2 L93.3,1563.1 L93.8,1563.1 L94.3,1563.1 L94.8,1563.0 L95.3,1563.0 L95.8,1563.0 L96.3,1562.9 L96.8,1562.9 L97.3,1562.9 L97.8,1562.8 L98.3,1562.8 L98.8,1562.8 L99.3,1562.7 L99.8,1562.7 L100.3,1562.6 L100.8,1562.6 L101.3,1562.6 L101.8,1562.5 L102.3,1562.5 L102.8,1562.4 L103.3,1562.4 L103.8,1562.3 L104.3,1562.3 L104.8,1562.2 L105.3,1562.2 L105.8,1562.1 L106.3,1562.1 L106.8,1562.0 L107.3,1562.0 L107.8,1561.9 L108.3,1561.9 L108.8,1561.8 L109.3,1561.7 L109.8,1561.7 L110.3,1561.6 L110.8,1561.5 L111.3,1561.5 L111.8,1561.4 L112.3,1561.3 L112.8,1561.3 L113.3,1561.2 L113.8,1561.1 L114.3,1561.0 L114.8,1560.9 L115.3,1560.8 L115.8,1560.8 L116.3,1560.7 L116.8,1560.6 L117.3,1560.5 L117.8,1560.4 L118.3,1560.3 L118.8,1560.2 L119.3,1560.1 L119.8,1559.9 L120.3,1559.8 L120.8,1559.7 L121.3,1559.6 L121.8,1559.4 L122.3,1559.3 L122.8,1559.2 L123.3,1559.0 L123.8,1558.9 L124.3,1558.7 L124.8,1558.5 L125.3,1558.4 L125.8,1558.2 L126.3,1558.0 L126.8,1557.8 L127.3,1557.6 L127.8,1557.4 L128.3,1557.2 L128.8,1557.0 L129.3,1556.7 L129.8,1556.5 L130.3,1556.2 L130.8,1555.9 L131.3,1555.7 L131.8,1555.4 L132.3,1555.0 L132.8,1554.7 L133.3,1554.4 L133.8,1554.0 L134.3,1553.6 L134.8,1553.3 L135.3,1552.8 L135.8,1552.4 L136.3,1552.0 L136.8,1551.5 L137.3,1551.0 L137.8,1550.4 L138.3,1549.9 L138.8,1549.3 L139.3,1548.7 L139.8,1548.0 L140.3,1547.3 L140.8,1546.6 L141.3,1545.8 L141.8,1545.0 L142.3,1544.1 L142.8,1543.2 L143.3,1542.3 L143.8,1541.3 L144.3,1540.2 L144.8,1539.1 L145.3,1538.0 L145.8,1536.8 L146.3,1535.5 L146.8,1534.2 L147.3,1532.9 L147.8,1531.5 L148.3,1530.1 L148.8,1528.6 L149.3,1527.2 L149.8,1525.7 L150.3,1524.2 L150.8,1522.8 L151.3,1521.4 L151.8,1520.0 L152.3,1518.8 L152.8,1517.7 L153.3,1516.6 L153.8,1515.8 L154.3,1515.1 L154.8,1514.6 L155.3,1514.2 L155.8,1514.1 L156.3,1514.2 L156.8,1514.5 L157.3,1514.9 L157.8,1515.6 L158.3,1516.4 L158.8,1517.3 L159.3,1518.4 L159.8,1519.6 L160.3,1520.8 L160.8,1522.1 L161.3,1523.4 L161.8,1524.8 L162.3,1526.1 L162.8,1527.5 L163.3,1528.8 L163.8,1530.1 L164.3,1531.3 L164.8,1532.5 L165.3,1533.7 L165.8,1534.8 L166.3,1535.8 L166.8,1536.8 L167.3,1537.7 L167.8,1538.6 L168.3,1539.5 L168.8,1540.3 L169.3,1541.0 L169.8,1541.7 L170.3,1542.3 L170.8,1542.9 L171.3,1543.5 L171.8,1544.0 L172.3,1544.4 L172.8,1544.9 L173.3,1545.3 L173.8,1545.6 L174.3,1546.0 L174.8,1546.3 L175.3,1546.5 L175.8,1546.8 L176.3,1547.0 L176.8,1547.1 L177.3,1547.3 L177.8,1547.4 L178.3,1547.5 L178.8,1547.6 L179.3,1547.7 L179.8,1547.7 L180.3,1547.7 L180.8,1547.7 L181.3,1547.6 L181.8,1547.5 L182.3,1547.5 L182.8,1547.3 L183.3,1547.2 L183.8,1547.0 L184.3,1546.8 L184.8,1546.6 L185.3,1546.4 L185.8,1546.1 L186.3,1545.8 L186.8,1545.5 L187.3,1545.1 L187.8,1544.7 L188.3,1544.3 L188.8,1543.8 L189.3,1543.3 L189.8,1542.8 L190.3,1542.2 L190.8,1541.6 L191.3,1541.0 L191.8,1540.3 L192.3,1539.5 L192.8,1538.7 L193.3,1537.9 L193.8,1537.0 L194.3,1536.0 L194.8,1535.0 L195.3,1534.0 L195.8,1532.9 L196.3,1531.7 L196.8,1530.5 L197.3,1529.2 L197.8,1527.9 L198.3,1526.5 L198.8,1525.1 L199.3,1523.6 L199.8,1522.2 L200.3,1520.7 L200.8,1519.2 L201.3,1517.7 L201.8,1516.3 L202.3,1514.9 L202.8,1513.7 L203.3,1512.5 L203.8,1511.4 L204.3,1510.5 L204.8,1509.7 L205.3,1509.1 L205.8,1508.7 L206.3,1508.4 L206.8,1508.4 L207.3,1508.6 L207.8,1508.9 L208.3,1509.5 L208.8,1510.2 L209.3,1511.0 L209.8,1511.9 L210.3,1513.0 L210.8,1514.1 L211.3,1515.2 L211.8,1516.4 L212.3,1517.6 L212.8,1518.8 L213.3,1520.0 L213.8,1521.2 L214.3,1522.3 L214.8,1523.3 L215.3,1524.3 L215.8,1525.3 L216.3,1526.2 L216.8,1527.0 L217.3,1527.7 L217.8,1528.4 L218.3,1529.0 L218.8,1529.6 L219.3,1530.0 L219.8,1530.4 L220.3,1530.8 L220.8,1531.0 L221.3,1531.2 L221.8,1531.4 L222.3,1531.4 L222.8,1531.4 L223.3,1531.4 L223.8,1531.2 L224.3,1531.0 L224.8,1530.8 L225.3,1530.4 L225.8,1530.0 L226.3,1529.6 L226.8,1529.0 L227.3,1528.4 L227.8,1527.7 L228.3,1527.0 L228.8,1526.2 L229.3,1525.3 L229.8,1524.3 L230.3,1523.3 L230.8,1522.2 L231.3,1521.1 L231.8,1519.9 L232.3,1518.7 L232.8,1517.4 L233.3,1516.1 L233.8,1514.8 L234.3,1513.5 L234.8,1512.2 L235.3,1511.0 L235.8,1509.7 L236.3,1508.6 L236.8,1507.5 L237.3,1506.5 L237.8,1505.7 L238.3,1505.0 L238.8,1504.4 L239.3,1503.9 L239.8,1503.6 L240.3,1503.4 L240.8,1503.3 L241.3,1503.3 L241.8,1503.4 L242.3,1503.6 L242.8,1503.9 L243.3,1504.2 L243.8,1504.5 L244.3,1504.8 L244.8,1505.0 L245.3,1505.3 L245.8,1505.5 L246.3,1505.6 L246.8,1505.6 L247.3,1505.6 L247.8,1505.5 L248.3,1505.3 L248.8,1505.0 L249.3,1504.6 L249.8,1504.1 L250.3,1503.6 L250.8,1503.0 L251.3,1502.4 L251.8,1501.8 L252.3,1501.1 L252.8,1500.5 L253.3,1499.9 L253.8,1499.4 L254.3,1498.9 L254.8,1498.6 L255.3,1498.3 L255.8,1498.3 L256.3,1498.3 L256.8,1498.6 L257.3,1499.0 L257.8,1499.6 L258.3,1500.4 L258.8,1501.3 L259.3,1502.3 L259.8,1503.5 L260.3,1504.8 L260.8,1506.2 L261.3,1507.6 L261.8,1509.1 L262.3,1510.6 L262.8,1512.1 L263.3,1513.6 L263.8,1515.1 L264.3,1516.5 L264.8,1517.9 L265.3,1519.2 L265.8,1520.5 L266.3,1521.7 L266.8,1522.8 L267.3,1523.9 L267.8,1524.9 L268.3,1525.8 L268.8,1526.6 L269.3,1527.4 L269.8,1528.1 L270.3,1528.8 L270.8,1529.3 L271.3,1529.8 L271.8,1530.2 L272.3,1530.6 L272.8,1530.9 L273.3,1531.1 L273.8,1531.2 L274.3,1531.3 L274.8,1531.3 L275.3,1531.3 L275.8,1531.2 L276.3,1531.0 L276.8,1530.8 L277.3,1530.5 L277.8,1530.1 L278.3,1529.7 L278.8,1529.2 L279.3,1528.6 L279.8,1528.0 L280.3,1527.3 L280.8,1526.6 L281.3,1525.8 L281.8,1525.0 L282.3,1524.1 L282.8,1523.2 L283.3,1522.2 L283.8,1521.3 L284.3,1520.3 L284.8,1519.3 L285.3,1518.4 L285.8,1517.5 L286.3,1516.7 L286.8,1515.9 L287.3,1515.2 L287.8,1514.7 L288.3,1514.3 L288.8,1514.0 L289.3,1513.9 L289.8,1514.0 L290.3,1514.2 L290.8,1514.6 L291.3,1515.1 L291.8,1515.8 L292.3,1516.6 L292.8,1517.6 L293.3,1518.6 L293.8,1519.7 L294.3,1520.9 L294.8,1522.1 L295.3,1523.3 L295.8,1524.6 L296.3,1525.8 L296.8,1527.0 L297.3,1528.2 L297.8,1529.4 L298.3,1530.6 L298.8,1531.7 L299.3,1532.7 L299.8,1533.8 L300.3,1534.7 L300.8,1535.7 L301.3,1536.5 L301.8,1537.4 L302.3,1538.1 L302.8,1538.9 L303.3,1539.6 L303.8,1540.2 L304.3,1540.8 L304.8,1541.4 L305.3,1541.9 L305.8,1542.4 L306.3,1542.9 L306.8,1543.3 L307.3,1543.7 L307.8,1544.1 L308.3,1544.4 L308.8,1544.7 L309.3,1545.0 L309.8,1545.3 L310.3,1545.5 L310.8,1545.7 L311.3,1545.9 L311.8,1546.0 L312.3,1546.2 L312.8,1546.3 L313.3,1546.4 L313.8,1546.5 L314.3,1546.5 L314.8,1546.5 L315.3,1546.5 L315.8,1546.5 L316.3,1546.5 L316.8,1546.4 L317.3,1546.4 L317.8,1546.3 L318.3,1546.2 L318.8,1546.0 L319.3,1545.8 L319.8,1545.7 L320.3,1545.4 L320.8,1545.2 L321.3,1545.0 L321.8,1544.7 L322.3,1544.3 L322.8,1544.0 L323.3,1543.6 L323.8,1543.2 L324.3,1542.8 L324.8,1542.3 L325.3,1541.8 L325.8,1541.3 L326.3,1540.7 L326.8,1540.1 L327.3,1539.4 L327.8,1538.7 L328.3,1537.9 L328.8,1537.1 L329.3,1536.3 L329.8,1535.4 L330.3,1534.5 L330.8,1533.5 L331.3,1532.5 L331.8,1531.4 L332.3,1530.3 L332.8,1529.2 L333.3,1528.0 L333.8,1526.8 L334.3,1525.6 L334.8,1524.4 L335.3,1523.3 L335.8,1522.1 L336.3,1521.0 L336.8,1520.0 L337.3,1519.1 L337.8,1518.2 L338.3,1517.5 L338.8,1516.9 L339.3,1516.5 L339.8,1516.2 L340.3,1516.1 L340.8,1516.2 L341.3,1516.4 L341.8,1516.8 L342.3,1517.3 L342.8,1518.0 L343.3,1518.8 L343.8,1519.7 L344.3,1520.7 L344.8,1521.7 L345.3,1522.8 L345.8,1524.0 L346.3,1525.1 L346.8,1526.3 L347.3,1527.4 L347.8,1528.6 L348.3,1529.7 L348.8,1530.8 L349.3,1531.8 L349.8,1532.8 L350.3,1533.8 L350.8,1534.7 L351.3,1535.5 L351.8,1536.4 L352.3,1537.1 L352.8,1537.9 L353.3,1538.6 L353.8,1539.2 L354.3,1539.8 L354.8,1540.4 L355.3,1540.9 L355.8,1541.4 L356.3,1541.9 L356.8,1542.3 L357.3,1542.7 L357.8,1543.1 L358.3,1543.5 L358.8,1543.8 L359.3,1544.1 L359.8,1544.3 L360.3,1544.6 L360.8,1544.8 L361.3,1545.0 L361.8,1545.2 L362.3,1545.4 L362.8,1545.5 L363.3,1545.7 L363.8,1545.8 L364.3,1545.9 L364.8,1546.0 L365.3,1546.0 L365.8,1546.1 L366.3,1546.1 L366.8,1546.1 L367.3,1546.2 L367.8,1546.2 L368.3,1546.1 L368.8,1546.1 L369.3,1546.1 L369.8,1546.0 L370.3,1546.0 L370.8,1545.9 L371.3,1545.8 L371.8,1545.7 L372.3,1545.6 L372.8,1545.5 L373.3,1545.4 L373.8,1545.2 L374.3,1545.1 L374.8,1544.9 L375.3,1544.8 L375.8,1544.6 L376.3,1544.4 L376.8,1544.2 L377.3,1543.9 L377.8,1543.7 L378.3,1543.5 L378.8,1543.2 L379.3,1542.9 L379.8,1542.6 L380.3,1542.3 L380.8,1542.0 L381.3,1541.7 L381.8,1541.4 L382.3,1541.0 L382.8,1540.6 L383.3,1540.2 L383.8,1539.8 L384.3,1539.4 L384.8,1538.9 L385.3,1538.4 L385.8,1538.0 L386.3,1537.4 L386.8,1536.9 L387.3,1536.3 L387.8,1535.8 L388.3,1535.1 L388.8,1534.5 L389.3,1533.8 L389.8,1533.1 L390.3,1532.4 L390.8,1531.7 L391.3,1530.9 L391.8,1530.0 L392.3,1529.1 L392.8,1528.2 L393.3,1527.3 L393.8,1526.3 L394.3,1525.2 L394.8,1524.1 L395.3,1522.9 L395.8,1521.7 L396.3,1520.4 L396.8,1519.1 L397.3,1517.7 L397.8,1516.2 L398.3,1514.6 L398.8,1513.0 L399.3,1511.2 L399.8,1509.4 L400.3,1507.4 L400.8,1505.4 L401.3,1503.2 L401.8,1500.9 L402.3,1498.5 L402.8,1495.9 L403.3,1493.2 L403.8,1490.3 L404.3,1487.3 L404.8,1484.0 L405.3,1480.6 L405.8,1476.9 L406.3,1473.1 L406.8,1469.0 L407.3,1464.6 L407.8,1460.0 L408.3,1455.1 L408.8,1449.9 L409.3,1444.4 L409.8,1438.6 L410.3,1432.5 L410.8,1426.0 L411.3,1419.2 L411.8,1412.1 L412.3,1404.6 L412.8,1396.9 L413.3,1388.9 L413.8,1380.7 L414.3,1372.3 L414.8,1363.8 L415.3,1355.3 L415.8,1346.9 L416.3,1338.7 L416.8,1330.9 L417.3,1323.6 L417.8,1317.0 L418.3,1311.1 L418.8,1306.3 L419.3,1302.5 L419.8,1299.9 L420.3,1298.6 L420.8,1298.6 L421.3,1299.8 L421.8,1302.4 L422.3,1306.1 L422.8,1310.8 L423.3,1316.5 L423.8,1322.9 L424.3,1330.0 L424.8,1337.5 L425.3,1345.3 L425.8,1353.4 L426.3,1361.4 L426.8,1369.5 L427.3,1377.4 L427.8,1385.1 L428.3,1392.6 L428.8,1399.8 L429.3,1406.8 L429.8,1413.3 L430.3,1419.6 L430.8,1425.5 L431.3,1431.1 L431.8,1436.3 L432.3,1441.2 L432.8,1445.8 L433.3,1450.1 L433.8,1454.2 L434.3,1457.9 L434.8,1461.4 L435.3,1464.7 L435.8,1467.7 L436.3,1470.5 L436.8,1473.1 L437.3,1475.5 L437.8,1477.7 L438.3,1479.7 L438.8,1481.6 L439.3,1483.3 L439.8,1484.8 L440.3,1486.2 L440.8,1487.5 L441.3,1488.6 L441.8,1489.7 L442.3,1490.6 L442.8,1491.3 L443.3,1492.0 L443.8,1492.6 L444.3,1493.0 L444.8,1493.4 L445.3,1493.6 L445.8,1493.7 L446.3,1493.8 L446.8,1493.7 L447.3,1493.6 L447.8,1493.3 L448.3,1493.0 L448.8,1492.5 L449.3,1492.0 L449.8,1491.3 L450.3,1490.6 L450.8,1489.7 L451.3,1488.7 L451.8,1487.7 L452.3,1486.5 L452.8,1485.1 L453.3,1483.7 L453.8,1482.1 L454.3,1480.4 L454.8,1478.5 L455.3,1476.5 L455.8,1474.3 L456.3,1471.9 L456.8,1469.4 L457.3,1466.6 L457.8,1463.7 L458.3,1460.6 L458.8,1457.2 L459.3,1453.6 L459.8,1449.8 L460.3,1445.6 L460.8,1441.3 L461.3,1436.6 L461.8,1431.6 L462.3,1426.3 L462.8,1420.7 L463.3,1414.7 L463.8,1408.4 L464.3,1401.7 L464.8,1394.7 L465.3,1387.3 L465.8,1379.7 L466.3,1371.7 L466.8,1363.5 L467.3,1355.0 L467.8,1346.4 L468.3,1337.7 L468.8,1329.1 L469.3,1320.6 L469.8,1312.4 L470.3,1304.6 L470.8,1297.4 L471.3,1290.9 L471.8,1285.3 L472.3,1280.6 L472.8,1277.1 L473.3,1274.9 L473.8,1273.8 L474.3,1274.1 L474.8,1275.6 L475.3,1278.3 L475.8,1282.0 L476.3,1286.7 L476.8,1292.2 L477.3,1298.3 L477.8,1304.9 L478.3,1311.8 L478.8,1318.9 L479.3,1326.1 L479.8,1333.3 L480.3,1340.2 L480.8,1347.0 L481.3,1353.5 L481.8,1359.6 L482.3,1365.3 L482.8,1370.7 L483.3,1375.6 L483.8,1380.1 L484.3,1384.2 L484.8,1387.8 L485.3,1390.9 L485.8,1393.6 L486.3,1395.9 L486.8,1397.7 L487.3,1399.1 L487.8,1400.0 L488.3,1400.5 L488.8,1400.6 L489.3,1400.2 L489.8,1399.3 L490.3,1398.0 L490.8,1396.2 L491.3,1393.9 L491.8,1391.2 L492.3,1387.9 L492.8,1384.1 L493.3,1379.7 L493.8,1374.8 L494.3,1369.4 L494.8,1363.3 L495.3,1356.6 L495.8,1349.4 L496.3,1341.5 L496.8,1333.1 L497.3,1324.2 L497.8,1314.7 L498.3,1304.9 L498.8,1294.7 L499.3,1284.4 L499.8,1274.1 L500.3,1264.0 L500.8,1254.3 L501.3,1245.3 L501.8,1237.2 L502.3,1230.3 L502.8,1224.9 L503.3,1221.1 L503.8,1219.1 L504.3,1218.9 L504.8,1220.4 L505.3,1223.7 L505.8,1228.5 L506.3,1234.6 L506.8,1241.7 L507.3,1249.6 L507.8,1258.1 L508.3,1266.8 L508.8,1275.5 L509.3,1284.1 L509.8,1292.4 L510.3,1300.2 L510.8,1307.5 L511.3,1314.3 L511.8,1320.3 L512.3,1325.7 L512.8,1330.4 L513.3,1334.4 L513.8,1337.7 L514.3,1340.2 L514.8,1342.0 L515.3,1343.2 L515.8,1343.7 L516.3,1343.4 L516.8,1342.6 L517.3,1341.0 L517.8,1338.9 L518.3,1336.1 L518.8,1332.7 L519.3,1328.8 L519.8,1324.3 L520.3,1319.3 L520.8,1313.9 L521.3,1308.1 L521.8,1302.0 L522.3,1295.7 L522.8,1289.3 L523.3,1282.9 L523.8,1276.6 L524.3,1270.7 L524.8,1265.2 L525.3,1260.4 L525.8,1256.4 L526.3,1253.3 L526.8,1251.2 L527.3,1250.3 L527.8,1250.6 L528.3,1252.1 L528.8,1254.8 L529.3,1258.6 L529.8,1263.5 L530.3,1269.2 L530.8,1275.7 L531.3,1282.8 L531.8,1290.4 L532.3,1298.3 L532.8,1306.3 L533.3,1314.3 L533.8,1322.3 L534.3,1330.1 L534.8,1337.7 L535.3,1344.9 L535.8,1351.8 L536.3,1358.3 L536.8,1364.4 L537.3,1370.1 L537.8,1375.3 L538.3,1380.0 L538.8,1384.3 L539.3,1388.1 L539.8,1391.5 L540.3,1394.4 L540.8,1396.9 L541.3,1398.9 L541.8,1400.5 L542.3,1401.6 L542.8,1402.3 L543.3,1402.6 L543.8,1402.3 L544.3,1401.6 L544.8,1400.5 L545.3,1398.8 L545.8,1396.7 L546.3,1394.1 L546.8,1390.9 L547.3,1387.2 L547.8,1382.9 L548.3,1378.1 L548.8,1372.7 L549.3,1366.8 L549.8,1360.2 L550.3,1353.1 L550.8,1345.4 L551.3,1337.3 L551.8,1328.7 L552.3,1319.7 L552.8,1310.5 L553.3,1301.2 L553.8,1291.9 L554.3,1283.0 L554.8,1274.6 L555.3,1266.9 L555.8,1260.4 L556.3,1255.1 L556.8,1251.4 L557.3,1249.4 L557.8,1249.3 L558.3,1251.0 L558.8,1254.6 L559.3,1259.9 L559.8,1266.8 L560.3,1275.0 L560.8,1284.2 L561.3,1294.3 L561.8,1304.9 L562.3,1315.8 L562.8,1326.9 L563.3,1337.8 L563.8,1348.6 L564.3,1359.0 L564.8,1369.1 L565.3,1378.7 L565.8,1387.8 L566.3,1396.5 L566.8,1404.6 L567.3,1412.2 L567.8,1419.4 L568.3,1426.1 L568.8,1432.3 L569.3,1438.1 L569.8,1443.5 L570.3,1448.6 L570.8,1453.2 L571.3,1457.6 L571.8,1461.7 L572.3,1465.4 L572.8,1468.9 L573.3,1472.2 L573.8,1475.2 L574.3,1478.0 L574.8,1480.6 L575.3,1483.1 L575.8,1485.3 L576.3,1487.4 L576.8,1489.3 L577.3,1491.1 L577.8,1492.7 L578.3,1494.2 L578.8,1495.6 L579.3,1496.9 L579.8,1498.0 L580.3,1499.1 L580.8,1500.0 L581.3,1500.9 L581.8,1501.6 L582.3,1502.3 L582.8,1502.8 L583.3,1503.3 L583.8,1503.7 L584.3,1504.0 L584.8,1504.2 L585.3,1504.3 L585.8,1504.4 L586.3,1504.3 L586.8,1504.2 L587.3,1504.0 L587.8,1503.7 L588.3,1503.3 L588.8,1502.8 L589.3,1502.2 L589.8,1501.5 L590.3,1500.7 L590.8,1499.8 L591.3,1498.7 L591.8,1497.6 L592.3,1496.3 L592.8,1494.9 L593.3,1493.3 L593.8,1491.6 L594.3,1489.7 L594.8,1487.7 L595.3,1485.4 L595.8,1483.0 L596.3,1480.3 L596.8,1477.4 L597.3,1474.3 L597.8,1470.9 L598.3,1467.3 L598.8,1463.3 L599.3,1459.0 L599.8,1454.3 L600.3,1449.3 L600.8,1443.9 L601.3,1438.1 L601.8,1431.8 L602.3,1425.1 L602.8,1417.9 L603.3,1410.2 L603.8,1402.0 L604.3,1393.3 L604.8,1384.2 L605.3,1374.7 L605.8,1364.8 L606.3,1354.6 L606.8,1344.3 L607.3,1334.0 L607.8,1323.9 L608.3,1314.1 L608.8,1305.1 L609.3,1296.9 L609.8,1289.9 L610.3,1284.3 L610.8,1280.3 L611.3,1278.2 L611.8,1277.9 L612.3,1279.6 L612.8,1283.1 L613.3,1288.3 L613.8,1295.0 L614.3,1303.1 L614.8,1312.1 L615.3,1322.0 L615.8,1332.3 L616.3,1342.9 L616.8,1353.7 L617.3,1364.3 L617.8,1374.7 L618.3,1384.8 L618.8,1394.6 L619.3,1403.9 L619.8,1412.7 L620.3,1421.0 L620.8,1428.9 L621.3,1436.2 L621.8,1443.2 L622.3,1449.6 L622.8,1455.7 L623.3,1461.3 L623.8,1466.6 L624.3,1471.6 L624.8,1476.2 L625.3,1480.5 L625.8,1484.5 L626.3,1488.2 L626.8,1491.8 L627.3,1495.0 L627.8,1498.1 L628.3,1501.0 L628.8,1503.7 L629.3,1506.3 L629.8,1508.6 L630.3,1510.9 L630.8,1513.0 L631.3,1515.0 L631.8,1516.9 L632.3,1518.7 L632.8,1520.3 L633.3,1521.9 L633.8,1523.4 L634.3,1524.9 L634.8,1526.2 L635.3,1527.5 L635.8,1528.7 L636.3,1529.9 L636.8,1531.0 L637.3,1532.0 L637.8,1533.0 L638.3,1533.9 L638.8,1534.9 L639.3,1535.7 L639.8,1536.5 L640.3,1537.3 L640.8,1538.1 L641.3,1538.8 L641.8,1539.5 L642.3,1540.2 L642.8,1540.8 L643.3,1541.4 L643.8,1542.0 L644.3,1542.6 L644.8,1543.1 L645.3,1543.7 L645.8,1544.2 L646.3,1544.7 L646.8,1545.1 L647.3,1545.6 L647.8,1546.0 L648.3,1546.4 L648.8,1546.8 L649.3,1547.2 L649.8,1547.6 L650.3,1548.0 L650.8,1548.3 L651.3,1548.7 L651.8,1549.0 L652.3,1549.3 L652.8,1549.6 L653.3,1549.9 L653.8,1550.2 L654.3,1550.5 L654.8,1550.8 L655.3,1551.1 L655.8,1551.3 L656.3,1551.6 L656.8,1551.8 L657.3,1552.0 L657.8,1552.3 L658.3,1552.5 L658.8,1552.7 L659.3,1552.9 L659.8,1553.1 L660.3,1553.3 L660.8,1553.5 L661.3,1553.7 L661.8,1553.9 L662.3,1554.1 L662.8,1554.3 L663.3,1554.5 L663.8,1554.6 L664.3,1554.8 L664.8,1554.9 L665.3,1555.1 L665.8,1555.3 L666.3,1555.4 L666.8,1555.6 L667.3,1555.7 L667.8,1555.8 L668.3,1556.0 L668.8,1556.1 L669.3,1556.2 L669.8,1556.4 L670.3,1556.5 L670.8,1556.6 L671.3,1556.7 L671.8,1556.9 L672.3,1557.0 L672.8,1557.1 L673.3,1557.2 L673.8,1557.3 L674.3,1557.4 L674.8,1557.5 L675.3,1557.6 L675.8,1557.7 L676.3,1557.8 L676.8,1557.9 L677.3,1558.0 L677.8,1558.1 L678.3,1558.2 L678.8,1558.3 L679.3,1558.4 L679.8,1558.4 L680.3,1558.5 L680.8,1558.6 L681.3,1558.7 L681.8,1558.8 L682.3,1558.9 L682.8,1558.9 L683.3,1559.0 L683.8,1559.1 L684.3,1559.2 L684.8,1559.2 L685.3,1559.3 L685.8,1559.4 L686.3,1559.4 L686.8,1559.5 L687.3,1559.6 L687.8,1559.6 L688.3,1559.7 L688.8,1559.8 L689.3,1559.8 L689.8,1559.9 L690.3,1559.9 L690.8,1560.0 L691.3,1560.1 L691.8,1560.1 L692.3,1560.2 L692.8,1560.2 L693.3,1560.3 L693.8,1560.3 L694.3,1560.4 L694.8,1560.4 L695.3,1560.5 L695.8,1560.5 L696.3,1560.6 L696.8,1560.6 L697.3,1560.7 L697.8,1560.7 L698.3,1560.8 L698.8,1560.8 L699.3,1560.9 L699.8,1560.9 L700.3,1561.0 L700.8,1561.0 L701.3,1561.1 L701.8,1561.1 L702.3,1561.1 L702.8,1561.2 L703.3,1561.2 L703.8,1561.3 L704.3,1561.3 L704.8,1561.3 L705.3,1561.4 L705.8,1561.4 L706.3,1561.5 L706.8,1561.5 L707.3,1561.5 L707.8,1561.6 L708.3,1561.6 L708.8,1561.6 L709.3,1561.7 L709.8,1561.7 L710.3,1561.8 L710.8,1561.8 L711.3,1561.8 L711.8,1561.9 L712.3,1561.9 L712.8,1561.9 L713.3,1561.9 L713.8,1562.0 L714.3,1562.0 L714.8,1562.0 L715.3,1562.1 L715.8,1562.1 L716.3,1562.1 L716.8,1562.2 L717.3,1562.2 L717.8,1562.2 L718.3,1562.2 L718.8,1562.3 L719.3,1562.3 L719.8,1562.3 L720.3,1562.4 L720.8,1562.4 L721.3,1562.4 L721.8,1562.4 L722.3,1562.5 L722.8,1562.5 L723.3,1562.5 L723.8,1562.5 L724.3,1562.6 L724.8,1562.6 L725.3,1562.6 L725.8,1562.6 L726.3,1562.7 L726.8,1562.7 L727.3,1562.7 L727.8,1562.7 L728.3,1562.8" fill="none" stroke="#375623" stroke-width="5" stroke-linecap="round" stroke-linejoin="round" stroke-dasharray="14.5 20.6"/>
<path d="M4.8,1564.8 L5.3,1564.8 L5.8,1564.8 L6.3,1564.8 L6.8,1564.8 L7.3,1564.8 L7.8,1564.8 L8.3,1564.7 L8.8,1564.7 L9.3,1564.7 L9.8,1564.7 L10.3,1564.7 L10.8,1564.7 L11.3,1564.7 L11.8,1564.7 L12.3,1564.7 L12.8,1564.6 L13.3,1564.6 L13.8,1564.6 L14.3,1564.6 L14.8,1564.6 L15.3,1564.6 L15.8,1564.6 L16.3,1564.6 L16.8,1564.6 L17.3,1564.5 L17.8,1564.5 L18.3,1564.5 L18.8,1564.5 L19.3,1564.5 L19.8,1564.5 L20.3,1564.5 L20.8,1564.5 L21.3,1564.4 L21.8,1564.4 L22.3,1564.4 L22.8,1564.4 L23.3,1564.4 L23.8,1564.4 L24.3,1564.4 L24.8,1564.3 L25.3,1564.3 L25.8,1564.3 L26.3,1564.3 L26.8,1564.3 L27.3,1564.3 L27.8,1564.3 L28.3,1564.2 L28.8,1564.2 L29.3,1564.2 L29.8,1564.2 L30.3,1564.2 L30.8,1564.2 L31.3,1564.1 L31.8,1564.1 L32.3,1564.1 L32.8,1564.1 L33.3,1564.1 L33.8,1564.0 L34.3,1564.0 L34.8,1564.0 L35.3,1564.0 L35.8,1564.0 L36.3,1563.9 L36.8,1563.9 L37.3,1563.9 L37.8,1563.9 L38.3,1563.9 L38.8,1563.8 L39.3,1563.8 L39.8,1563.8 L40.3,1563.8 L40.8,1563.7 L41.3,1563.7 L41.8,1563.7 L42.3,1563.7 L42.8,1563.7 L43.3,1563.6 L43.8,1563.6 L44.3,1563.6 L44.8,1563.5 L45.3,1563.5 L45.8,1563.5 L46.3,1563.5 L46.8,1563.4 L47.3,1563.4 L47.8,1563.4 L48.3,1563.4 L48.8,1563.3 L49.3,1563.3 L49.8,1563.3 L50.3,1563.2 L50.8,1563.2 L51.3,1563.2 L51.8,1563.1 L52.3,1563.1 L52.8,1563.1 L53.3,1563.0 L53.8,1563.0 L54.3,1563.0 L54.8,1562.9 L55.3,1562.9 L55.8,1562.9 L56.3,1562.8 L56.8,1562.8 L57.3,1562.7 L57.8,1562.7 L58.3,1562.7 L58.8,1562.6 L59.3,1562.6 L59.8,1562.5 L60.3,1562.5 L60.8,1562.4 L61.3,1562.4 L61.8,1562.3 L62.3,1562.3 L62.8,1562.3 L63.3,1562.2 L63.8,1562.2 L64.3,1562.1 L64.8,1562.0 L65.3,1562.0 L65.8,1561.9 L66.3,1561.9 L66.8,1561.8 L67.3,1561.8 L67.8,1561.7 L68.3,1561.7 L68.8,1561.6 L69.3,1561.5 L69.8,1561.5 L70.3,1561.4 L70.8,1561.3 L71.3,1561.3 L71.8,1561.2 L72.3,1561.1 L72.8,1561.0 L73.3,1561.0 L73.8,1560.9 L74.3,1560.8 L74.8,1560.7 L75.3,1560.7 L75.8,1560.6 L76.3,1560.5 L76.8,1560.4 L77.3,1560.3 L77.8,1560.2 L78.3,1560.1 L78.8,1560.0 L79.3,1559.9 L79.8,1559.8 L80.3,1559.7 L80.8,1559.6 L81.3,1559.5 L81.8,1559.4 L82.3,1559.3 L82.8,1559.2 L83.3,1559.1 L83.8,1558.9 L84.3,1558.8 L84.8,1558.7 L85.3,1558.5 L85.8,1558.4 L86.3,1558.3 L86.8,1558.1 L87.3,1558.0 L87.8,1557.8 L88.3,1557.7 L88.8,1557.5 L89.3,1557.3 L89.8,1557.2 L90.3,1557.0 L90.8,1556.8 L91.3,1556.6 L91.8,1556.4 L92.3,1556.2 L92.8,1556.0 L93.3,1555.8 L93.8,1555.6 L94.3,1555.4 L94.8,1555.1 L95.3,1554.9 L95.8,1554.7 L96.3,1554.4 L96.8,1554.1 L97.3,1553.9 L97.8,1553.6 L98.3,1553.3 L98.8,1553.0 L99.3,1552.7 L99.8,1552.3 L100.3,1552.0 L100.8,1551.7 L101.3,1551.3 L101.8,1550.9 L102.3,1550.5 L102.8,1550.1 L103.3,1549.7 L103.8,1549.3 L104.3,1548.8 L104.8,1548.4 L105.3,1547.9 L105.8,1547.4 L106.3,1546.8 L106.8,1546.3 L107.3,1545.7 L107.8,1545.1 L108.3,1544.5 L108.8,1543.9 L109.3,1543.2 L109.8,1542.5 L110.3,1541.8 L110.8,1541.0 L111.3,1540.3 L111.8,1539.4 L112.3,1538.6 L112.8,1537.7 L113.3,1536.8 L113.8,1535.8 L114.3,1534.8 L114.8,1533.8 L115.3,1532.7 L115.8,1531.6 L116.3,1530.5 L116.8,1529.3 L117.3,1528.0 L117.8,1526.8 L118.3,1525.4 L118.8,1524.1 L119.3,1522.7 L119.8,1521.3 L120.3,1519.8 L120.8,1518.3 L121.3,1516.8 L121.8,1515.3 L122.3,1513.7 L122.8,1512.2 L123.3,1510.6 L123.8,1509.1 L124.3,1507.6 L124.8,1506.1 L125.3,1504.7 L125.8,1503.4 L126.3,1502.1 L126.8,1500.9 L127.3,1499.8 L127.8,1498.8 L128.3,1497.9 L128.8,1497.2 L129.3,1496.6 L129.8,1496.1 L130.3,1495.8 L130.8,1495.7 L131.3,1495.7 L131.8,1495.9 L132.3,1496.2 L132.8,1496.7 L133.3,1497.3 L133.8,1498.1 L134.3,1498.9 L134.8,1499.9 L135.3,1500.9 L135.8,1502.0 L136.3,1503.2 L136.8,1504.4 L137.3,1505.7 L137.8,1507.0 L138.3,1508.3 L138.8,1509.6 L139.3,1510.9 L139.8,1512.2 L140.3,1513.4 L140.8,1514.7 L141.3,1515.9 L141.8,1517.0 L142.3,1518.2 L142.8,1519.3 L143.3,1520.3 L143.8,1521.3 L144.3,1522.3 L144.8,1523.2 L145.3,1524.1 L145.8,1524.9 L146.3,1525.6 L146.8,1526.4 L147.3,1527.0 L147.8,1527.7 L148.3,1528.3 L148.8,1528.8 L149.3,1529.3 L149.8,1529.8 L150.3,1530.2 L150.8,1530.5 L151.3,1530.9 L151.8,1531.2 L152.3,1531.4 L152.8,1531.6 L153.3,1531.8 L153.8,1531.9 L154.3,1532.0 L154.8,1532.1 L155.3,1532.1 L155.8,1532.1 L156.3,1532.1 L156.8,1532.0 L157.3,1531.9 L157.8,1531.7 L158.3,1531.5 L158.8,1531.3 L159.3,1531.0 L159.8,1530.7 L160.3,1530.3 L160.8,1530.0 L161.3,1529.5 L161.8,1529.1 L162.3,1528.6 L162.8,1528.0 L163.3,1527.4 L163.8,1526.8 L164.3,1526.1 L164.8,1525.4 L165.3,1524.6 L165.8,1523.8 L166.3,1522.9 L166.8,1522.0 L167.3,1521.1 L167.8,1520.0 L168.3,1519.0 L168.8,1517.9 L169.3,1516.7 L169.8,1515.5 L170.3,1514.2 L170.8,1512.9 L171.3,1511.6 L171.8,1510.2 L172.3,1508.7 L172.8,1507.3 L173.3,1505.8 L173.8,1504.3 L174.3,1502.7 L174.8,1501.2 L175.3,1499.6 L175.8,1498.1 L176.3,1496.5 L176.8,1495.0 L177.3,1493.6 L177.8,1492.2 L178.3,1490.8 L178.8,1489.6 L179.3,1488.4 L179.8,1487.4 L180.3,1486.4 L180.8,1485.6 L181.3,1484.9 L181.8,1484.4 L182.3,1484.0 L182.8,1483.8 L183.3,1483.7 L183.8,1483.7 L184.3,1483.9 L184.8,1484.2 L185.3,1484.6 L185.8,1485.2 L186.3,1485.8 L186.8,1486.6 L187.3,1487.4 L187.8,1488.2 L188.3,1489.1 L188.8,1490.0 L189.3,1491.0 L189.8,1492.0 L190.3,1492.9 L190.8,1493.8 L191.3,1494.8 L191.8,1495.6 L192.3,1496.5 L192.8,1497.2 L193.3,1498.0 L193.8,1498.6 L194.3,1499.2 L194.8,1499.8 L195.3,1500.3 L195.8,1500.6 L196.3,1501.0 L196.8,1501.2 L197.3,1501.4 L197.8,1501.4 L198.3,1501.5 L198.8,1501.4 L199.3,1501.2 L199.8,1501.0 L200.3,1500.6 L200.8,1500.2 L201.3,1499.7 L201.8,1499.1 L202.3,1498.5 L202.8,1497.7 L203.3,1496.9 L203.8,1496.0 L204.3,1495.0 L204.8,1493.9 L205.3,1492.8 L205.8,1491.6 L206.3,1490.3 L206.8,1489.0 L207.3,1487.6 L207.8,1486.2 L208.3,1484.7 L208.8,1483.2 L209.3,1481.6 L209.8,1480.1 L210.3,1478.5 L210.8,1477.0 L211.3,1475.5 L211.8,1474.0 L212.3,1472.6 L212.8,1471.2 L213.3,1469.9 L213.8,1468.7 L214.3,1467.6 L214.8,1466.6 L215.3,1465.7 L215.8,1464.9 L216.3,1464.3 L216.8,1463.8 L217.3,1463.4 L217.8,1463.1 L218.3,1462.9 L218.8,1462.8 L219.3,1462.7 L219.8,1462.8 L220.3,1462.9 L220.8,1463.1 L221.3,1463.3 L221.8,1463.5 L222.3,1463.7 L222.8,1463.9 L223.3,1464.0 L223.8,1464.2 L224.3,1464.3 L224.8,1464.4 L225.3,1464.4 L225.8,1464.4 L226.3,1464.3 L226.8,1464.2 L227.3,1464.1 L227.8,1463.9 L228.3,1463.8 L228.8,1463.6 L229.3,1463.4 L229.8,1463.2 L230.3,1463.0 L230.8,1462.9 L231.3,1462.8 L231.8,1462.8 L232.3,1462.8 L232.8,1463.0 L233.3,1463.2 L233.8,1463.6 L234.3,1464.1 L234.8,1464.7 L235.3,1465.4 L235.8,1466.2 L236.3,1467.1 L236.8,1468.2 L237.3,1469.4 L237.8,1470.6 L238.3,1472.0 L238.8,1473.4 L239.3,1474.8 L239.8,1476.3 L240.3,1477.9 L240.8,1479.4 L241.3,1481.0 L241.8,1482.6 L242.3,1484.1 L242.8,1485.6 L243.3,1487.1 L243.8,1488.5 L244.3,1489.9 L244.8,1491.2 L245.3,1492.4 L245.8,1493.6 L246.3,1494.7 L246.8,1495.8 L247.3,1496.7 L247.8,1497.6 L248.3,1498.4 L248.8,1499.1 L249.3,1499.8 L249.8,1500.3 L250.3,1500.8 L250.8,1501.2 L251.3,1501.5 L251.8,1501.7 L252.3,1501.9 L252.8,1501.9 L253.3,1501.9 L253.8,1501.8 L254.3,1501.6 L254.8,1501.4 L255.3,1501.1 L255.8,1500.6 L256.3,1500.2 L256.8,1499.6 L257.3,1499.0 L257.8,1498.3 L258.3,1497.6 L258.8,1496.8 L259.3,1495.9 L259.8,1495.0 L260.3,1494.1 L260.8,1493.2 L261.3,1492.2 L261.8,1491.2 L262.3,1490.2 L262.8,1489.3 L263.3,1488.3 L263.8,1487.4 L264.3,1486.6 L264.8,1485.8 L265.3,1485.1 L265.8,1484.6 L266.3,1484.1 L266.8,1483.7 L267.3,1483.5 L267.8,1483.4 L268.3,1483.4 L268.8,1483.6 L269.3,1483.9 L269.8,1484.4 L270.3,1485.1 L270.8,1485.8 L271.3,1486.7 L271.8,1487.7 L272.3,1488.9 L272.8,1490.1 L273.3,1491.4 L273.8,1492.7 L274.3,1494.2 L274.8,1495.6 L275.3,1497.2 L275.8,1498.7 L276.3,1500.2 L276.8,1501.8 L277.3,1503.3 L277.8,1504.8 L278.3,1506.3 L278.8,1507.8 L279.3,1509.2 L279.8,1510.6 L280.3,1511.9 L280.8,1513.2 L281.3,1514.5 L281.8,1515.7 L282.3,1516.8 L282.8,1518.0 L283.3,1519.0 L283.8,1520.0 L284.3,1521.0 L284.8,1521.9 L285.3,1522.8 L285.8,1523.6 L286.3,1524.3 L286.8,1525.1 L287.3,1525.7 L287.8,1526.4 L288.3,1526.9 L288.8,1527.5 L289.3,1528.0 L289.8,1528.4 L290.3,1528.9 L290.8,1529.2 L291.3,1529.6 L291.8,1529.9 L292.3,1530.1 L292.8,1530.4 L293.3,1530.5 L293.8,1530.7 L294.3,1530.8 L294.8,1530.9 L295.3,1530.9 L295.8,1530.9 L296.3,1530.9 L296.8,1530.8 L297.3,1530.7 L297.8,1530.5 L298.3,1530.3 L298.8,1530.1 L299.3,1529.8 L299.8,1529.5 L300.3,1529.2 L300.8,1528.8 L301.3,1528.3 L301.8,1527.9 L302.3,1527.3 L302.8,1526.8 L303.3,1526.2 L303.8,1525.5 L304.3,1524.8 L304.8,1524.1 L305.3,1523.3 L305.8,1522.4 L306.3,1521.5 L306.8,1520.6 L307.3,1519.6 L307.8,1518.6 L308.3,1517.5 L308.8,1516.4 L309.3,1515.2 L309.8,1514.0 L310.3,1512.8 L310.8,1511.5 L311.3,1510.2 L311.8,1508.9 L312.3,1507.6 L312.8,1506.3 L313.3,1505.0 L313.8,1503.7 L314.3,1502.4 L314.8,1501.2 L315.3,1500.0 L315.8,1498.9 L316.3,1497.8 L316.8,1496.9 L317.3,1496.1 L317.8,1495.3 L318.3,1494.7 L318.8,1494.3 L319.3,1494.0 L319.8,1493.8 L320.3,1493.8 L320.8,1493.9 L321.3,1494.2 L321.8,1494.7 L322.3,1495.3 L322.8,1496.0 L323.3,1496.9 L323.8,1497.9 L324.3,1499.0 L324.8,1500.2 L325.3,1501.5 L325.8,1502.9 L326.3,1504.3 L326.8,1505.7 L327.3,1507.2 L327.8,1508.7 L328.3,1510.2 L328.8,1511.7 L329.3,1513.2 L329.8,1514.7 L330.3,1516.2 L330.8,1517.7 L331.3,1519.1 L331.8,1520.5 L332.3,1521.8 L332.8,1523.1 L333.3,1524.4 L333.8,1525.6 L334.3,1526.8 L334.8,1527.9 L335.3,1529.0 L335.8,1530.1 L336.3,1531.1 L336.8,1532.1 L337.3,1533.0 L337.8,1533.9 L338.3,1534.8 L338.8,1535.6 L339.3,1536.4 L339.8,1537.2 L340.3,1537.9 L340.8,1538.6 L341.3,1539.3 L341.8,1539.9 L342.3,1540.5 L342.8,1541.1 L343.3,1541.7 L343.8,1542.2 L344.3,1542.7 L344.8,1543.2 L345.3,1543.6 L345.8,1544.1 L346.3,1544.5 L346.8,1544.9 L347.3,1545.3 L347.8,1545.6 L348.3,1546.0 L348.8,1546.3 L349.3,1546.6 L349.8,1546.9 L350.3,1547.2 L350.8,1547.5 L351.3,1547.7 L351.8,1548.0 L352.3,1548.2 L352.8,1548.4 L353.3,1548.6 L353.8,1548.8 L354.3,1549.0 L354.8,1549.2 L355.3,1549.3 L355.8,1549.5 L356.3,1549.6 L356.8,1549.8 L357.3,1549.9 L357.8,1550.0 L358.3,1550.1 L358.8,1550.2 L359.3,1550.3 L359.8,1550.3 L360.3,1550.4 L360.8,1550.4 L361.3,1550.5 L361.8,1550.5 L362.3,1550.6 L362.8,1550.6 L363.3,1550.6 L363.8,1550.6 L364.3,1550.6 L364.8,1550.6 L365.3,1550.6 L365.8,1550.5 L366.3,1550.5 L366.8,1550.4 L367.3,1550.4 L367.8,1550.3 L368.3,1550.2 L368.8,1550.2 L369.3,1550.1 L369.8,1550.0 L370.3,1549.8 L370.8,1549.7 L371.3,1549.6 L371.8,1549.4 L372.3,1549.3 L372.8,1549.1 L373.3,1548.9 L373.8,1548.7 L374.3,1548.5 L374.8,1548.3 L375.3,1548.1 L375.8,1547.9 L376.3,1547.6 L376.8,1547.3 L377.3,1547.0 L377.8,1546.7 L378.3,1546.4 L378.8,1546.1 L379.3,1545.7 L379.8,1545.4 L380.3,1545.0 L380.8,1544.5 L381.3,1544.1 L381.8,1543.6 L382.3,1543.2 L382.8,1542.7 L383.3,1542.1 L383.8,1541.6 L384.3,1541.0 L384.8,1540.3 L385.3,1539.7 L385.8,1539.0 L386.3,1538.3 L386.8,1537.5 L387.3,1536.7 L387.8,1535.9 L388.3,1535.0 L388.8,1534.0 L389.3,1533.1 L389.8,1532.0 L390.3,1530.9 L390.8,1529.8 L391.3,1528.6 L391.8,1527.4 L392.3,1526.1 L392.8,1524.7 L393.3,1523.3 L393.8,1521.8 L394.3,1520.2 L394.8,1518.6 L395.3,1516.9 L395.8,1515.1 L396.3,1513.3 L396.8,1511.4 L397.3,1509.5 L397.8,1507.6 L398.3,1505.6 L398.8,1503.5 L399.3,1501.5 L399.8,1499.4 L400.3,1497.4 L400.8,1495.4 L401.3,1493.4 L401.8,1491.5 L402.3,1489.7 L402.8,1488.1 L403.3,1486.5 L403.8,1485.2 L404.3,1484.0 L404.8,1483.0 L405.3,1482.3 L405.8,1481.7 L406.3,1481.5 L406.8,1481.5 L407.3,1481.7 L407.8,1482.1 L408.3,1482.8 L408.8,1483.7 L409.3,1484.8 L409.8,1486.1 L410.3,1487.5 L410.8,1489.1 L411.3,1490.8 L411.8,1492.5 L412.3,1494.3 L412.8,1496.2 L413.3,1498.0 L413.8,1499.9 L414.3,1501.7 L414.8,1503.6 L415.3,1505.3 L415.8,1507.1 L416.3,1508.8 L416.8,1510.4 L417.3,1512.0 L417.8,1513.5 L418.3,1514.9 L418.8,1516.3 L419.3,1517.6 L419.8,1518.9 L420.3,1520.0 L420.8,1521.1 L421.3,1522.1 L421.8,1523.1 L422.3,1524.0 L422.8,1524.9 L423.3,1525.6 L423.8,1526.4 L424.3,1527.0 L424.8,1527.6 L425.3,1528.2 L425.8,1528.7 L426.3,1529.2 L426.8,1529.6 L427.3,1530.0 L427.8,1530.3 L428.3,1530.6 L428.8,1530.8 L429.3,1531.0 L429.8,1531.1 L430.3,1531.2 L430.8,1531.3 L431.3,1531.3 L431.8,1531.3 L432.3,1531.3 L432.8,1531.2 L433.3,1531.0 L433.8,1530.9 L434.3,1530.6 L434.8,1530.4 L435.3,1530.1 L435.8,1529.8 L436.3,1529.4 L436.8,1529.0 L437.3,1528.5 L437.8,1528.0 L438.3,1527.4 L438.8,1526.8 L439.3,1526.2 L439.8,1525.4 L440.3,1524.7 L440.8,1523.9 L441.3,1523.0 L441.8,1522.1 L442.3,1521.1 L442.8,1520.0 L443.3,1518.9 L443.8,1517.8 L444.3,1516.5 L444.8,1515.2 L445.3,1513.8 L445.8,1512.4 L446.3,1510.8 L446.8,1509.2 L447.3,1507.5 L447.8,1505.8 L448.3,1503.9 L448.8,1502.0 L449.3,1500.0 L449.8,1498.0 L450.3,1495.9 L450.8,1493.7 L451.3,1491.5 L451.8,1489.2 L452.3,1486.9 L452.8,1484.7 L453.3,1482.4 L453.8,1480.1 L454.3,1477.9 L454.8,1475.7 L455.3,1473.6 L455.8,1471.7 L456.3,1469.9 L456.8,1468.2 L457.3,1466.7 L457.8,1465.4 L458.3,1464.3 L458.8,1463.4 L459.3,1462.7 L459.8,1462.3 L460.3,1462.1 L460.8,1462.1 L461.3,1462.3 L461.8,1462.7 L462.3,1463.2 L462.8,1463.9 L463.3,1464.7 L463.8,1465.6 L464.3,1466.5 L464.8,1467.5 L465.3,1468.5 L465.8,1469.5 L466.3,1470.5 L466.8,1471.5 L467.3,1472.4 L467.8,1473.2 L468.3,1473.9 L468.8,1474.6 L469.3,1475.2 L469.8,1475.7 L470.3,1476.1 L470.8,1476.4 L471.3,1476.6 L471.8,1476.7 L472.3,1476.7 L472.8,1476.7 L473.3,1476.5 L473.8,1476.3 L474.3,1476.0 L474.8,1475.6 L475.3,1475.2 L475.8,1474.7 L476.3,1474.2 L476.8,1473.7 L477.3,1473.2 L477.8,1472.7 L478.3,1472.2 L478.8,1471.7 L479.3,1471.3 L479.8,1470.9 L480.3,1470.6 L480.8,1470.3 L481.3,1470.2 L481.8,1470.1 L482.3,1470.1 L482.8,1470.3 L483.3,1470.5 L483.8,1470.8 L484.3,1471.2 L484.8,1471.7 L485.3,1472.3 L485.8,1473.0 L486.3,1473.7 L486.8,1474.5 L487.3,1475.4 L487.8,1476.3 L488.3,1477.2 L488.8,1478.1 L489.3,1479.0 L489.8,1480.0 L490.3,1480.9 L490.8,1481.7 L491.3,1482.6 L491.8,1483.4 L492.3,1484.1 L492.8,1484.8 L493.3,1485.4 L493.8,1486.0 L494.3,1486.4 L494.8,1486.8 L495.3,1487.1 L495.8,1487.3 L496.3,1487.4 L496.8,1487.4 L497.3,1487.3 L497.8,1487.1 L498.3,1486.8 L498.8,1486.4 L499.3,1485.9 L499.8,1485.3 L500.3,1484.6 L500.8,1483.7 L501.3,1482.8 L501.8,1481.8 L502.3,1480.6 L502.8,1479.4 L503.3,1478.1 L503.8,1476.7 L504.3,1475.2 L504.8,1473.7 L505.3,1472.2 L505.8,1470.6 L506.3,1469.0 L506.8,1467.4 L507.3,1465.9 L507.8,1464.4 L508.3,1463.0 L508.8,1461.7 L509.3,1460.6 L509.8,1459.5 L510.3,1458.7 L510.8,1458.0 L511.3,1457.6 L511.8,1457.4 L512.3,1457.3 L512.8,1457.5 L513.3,1458.0 L513.8,1458.6 L514.3,1459.4 L514.8,1460.4 L515.3,1461.5 L515.8,1462.7 L516.3,1464.1 L516.8,1465.6 L517.3,1467.1 L517.8,1468.6 L518.3,1470.2 L518.8,1471.7 L519.3,1473.2 L519.8,1474.7 L520.3,1476.1 L520.8,1477.5 L521.3,1478.8 L521.8,1480.0 L522.3,1481.1 L522.8,1482.1 L523.3,1483.0 L523.8,1483.8 L524.3,1484.5 L524.8,1485.1 L525.3,1485.6 L525.8,1486.0 L526.3,1486.3 L526.8,1486.5 L527.3,1486.6 L527.8,1486.6 L528.3,1486.5 L528.8,1486.4 L529.3,1486.1 L529.8,1485.9 L530.3,1485.5 L530.8,1485.1 L531.3,1484.7 L531.8,1484.3 L532.3,1483.8 L532.8,1483.3 L533.3,1482.8 L533.8,1482.4 L534.3,1481.9 L534.8,1481.5 L535.3,1481.2 L535.8,1480.9 L536.3,1480.7 L536.8,1480.6 L537.3,1480.6 L537.8,1480.7 L538.3,1480.9 L538.8,1481.2 L539.3,1481.7 L539.8,1482.2 L540.3,1482.9 L540.8,1483.7 L541.3,1484.6 L541.8,1485.6 L542.3,1486.7 L542.8,1487.9 L543.3,1489.1 L543.8,1490.5 L544.3,1491.9 L544.8,1493.3 L545.3,1494.8 L545.8,1496.3 L546.3,1497.8 L546.8,1499.3 L547.3,1500.8 L547.8,1502.4 L548.3,1503.9 L548.8,1505.4 L549.3,1506.8 L549.8,1508.3 L550.3,1509.7 L550.8,1511.0 L551.3,1512.4 L551.8,1513.6 L552.3,1514.9 L552.8,1516.1 L553.3,1517.2 L553.8,1518.4 L554.3,1519.4 L554.8,1520.4 L555.3,1521.4 L555.8,1522.4 L556.3,1523.2 L556.8,1524.1 L557.3,1524.9 L557.8,1525.7 L558.3,1526.4 L558.8,1527.1 L559.3,1527.7 L559.8,1528.3 L560.3,1528.9 L560.8,1529.4 L561.3,1529.9 L561.8,1530.3 L562.3,1530.8 L562.8,1531.2 L563.3,1531.5 L563.8,1531.8 L564.3,1532.1 L564.8,1532.4 L565.3,1532.6 L565.8,1532.8 L566.3,1532.9 L566.8,1533.1 L567.3,1533.2 L567.8,1533.2 L568.3,1533.3 L568.8,1533.3 L569.3,1533.3 L569.8,1533.2 L570.3,1533.1 L570.8,1533.0 L571.3,1532.8 L571.8,1532.6 L572.3,1532.4 L572.8,1532.2 L573.3,1531.9 L573.8,1531.6 L574.3,1531.2 L574.8,1530.8 L575.3,1530.4 L575.8,1529.9 L576.3,1529.4 L576.8,1528.9 L577.3,1528.3 L577.8,1527.7 L578.3,1527.0 L578.8,1526.3 L579.3,1525.6 L579.8,1524.8 L580.3,1524.0 L580.8,1523.2 L581.3,1522.3 L581.8,1521.3 L582.3,1520.3 L582.8,1519.3 L583.3,1518.3 L583.8,1517.2 L584.3,1516.1 L584.8,1514.9 L585.3,1513.8 L585.8,1512.6 L586.3,1511.4 L586.8,1510.2 L587.3,1509.0 L587.8,1507.8 L588.3,1506.6 L588.8,1505.4 L589.3,1504.3 L589.8,1503.2 L590.3,1502.2 L590.8,1501.2 L591.3,1500.3 L591.8,1499.5 L592.3,1498.8 L592.8,1498.2 L593.3,1497.8 L593.8,1497.4 L594.3,1497.2 L594.8,1497.1 L595.3,1497.1 L595.8,1497.3 L596.3,1497.7 L596.8,1498.1 L597.3,1498.7 L597.8,1499.4 L598.3,1500.2 L598.8,1501.1 L599.3,1502.2 L599.8,1503.3 L600.3,1504.5 L600.8,1505.7 L601.3,1507.0 L601.8,1508.4 L602.3,1509.7 L602.8,1511.1 L603.3,1512.6 L603.8,1514.0 L604.3,1515.4 L604.8,1516.8 L605.3,1518.2 L605.8,1519.6 L606.3,1521.0 L606.8,1522.4 L607.3,1523.7 L607.8,1525.0 L608.3,1526.2 L608.8,1527.4 L609.3,1528.6 L609.8,1529.8 L610.3,1530.9 L610.8,1532.0 L611.3,1533.0 L611.8,1534.0 L612.3,1535.0 L612.8,1535.9 L613.3,1536.8 L613.8,1537.7 L614.3,1538.5 L614.8,1539.4 L615.3,1540.1 L615.8,1540.9 L616.3,1541.6 L616.8,1542.3 L617.3,1543.0 L617.8,1543.6 L618.3,1544.2 L618.8,1544.8 L619.3,1545.4 L619.8,1546.0 L620.3,1546.5 L620.8,1547.0 L621.3,1547.5 L621.8,1548.0 L622.3,1548.5 L622.8,1548.9 L623.3,1549.3 L623.8,1549.8 L624.3,1550.2 L624.8,1550.5 L625.3,1550.9 L625.8,1551.3 L626.3,1551.6 L626.8,1552.0 L627.3,1552.3 L627.8,1552.6 L628.3,1552.9 L628.8,1553.2 L629.3,1553.5 L629.8,1553.8 L630.3,1554.0 L630.8,1554.3 L631.3,1554.5 L631.8,1554.8 L632.3,1555.0 L632.8,1555.2 L633.3,1555.5 L633.8,1555.7 L634.3,1555.9 L634.8,1556.1 L635.3,1556.3 L635.8,1556.5 L636.3,1556.6 L636.8,1556.8 L637.3,1557.0 L637.8,1557.2 L638.3,1557.3 L638.8,1557.5 L639.3,1557.7 L639.8,1557.8 L640.3,1558.0 L640.8,1558.1 L641.3,1558.2 L641.8,1558.4 L642.3,1558.5 L642.8,1558.6 L643.3,1558.8 L643.8,1558.9 L644.3,1559.0 L644.8,1559.1 L645.3,1559.2 L645.8,1559.3 L646.3,1559.5 L646.8,1559.6 L647.3,1559.7 L647.8,1559.8 L648.3,1559.9 L648.8,1560.0 L649.3,1560.1 L649.8,1560.2 L650.3,1560.2 L650.8,1560.3 L651.3,1560.4 L651.8,1560.5 L652.3,1560.6 L652.8,1560.7 L653.3,1560.7 L653.8,1560.8 L654.3,1560.9 L654.8,1561.0 L655.3,1561.0 L655.8,1561.1 L656.3,1561.2 L656.8,1561.2 L657.3,1561.3 L657.8,1561.4 L658.3,1561.4 L658.8,1561.5 L659.3,1561.6 L659.8,1561.6 L660.3,1561.7 L660.8,1561.7 L661.3,1561.8 L661.8,1561.9 L662.3,1561.9 L662.8,1562.0 L663.3,1562.0 L663.8,1562.1 L664.3,1562.1 L664.8,1562.2 L665.3,1562.2 L665.8,1562.3 L666.3,1562.3 L666.8,1562.4 L667.3,1562.4 L667.8,1562.4 L668.3,1562.5 L668.8,1562.5 L669.3,1562.6 L669.8,1562.6 L670.3,1562.7 L670.8,1562.7 L671.3,1562.7 L671.8,1562.8 L672.3,1562.8 L672.8,1562.9 L673.3,1562.9 L673.8,1562.9 L674.3,1563.0 L674.8,1563.0 L675.3,1563.0 L675.8,1563.1 L676.3,1563.1 L676.8,1563.1 L677.3,1563.2 L677.8,1563.2 L678.3,1563.2 L678.8,1563.3 L679.3,1563.3 L679.8,1563.3 L680.3,1563.3 L680.8,1563.4 L681.3,1563.4 L681.8,1563.4 L682.3,1563.5 L682.8,1563.5 L683.3,1563.5 L683.8,1563.5 L684.3,1563.6 L684.8,1563.6 L685.3,1563.6 L685.8,1563.6 L686.3,1563.7 L686.8,1563.7 L687.3,1563.7 L687.8,1563.7 L688.3,1563.7 L688.8,1563.8 L689.3,1563.8 L689.8,1563.8 L690.3,1563.8 L690.8,1563.9 L691.3,1563.9 L691.8,1563.9 L692.3,1563.9 L692.8,1563.9 L693.3,1564.0 L693.8,1564.0 L694.3,1564.0 L694.8,1564.0 L695.3,1564.0 L695.8,1564.1 L696.3,1564.1 L696.8,1564.1 L697.3,1564.1 L697.8,1564.1 L698.3,1564.1 L698.8,1564.2 L699.3,1564.2 L699.8,1564.2 L700.3,1564.2 L700.8,1564.2 L701.3,1564.2 L701.8,1564.3 L702.3,1564.3 L702.8,1564.3 L703.3,1564.3 L703.8,1564.3 L704.3,1564.3 L704.8,1564.3 L705.3,1564.4 L705.8,1564.4 L706.3,1564.4 L706.8,1564.4 L707.3,1564.4 L707.8,1564.4 L708.3,1564.4 L708.8,1564.5 L709.3,1564.5 L709.8,1564.5 L710.3,1564.5 L710.8,1564.5 L711.3,1564.5 L711.8,1564.5 L712.3,1564.5 L712.8,1564.6 L713.3,1564.6 L713.8,1564.6 L714.3,1564.6 L714.8,1564.6 L715.3,1564.6 L715.8,1564.6 L716.3,1564.6 L716.8,1564.6 L717.3,1564.7 L717.8,1564.7 L718.3,1564.7 L718.8,1564.7 L719.3,1564.7 L719.8,1564.7 L720.3,1564.7 L720.8,1564.7 L721.3,1564.7 L721.8,1564.7 L722.3,1564.8 L722.8,1564.8 L723.3,1564.8 L723.8,1564.8 L724.3,1564.8 L724.8,1564.8 L725.3,1564.8 L725.8,1564.8 L726.3,1564.8 L726.8,1564.8 L727.3,1564.8 L727.8,1564.9 L728.3,1564.9" fill="none" stroke="#0070C0" stroke-width="5" stroke-linecap="butt" stroke-linejoin="round"/>
<path d="M4.8,1564.1 L5.3,1564.1 L5.8,1564.1 L6.3,1564.1 L6.8,1564.1 L7.3,1564.1 L7.8,1564.1 L8.3,1564.0 L8.8,1564.0 L9.3,1564.0 L9.8,1564.0 L10.3,1564.0 L10.8,1564.0 L11.3,1564.0 L11.8,1563.9 L12.3,1563.9 L12.8,1563.9 L13.3,1563.9 L13.8,1563.9 L14.3,1563.9 L14.8,1563.9 L15.3,1563.8 L15.8,1563.8 L16.3,1563.8 L16.8,1563.8 L17.3,1563.8 L17.8,1563.8 L18.3,1563.7 L18.8,1563.7 L19.3,1563.7 L19.8,1563.7 L20.3,1563.7 L20.8,1563.7 L21.3,1563.6 L21.8,1563.6 L22.3,1563.6 L22.8,1563.6 L23.3,1563.6 L23.8,1563.5 L24.3,1563.5 L24.8,1563.5 L25.3,1563.5 L25.8,1563.5 L26.3,1563.5 L26.8,1563.4 L27.3,1563.4 L27.8,1563.4 L28.3,1563.4 L28.8,1563.3 L29.3,1563.3 L29.8,1563.3 L30.3,1563.3 L30.8,1563.3 L31.3,1563.2 L31.8,1563.2 L32.3,1563.2 L32.8,1563.2 L33.3,1563.1 L33.8,1563.1 L34.3,1563.1 L34.8,1563.1 L35.3,1563.0 L35.8,1563.0 L36.3,1563.0 L36.8,1563.0 L37.3,1562.9 L37.8,1562.9 L38.3,1562.9 L38.8,1562.9 L39.3,1562.8 L39.8,1562.8 L40.3,1562.8 L40.8,1562.7 L41.3,1562.7 L41.8,1562.7 L42.3,1562.7 L42.8,1562.6 L43.3,1562.6 L43.8,1562.6 L44.3,1562.5 L44.8,1562.5 L45.3,1562.5 L45.8,1562.4 L46.3,1562.4 L46.8,1562.4 L47.3,1562.3 L47.8,1562.3 L48.3,1562.2 L48.8,1562.2 L49.3,1562.2 L49.8,1562.1 L50.3,1562.1 L50.8,1562.1 L51.3,1562.0 L51.8,1562.0 L52.3,1561.9 L52.8,1561.9 L53.3,1561.9 L53.8,1561.8 L54.3,1561.8 L54.8,1561.7 L55.3,1561.7 L55.8,1561.6 L56.3,1561.6 L56.8,1561.5 L57.3,1561.5 L57.8,1561.4 L58.3,1561.4 L58.8,1561.3 L59.3,1561.3 L59.8,1561.2 L60.3,1561.2 L60.8,1561.1 L61.3,1561.1 L61.8,1561.0 L62.3,1561.0 L62.8,1560.9 L63.3,1560.8 L63.8,1560.8 L64.3,1560.7 L64.8,1560.7 L65.3,1560.6 L65.8,1560.5 L66.3,1560.5 L66.8,1560.4 L67.3,1560.3 L67.8,1560.3 L68.3,1560.2 L68.8,1560.1 L69.3,1560.0 L69.8,1560.0 L70.3,1559.9 L70.8,1559.8 L71.3,1559.7 L71.8,1559.7 L72.3,1559.6 L72.8,1559.5 L73.3,1559.4 L73.8,1559.3 L74.3,1559.2 L74.8,1559.1 L75.3,1559.0 L75.8,1558.9 L76.3,1558.8 L76.8,1558.7 L77.3,1558.6 L77.8,1558.5 L78.3,1558.4 L78.8,1558.3 L79.3,1558.2 L79.8,1558.1 L80.3,1558.0 L80.8,1557.8 L81.3,1557.7 L81.8,1557.6 L82.3,1557.5 L82.8,1557.3 L83.3,1557.2 L83.8,1557.1 L84.3,1556.9 L84.8,1556.8 L85.3,1556.6 L85.8,1556.5 L86.3,1556.3 L86.8,1556.1 L87.3,1556.0 L87.8,1555.8 L88.3,1555.6 L88.8,1555.5 L89.3,1555.3 L89.8,1555.1 L90.3,1554.9 L90.8,1554.7 L91.3,1554.5 L91.8,1554.3 L92.3,1554.0 L92.8,1553.8 L93.3,1553.6 L93.8,1553.4 L94.3,1553.1 L94.8,1552.8 L95.3,1552.6 L95.8,1552.3 L96.3,1552.0 L96.8,1551.8 L97.3,1551.5 L97.8,1551.1 L98.3,1550.8 L98.8,1550.5 L99.3,1550.2 L99.8,1549.8 L100.3,1549.5 L100.8,1549.1 L101.3,1548.7 L101.8,1548.3 L102.3,1547.9 L102.8,1547.4 L103.3,1547.0 L103.8,1546.5 L104.3,1546.1 L104.8,1545.6 L105.3,1545.0 L105.8,1544.5 L106.3,1543.9 L106.8,1543.4 L107.3,1542.8 L107.8,1542.1 L108.3,1541.5 L108.8,1540.8 L109.3,1540.1 L109.8,1539.4 L110.3,1538.6 L110.8,1537.8 L111.3,1537.0 L111.8,1536.2 L112.3,1535.3 L112.8,1534.4 L113.3,1533.4 L113.8,1532.4 L114.3,1531.4 L114.8,1530.3 L115.3,1529.2 L115.8,1528.0 L116.3,1526.8 L116.8,1525.6 L117.3,1524.3 L117.8,1523.0 L118.3,1521.6 L118.8,1520.2 L119.3,1518.8 L119.8,1517.3 L120.3,1515.8 L120.8,1514.2 L121.3,1512.6 L121.8,1511.0 L122.3,1509.4 L122.8,1507.8 L123.3,1506.2 L123.8,1504.6 L124.3,1503.0 L124.8,1501.4 L125.3,1499.9 L125.8,1498.4 L126.3,1497.0 L126.8,1495.6 L127.3,1494.3 L127.8,1493.2 L128.3,1492.1 L128.8,1491.2 L129.3,1490.4 L129.8,1489.7 L130.3,1489.2 L130.8,1488.8 L131.3,1488.6 L131.8,1488.4 L132.3,1488.5 L132.8,1488.6 L133.3,1488.8 L133.8,1489.2 L134.3,1489.6 L134.8,1490.2 L135.3,1490.8 L135.8,1491.4 L136.3,1492.1 L136.8,1492.8 L137.3,1493.5 L137.8,1494.2 L138.3,1494.9 L138.8,1495.5 L139.3,1496.2 L139.8,1496.8 L140.3,1497.3 L140.8,1497.7 L141.3,1498.1 L141.8,1498.5 L142.3,1498.7 L142.8,1498.9 L143.3,1498.9 L143.8,1498.9 L144.3,1498.8 L144.8,1498.6 L145.3,1498.3 L145.8,1497.9 L146.3,1497.4 L146.8,1496.8 L147.3,1496.1 L147.8,1495.3 L148.3,1494.5 L148.8,1493.6 L149.3,1492.6 L149.8,1491.6 L150.3,1490.5 L150.8,1489.5 L151.3,1488.4 L151.8,1487.4 L152.3,1486.4 L152.8,1485.5 L153.3,1484.6 L153.8,1483.9 L154.3,1483.3 L154.8,1482.9 L155.3,1482.6 L155.8,1482.4 L156.3,1482.5 L156.8,1482.7 L157.3,1483.0 L157.8,1483.5 L158.3,1484.1 L158.8,1484.8 L159.3,1485.6 L159.8,1486.5 L160.3,1487.3 L160.8,1488.3 L161.3,1489.2 L161.8,1490.0 L162.3,1490.9 L162.8,1491.7 L163.3,1492.4 L163.8,1493.1 L164.3,1493.7 L164.8,1494.1 L165.3,1494.5 L165.8,1494.8 L166.3,1495.0 L166.8,1495.2 L167.3,1495.2 L167.8,1495.1 L168.3,1494.9 L168.8,1494.6 L169.3,1494.2 L169.8,1493.7 L170.3,1493.1 L170.8,1492.5 L171.3,1491.7 L171.8,1490.9 L172.3,1490.0 L172.8,1489.0 L173.3,1487.9 L173.8,1486.8 L174.3,1485.7 L174.8,1484.5 L175.3,1483.3 L175.8,1482.0 L176.3,1480.7 L176.8,1479.5 L177.3,1478.2 L177.8,1477.0 L178.3,1475.8 L178.8,1474.7 L179.3,1473.6 L179.8,1472.7 L180.3,1471.8 L180.8,1471.0 L181.3,1470.3 L181.8,1469.7 L182.3,1469.2 L182.8,1468.9 L183.3,1468.6 L183.8,1468.5 L184.3,1468.5 L184.8,1468.6 L185.3,1468.7 L185.8,1469.0 L186.3,1469.3 L186.8,1469.7 L187.3,1470.1 L187.8,1470.5 L188.3,1471.0 L188.8,1471.4 L189.3,1471.9 L189.8,1472.2 L190.3,1472.6 L190.8,1472.9 L191.3,1473.1 L191.8,1473.3 L192.3,1473.3 L192.8,1473.3 L193.3,1473.1 L193.8,1472.9 L194.3,1472.5 L194.8,1472.1 L195.3,1471.5 L195.8,1470.8 L196.3,1469.9 L196.8,1468.9 L197.3,1467.8 L197.8,1466.6 L198.3,1465.2 L198.8,1463.8 L199.3,1462.2 L199.8,1460.5 L200.3,1458.7 L200.8,1456.9 L201.3,1454.9 L201.8,1453.0 L202.3,1451.0 L202.8,1449.0 L203.3,1447.0 L203.8,1445.1 L204.3,1443.2 L204.8,1441.4 L205.3,1439.7 L205.8,1438.2 L206.3,1436.7 L206.8,1435.4 L207.3,1434.3 L207.8,1433.2 L208.3,1432.3 L208.8,1431.6 L209.3,1430.9 L209.8,1430.3 L210.3,1429.9 L210.8,1429.5 L211.3,1429.2 L211.8,1428.9 L212.3,1428.8 L212.8,1428.6 L213.3,1428.6 L213.8,1428.6 L214.3,1428.6 L214.8,1428.7 L215.3,1428.8 L215.8,1429.0 L216.3,1429.3 L216.8,1429.6 L217.3,1429.9 L217.8,1430.3 L218.3,1430.7 L218.8,1431.2 L219.3,1431.6 L219.8,1432.1 L220.3,1432.5 L220.8,1432.9 L221.3,1433.3 L221.8,1433.6 L222.3,1433.9 L222.8,1434.1 L223.3,1434.2 L223.8,1434.2 L224.3,1434.1 L224.8,1433.9 L225.3,1433.6 L225.8,1433.2 L226.3,1432.7 L226.8,1432.0 L227.3,1431.3 L227.8,1430.5 L228.3,1429.6 L228.8,1428.6 L229.3,1427.5 L229.8,1426.4 L230.3,1425.2 L230.8,1424.0 L231.3,1422.8 L231.8,1421.6 L232.3,1420.5 L232.8,1419.4 L233.3,1418.3 L233.8,1417.4 L234.3,1416.6 L234.8,1415.8 L235.3,1415.3 L235.8,1414.9 L236.3,1414.6 L236.8,1414.6 L237.3,1414.8 L237.8,1415.1 L238.3,1415.7 L238.8,1416.4 L239.3,1417.4 L239.8,1418.5 L240.3,1419.8 L240.8,1421.2 L241.3,1422.7 L241.8,1424.3 L242.3,1426.0 L242.8,1427.7 L243.3,1429.4 L243.8,1431.1 L244.3,1432.7 L244.8,1434.2 L245.3,1435.6 L245.8,1436.9 L246.3,1438.1 L246.8,1439.2 L247.3,1440.0 L247.8,1440.8 L248.3,1441.3 L248.8,1441.7 L249.3,1442.0 L249.8,1442.1 L250.3,1442.0 L250.8,1441.8 L251.3,1441.5 L251.8,1441.1 L252.3,1440.6 L252.8,1440.0 L253.3,1439.4 L253.8,1438.8 L254.3,1438.2 L254.8,1437.6 L255.3,1437.0 L255.8,1436.6 L256.3,1436.2 L256.8,1435.9 L257.3,1435.7 L257.8,1435.7 L258.3,1435.7 L258.8,1435.8 L259.3,1436.1 L259.8,1436.4 L260.3,1436.8 L260.8,1437.2 L261.3,1437.7 L261.8,1438.2 L262.3,1438.8 L262.8,1439.3 L263.3,1439.9 L263.8,1440.5 L264.3,1441.1 L264.8,1441.8 L265.3,1442.4 L265.8,1443.1 L266.3,1443.8 L266.8,1444.6 L267.3,1445.4 L267.8,1446.3 L268.3,1447.3 L268.8,1448.3 L269.3,1449.4 L269.8,1450.5 L270.3,1451.8 L270.8,1453.0 L271.3,1454.4 L271.8,1455.8 L272.3,1457.2 L272.8,1458.6 L273.3,1460.1 L273.8,1461.6 L274.3,1463.0 L274.8,1464.5 L275.3,1465.9 L275.8,1467.2 L276.3,1468.5 L276.8,1469.8 L277.3,1471.0 L277.8,1472.0 L278.3,1473.0 L278.8,1474.0 L279.3,1474.8 L279.8,1475.5 L280.3,1476.1 L280.8,1476.6 L281.3,1477.1 L281.8,1477.4 L282.3,1477.6 L282.8,1477.8 L283.3,1477.9 L283.8,1477.9 L284.3,1477.8 L284.8,1477.8 L285.3,1477.7 L285.8,1477.6 L286.3,1477.5 L286.8,1477.4 L287.3,1477.4 L287.8,1477.5 L288.3,1477.7 L288.8,1477.9 L289.3,1478.3 L289.8,1478.8 L290.3,1479.4 L290.8,1480.2 L291.3,1481.0 L291.8,1482.0 L292.3,1483.0 L292.8,1484.1 L293.3,1485.3 L293.8,1486.6 L294.3,1487.8 L294.8,1489.1 L295.3,1490.3 L295.8,1491.6 L296.3,1492.8 L296.8,1493.9 L297.3,1495.0 L297.8,1496.0 L298.3,1497.0 L298.8,1497.8 L299.3,1498.6 L299.8,1499.3 L300.3,1500.0 L300.8,1500.5 L301.3,1500.9 L301.8,1501.3 L302.3,1501.6 L302.8,1501.8 L303.3,1501.9 L303.8,1501.9 L304.3,1501.8 L304.8,1501.7 L305.3,1501.4 L305.8,1501.1 L306.3,1500.7 L306.8,1500.2 L307.3,1499.7 L307.8,1499.0 L308.3,1498.3 L308.8,1497.6 L309.3,1496.7 L309.8,1495.8 L310.3,1494.9 L310.8,1493.9 L311.3,1492.8 L311.8,1491.7 L312.3,1490.6 L312.8,1489.4 L313.3,1488.3 L313.8,1487.1 L314.3,1485.9 L314.8,1484.8 L315.3,1483.7 L315.8,1482.6 L316.3,1481.5 L316.8,1480.6 L317.3,1479.7 L317.8,1478.9 L318.3,1478.2 L318.8,1477.6 L319.3,1477.2 L319.8,1476.8 L320.3,1476.6 L320.8,1476.5 L321.3,1476.6 L321.8,1476.7 L322.3,1477.0 L322.8,1477.4 L323.3,1477.8 L323.8,1478.4 L324.3,1479.0 L324.8,1479.7 L325.3,1480.4 L325.8,1481.2 L326.3,1482.0 L326.8,1482.7 L327.3,1483.5 L327.8,1484.2 L328.3,1484.9 L328.8,1485.6 L329.3,1486.2 L329.8,1486.8 L330.3,1487.3 L330.8,1487.7 L331.3,1488.0 L331.8,1488.3 L332.3,1488.5 L332.8,1488.7 L333.3,1488.7 L333.8,1488.7 L334.3,1488.7 L334.8,1488.6 L335.3,1488.5 L335.8,1488.4 L336.3,1488.3 L336.8,1488.2 L337.3,1488.2 L337.8,1488.2 L338.3,1488.4 L338.8,1488.6 L339.3,1488.9 L339.8,1489.4 L340.3,1490.0 L340.8,1490.7 L341.3,1491.5 L341.8,1492.5 L342.3,1493.6 L342.8,1494.9 L343.3,1496.2 L343.8,1497.6 L344.3,1499.0 L344.8,1500.6 L345.3,1502.1 L345.8,1503.6 L346.3,1505.2 L346.8,1506.7 L347.3,1508.2 L347.8,1509.7 L348.3,1511.1 L348.8,1512.5 L349.3,1513.8 L349.8,1515.1 L350.3,1516.3 L350.8,1517.5 L351.3,1518.6 L351.8,1519.6 L352.3,1520.6 L352.8,1521.6 L353.3,1522.4 L353.8,1523.3 L354.3,1524.0 L354.8,1524.8 L355.3,1525.4 L355.8,1526.1 L356.3,1526.7 L356.8,1527.2 L357.3,1527.7 L357.8,1528.2 L358.3,1528.7 L358.8,1529.1 L359.3,1529.4 L359.8,1529.8 L360.3,1530.1 L360.8,1530.3 L361.3,1530.6 L361.8,1530.8 L362.3,1531.0 L362.8,1531.2 L363.3,1531.3 L363.8,1531.4 L364.3,1531.5 L364.8,1531.6 L365.3,1531.6 L365.8,1531.7 L366.3,1531.7 L366.8,1531.6 L367.3,1531.6 L367.8,1531.5 L368.3,1531.5 L368.8,1531.4 L369.3,1531.2 L369.8,1531.1 L370.3,1530.9 L370.8,1530.7 L371.3,1530.5 L371.8,1530.3 L372.3,1530.0 L372.8,1529.8 L373.3,1529.5 L373.8,1529.1 L374.3,1528.8 L374.8,1528.4 L375.3,1528.0 L375.8,1527.6 L376.3,1527.2 L376.8,1526.7 L377.3,1526.2 L377.8,1525.7 L378.3,1525.1 L378.8,1524.6 L379.3,1524.0 L379.8,1523.3 L380.3,1522.6 L380.8,1521.9 L381.3,1521.2 L381.8,1520.4 L382.3,1519.6 L382.8,1518.7 L383.3,1517.8 L383.8,1516.9 L384.3,1515.9 L384.8,1514.8 L385.3,1513.7 L385.8,1512.6 L386.3,1511.4 L386.8,1510.1 L387.3,1508.8 L387.8,1507.4 L388.3,1505.9 L388.8,1504.4 L389.3,1502.8 L389.8,1501.1 L390.3,1499.4 L390.8,1497.5 L391.3,1495.6 L391.8,1493.6 L392.3,1491.5 L392.8,1489.2 L393.3,1486.9 L393.8,1484.5 L394.3,1482.0 L394.8,1479.3 L395.3,1476.5 L395.8,1473.6 L396.3,1470.6 L396.8,1467.5 L397.3,1464.3 L397.8,1460.9 L398.3,1457.4 L398.8,1453.9 L399.3,1450.2 L399.8,1446.4 L400.3,1442.5 L400.8,1438.5 L401.3,1434.5 L401.8,1430.4 L402.3,1426.3 L402.8,1422.2 L403.3,1418.0 L403.8,1413.9 L404.3,1409.7 L404.8,1405.6 L405.3,1401.5 L405.8,1397.4 L406.3,1393.3 L406.8,1389.2 L407.3,1385.1 L407.8,1381.0 L408.3,1376.8 L408.8,1372.6 L409.3,1368.2 L409.8,1363.7 L410.3,1359.0 L410.8,1354.1 L411.3,1349.0 L411.8,1343.6 L412.3,1338.0 L412.8,1332.1 L413.3,1326.0 L413.8,1319.7 L414.3,1313.2 L414.8,1306.5 L415.3,1299.9 L415.8,1293.2 L416.3,1286.8 L416.8,1280.6 L417.3,1274.9 L417.8,1269.8 L418.3,1265.4 L418.8,1261.9 L419.3,1259.4 L419.8,1258.1 L420.3,1257.9 L420.8,1258.9 L421.3,1261.2 L421.8,1264.6 L422.3,1269.1 L422.8,1274.6 L423.3,1281.0 L423.8,1288.0 L424.3,1295.6 L424.8,1303.6 L425.3,1311.9 L425.8,1320.3 L426.3,1328.8 L426.8,1337.1 L427.3,1345.3 L427.8,1353.2 L428.3,1360.9 L428.8,1368.3 L429.3,1375.3 L429.8,1381.9 L430.3,1388.2 L430.8,1394.1 L431.3,1399.6 L431.8,1404.8 L432.3,1409.6 L432.8,1414.0 L433.3,1418.2 L433.8,1422.0 L434.3,1425.5 L434.8,1428.7 L435.3,1431.6 L435.8,1434.3 L436.3,1436.7 L436.8,1438.8 L437.3,1440.7 L437.8,1442.4 L438.3,1443.9 L438.8,1445.2 L439.3,1446.2 L439.8,1447.1 L440.3,1447.7 L440.8,1448.2 L441.3,1448.5 L441.8,1448.6 L442.3,1448.6 L442.8,1448.3 L443.3,1447.9 L443.8,1447.4 L444.3,1446.6 L444.8,1445.7 L445.3,1444.6 L445.8,1443.3 L446.3,1441.9 L446.8,1440.3 L447.3,1438.6 L447.8,1436.6 L448.3,1434.5 L448.8,1432.2 L449.3,1429.8 L449.8,1427.2 L450.3,1424.4 L450.8,1421.5 L451.3,1418.4 L451.8,1415.1 L452.3,1411.8 L452.8,1408.3 L453.3,1404.6 L453.8,1400.9 L454.3,1397.0 L454.8,1393.1 L455.3,1389.1 L455.8,1385.1 L456.3,1381.0 L456.8,1376.9 L457.3,1372.8 L457.8,1368.6 L458.3,1364.4 L458.8,1360.3 L459.3,1356.1 L459.8,1351.9 L460.3,1347.6 L460.8,1343.3 L461.3,1338.8 L461.8,1334.3 L462.3,1329.5 L462.8,1324.6 L463.3,1319.5 L463.8,1314.1 L464.3,1308.4 L464.8,1302.5 L465.3,1296.2 L465.8,1289.5 L466.3,1282.6 L466.8,1275.4 L467.3,1267.9 L467.8,1260.2 L468.3,1252.4 L468.8,1244.5 L469.3,1236.7 L469.8,1229.0 L470.3,1221.7 L470.8,1214.9 L471.3,1208.6 L471.8,1203.2 L472.3,1198.6 L472.8,1195.1 L473.3,1192.7 L473.8,1191.5 L474.3,1191.4 L474.8,1192.5 L475.3,1194.8 L475.8,1198.0 L476.3,1202.2 L476.8,1207.1 L477.3,1212.7 L477.8,1218.7 L478.3,1225.1 L478.8,1231.6 L479.3,1238.3 L479.8,1245.0 L480.3,1251.6 L480.8,1258.1 L481.3,1264.3 L481.8,1270.3 L482.3,1276.0 L482.8,1281.4 L483.3,1286.5 L483.8,1291.2 L484.3,1295.6 L484.8,1299.7 L485.3,1303.3 L485.8,1306.7 L486.3,1309.6 L486.8,1312.2 L487.3,1314.3 L487.8,1316.1 L488.3,1317.5 L488.8,1318.4 L489.3,1318.9 L489.8,1319.0 L490.3,1318.5 L490.8,1317.6 L491.3,1316.2 L491.8,1314.2 L492.3,1311.7 L492.8,1308.6 L493.3,1304.9 L493.8,1300.6 L494.3,1295.6 L494.8,1290.0 L495.3,1283.7 L495.8,1276.7 L496.3,1269.1 L496.8,1260.7 L497.3,1251.8 L497.8,1242.3 L498.3,1232.3 L498.8,1221.9 L499.3,1211.2 L499.8,1200.4 L500.3,1189.7 L500.8,1179.3 L501.3,1169.5 L501.8,1160.5 L502.3,1152.6 L502.8,1146.1 L503.3,1141.1 L503.8,1137.8 L504.3,1136.2 L504.8,1136.3 L505.3,1138.0 L505.8,1141.2 L506.3,1145.7 L506.8,1151.3 L507.3,1157.6 L507.8,1164.5 L508.3,1171.8 L508.8,1179.2 L509.3,1186.5 L509.8,1193.7 L510.3,1200.7 L510.8,1207.3 L511.3,1213.5 L511.8,1219.3 L512.3,1224.6 L512.8,1229.4 L513.3,1233.7 L513.8,1237.5 L514.3,1240.8 L514.8,1243.6 L515.3,1245.8 L515.8,1247.5 L516.3,1248.6 L516.8,1249.1 L517.3,1249.0 L517.8,1248.4 L518.3,1247.1 L518.8,1245.3 L519.3,1242.8 L519.8,1239.8 L520.3,1236.3 L520.8,1232.2 L521.3,1227.7 L521.8,1222.8 L522.3,1217.6 L522.8,1212.3 L523.3,1206.8 L523.8,1201.4 L524.3,1196.2 L524.8,1191.4 L525.3,1187.1 L525.8,1183.5 L526.3,1180.7 L526.8,1178.9 L527.3,1178.1 L527.8,1178.4 L528.3,1179.8 L528.8,1182.3 L529.3,1185.9 L529.8,1190.4 L530.3,1195.8 L530.8,1201.8 L531.3,1208.4 L531.8,1215.5 L532.3,1222.8 L532.8,1230.3 L533.3,1237.8 L533.8,1245.2 L534.3,1252.5 L534.8,1259.6 L535.3,1266.4 L535.8,1273.0 L536.3,1279.2 L536.8,1285.1 L537.3,1290.7 L537.8,1295.9 L538.3,1300.8 L538.8,1305.4 L539.3,1309.6 L539.8,1313.5 L540.3,1317.0 L540.8,1320.2 L541.3,1323.0 L541.8,1325.6 L542.3,1327.7 L542.8,1329.5 L543.3,1331.0 L543.8,1332.0 L544.3,1332.7 L544.8,1332.9 L545.3,1332.7 L545.8,1332.0 L546.3,1330.9 L546.8,1329.2 L547.3,1327.0 L547.8,1324.3 L548.3,1321.0 L548.8,1317.1 L549.3,1312.6 L549.8,1307.5 L550.3,1301.8 L550.8,1295.5 L551.3,1288.7 L551.8,1281.5 L552.3,1273.8 L552.8,1265.8 L553.3,1257.8 L553.8,1249.7 L554.3,1241.9 L554.8,1234.5 L555.3,1228.0 L555.8,1222.4 L556.3,1218.0 L556.8,1215.2 L557.3,1214.0 L557.8,1214.6 L558.3,1217.0 L558.8,1221.2 L559.3,1227.1 L559.8,1234.4 L560.3,1243.0 L560.8,1252.7 L561.3,1263.1 L561.8,1274.0 L562.3,1285.2 L562.8,1296.5 L563.3,1307.7 L563.8,1318.6 L564.3,1329.2 L564.8,1339.4 L565.3,1349.1 L565.8,1358.3 L566.3,1367.0 L566.8,1375.1 L567.3,1382.8 L567.8,1389.9 L568.3,1396.5 L568.8,1402.7 L569.3,1408.4 L569.8,1413.7 L570.3,1418.6 L570.8,1423.1 L571.3,1427.3 L571.8,1431.1 L572.3,1434.6 L572.8,1437.8 L573.3,1440.8 L573.8,1443.5 L574.3,1445.9 L574.8,1448.1 L575.3,1450.1 L575.8,1451.9 L576.3,1453.4 L576.8,1454.8 L577.3,1456.0 L577.8,1457.1 L578.3,1457.9 L578.8,1458.6 L579.3,1459.2 L579.8,1459.6 L580.3,1459.8 L580.8,1459.9 L581.3,1459.9 L581.8,1459.7 L582.3,1459.4 L582.8,1459.0 L583.3,1458.5 L583.8,1457.8 L584.3,1457.0 L584.8,1456.2 L585.3,1455.2 L585.8,1454.1 L586.3,1452.9 L586.8,1451.6 L587.3,1450.2 L587.8,1448.7 L588.3,1447.2 L588.8,1445.6 L589.3,1443.9 L589.8,1442.2 L590.3,1440.4 L590.8,1438.6 L591.3,1436.7 L591.8,1434.8 L592.3,1432.9 L592.8,1430.9 L593.3,1428.9 L593.8,1426.9 L594.3,1424.8 L594.8,1422.7 L595.3,1420.5 L595.8,1418.3 L596.3,1416.0 L596.8,1413.6 L597.3,1411.0 L597.8,1408.4 L598.3,1405.5 L598.8,1402.5 L599.3,1399.2 L599.8,1395.7 L600.3,1391.9 L600.8,1387.7 L601.3,1383.2 L601.8,1378.3 L602.3,1373.0 L602.8,1367.2 L603.3,1361.0 L603.8,1354.2 L604.3,1347.1 L604.8,1339.4 L605.3,1331.3 L605.8,1322.9 L606.3,1314.2 L606.8,1305.3 L607.3,1296.4 L607.8,1287.6 L608.3,1279.2 L608.8,1271.4 L609.3,1264.4 L609.8,1258.6 L610.3,1254.2 L610.8,1251.3 L611.3,1250.2 L611.8,1250.9 L612.3,1253.4 L612.8,1257.8 L613.3,1263.8 L613.8,1271.3 L614.3,1280.1 L614.8,1289.8 L615.3,1300.3 L615.8,1311.2 L616.3,1322.4 L616.8,1333.7 L617.3,1344.8 L617.8,1355.7 L618.3,1366.3 L618.8,1376.5 L619.3,1386.2 L619.8,1395.5 L620.3,1404.2 L620.8,1412.5 L621.3,1420.3 L621.8,1427.6 L622.3,1434.4 L622.8,1440.8 L623.3,1446.8 L623.8,1452.4 L624.3,1457.7 L624.8,1462.6 L625.3,1467.2 L625.8,1471.5 L626.3,1475.6 L626.8,1479.4 L627.3,1482.9 L627.8,1486.3 L628.3,1489.4 L628.8,1492.4 L629.3,1495.2 L629.8,1497.8 L630.3,1500.3 L630.8,1502.6 L631.3,1504.8 L631.8,1506.9 L632.3,1508.9 L632.8,1510.7 L633.3,1512.5 L633.8,1514.2 L634.3,1515.8 L634.8,1517.3 L635.3,1518.8 L635.8,1520.2 L636.3,1521.5 L636.8,1522.8 L637.3,1524.0 L637.8,1525.1 L638.3,1526.2 L638.8,1527.3 L639.3,1528.3 L639.8,1529.2 L640.3,1530.2 L640.8,1531.0 L641.3,1531.9 L641.8,1532.7 L642.3,1533.5 L642.8,1534.3 L643.3,1535.0 L643.8,1535.7 L644.3,1536.4 L644.8,1537.0 L645.3,1537.6 L645.8,1538.2 L646.3,1538.8 L646.8,1539.4 L647.3,1539.9 L647.8,1540.5 L648.3,1541.0 L648.8,1541.5 L649.3,1541.9 L649.8,1542.4 L650.3,1542.9 L650.8,1543.3 L651.3,1543.7 L651.8,1544.1 L652.3,1544.5 L652.8,1544.9 L653.3,1545.3 L653.8,1545.6 L654.3,1546.0 L654.8,1546.3 L655.3,1546.7 L655.8,1547.0 L656.3,1547.3 L656.8,1547.6 L657.3,1547.9 L657.8,1548.2 L658.3,1548.5 L658.8,1548.8 L659.3,1549.0 L659.8,1549.3 L660.3,1549.5 L660.8,1549.8 L661.3,1550.0 L661.8,1550.3 L662.3,1550.5 L662.8,1550.7 L663.3,1551.0 L663.8,1551.2 L664.3,1551.4 L664.8,1551.6 L665.3,1551.8 L665.8,1552.0 L666.3,1552.2 L666.8,1552.4 L667.3,1552.6 L667.8,1552.7 L668.3,1552.9 L668.8,1553.1 L669.3,1553.3 L669.8,1553.4 L670.3,1553.6 L670.8,1553.8 L671.3,1553.9 L671.8,1554.1 L672.3,1554.2 L672.8,1554.4 L673.3,1554.5 L673.8,1554.6 L674.3,1554.8 L674.8,1554.9 L675.3,1555.1 L675.8,1555.2 L676.3,1555.3 L676.8,1555.4 L677.3,1555.6 L677.8,1555.7 L678.3,1555.8 L678.8,1555.9 L679.3,1556.0 L679.8,1556.1 L680.3,1556.3 L680.8,1556.4 L681.3,1556.5 L681.8,1556.6 L682.3,1556.7 L682.8,1556.8 L683.3,1556.9 L683.8,1557.0 L684.3,1557.1 L684.8,1557.2 L685.3,1557.3 L685.8,1557.4 L686.3,1557.5 L686.8,1557.5 L687.3,1557.6 L687.8,1557.7 L688.3,1557.8 L688.8,1557.9 L689.3,1558.0 L689.8,1558.1 L690.3,1558.1 L690.8,1558.2 L691.3,1558.3 L691.8,1558.4 L692.3,1558.4 L692.8,1558.5 L693.3,1558.6 L693.8,1558.7 L694.3,1558.7 L694.8,1558.8 L695.3,1558.9 L695.8,1558.9 L696.3,1559.0 L696.8,1559.1 L697.3,1559.1 L697.8,1559.2 L698.3,1559.3 L698.8,1559.3 L699.3,1559.4 L699.8,1559.4 L700.3,1559.5 L700.8,1559.6 L701.3,1559.6 L701.8,1559.7 L702.3,1559.7 L702.8,1559.8 L703.3,1559.8 L703.8,1559.9 L704.3,1560.0 L704.8,1560.0 L705.3,1560.1 L705.8,1560.1 L706.3,1560.2 L706.8,1560.2 L707.3,1560.3 L707.8,1560.3 L708.3,1560.4 L708.8,1560.4 L709.3,1560.5 L709.8,1560.5 L710.3,1560.5 L710.8,1560.6 L711.3,1560.6 L711.8,1560.7 L712.3,1560.7 L712.8,1560.8 L713.3,1560.8 L713.8,1560.9 L714.3,1560.9 L714.8,1560.9 L715.3,1561.0 L715.8,1561.0 L716.3,1561.1 L716.8,1561.1 L717.3,1561.1 L717.8,1561.2 L718.3,1561.2 L718.8,1561.2 L719.3,1561.3 L719.8,1561.3 L720.3,1561.4 L720.8,1561.4 L721.3,1561.4 L721.8,1561.5 L722.3,1561.5 L722.8,1561.5 L723.3,1561.6 L723.8,1561.6 L724.3,1561.6 L724.8,1561.7 L725.3,1561.7 L725.8,1561.7 L726.3,1561.8 L726.8,1561.8 L727.3,1561.8 L727.8,1561.9 L728.3,1561.9" fill="none" stroke="#000" stroke-width="5.4" stroke-linecap="round" stroke-linejoin="round" stroke-dasharray="0 10"/>
<text x="2.2" y="1057.7" font-size="34.5" textLength="22" lengthAdjust="spacingAndGlyphs">C</text>
<path d="M5.9,1095 H90.2" fill="none" stroke="#0070C0" stroke-width="5.2" stroke-linecap="round" stroke-linejoin="round"/>
<path d="M5.2,1166.5 H89.3" fill="none" stroke="#375623" stroke-width="5" stroke-linecap="round" stroke-linejoin="round" stroke-dasharray="14.5 20.6"/>
<path d="M5.5,1238.2 H86.5" fill="none" stroke="#000" stroke-width="5.2" stroke-linecap="round" stroke-linejoin="round" stroke-dasharray="0 10.03"/>
<g font-size="26.4"><text x="99.30" y="1103.4" textLength="15.31" lengthAdjust="spacingAndGlyphs">2</text><text x="114.61" y="1103.4" textLength="18.59" lengthAdjust="spacingAndGlyphs">D</text><text x="133.20" y="1103.4" textLength="19.06" lengthAdjust="spacingAndGlyphs">G</text><text x="152.26" y="1103.4" textLength="15.31" lengthAdjust="spacingAndGlyphs">6</text><text x="167.58" y="1103.4" textLength="15.61" lengthAdjust="spacingAndGlyphs">P</text><text x="190.01" y="1103.4" textLength="15.05" lengthAdjust="spacingAndGlyphs">–</text><text x="211.89" y="1103.4" textLength="11.82" lengthAdjust="spacingAndGlyphs">s</text><text x="223.71" y="1103.4" textLength="15.87" lengthAdjust="spacingAndGlyphs">u</text><text x="239.58" y="1103.4" textLength="24.14" lengthAdjust="spacingAndGlyphs">m</text><text x="270.55" y="1103.4" textLength="15.93" lengthAdjust="spacingAndGlyphs">o</text><text x="286.62" y="1103.4" textLength="8.95" lengthAdjust="spacingAndGlyphs">f</text><text x="302.53" y="1103.4" textLength="12.78" lengthAdjust="spacingAndGlyphs">c</text><text x="315.31" y="1103.4" textLength="15.93" lengthAdjust="spacingAndGlyphs">o</text><text x="331.24" y="1103.4" textLength="24.14" lengthAdjust="spacingAndGlyphs">m</text><text x="355.38" y="1103.4" textLength="15.87" lengthAdjust="spacingAndGlyphs">p</text><text x="371.25" y="1103.4" textLength="15.93" lengthAdjust="spacingAndGlyphs">o</text><text x="387.18" y="1103.4" textLength="15.87" lengthAdjust="spacingAndGlyphs">n</text><text x="403.06" y="1103.4" textLength="15.03" lengthAdjust="spacingAndGlyphs">e</text><text x="418.09" y="1103.4" textLength="15.87" lengthAdjust="spacingAndGlyphs">n</text><text x="434.55" y="1103.4" textLength="8.95" lengthAdjust="spacingAndGlyphs">t</text><text x="444.08" y="1103.4" textLength="11.82" lengthAdjust="spacingAndGlyphs">s</text></g>
<g font-size="26.4"><text x="99.30" y="1174.9" textLength="15.28" lengthAdjust="spacingAndGlyphs">2</text><text x="114.58" y="1174.9" textLength="18.55" lengthAdjust="spacingAndGlyphs">D</text><text x="133.13" y="1174.9" textLength="19.02" lengthAdjust="spacingAndGlyphs">G</text><text x="158.97" y="1174.9" textLength="9.23" lengthAdjust="spacingAndGlyphs">-</text><text x="175.01" y="1174.9" textLength="11.79" lengthAdjust="spacingAndGlyphs">s</text><text x="186.80" y="1174.9" textLength="15.84" lengthAdjust="spacingAndGlyphs">u</text><text x="202.64" y="1174.9" textLength="24.08" lengthAdjust="spacingAndGlyphs">m</text><text x="233.54" y="1174.9" textLength="15.90" lengthAdjust="spacingAndGlyphs">o</text><text x="249.57" y="1174.9" textLength="8.95" lengthAdjust="spacingAndGlyphs">f</text><text x="265.46" y="1174.9" textLength="12.75" lengthAdjust="spacingAndGlyphs">c</text><text x="278.21" y="1174.9" textLength="15.90" lengthAdjust="spacingAndGlyphs">o</text><text x="294.11" y="1174.9" textLength="24.08" lengthAdjust="spacingAndGlyphs">m</text><text x="318.19" y="1174.9" textLength="15.84" lengthAdjust="spacingAndGlyphs">p</text><text x="334.03" y="1174.9" textLength="15.90" lengthAdjust="spacingAndGlyphs">o</text><text x="349.93" y="1174.9" textLength="15.84" lengthAdjust="spacingAndGlyphs">n</text><text x="365.77" y="1174.9" textLength="15.00" lengthAdjust="spacingAndGlyphs">e</text><text x="380.77" y="1174.9" textLength="15.84" lengthAdjust="spacingAndGlyphs">n</text><text x="397.19" y="1174.9" textLength="8.95" lengthAdjust="spacingAndGlyphs">t</text><text x="406.71" y="1174.9" textLength="11.79" lengthAdjust="spacingAndGlyphs">s</text></g>
<g font-size="26.4"><text x="99.30" y="1246.3" textLength="15.24" lengthAdjust="spacingAndGlyphs">2</text><text x="114.54" y="1246.3" textLength="18.50" lengthAdjust="spacingAndGlyphs">D</text><text x="133.03" y="1246.3" textLength="18.97" lengthAdjust="spacingAndGlyphs">G</text><text x="152.00" y="1246.3" textLength="14.97" lengthAdjust="spacingAndGlyphs">+</text><text x="166.97" y="1246.3" textLength="15.24" lengthAdjust="spacingAndGlyphs">2</text><text x="182.21" y="1246.3" textLength="18.50" lengthAdjust="spacingAndGlyphs">D</text><text x="200.70" y="1246.3" textLength="18.97" lengthAdjust="spacingAndGlyphs">G</text><text x="219.67" y="1246.3" textLength="15.24" lengthAdjust="spacingAndGlyphs">6</text><text x="234.90" y="1246.3" textLength="15.53" lengthAdjust="spacingAndGlyphs">P</text><text x="257.23" y="1246.3" textLength="14.97" lengthAdjust="spacingAndGlyphs">–</text><text x="279.00" y="1246.3" textLength="11.76" lengthAdjust="spacingAndGlyphs">s</text><text x="290.76" y="1246.3" textLength="15.79" lengthAdjust="spacingAndGlyphs">u</text><text x="306.55" y="1246.3" textLength="24.01" lengthAdjust="spacingAndGlyphs">m</text><text x="337.36" y="1246.3" textLength="15.85" lengthAdjust="spacingAndGlyphs">o</text><text x="353.33" y="1246.3" textLength="8.95" lengthAdjust="spacingAndGlyphs">f</text><text x="369.19" y="1246.3" textLength="15.79" lengthAdjust="spacingAndGlyphs">b</text><text x="384.98" y="1246.3" textLength="15.85" lengthAdjust="spacingAndGlyphs">o</text><text x="401.40" y="1246.3" textLength="8.95" lengthAdjust="spacingAndGlyphs">t</text><text x="410.91" y="1246.3" textLength="15.79" lengthAdjust="spacingAndGlyphs">h</text></g>
<g font-size="26.4"><text x="99.30" y="1282.2" textLength="11.81" lengthAdjust="spacingAndGlyphs">s</text><text x="111.11" y="1282.2" textLength="6.93" lengthAdjust="spacingAndGlyphs">i</text><text x="118.04" y="1282.2" textLength="14.21" lengthAdjust="spacingAndGlyphs">g</text><text x="132.25" y="1282.2" textLength="15.86" lengthAdjust="spacingAndGlyphs">n</text><text x="148.11" y="1282.2" textLength="14.46" lengthAdjust="spacingAndGlyphs">a</text><text x="162.58" y="1282.2" textLength="6.93" lengthAdjust="spacingAndGlyphs">l</text><text x="176.33" y="1282.2" textLength="12.77" lengthAdjust="spacingAndGlyphs">c</text><text x="189.10" y="1282.2" textLength="15.92" lengthAdjust="spacingAndGlyphs">o</text><text x="205.02" y="1282.2" textLength="24.12" lengthAdjust="spacingAndGlyphs">m</text><text x="229.14" y="1282.2" textLength="15.86" lengthAdjust="spacingAndGlyphs">p</text><text x="245.00" y="1282.2" textLength="15.92" lengthAdjust="spacingAndGlyphs">o</text><text x="260.93" y="1282.2" textLength="15.86" lengthAdjust="spacingAndGlyphs">n</text><text x="276.79" y="1282.2" textLength="15.02" lengthAdjust="spacingAndGlyphs">e</text><text x="291.81" y="1282.2" textLength="15.86" lengthAdjust="spacingAndGlyphs">n</text><text x="308.26" y="1282.2" textLength="8.95" lengthAdjust="spacingAndGlyphs">t</text><text x="317.79" y="1282.2" textLength="11.81" lengthAdjust="spacingAndGlyphs">s</text></g>
<text x="547.2" y="1131" font-size="32.3" textLength="19.6" lengthAdjust="spacingAndGlyphs">C</text><path d="M568.7,1138.4 H577.8 M573.6,1138.4 V1124.7 L569.4,1127.4" fill="none" stroke="#000" stroke-width="1.9" stroke-linejoin="miter"/><text x="579.3" y="1131" font-size="32.3" textLength="20.5" lengthAdjust="spacingAndGlyphs">α</text>
<text x="200.5" y="1381.6" font-size="32.3" textLength="19.6" lengthAdjust="spacingAndGlyphs">C</text><path d="M222.0,1389.0 H231.1 M226.9,1389.0 V1375.3 L222.7,1378.0" fill="none" stroke="#000" stroke-width="1.9" stroke-linejoin="miter"/><text x="231.9" y="1381.6" font-size="32.3" textLength="19.0" lengthAdjust="spacingAndGlyphs" transform="translate(0,1381.6) scale(1,1.08) translate(0,-1381.6)">β</text>
<path d="M4.5,2186.6 H728.4" stroke="#000" stroke-width="2.6" fill="none"/><path d="M70.3,2186.6 V2196.5" stroke="#000" stroke-width="2.2" fill="none"/><text x="70.3" y="2234.4" font-size="25.6" text-anchor="middle" textLength="30.4" lengthAdjust="spacingAndGlyphs">98</text><path d="M201.7,2186.6 V2196.5" stroke="#000" stroke-width="2.2" fill="none"/><text x="201.7" y="2234.4" font-size="25.6" text-anchor="middle" textLength="30.4" lengthAdjust="spacingAndGlyphs">97</text><path d="M333.1,2186.6 V2196.5" stroke="#000" stroke-width="2.2" fill="none"/><text x="333.1" y="2234.4" font-size="25.6" text-anchor="middle" textLength="30.4" lengthAdjust="spacingAndGlyphs">96</text><path d="M464.5,2186.6 V2196.5" stroke="#000" stroke-width="2.2" fill="none"/><text x="464.5" y="2234.4" font-size="25.6" text-anchor="middle" textLength="30.4" lengthAdjust="spacingAndGlyphs">95</text><path d="M595.9,2186.6 V2196.5" stroke="#000" stroke-width="2.2" fill="none"/><text x="595.9" y="2234.4" font-size="25.6" text-anchor="middle" textLength="30.4" lengthAdjust="spacingAndGlyphs">94</text><path d="M727.3,2186.6 V2196.5" stroke="#000" stroke-width="2.2" fill="none"/><text x="727.3" y="2234.4" font-size="25.6" text-anchor="middle" textLength="30.4" lengthAdjust="spacingAndGlyphs">93</text>
<path d="M4.8,2184.9 L5.3,2184.9 L5.8,2184.9 L6.3,2184.9 L6.8,2184.9 L7.3,2184.9 L7.8,2184.9 L8.3,2184.8 L8.8,2184.8 L9.3,2184.8 L9.8,2184.8 L10.3,2184.8 L10.8,2184.8 L11.3,2184.8 L11.8,2184.7 L12.3,2184.7 L12.8,2184.7 L13.3,2184.7 L13.8,2184.7 L14.3,2184.7 L14.8,2184.7 L15.3,2184.6 L15.8,2184.6 L16.3,2184.6 L16.8,2184.6 L17.3,2184.6 L17.8,2184.6 L18.3,2184.5 L18.8,2184.5 L19.3,2184.5 L19.8,2184.5 L20.3,2184.5 L20.8,2184.5 L21.3,2184.4 L21.8,2184.4 L22.3,2184.4 L22.8,2184.4 L23.3,2184.4 L23.8,2184.3 L24.3,2184.3 L24.8,2184.3 L25.3,2184.3 L25.8,2184.3 L26.3,2184.3 L26.8,2184.2 L27.3,2184.2 L27.8,2184.2 L28.3,2184.2 L28.8,2184.1 L29.3,2184.1 L29.8,2184.1 L30.3,2184.1 L30.8,2184.1 L31.3,2184.0 L31.8,2184.0 L32.3,2184.0 L32.8,2184.0 L33.3,2183.9 L33.8,2183.9 L34.3,2183.9 L34.8,2183.9 L35.3,2183.8 L35.8,2183.8 L36.3,2183.8 L36.8,2183.8 L37.3,2183.7 L37.8,2183.7 L38.3,2183.7 L38.8,2183.7 L39.3,2183.6 L39.8,2183.6 L40.3,2183.6 L40.8,2183.5 L41.3,2183.5 L41.8,2183.5 L42.3,2183.5 L42.8,2183.4 L43.3,2183.4 L43.8,2183.4 L44.3,2183.3 L44.8,2183.3 L45.3,2183.3 L45.8,2183.2 L46.3,2183.2 L46.8,2183.2 L47.3,2183.1 L47.8,2183.1 L48.3,2183.0 L48.8,2183.0 L49.3,2183.0 L49.8,2182.9 L50.3,2182.9 L50.8,2182.9 L51.3,2182.8 L51.8,2182.8 L52.3,2182.7 L52.8,2182.7 L53.3,2182.7 L53.8,2182.6 L54.3,2182.6 L54.8,2182.5 L55.3,2182.5 L55.8,2182.4 L56.3,2182.4 L56.8,2182.3 L57.3,2182.3 L57.8,2182.2 L58.3,2182.2 L58.8,2182.1 L59.3,2182.1 L59.8,2182.0 L60.3,2182.0 L60.8,2181.9 L61.3,2181.9 L61.8,2181.8 L62.3,2181.8 L62.8,2181.7 L63.3,2181.6 L63.8,2181.6 L64.3,2181.5 L64.8,2181.5 L65.3,2181.4 L65.8,2181.3 L66.3,2181.3 L66.8,2181.2 L67.3,2181.1 L67.8,2181.1 L68.3,2181.0 L68.8,2180.9 L69.3,2180.8 L69.8,2180.8 L70.3,2180.7 L70.8,2180.6 L71.3,2180.5 L71.8,2180.5 L72.3,2180.4 L72.8,2180.3 L73.3,2180.2 L73.8,2180.1 L74.3,2180.0 L74.8,2179.9 L75.3,2179.8 L75.8,2179.7 L76.3,2179.6 L76.8,2179.5 L77.3,2179.4 L77.8,2179.3 L78.3,2179.2 L78.8,2179.1 L79.3,2179.0 L79.8,2178.9 L80.3,2178.8 L80.8,2178.6 L81.3,2178.5 L81.8,2178.4 L82.3,2178.3 L82.8,2178.1 L83.3,2178.0 L83.8,2177.9 L84.3,2177.7 L84.8,2177.6 L85.3,2177.4 L85.8,2177.3 L86.3,2177.1 L86.8,2176.9 L87.3,2176.8 L87.8,2176.6 L88.3,2176.4 L88.8,2176.3 L89.3,2176.1 L89.8,2175.9 L90.3,2175.7 L90.8,2175.5 L91.3,2175.3 L91.8,2175.1 L92.3,2174.8 L92.8,2174.6 L93.3,2174.4 L93.8,2174.2 L94.3,2173.9 L94.8,2173.6 L95.3,2173.4 L95.8,2173.1 L96.3,2172.8 L96.8,2172.6 L97.3,2172.3 L97.8,2171.9 L98.3,2171.6 L98.8,2171.3 L99.3,2171.0 L99.8,2170.6 L100.3,2170.3 L100.8,2169.9 L101.3,2169.5 L101.8,2169.1 L102.3,2168.7 L102.8,2168.2 L103.3,2167.8 L103.8,2167.3 L104.3,2166.9 L104.8,2166.4 L105.3,2165.8 L105.8,2165.3 L106.3,2164.7 L106.8,2164.2 L107.3,2163.6 L107.8,2162.9 L108.3,2162.3 L108.8,2161.6 L109.3,2160.9 L109.8,2160.2 L110.3,2159.4 L110.8,2158.6 L111.3,2157.8 L111.8,2157.0 L112.3,2156.1 L112.8,2155.2 L113.3,2154.2 L113.8,2153.2 L114.3,2152.2 L114.8,2151.1 L115.3,2150.0 L115.8,2148.8 L116.3,2147.6 L116.8,2146.4 L117.3,2145.1 L117.8,2143.8 L118.3,2142.4 L118.8,2141.0 L119.3,2139.6 L119.8,2138.1 L120.3,2136.6 L120.8,2135.0 L121.3,2133.4 L121.8,2131.8 L122.3,2130.2 L122.8,2128.6 L123.3,2127.0 L123.8,2125.4 L124.3,2123.8 L124.8,2122.2 L125.3,2120.7 L125.8,2119.2 L126.3,2117.8 L126.8,2116.4 L127.3,2115.1 L127.8,2114.0 L128.3,2112.9 L128.8,2112.0 L129.3,2111.2 L129.8,2110.5 L130.3,2110.0 L130.8,2109.6 L131.3,2109.4 L131.8,2109.2 L132.3,2109.3 L132.8,2109.4 L133.3,2109.6 L133.8,2110.0 L134.3,2110.4 L134.8,2111.0 L135.3,2111.6 L135.8,2112.2 L136.3,2112.9 L136.8,2113.6 L137.3,2114.3 L137.8,2115.0 L138.3,2115.7 L138.8,2116.3 L139.3,2117.0 L139.8,2117.6 L140.3,2118.1 L140.8,2118.5 L141.3,2118.9 L141.8,2119.3 L142.3,2119.5 L142.8,2119.7 L143.3,2119.7 L143.8,2119.7 L144.3,2119.6 L144.8,2119.4 L145.3,2119.1 L145.8,2118.7 L146.3,2118.2 L146.8,2117.6 L147.3,2116.9 L147.8,2116.1 L148.3,2115.3 L148.8,2114.4 L149.3,2113.4 L149.8,2112.4 L150.3,2111.3 L150.8,2110.3 L151.3,2109.2 L151.8,2108.2 L152.3,2107.2 L152.8,2106.3 L153.3,2105.4 L153.8,2104.7 L154.3,2104.1 L154.8,2103.7 L155.3,2103.4 L155.8,2103.2 L156.3,2103.3 L156.8,2103.5 L157.3,2103.8 L157.8,2104.3 L158.3,2104.9 L158.8,2105.6 L159.3,2106.4 L159.8,2107.3 L160.3,2108.1 L160.8,2109.1 L161.3,2110.0 L161.8,2110.8 L162.3,2111.7 L162.8,2112.5 L163.3,2113.2 L163.8,2113.9 L164.3,2114.5 L164.8,2114.9 L165.3,2115.3 L165.8,2115.6 L166.3,2115.8 L166.8,2116.0 L167.3,2116.0 L167.8,2115.9 L168.3,2115.7 L168.8,2115.4 L169.3,2115.0 L169.8,2114.5 L170.3,2113.9 L170.8,2113.3 L171.3,2112.5 L171.8,2111.7 L172.3,2110.8 L172.8,2109.8 L173.3,2108.7 L173.8,2107.6 L174.3,2106.5 L174.8,2105.3 L175.3,2104.1 L175.8,2102.8 L176.3,2101.5 L176.8,2100.3 L177.3,2099.0 L177.8,2097.8 L178.3,2096.6 L178.8,2095.5 L179.3,2094.4 L179.8,2093.5 L180.3,2092.6 L180.8,2091.8 L181.3,2091.1 L181.8,2090.5 L182.3,2090.0 L182.8,2089.7 L183.3,2089.4 L183.8,2089.3 L184.3,2089.3 L184.8,2089.4 L185.3,2089.5 L185.8,2089.8 L186.3,2090.1 L186.8,2090.5 L187.3,2090.9 L187.8,2091.3 L188.3,2091.8 L188.8,2092.2 L189.3,2092.7 L189.8,2093.0 L190.3,2093.4 L190.8,2093.7 L191.3,2093.9 L191.8,2094.1 L192.3,2094.1 L192.8,2094.1 L193.3,2093.9 L193.8,2093.7 L194.3,2093.3 L194.8,2092.9 L195.3,2092.3 L195.8,2091.6 L196.3,2090.7 L196.8,2089.7 L197.3,2088.6 L197.8,2087.4 L198.3,2086.0 L198.8,2084.6 L199.3,2083.0 L199.8,2081.3 L200.3,2079.5 L200.8,2077.7 L201.3,2075.7 L201.8,2073.8 L202.3,2071.8 L202.8,2069.8 L203.3,2067.8 L203.8,2065.9 L204.3,2064.0 L204.8,2062.2 L205.3,2060.5 L205.8,2059.0 L206.3,2057.5 L206.8,2056.2 L207.3,2055.1 L207.8,2054.0 L208.3,2053.1 L208.8,2052.4 L209.3,2051.7 L209.8,2051.1 L210.3,2050.7 L210.8,2050.3 L211.3,2050.0 L211.8,2049.7 L212.3,2049.6 L212.8,2049.4 L213.3,2049.4 L213.8,2049.4 L214.3,2049.4 L214.8,2049.5 L215.3,2049.6 L215.8,2049.8 L216.3,2050.1 L216.8,2050.4 L217.3,2050.7 L217.8,2051.1 L218.3,2051.5 L218.8,2052.0 L219.3,2052.4 L219.8,2052.9 L220.3,2053.3 L220.8,2053.7 L221.3,2054.1 L221.8,2054.4 L222.3,2054.7 L222.8,2054.9 L223.3,2055.0 L223.8,2055.0 L224.3,2054.9 L224.8,2054.7 L225.3,2054.4 L225.8,2054.0 L226.3,2053.5 L226.8,2052.8 L227.3,2052.1 L227.8,2051.3 L228.3,2050.4 L228.8,2049.4 L229.3,2048.3 L229.8,2047.2 L230.3,2046.0 L230.8,2044.8 L231.3,2043.6 L231.8,2042.4 L232.3,2041.3 L232.8,2040.2 L233.3,2039.1 L233.8,2038.2 L234.3,2037.4 L234.8,2036.6 L235.3,2036.1 L235.8,2035.7 L236.3,2035.4 L236.8,2035.4 L237.3,2035.6 L237.8,2035.9 L238.3,2036.5 L238.8,2037.2 L239.3,2038.2 L239.8,2039.3 L240.3,2040.6 L240.8,2042.0 L241.3,2043.5 L241.8,2045.1 L242.3,2046.8 L242.8,2048.5 L243.3,2050.2 L243.8,2051.9 L244.3,2053.5 L244.8,2055.0 L245.3,2056.4 L245.8,2057.7 L246.3,2058.9 L246.8,2060.0 L247.3,2060.8 L247.8,2061.6 L248.3,2062.1 L248.8,2062.5 L249.3,2062.8 L249.8,2062.9 L250.3,2062.8 L250.8,2062.6 L251.3,2062.3 L251.8,2061.9 L252.3,2061.4 L252.8,2060.8 L253.3,2060.2 L253.8,2059.6 L254.3,2059.0 L254.8,2058.4 L255.3,2057.8 L255.8,2057.4 L256.3,2057.0 L256.8,2056.7 L257.3,2056.5 L257.8,2056.5 L258.3,2056.5 L258.8,2056.6 L259.3,2056.9 L259.8,2057.2 L260.3,2057.6 L260.8,2058.0 L261.3,2058.5 L261.8,2059.0 L262.3,2059.6 L262.8,2060.1 L263.3,2060.7 L263.8,2061.3 L264.3,2061.9 L264.8,2062.6 L265.3,2063.2 L265.8,2063.9 L266.3,2064.6 L266.8,2065.4 L267.3,2066.2 L267.8,2067.1 L268.3,2068.1 L268.8,2069.1 L269.3,2070.2 L269.8,2071.3 L270.3,2072.6 L270.8,2073.8 L271.3,2075.2 L271.8,2076.6 L272.3,2078.0 L272.8,2079.4 L273.3,2080.9 L273.8,2082.4 L274.3,2083.8 L274.8,2085.3 L275.3,2086.7 L275.8,2088.0 L276.3,2089.3 L276.8,2090.6 L277.3,2091.8 L277.8,2092.8 L278.3,2093.8 L278.8,2094.8 L279.3,2095.6 L279.8,2096.3 L280.3,2096.9 L280.8,2097.4 L281.3,2097.9 L281.8,2098.2 L282.3,2098.4 L282.8,2098.6 L283.3,2098.7 L283.8,2098.7 L284.3,2098.6 L284.8,2098.6 L285.3,2098.5 L285.8,2098.4 L286.3,2098.3 L286.8,2098.2 L287.3,2098.2 L287.8,2098.3 L288.3,2098.5 L288.8,2098.7 L289.3,2099.1 L289.8,2099.6 L290.3,2100.2 L290.8,2101.0 L291.3,2101.8 L291.8,2102.8 L292.3,2103.8 L292.8,2104.9 L293.3,2106.1 L293.8,2107.4 L294.3,2108.6 L294.8,2109.9 L295.3,2111.1 L295.8,2112.4 L296.3,2113.6 L296.8,2114.7 L297.3,2115.8 L297.8,2116.8 L298.3,2117.8 L298.8,2118.6 L299.3,2119.4 L299.8,2120.1 L300.3,2120.8 L300.8,2121.3 L301.3,2121.7 L301.8,2122.1 L302.3,2122.4 L302.8,2122.6 L303.3,2122.7 L303.8,2122.7 L304.3,2122.6 L304.8,2122.5 L305.3,2122.2 L305.8,2121.9 L306.3,2121.5 L306.8,2121.0 L307.3,2120.5 L307.8,2119.8 L308.3,2119.1 L308.8,2118.4 L309.3,2117.5 L309.8,2116.6 L310.3,2115.7 L310.8,2114.7 L311.3,2113.6 L311.8,2112.5 L312.3,2111.4 L312.8,2110.2 L313.3,2109.1 L313.8,2107.9 L314.3,2106.7 L314.8,2105.6 L315.3,2104.5 L315.8,2103.4 L316.3,2102.3 L316.8,2101.4 L317.3,2100.5 L317.8,2099.7 L318.3,2099.0 L318.8,2098.4 L319.3,2098.0 L319.8,2097.6 L320.3,2097.4 L320.8,2097.3 L321.3,2097.4 L321.8,2097.5 L322.3,2097.8 L322.8,2098.2 L323.3,2098.6 L323.8,2099.2 L324.3,2099.8 L324.8,2100.5 L325.3,2101.2 L325.8,2102.0 L326.3,2102.8 L326.8,2103.5 L327.3,2104.3 L327.8,2105.0 L328.3,2105.7 L328.8,2106.4 L329.3,2107.0 L329.8,2107.6 L330.3,2108.1 L330.8,2108.5 L331.3,2108.8 L331.8,2109.1 L332.3,2109.3 L332.8,2109.5 L333.3,2109.5 L333.8,2109.5 L334.3,2109.5 L334.8,2109.4 L335.3,2109.3 L335.8,2109.2 L336.3,2109.1 L336.8,2109.0 L337.3,2109.0 L337.8,2109.0 L338.3,2109.2 L338.8,2109.4 L339.3,2109.7 L339.8,2110.2 L340.3,2110.8 L340.8,2111.5 L341.3,2112.3 L341.8,2113.3 L342.3,2114.4 L342.8,2115.7 L343.3,2117.0 L343.8,2118.4 L344.3,2119.8 L344.8,2121.4 L345.3,2122.9 L345.8,2124.4 L346.3,2126.0 L346.8,2127.5 L347.3,2129.0 L347.8,2130.5 L348.3,2131.9 L348.8,2133.3 L349.3,2134.6 L349.8,2135.9 L350.3,2137.1 L350.8,2138.3 L351.3,2139.4 L351.8,2140.4 L352.3,2141.4 L352.8,2142.4 L353.3,2143.2 L353.8,2144.1 L354.3,2144.8 L354.8,2145.6 L355.3,2146.2 L355.8,2146.9 L356.3,2147.5 L356.8,2148.0 L357.3,2148.5 L357.8,2149.0 L358.3,2149.5 L358.8,2149.9 L359.3,2150.2 L359.8,2150.6 L360.3,2150.9 L360.8,2151.1 L361.3,2151.4 L361.8,2151.6 L362.3,2151.8 L362.8,2152.0 L363.3,2152.1 L363.8,2152.2 L364.3,2152.3 L364.8,2152.4 L365.3,2152.4 L365.8,2152.5 L366.3,2152.5 L366.8,2152.4 L367.3,2152.4 L367.8,2152.3 L368.3,2152.3 L368.8,2152.2 L369.3,2152.0 L369.8,2151.9 L370.3,2151.7 L370.8,2151.5 L371.3,2151.3 L371.8,2151.1 L372.3,2150.8 L372.8,2150.6 L373.3,2150.3 L373.8,2149.9 L374.3,2149.6 L374.8,2149.2 L375.3,2148.8 L375.8,2148.4 L376.3,2148.0 L376.8,2147.5 L377.3,2147.0 L377.8,2146.5 L378.3,2145.9 L378.8,2145.4 L379.3,2144.8 L379.8,2144.1 L380.3,2143.4 L380.8,2142.7 L381.3,2142.0 L381.8,2141.2 L382.3,2140.4 L382.8,2139.5 L383.3,2138.6 L383.8,2137.7 L384.3,2136.7 L384.8,2135.6 L385.3,2134.5 L385.8,2133.4 L386.3,2132.2 L386.8,2130.9 L387.3,2129.6 L387.8,2128.2 L388.3,2126.7 L388.8,2125.2 L389.3,2123.6 L389.8,2121.9 L390.3,2120.2 L390.8,2118.3 L391.3,2116.4 L391.8,2114.4 L392.3,2112.3 L392.8,2110.0 L393.3,2107.7 L393.8,2105.3 L394.3,2102.8 L394.8,2100.1 L395.3,2097.3 L395.8,2094.4 L396.3,2091.4 L396.8,2088.3 L397.3,2085.1 L397.8,2081.7 L398.3,2078.2 L398.8,2074.7 L399.3,2071.0 L399.8,2067.2 L400.3,2063.3 L400.8,2059.3 L401.3,2055.3 L401.8,2051.2 L402.3,2047.1 L402.8,2043.0 L403.3,2038.8 L403.8,2034.7 L404.3,2030.5 L404.8,2026.4 L405.3,2022.3 L405.8,2018.2 L406.3,2014.1 L406.8,2010.0 L407.3,2005.9 L407.8,2001.8 L408.3,1997.6 L408.8,1993.4 L409.3,1989.0 L409.8,1984.5 L410.3,1979.8 L410.8,1974.9 L411.3,1969.8 L411.8,1964.4 L412.3,1958.8 L412.8,1952.9 L413.3,1946.8 L413.8,1940.5 L414.3,1934.0 L414.8,1927.3 L415.3,1920.7 L415.8,1914.0 L416.3,1907.6 L416.8,1901.4 L417.3,1895.7 L417.8,1890.6 L418.3,1886.2 L418.8,1882.7 L419.3,1880.2 L419.8,1878.9 L420.3,1878.7 L420.8,1879.7 L421.3,1882.0 L421.8,1885.4 L422.3,1889.9 L422.8,1895.4 L423.3,1901.8 L423.8,1908.8 L424.3,1916.4 L424.8,1924.4 L425.3,1932.7 L425.8,1941.1 L426.3,1949.6 L426.8,1957.9 L427.3,1966.1 L427.8,1974.0 L428.3,1981.7 L428.8,1989.1 L429.3,1996.1 L429.8,2002.7 L430.3,2009.0 L430.8,2014.9 L431.3,2020.4 L431.8,2025.6 L432.3,2030.4 L432.8,2034.8 L433.3,2039.0 L433.8,2042.8 L434.3,2046.3 L434.8,2049.5 L435.3,2052.4 L435.8,2055.1 L436.3,2057.5 L436.8,2059.6 L437.3,2061.5 L437.8,2063.2 L438.3,2064.7 L438.8,2066.0 L439.3,2067.0 L439.8,2067.9 L440.3,2068.5 L440.8,2069.0 L441.3,2069.3 L441.8,2069.4 L442.3,2069.4 L442.8,2069.1 L443.3,2068.7 L443.8,2068.2 L444.3,2067.4 L444.8,2066.5 L445.3,2065.4 L445.8,2064.1 L446.3,2062.7 L446.8,2061.1 L447.3,2059.4 L447.8,2057.4 L448.3,2055.3 L448.8,2053.0 L449.3,2050.6 L449.8,2048.0 L450.3,2045.2 L450.8,2042.3 L451.3,2039.2 L451.8,2035.9 L452.3,2032.6 L452.8,2029.1 L453.3,2025.4 L453.8,2021.7 L454.3,2017.8 L454.8,2013.9 L455.3,2009.9 L455.8,2005.9 L456.3,2001.8 L456.8,1997.7 L457.3,1993.6 L457.8,1989.4 L458.3,1985.2 L458.8,1981.1 L459.3,1976.9 L459.8,1972.7 L460.3,1968.4 L460.8,1964.1 L461.3,1959.6 L461.8,1955.1 L462.3,1950.3 L462.8,1945.4 L463.3,1940.3 L463.8,1934.9 L464.3,1929.2 L464.8,1923.3 L465.3,1917.0 L465.8,1910.3 L466.3,1903.4 L466.8,1896.2 L467.3,1888.7 L467.8,1881.0 L468.3,1873.2 L468.8,1865.3 L469.3,1857.5 L469.8,1849.8 L470.3,1842.5 L470.8,1835.7 L471.3,1829.4 L471.8,1824.0 L472.3,1819.4 L472.8,1815.9 L473.3,1813.5 L473.8,1812.3 L474.3,1812.2 L474.8,1813.3 L475.3,1815.6 L475.8,1818.8 L476.3,1823.0 L476.8,1827.9 L477.3,1833.5 L477.8,1839.5 L478.3,1845.9 L478.8,1852.4 L479.3,1859.1 L479.8,1865.8 L480.3,1872.4 L480.8,1878.9 L481.3,1885.1 L481.8,1891.1 L482.3,1896.8 L482.8,1902.2 L483.3,1907.3 L483.8,1912.0 L484.3,1916.4 L484.8,1920.5 L485.3,1924.1 L485.8,1927.5 L486.3,1930.4 L486.8,1933.0 L487.3,1935.1 L487.8,1936.9 L488.3,1938.3 L488.8,1939.2 L489.3,1939.7 L489.8,1939.8 L490.3,1939.3 L490.8,1938.4 L491.3,1937.0 L491.8,1935.0 L492.3,1932.5 L492.8,1929.4 L493.3,1925.7 L493.8,1921.4 L494.3,1916.4 L494.8,1910.8 L495.3,1904.5 L495.8,1897.5 L496.3,1889.9 L496.8,1881.5 L497.3,1872.6 L497.8,1863.1 L498.3,1853.1 L498.8,1842.7 L499.3,1832.0 L499.8,1821.2 L500.3,1810.5 L500.8,1800.1 L501.3,1790.3 L501.8,1781.3 L502.3,1773.4 L502.8,1766.9 L503.3,1761.9 L503.8,1758.6 L504.3,1757.0 L504.8,1757.1 L505.3,1758.8 L505.8,1762.0 L506.3,1766.5 L506.8,1772.1 L507.3,1778.4 L507.8,1785.3 L508.3,1792.6 L508.8,1800.0 L509.3,1807.3 L509.8,1814.5 L510.3,1821.5 L510.8,1828.1 L511.3,1834.3 L511.8,1840.1 L512.3,1845.4 L512.8,1850.2 L513.3,1854.5 L513.8,1858.3 L514.3,1861.6 L514.8,1864.4 L515.3,1866.6 L515.8,1868.3 L516.3,1869.4 L516.8,1869.9 L517.3,1869.8 L517.8,1869.2 L518.3,1867.9 L518.8,1866.1 L519.3,1863.6 L519.8,1860.6 L520.3,1857.1 L520.8,1853.0 L521.3,1848.5 L521.8,1843.6 L522.3,1838.4 L522.8,1833.1 L523.3,1827.6 L523.8,1822.2 L524.3,1817.0 L524.8,1812.2 L525.3,1807.9 L525.8,1804.3 L526.3,1801.5 L526.8,1799.7 L527.3,1798.9 L527.8,1799.2 L528.3,1800.6 L528.8,1803.1 L529.3,1806.7 L529.8,1811.2 L530.3,1816.6 L530.8,1822.6 L531.3,1829.2 L531.8,1836.3 L532.3,1843.6 L532.8,1851.1 L533.3,1858.6 L533.8,1866.0 L534.3,1873.3 L534.8,1880.4 L535.3,1887.2 L535.8,1893.8 L536.3,1900.0 L536.8,1905.9 L537.3,1911.5 L537.8,1916.7 L538.3,1921.6 L538.8,1926.2 L539.3,1930.4 L539.8,1934.3 L540.3,1937.8 L540.8,1941.0 L541.3,1943.8 L541.8,1946.4 L542.3,1948.5 L542.8,1950.3 L543.3,1951.8 L543.8,1952.8 L544.3,1953.5 L544.8,1953.7 L545.3,1953.5 L545.8,1952.8 L546.3,1951.7 L546.8,1950.0 L547.3,1947.8 L547.8,1945.1 L548.3,1941.8 L548.8,1937.9 L549.3,1933.4 L549.8,1928.3 L550.3,1922.6 L550.8,1916.3 L551.3,1909.5 L551.8,1902.3 L552.3,1894.6 L552.8,1886.6 L553.3,1878.6 L553.8,1870.5 L554.3,1862.7 L554.8,1855.3 L555.3,1848.8 L555.8,1843.2 L556.3,1838.8 L556.8,1836.0 L557.3,1834.8 L557.8,1835.4 L558.3,1837.8 L558.8,1842.0 L559.3,1847.9 L559.8,1855.2 L560.3,1863.8 L560.8,1873.5 L561.3,1883.9 L561.8,1894.8 L562.3,1906.0 L562.8,1917.3 L563.3,1928.5 L563.8,1939.4 L564.3,1950.0 L564.8,1960.2 L565.3,1969.9 L565.8,1979.1 L566.3,1987.8 L566.8,1995.9 L567.3,2003.6 L567.8,2010.7 L568.3,2017.3 L568.8,2023.5 L569.3,2029.2 L569.8,2034.5 L570.3,2039.4 L570.8,2043.9 L571.3,2048.1 L571.8,2051.9 L572.3,2055.4 L572.8,2058.6 L573.3,2061.6 L573.8,2064.3 L574.3,2066.7 L574.8,2068.9 L575.3,2070.9 L575.8,2072.7 L576.3,2074.2 L576.8,2075.6 L577.3,2076.8 L577.8,2077.9 L578.3,2078.7 L578.8,2079.4 L579.3,2080.0 L579.8,2080.4 L580.3,2080.6 L580.8,2080.7 L581.3,2080.7 L581.8,2080.5 L582.3,2080.2 L582.8,2079.8 L583.3,2079.3 L583.8,2078.6 L584.3,2077.8 L584.8,2077.0 L585.3,2076.0 L585.8,2074.9 L586.3,2073.7 L586.8,2072.4 L587.3,2071.0 L587.8,2069.5 L588.3,2068.0 L588.8,2066.4 L589.3,2064.7 L589.8,2063.0 L590.3,2061.2 L590.8,2059.4 L591.3,2057.5 L591.8,2055.6 L592.3,2053.7 L592.8,2051.7 L593.3,2049.7 L593.8,2047.7 L594.3,2045.6 L594.8,2043.5 L595.3,2041.3 L595.8,2039.1 L596.3,2036.8 L596.8,2034.4 L597.3,2031.8 L597.8,2029.2 L598.3,2026.3 L598.8,2023.3 L599.3,2020.0 L599.8,2016.5 L600.3,2012.7 L600.8,2008.5 L601.3,2004.0 L601.8,1999.1 L602.3,1993.8 L602.8,1988.0 L603.3,1981.8 L603.8,1975.0 L604.3,1967.9 L604.8,1960.2 L605.3,1952.1 L605.8,1943.7 L606.3,1935.0 L606.8,1926.1 L607.3,1917.2 L607.8,1908.4 L608.3,1900.0 L608.8,1892.2 L609.3,1885.2 L609.8,1879.4 L610.3,1875.0 L610.8,1872.1 L611.3,1871.0 L611.8,1871.7 L612.3,1874.2 L612.8,1878.6 L613.3,1884.6 L613.8,1892.1 L614.3,1900.9 L614.8,1910.6 L615.3,1921.1 L615.8,1932.0 L616.3,1943.2 L616.8,1954.5 L617.3,1965.6 L617.8,1976.5 L618.3,1987.1 L618.8,1997.3 L619.3,2007.0 L619.8,2016.3 L620.3,2025.0 L620.8,2033.3 L621.3,2041.1 L621.8,2048.4 L622.3,2055.2 L622.8,2061.6 L623.3,2067.6 L623.8,2073.2 L624.3,2078.5 L624.8,2083.4 L625.3,2088.0 L625.8,2092.3 L626.3,2096.4 L626.8,2100.2 L627.3,2103.7 L627.8,2107.1 L628.3,2110.2 L628.8,2113.2 L629.3,2116.0 L629.8,2118.6 L630.3,2121.1 L630.8,2123.4 L631.3,2125.6 L631.8,2127.7 L632.3,2129.7 L632.8,2131.5 L633.3,2133.3 L633.8,2135.0 L634.3,2136.6 L634.8,2138.1 L635.3,2139.6 L635.8,2141.0 L636.3,2142.3 L636.8,2143.6 L637.3,2144.8 L637.8,2145.9 L638.3,2147.0 L638.8,2148.1 L639.3,2149.1 L639.8,2150.0 L640.3,2151.0 L640.8,2151.8 L641.3,2152.7 L641.8,2153.5 L642.3,2154.3 L642.8,2155.1 L643.3,2155.8 L643.8,2156.5 L644.3,2157.2 L644.8,2157.8 L645.3,2158.4 L645.8,2159.0 L646.3,2159.6 L646.8,2160.2 L647.3,2160.7 L647.8,2161.3 L648.3,2161.8 L648.8,2162.3 L649.3,2162.7 L649.8,2163.2 L650.3,2163.7 L650.8,2164.1 L651.3,2164.5 L651.8,2164.9 L652.3,2165.3 L652.8,2165.7 L653.3,2166.1 L653.8,2166.4 L654.3,2166.8 L654.8,2167.1 L655.3,2167.5 L655.8,2167.8 L656.3,2168.1 L656.8,2168.4 L657.3,2168.7 L657.8,2169.0 L658.3,2169.3 L658.8,2169.6 L659.3,2169.8 L659.8,2170.1 L660.3,2170.3 L660.8,2170.6 L661.3,2170.8 L661.8,2171.1 L662.3,2171.3 L662.8,2171.5 L663.3,2171.8 L663.8,2172.0 L664.3,2172.2 L664.8,2172.4 L665.3,2172.6 L665.8,2172.8 L666.3,2173.0 L666.8,2173.2 L667.3,2173.4 L667.8,2173.5 L668.3,2173.7 L668.8,2173.9 L669.3,2174.1 L669.8,2174.2 L670.3,2174.4 L670.8,2174.6 L671.3,2174.7 L671.8,2174.9 L672.3,2175.0 L672.8,2175.2 L673.3,2175.3 L673.8,2175.4 L674.3,2175.6 L674.8,2175.7 L675.3,2175.9 L675.8,2176.0 L676.3,2176.1 L676.8,2176.2 L677.3,2176.4 L677.8,2176.5 L678.3,2176.6 L678.8,2176.7 L679.3,2176.8 L679.8,2176.9 L680.3,2177.1 L680.8,2177.2 L681.3,2177.3 L681.8,2177.4 L682.3,2177.5 L682.8,2177.6 L683.3,2177.7 L683.8,2177.8 L684.3,2177.9 L684.8,2178.0 L685.3,2178.1 L685.8,2178.2 L686.3,2178.3 L686.8,2178.3 L687.3,2178.4 L687.8,2178.5 L688.3,2178.6 L688.8,2178.7 L689.3,2178.8 L689.8,2178.9 L690.3,2178.9 L690.8,2179.0 L691.3,2179.1 L691.8,2179.2 L692.3,2179.2 L692.8,2179.3 L693.3,2179.4 L693.8,2179.5 L694.3,2179.5 L694.8,2179.6 L695.3,2179.7 L695.8,2179.7 L696.3,2179.8 L696.8,2179.9 L697.3,2179.9 L697.8,2180.0 L698.3,2180.1 L698.8,2180.1 L699.3,2180.2 L699.8,2180.2 L700.3,2180.3 L700.8,2180.4 L701.3,2180.4 L701.8,2180.5 L702.3,2180.5 L702.8,2180.6 L703.3,2180.6 L703.8,2180.7 L704.3,2180.8 L704.8,2180.8 L705.3,2180.9 L705.8,2180.9 L706.3,2181.0 L706.8,2181.0 L707.3,2181.1 L707.8,2181.1 L708.3,2181.2 L708.8,2181.2 L709.3,2181.3 L709.8,2181.3 L710.3,2181.3 L710.8,2181.4 L711.3,2181.4 L711.8,2181.5 L712.3,2181.5 L712.8,2181.6 L713.3,2181.6 L713.8,2181.7 L714.3,2181.7 L714.8,2181.7 L715.3,2181.8 L715.8,2181.8 L716.3,2181.9 L716.8,2181.9 L717.3,2181.9 L717.8,2182.0 L718.3,2182.0 L718.8,2182.0 L719.3,2182.1 L719.8,2182.1 L720.3,2182.2 L720.8,2182.2 L721.3,2182.2 L721.8,2182.3 L722.3,2182.3 L722.8,2182.3 L723.3,2182.4 L723.8,2182.4 L724.3,2182.4 L724.8,2182.5 L725.3,2182.5 L725.8,2182.5 L726.3,2182.6 L726.8,2182.6 L727.3,2182.6 L727.8,2182.7 L728.3,2182.7" fill="none" stroke="#000" stroke-width="4.6" stroke-linecap="round" stroke-linejoin="round" stroke-dasharray="0 9.8"/>
<path d="M4.8,2186.3 L5.3,2186.3 L5.8,2186.3 L6.3,2186.3 L6.8,2186.3 L7.3,2186.3 L7.8,2186.3 L8.3,2186.3 L8.8,2186.3 L9.3,2186.3 L9.8,2186.3 L10.3,2186.2 L10.8,2186.2 L11.3,2186.2 L11.8,2186.2 L12.3,2186.2 L12.8,2186.2 L13.3,2186.2 L13.8,2186.2 L14.3,2186.2 L14.8,2186.2 L15.3,2186.1 L15.8,2186.1 L16.3,2186.1 L16.8,2186.1 L17.3,2186.1 L17.8,2186.1 L18.3,2186.1 L18.8,2186.1 L19.3,2186.0 L19.8,2186.0 L20.3,2186.0 L20.8,2186.0 L21.3,2186.0 L21.8,2186.0 L22.3,2185.9 L22.8,2185.9 L23.3,2185.9 L23.8,2185.9 L24.3,2185.9 L24.8,2185.9 L25.3,2185.9 L25.8,2185.8 L26.3,2185.8 L26.8,2185.8 L27.3,2185.8 L27.8,2185.8 L28.3,2185.8 L28.8,2185.7 L29.3,2185.7 L29.8,2185.7 L30.3,2185.7 L30.8,2185.7 L31.3,2185.6 L31.8,2185.6 L32.3,2185.6 L32.8,2185.6 L33.3,2185.6 L33.8,2185.5 L34.3,2185.5 L34.8,2185.5 L35.3,2185.5 L35.8,2185.4 L36.3,2185.4 L36.8,2185.4 L37.3,2185.4 L37.8,2185.3 L38.3,2185.3 L38.8,2185.3 L39.3,2185.3 L39.8,2185.2 L40.3,2185.2 L40.8,2185.2 L41.3,2185.2 L41.8,2185.1 L42.3,2185.1 L42.8,2185.1 L43.3,2185.0 L43.8,2185.0 L44.3,2185.0 L44.8,2184.9 L45.3,2184.9 L45.8,2184.9 L46.3,2184.8 L46.8,2184.8 L47.3,2184.8 L47.8,2184.7 L48.3,2184.7 L48.8,2184.6 L49.3,2184.6 L49.8,2184.6 L50.3,2184.5 L50.8,2184.5 L51.3,2184.4 L51.8,2184.4 L52.3,2184.4 L52.8,2184.3 L53.3,2184.3 L53.8,2184.2 L54.3,2184.2 L54.8,2184.1 L55.3,2184.1 L55.8,2184.0 L56.3,2184.0 L56.8,2183.9 L57.3,2183.8 L57.8,2183.8 L58.3,2183.7 L58.8,2183.6 L59.3,2183.5 L59.8,2183.5 L60.3,2183.4 L60.8,2183.3 L61.3,2183.2 L61.8,2183.1 L62.3,2183.0 L62.8,2183.0 L63.3,2182.9 L63.8,2182.8 L64.3,2182.7 L64.8,2182.6 L65.3,2182.5 L65.8,2182.4 L66.3,2182.3 L66.8,2182.2 L67.3,2182.1 L67.8,2182.0 L68.3,2181.9 L68.8,2181.8 L69.3,2181.7 L69.8,2181.6 L70.3,2181.5 L70.8,2181.4 L71.3,2181.3 L71.8,2181.2 L72.3,2181.1 L72.8,2180.9 L73.3,2180.8 L73.8,2180.7 L74.3,2180.6 L74.8,2180.5 L75.3,2180.4 L75.8,2180.2 L76.3,2180.1 L76.8,2180.0 L77.3,2179.9 L77.8,2179.8 L78.3,2179.6 L78.8,2179.5 L79.3,2179.4 L79.8,2179.2 L80.3,2179.1 L80.8,2179.0 L81.3,2178.8 L81.8,2178.7 L82.3,2178.6 L82.8,2178.4 L83.3,2178.3 L83.8,2178.1 L84.3,2178.0 L84.8,2177.9 L85.3,2177.7 L85.8,2177.6 L86.3,2177.4 L86.8,2177.3 L87.3,2177.1 L87.8,2177.0 L88.3,2176.8 L88.8,2176.6 L89.3,2176.5 L89.8,2176.3 L90.3,2176.1 L90.8,2175.9 L91.3,2175.7 L91.8,2175.5 L92.3,2175.3 L92.8,2175.1 L93.3,2174.9 L93.8,2174.7 L94.3,2174.5 L94.8,2174.3 L95.3,2174.1 L95.8,2173.8 L96.3,2173.6 L96.8,2173.4 L97.3,2173.2 L97.8,2173.0 L98.3,2172.7 L98.8,2172.5 L99.3,2172.3 L99.8,2172.0 L100.3,2171.8 L100.8,2171.6 L101.3,2171.3 L101.8,2171.0 L102.3,2170.7 L102.8,2170.4 L103.3,2170.1 L103.8,2169.7 L104.3,2169.4 L104.8,2169.0 L105.3,2168.7 L105.8,2168.3 L106.3,2167.9 L106.8,2167.5 L107.3,2167.1 L107.8,2166.8 L108.3,2166.4 L108.8,2165.9 L109.3,2165.5 L109.8,2165.0 L110.3,2164.4 L110.8,2163.9 L111.3,2163.3 L111.8,2162.6 L112.3,2162.0 L112.8,2161.3 L113.3,2160.6 L113.8,2159.9 L114.3,2159.1 L114.8,2158.3 L115.3,2157.5 L115.8,2156.6 L116.3,2155.6 L116.8,2154.6 L117.3,2153.5 L117.8,2152.4 L118.3,2151.1 L118.8,2149.9 L119.3,2148.6 L119.8,2147.2 L120.3,2145.8 L120.8,2144.4 L121.3,2142.9 L121.8,2141.3 L122.3,2139.6 L122.8,2137.9 L123.3,2136.2 L123.8,2134.4 L124.3,2132.5 L124.8,2130.5 L125.3,2128.4 L125.8,2126.2 L126.3,2124.0 L126.8,2121.8 L127.3,2119.8 L127.8,2117.9 L128.3,2116.1 L128.8,2114.4 L129.3,2112.8 L129.8,2111.4 L130.3,2110.0 L130.8,2108.8 L131.3,2107.8 L131.8,2106.9 L132.3,2106.3 L132.8,2105.8 L133.3,2105.5 L133.8,2105.3 L134.3,2105.3 L134.8,2105.4 L135.3,2105.6 L135.8,2105.8 L136.3,2106.2 L136.8,2106.7 L137.3,2107.2 L137.8,2107.9 L138.3,2108.8 L138.8,2109.8 L139.3,2110.9 L139.8,2112.2 L140.3,2113.5 L140.8,2114.7 L141.3,2115.9 L141.8,2116.9 L142.3,2117.9 L142.8,2118.8 L143.3,2119.7 L143.8,2120.3 L144.3,2120.8 L144.8,2120.9 L145.3,2120.6 L145.8,2120.1 L146.3,2119.3 L146.8,2118.5 L147.3,2117.5 L147.8,2116.5 L148.3,2115.5 L148.8,2114.4 L149.3,2113.3 L149.8,2112.1 L150.3,2110.9 L150.8,2109.8 L151.3,2108.8 L151.8,2107.8 L152.3,2107.1 L152.8,2106.4 L153.3,2105.9 L153.8,2105.5 L154.3,2105.2 L154.8,2104.9 L155.3,2104.7 L155.8,2104.6 L156.3,2104.4 L156.8,2104.2 L157.3,2104.1 L157.8,2104.0 L158.3,2104.0 L158.8,2104.1 L159.3,2104.4 L159.8,2104.8 L160.3,2105.4 L160.8,2106.3 L161.3,2107.2 L161.8,2108.2 L162.3,2109.2 L162.8,2110.3 L163.3,2111.3 L163.8,2112.4 L164.3,2113.4 L164.8,2114.4 L165.3,2115.4 L165.8,2116.4 L166.3,2117.3 L166.8,2118.3 L167.3,2119.2 L167.8,2120.1 L168.3,2120.9 L168.8,2121.6 L169.3,2121.9 L169.8,2121.5 L170.3,2120.5 L170.8,2119.2 L171.3,2117.5 L171.8,2115.6 L172.3,2113.6 L172.8,2111.5 L173.3,2109.4 L173.8,2107.2 L174.3,2105.1 L174.8,2103.0 L175.3,2100.9 L175.8,2098.9 L176.3,2096.9 L176.8,2094.9 L177.3,2093.0 L177.8,2091.1 L178.3,2089.3 L178.8,2087.7 L179.3,2086.2 L179.8,2085.1 L180.3,2084.1 L180.8,2083.4 L181.3,2082.8 L181.8,2082.4 L182.3,2082.1 L182.8,2081.9 L183.3,2081.7 L183.8,2081.6 L184.3,2081.5 L184.8,2081.5 L185.3,2081.5 L185.8,2081.5 L186.3,2081.6 L186.8,2081.6 L187.3,2081.7 L187.8,2081.9 L188.3,2082.2 L188.8,2082.6 L189.3,2083.2 L189.8,2084.0 L190.3,2084.9 L190.8,2086.0 L191.3,2087.1 L191.8,2088.3 L192.3,2089.5 L192.8,2090.6 L193.3,2091.7 L193.8,2092.7 L194.3,2093.7 L194.8,2094.7 L195.3,2095.6 L195.8,2096.4 L196.3,2097.2 L196.8,2097.8 L197.3,2098.0 L197.8,2097.5 L198.3,2096.4 L198.8,2094.9 L199.3,2092.8 L199.8,2090.4 L200.3,2087.7 L200.8,2084.9 L201.3,2081.9 L201.8,2078.9 L202.3,2075.9 L202.8,2072.9 L203.3,2069.8 L203.8,2066.9 L204.3,2064.0 L204.8,2061.2 L205.3,2058.4 L205.8,2055.6 L206.3,2052.9 L206.8,2050.2 L207.3,2047.5 L207.8,2044.9 L208.3,2042.4 L208.8,2040.1 L209.3,2038.1 L209.8,2036.5 L210.3,2035.2 L210.8,2034.2 L211.3,2033.4 L211.8,2033.0 L212.3,2032.8 L212.8,2032.9 L213.3,2033.1 L213.8,2033.6 L214.3,2034.2 L214.8,2034.9 L215.3,2035.8 L215.8,2036.9 L216.3,2038.1 L216.8,2039.4 L217.3,2040.8 L217.8,2042.4 L218.3,2044.0 L218.8,2045.6 L219.3,2047.2 L219.8,2048.7 L220.3,2050.0 L220.8,2051.2 L221.3,2052.3 L221.8,2053.3 L222.3,2054.2 L222.8,2055.0 L223.3,2055.6 L223.8,2056.1 L224.3,2056.4 L224.8,2056.5 L225.3,2056.4 L225.8,2056.1 L226.3,2055.7 L226.8,2055.1 L227.3,2054.4 L227.8,2053.6 L228.3,2052.7 L228.8,2051.6 L229.3,2050.5 L229.8,2049.3 L230.3,2048.1 L230.8,2046.6 L231.3,2045.1 L231.8,2043.5 L232.3,2041.9 L232.8,2040.4 L233.3,2038.9 L233.8,2037.5 L234.3,2036.3 L234.8,2035.2 L235.3,2034.2 L235.8,2033.4 L236.3,2032.7 L236.8,2032.2 L237.3,2031.8 L237.8,2031.6 L238.3,2031.6 L238.8,2031.8 L239.3,2032.3 L239.8,2033.1 L240.3,2034.1 L240.8,2035.3 L241.3,2036.8 L241.8,2038.5 L242.3,2040.5 L242.8,2042.7 L243.3,2045.0 L243.8,2047.5 L244.3,2050.0 L244.8,2052.5 L245.3,2054.9 L245.8,2057.3 L246.3,2059.5 L246.8,2061.7 L247.3,2063.8 L247.8,2066.0 L248.3,2068.0 L248.8,2069.9 L249.3,2071.5 L249.8,2073.0 L250.3,2074.1 L250.8,2074.9 L251.3,2075.3 L251.8,2075.2 L252.3,2074.8 L252.8,2074.1 L253.3,2073.1 L253.8,2071.9 L254.3,2070.5 L254.8,2069.1 L255.3,2067.6 L255.8,2066.1 L256.3,2064.5 L256.8,2062.8 L257.3,2061.1 L257.8,2059.3 L258.3,2057.5 L258.8,2055.7 L259.3,2053.9 L259.8,2052.3 L260.3,2050.8 L260.8,2049.4 L261.3,2048.2 L261.8,2047.1 L262.3,2046.1 L262.8,2045.4 L263.3,2044.8 L263.8,2044.5 L264.3,2044.5 L264.8,2044.7 L265.3,2045.2 L265.8,2046.2 L266.3,2047.5 L266.8,2049.2 L267.3,2051.3 L267.8,2053.7 L268.3,2056.3 L268.8,2058.9 L269.3,2061.5 L269.8,2064.2 L270.3,2066.8 L270.8,2069.5 L271.3,2072.1 L271.8,2074.8 L272.3,2077.5 L272.8,2080.2 L273.3,2082.9 L273.8,2085.6 L274.3,2088.3 L274.8,2091.0 L275.3,2093.7 L275.8,2096.4 L276.3,2099.0 L276.8,2101.3 L277.3,2103.5 L277.8,2105.5 L278.3,2107.5 L278.8,2109.3 L279.3,2111.2 L279.8,2112.9 L280.3,2114.3 L280.8,2115.2 L281.3,2115.6 L281.8,2115.5 L282.3,2114.8 L282.8,2113.4 L283.3,2111.5 L283.8,2109.5 L284.3,2107.5 L284.8,2105.8 L285.3,2104.5 L285.8,2103.5 L286.3,2102.6 L286.8,2101.8 L287.3,2100.9 L287.8,2100.2 L288.3,2099.5 L288.8,2099.0 L289.3,2098.5 L289.8,2098.1 L290.3,2097.7 L290.8,2097.4 L291.3,2097.2 L291.8,2097.0 L292.3,2097.0 L292.8,2097.1 L293.3,2097.4 L293.8,2097.8 L294.3,2098.4 L294.8,2099.3 L295.3,2100.3 L295.8,2101.4 L296.3,2102.7 L296.8,2104.0 L297.3,2105.4 L297.8,2106.9 L298.3,2108.4 L298.8,2109.9 L299.3,2111.5 L299.8,2113.2 L300.3,2114.9 L300.8,2116.7 L301.3,2118.5 L301.8,2120.2 L302.3,2121.9 L302.8,2123.4 L303.3,2124.7 L303.8,2125.7 L304.3,2126.3 L304.8,2126.5 L305.3,2126.3 L305.8,2125.7 L306.3,2125.0 L306.8,2124.2 L307.3,2123.2 L307.8,2122.2 L308.3,2121.1 L308.8,2120.0 L309.3,2118.7 L309.8,2117.5 L310.3,2116.1 L310.8,2114.7 L311.3,2113.3 L311.8,2111.8 L312.3,2110.3 L312.8,2108.8 L313.3,2107.4 L313.8,2106.0 L314.3,2104.7 L314.8,2103.6 L315.3,2102.6 L315.8,2101.9 L316.3,2101.2 L316.8,2100.8 L317.3,2100.5 L317.8,2100.4 L318.3,2100.4 L318.8,2100.6 L319.3,2100.9 L319.8,2101.3 L320.3,2101.8 L320.8,2102.5 L321.3,2103.3 L321.8,2104.2 L322.3,2105.3 L322.8,2106.6 L323.3,2107.8 L323.8,2109.2 L324.3,2110.5 L324.8,2111.9 L325.3,2113.2 L325.8,2114.6 L326.3,2115.9 L326.8,2117.2 L327.3,2118.5 L327.8,2119.7 L328.3,2121.0 L328.8,2122.2 L329.3,2123.3 L329.8,2124.5 L330.3,2125.6 L330.8,2126.7 L331.3,2127.8 L331.8,2128.8 L332.3,2129.4 L332.8,2129.7 L333.3,2129.5 L333.8,2128.8 L334.3,2127.6 L334.8,2126.1 L335.3,2124.4 L335.8,2122.8 L336.3,2121.2 L336.8,2119.9 L337.3,2118.6 L337.8,2117.4 L338.3,2116.2 L338.8,2115.0 L339.3,2114.0 L339.8,2113.1 L340.3,2112.4 L340.8,2111.9 L341.3,2111.6 L341.8,2111.5 L342.3,2111.6 L342.8,2111.9 L343.3,2112.3 L343.8,2112.8 L344.3,2113.5 L344.8,2114.2 L345.3,2115.0 L345.8,2115.8 L346.3,2116.8 L346.8,2117.9 L347.3,2119.1 L347.8,2120.5 L348.3,2122.0 L348.8,2123.8 L349.3,2125.6 L349.8,2127.6 L350.3,2129.6 L350.8,2131.7 L351.3,2133.7 L351.8,2135.7 L352.3,2137.7 L352.8,2139.6 L353.3,2141.4 L353.8,2143.3 L354.3,2145.1 L354.8,2146.8 L355.3,2148.5 L355.8,2150.1 L356.3,2151.6 L356.8,2153.0 L357.3,2154.2 L357.8,2155.2 L358.3,2156.0 L358.8,2156.6 L359.3,2157.1 L359.8,2157.4 L360.3,2157.6 L360.8,2157.8 L361.3,2157.9 L361.8,2158.0 L362.3,2158.0 L362.8,2158.1 L363.3,2158.1 L363.8,2158.1 L364.3,2158.1 L364.8,2158.0 L365.3,2157.8 L365.8,2157.6 L366.3,2157.2 L366.8,2156.7 L367.3,2156.1 L367.8,2155.4 L368.3,2154.6 L368.8,2153.8 L369.3,2153.0 L369.8,2152.3 L370.3,2151.5 L370.8,2150.7 L371.3,2149.9 L371.8,2149.1 L372.3,2148.4 L372.8,2147.7 L373.3,2146.9 L373.8,2146.2 L374.3,2145.5 L374.8,2144.7 L375.3,2144.0 L375.8,2143.2 L376.3,2142.5 L376.8,2141.7 L377.3,2140.9 L377.8,2140.0 L378.3,2138.9 L378.8,2137.7 L379.3,2136.5 L379.8,2135.2 L380.3,2133.8 L380.8,2132.4 L381.3,2131.1 L381.8,2129.7 L382.3,2128.4 L382.8,2127.1 L383.3,2125.7 L383.8,2124.3 L384.3,2122.9 L384.8,2121.3 L385.3,2119.6 L385.8,2117.8 L386.3,2115.8 L386.8,2113.6 L387.3,2111.2 L387.8,2108.8 L388.3,2106.2 L388.8,2103.6 L389.3,2100.9 L389.8,2098.2 L390.3,2095.4 L390.8,2092.7 L391.3,2089.9 L391.8,2087.1 L392.3,2084.3 L392.8,2081.5 L393.3,2078.8 L393.8,2076.0 L394.3,2073.2 L394.8,2070.5 L395.3,2067.8 L395.8,2065.1 L396.3,2062.6 L396.8,2060.1 L397.3,2057.8 L397.8,2055.8 L398.3,2054.0 L398.8,2052.3 L399.3,2050.8 L399.8,2049.3 L400.3,2047.8 L400.8,2046.3 L401.3,2044.8 L401.8,2043.4 L402.3,2042.0 L402.8,2040.6 L403.3,2039.3 L403.8,2037.9 L404.3,2036.5 L404.8,2035.1 L405.3,2033.7 L405.8,2032.2 L406.3,2030.5 L406.8,2028.8 L407.3,2026.8 L407.8,2024.8 L408.3,2022.5 L408.8,2020.1 L409.3,2017.5 L409.8,2014.1 L410.3,2009.9 L410.8,2004.8 L411.3,1999.0 L411.8,1992.8 L412.3,1986.5 L412.8,1980.2 L413.3,1973.9 L413.8,1967.6 L414.3,1961.3 L414.8,1955.0 L415.3,1948.9 L415.8,1942.8 L416.3,1936.5 L416.8,1928.9 L417.3,1920.5 L417.8,1912.4 L418.3,1905.6 L418.8,1900.0 L419.3,1895.2 L419.8,1890.8 L420.3,1887.0 L420.8,1884.1 L421.3,1882.3 L421.8,1881.7 L422.3,1882.1 L422.8,1883.3 L423.3,1885.1 L423.8,1887.3 L424.3,1889.7 L424.8,1892.9 L425.3,1897.0 L425.8,1902.3 L426.3,1908.8 L426.8,1916.3 L427.3,1924.8 L427.8,1934.1 L428.3,1943.8 L428.8,1953.8 L429.3,1964.1 L429.8,1976.2 L430.3,1988.4 L430.8,1997.8 L431.3,2004.3 L431.8,2010.1 L432.3,2015.6 L432.8,2021.2 L433.3,2026.8 L433.8,2032.3 L434.3,2037.7 L434.8,2042.9 L435.3,2047.8 L435.8,2052.6 L436.3,2057.2 L436.8,2061.3 L437.3,2064.8 L437.8,2067.7 L438.3,2070.0 L438.8,2071.5 L439.3,2072.5 L439.8,2072.9 L440.3,2073.0 L440.8,2072.8 L441.3,2072.4 L441.8,2071.7 L442.3,2070.6 L442.8,2068.9 L443.3,2066.8 L443.8,2064.3 L444.3,2061.6 L444.8,2058.6 L445.3,2055.2 L445.8,2051.5 L446.3,2047.7 L446.8,2043.9 L447.3,2040.0 L447.8,2036.3 L448.3,2032.7 L448.8,2029.2 L449.3,2025.8 L449.8,2022.4 L450.3,2019.2 L450.8,2016.1 L451.3,2013.2 L451.8,2010.6 L452.3,2008.3 L452.8,2006.2 L453.3,2004.3 L453.8,2002.5 L454.3,2001.0 L454.8,1999.7 L455.3,1998.5 L455.8,1997.4 L456.3,1996.4 L456.8,1995.4 L457.3,1994.3 L457.8,1993.1 L458.3,1991.8 L458.8,1990.4 L459.3,1988.8 L459.8,1987.2 L460.3,1985.4 L460.8,1983.6 L461.3,1981.7 L461.8,1979.7 L462.3,1977.7 L462.8,1975.3 L463.3,1972.0 L463.8,1967.3 L464.3,1960.5 L464.8,1952.9 L465.3,1945.4 L465.8,1937.8 L466.3,1930.2 L466.8,1922.7 L467.3,1915.1 L467.8,1907.6 L468.3,1900.0 L468.8,1892.2 L469.3,1884.1 L469.8,1875.7 L470.3,1867.3 L470.8,1858.9 L471.3,1850.4 L471.8,1841.8 L472.3,1833.1 L472.8,1824.5 L473.3,1816.3 L473.8,1808.6 L474.3,1801.5 L474.8,1794.8 L475.3,1789.7 L475.8,1786.5 L476.3,1784.7 L476.8,1783.9 L477.3,1783.8 L477.8,1784.4 L478.3,1786.2 L478.8,1789.3 L479.3,1794.2 L479.8,1800.3 L480.3,1806.7 L480.8,1813.7 L481.3,1821.3 L481.8,1829.4 L482.3,1837.6 L482.8,1845.9 L483.3,1854.1 L483.8,1862.3 L484.3,1870.5 L484.8,1878.7 L485.3,1886.9 L485.8,1895.1 L486.3,1903.2 L486.8,1910.6 L487.3,1917.1 L487.8,1923.0 L488.3,1928.4 L488.8,1932.9 L489.3,1936.3 L489.8,1938.8 L490.3,1940.5 L490.8,1941.7 L491.3,1942.4 L491.8,1942.7 L492.3,1942.5 L492.8,1941.5 L493.3,1939.7 L493.8,1936.9 L494.3,1933.2 L494.8,1928.5 L495.3,1922.6 L495.8,1915.0 L496.3,1905.5 L496.8,1895.6 L497.3,1885.6 L497.8,1875.7 L498.3,1865.7 L498.8,1855.8 L499.3,1845.8 L499.8,1835.9 L500.3,1825.7 L500.8,1815.0 L501.3,1804.3 L501.8,1794.2 L502.3,1785.4 L502.8,1778.1 L503.3,1771.5 L503.8,1765.4 L504.3,1759.8 L504.8,1754.8 L505.3,1750.5 L505.8,1746.8 L506.3,1744.0 L506.8,1742.0 L507.3,1740.6 L507.8,1739.8 L508.3,1739.6 L508.8,1740.2 L509.3,1742.1 L509.8,1745.2 L510.3,1750.0 L510.8,1756.0 L511.3,1763.1 L511.8,1771.5 L512.3,1781.2 L512.8,1791.1 L513.3,1801.1 L513.8,1811.0 L514.3,1821.0 L514.8,1830.9 L515.3,1840.9 L515.8,1850.8 L516.3,1860.5 L516.8,1869.3 L517.3,1877.4 L517.8,1884.9 L518.3,1890.9 L518.8,1894.6 L519.3,1896.3 L519.8,1896.4 L520.3,1895.8 L520.8,1894.5 L521.3,1892.3 L521.8,1889.1 L522.3,1884.5 L522.8,1879.5 L523.3,1874.4 L523.8,1869.3 L524.3,1864.1 L524.8,1858.9 L525.3,1853.5 L525.8,1848.2 L526.3,1842.9 L526.8,1837.6 L527.3,1832.5 L527.8,1828.3 L528.3,1824.9 L528.8,1822.0 L529.3,1819.5 L529.8,1817.2 L530.3,1815.6 L530.8,1814.6 L531.3,1814.1 L531.8,1814.0 L532.3,1814.3 L532.8,1815.2 L533.3,1817.1 L533.8,1820.3 L534.3,1825.1 L534.8,1831.0 L535.3,1837.6 L535.8,1844.9 L536.3,1852.8 L536.8,1861.2 L537.3,1870.0 L537.8,1878.9 L538.3,1887.5 L538.8,1895.4 L539.3,1903.1 L539.8,1910.6 L540.3,1918.1 L540.8,1925.6 L541.3,1933.2 L541.8,1941.0 L542.3,1949.0 L542.8,1957.0 L543.3,1964.9 L543.8,1972.4 L544.3,1978.1 L544.8,1982.3 L545.3,1985.1 L545.8,1986.9 L546.3,1988.2 L546.8,1989.3 L547.3,1990.2 L547.8,1990.6 L548.3,1990.2 L548.8,1988.8 L549.3,1986.2 L549.8,1982.1 L550.3,1976.5 L550.8,1969.6 L551.3,1961.7 L551.8,1952.6 L552.3,1942.6 L552.8,1932.7 L553.3,1922.7 L553.8,1912.8 L554.3,1902.9 L554.8,1892.9 L555.3,1883.0 L555.8,1873.0 L556.3,1864.2 L556.8,1856.6 L557.3,1850.2 L557.8,1844.6 L558.3,1840.1 L558.8,1836.7 L559.3,1834.3 L559.8,1832.6 L560.3,1831.6 L560.8,1831.2 L561.3,1831.2 L561.8,1831.7 L562.3,1833.3 L562.8,1836.4 L563.3,1841.3 L563.8,1848.0 L564.3,1856.2 L564.8,1865.6 L565.3,1875.5 L565.8,1885.5 L566.3,1895.4 L566.8,1905.4 L567.3,1915.3 L567.8,1925.2 L568.3,1935.1 L568.8,1945.3 L569.3,1957.1 L569.8,1970.6 L570.3,1985.0 L570.8,2012.8 L571.3,2029.4 L571.8,2037.9 L572.3,2045.7 L572.8,2053.1 L573.3,2060.5 L573.8,2067.9 L574.3,2074.8 L574.8,2080.7 L575.3,2084.9 L575.8,2087.9 L576.3,2090.2 L576.8,2092.3 L577.3,2094.2 L577.8,2095.9 L578.3,2097.1 L578.8,2097.8 L579.3,2097.8 L579.8,2097.0 L580.3,2096.0 L580.8,2094.8 L581.3,2093.4 L581.8,2091.9 L582.3,2090.2 L582.8,2088.4 L583.3,2086.4 L583.8,2084.4 L584.3,2082.4 L584.8,2080.3 L585.3,2078.2 L585.8,2076.0 L586.3,2073.8 L586.8,2071.3 L587.3,2068.6 L587.8,2065.9 L588.3,2063.3 L588.8,2061.0 L589.3,2058.9 L589.8,2057.2 L590.3,2055.8 L590.8,2054.6 L591.3,2053.6 L591.8,2052.7 L592.3,2051.9 L592.8,2051.2 L593.3,2050.5 L593.8,2049.8 L594.3,2049.2 L594.8,2048.5 L595.3,2047.9 L595.8,2047.2 L596.3,2046.5 L596.8,2045.8 L597.3,2045.1 L597.8,2044.3 L598.3,2043.4 L598.8,2042.6 L599.3,2041.7 L599.8,2040.9 L600.3,2040.0 L600.8,2038.7 L601.3,2036.4 L601.8,2033.1 L602.3,2028.8 L602.8,2022.6 L603.3,2009.1 L603.8,1997.8 L604.3,1992.0 L604.8,1986.8 L605.3,1981.7 L605.8,1976.4 L606.3,1970.7 L606.8,1964.3 L607.3,1957.5 L607.8,1950.7 L608.3,1944.4 L608.8,1939.1 L609.3,1934.2 L609.8,1929.7 L610.3,1925.3 L610.8,1921.1 L611.3,1916.8 L611.8,1912.7 L612.3,1908.7 L612.8,1904.9 L613.3,1901.5 L613.8,1899.4 L614.3,1898.3 L614.8,1897.8 L615.3,1897.7 L615.8,1898.4 L616.3,1900.1 L616.8,1902.9 L617.3,1907.1 L617.8,1912.7 L618.3,1919.4 L618.8,1927.0 L619.3,1935.3 L619.8,1944.2 L620.3,1953.6 L620.8,1963.4 L621.3,1973.8 L621.8,1986.0 L622.3,2000.0 L622.8,2020.1 L623.3,2044.8 L623.8,2059.1 L624.3,2070.6 L624.8,2080.9 L625.3,2090.2 L625.8,2099.2 L626.3,2108.1 L626.8,2116.4 L627.3,2123.7 L627.8,2129.9 L628.3,2135.5 L628.8,2140.5 L629.3,2144.9 L629.8,2148.8 L630.3,2152.3 L630.8,2155.8 L631.3,2159.0 L631.8,2162.0 L632.3,2164.6 L632.8,2166.8 L633.3,2168.5 L633.8,2170.2 L634.3,2171.8 L634.8,2173.2 L635.3,2174.5 L635.8,2175.7 L636.3,2176.7 L636.8,2177.5 L637.3,2178.1 L637.8,2178.7 L638.3,2179.3 L638.8,2179.8 L639.3,2180.3 L639.8,2180.8 L640.3,2181.3 L640.8,2181.8 L641.3,2182.1 L641.8,2182.5 L642.3,2182.8 L642.8,2183.0 L643.3,2183.2 L643.8,2183.4 L644.3,2183.6 L644.8,2183.8 L645.3,2184.0 L645.8,2184.2 L646.3,2184.4 L646.8,2184.6 L647.3,2184.8 L647.8,2185.0 L648.3,2185.1 L648.8,2185.3 L649.3,2185.4 L649.8,2185.6 L650.3,2185.7 L650.8,2185.8 L651.3,2185.9 L651.8,2186.0 L652.3,2186.0 L652.8,2186.1 L653.3,2186.1 L653.8,2186.1 L654.3,2186.1 L654.8,2186.1 L655.3,2186.2 L655.8,2186.2 L656.3,2186.2 L656.8,2186.2 L657.3,2186.2 L657.8,2186.2 L658.3,2186.2 L658.8,2186.3 L659.3,2186.3 L659.8,2186.3 L660.3,2186.3 L660.8,2186.3 L661.3,2186.3 L661.8,2186.3 L662.3,2186.4 L662.8,2186.4 L663.3,2186.4 L663.8,2186.4 L664.3,2186.4 L664.8,2186.4 L665.3,2186.4 L665.8,2186.4 L666.3,2186.4 L666.8,2186.4 L667.3,2186.4 L667.8,2186.4 L668.3,2186.4 L668.8,2186.4 L669.3,2186.4 L669.8,2186.4 L670.3,2186.4 L670.8,2186.4 L671.3,2186.4 L671.8,2186.4 L672.3,2186.4 L672.8,2186.4 L673.3,2186.4 L673.8,2186.4 L674.3,2186.4 L674.8,2186.4 L675.3,2186.4 L675.8,2186.4 L676.3,2186.4 L676.8,2186.4 L677.3,2186.4 L677.8,2186.4 L678.3,2186.4 L678.8,2186.4 L679.3,2186.4 L679.8,2186.4 L680.3,2186.4 L680.8,2186.4 L681.3,2186.4 L681.8,2186.4 L682.3,2186.4 L682.8,2186.4 L683.3,2186.4 L683.8,2186.4 L684.3,2186.4 L684.8,2186.4 L685.3,2186.4 L685.8,2186.4 L686.3,2186.4 L686.8,2186.4 L687.3,2186.4 L687.8,2186.4 L688.3,2186.4 L688.8,2186.4 L689.3,2186.4 L689.8,2186.4 L690.3,2186.4 L690.8,2186.4 L691.3,2186.4 L691.8,2186.4 L692.3,2186.4 L692.8,2186.4 L693.3,2186.4 L693.8,2186.4 L694.3,2186.4 L694.8,2186.4 L695.3,2186.4 L695.8,2186.4 L696.3,2186.4 L696.8,2186.4 L697.3,2186.4 L697.8,2186.4 L698.3,2186.4 L698.8,2186.4 L699.3,2186.4 L699.8,2186.4 L700.3,2186.4 L700.8,2186.4 L701.3,2186.4 L701.8,2186.4 L702.3,2186.4 L702.8,2186.4 L703.3,2186.4 L703.8,2186.4 L704.3,2186.4 L704.8,2186.4 L705.3,2186.4 L705.8,2186.4 L706.3,2186.4 L706.8,2186.4 L707.3,2186.4 L707.8,2186.4 L708.3,2186.4 L708.8,2186.4 L709.3,2186.4 L709.8,2186.4 L710.3,2186.4 L710.8,2186.4 L711.3,2186.4 L711.8,2186.4 L712.3,2186.4 L712.8,2186.4 L713.3,2186.4 L713.8,2186.4 L714.3,2186.4 L714.8,2186.4 L715.3,2186.4 L715.8,2186.4 L716.3,2186.4 L716.8,2186.4 L717.3,2186.4 L717.8,2186.4 L718.3,2186.4 L718.8,2186.4 L719.3,2186.4 L719.8,2186.4 L720.3,2186.4 L720.8,2186.4 L721.3,2186.4 L721.8,2186.4 L722.3,2186.4 L722.8,2186.4 L723.3,2186.4 L723.8,2186.4 L724.3,2186.4 L724.8,2186.4 L725.3,2186.4 L725.8,2186.4 L726.3,2186.4 L726.8,2186.4 L727.3,2186.4 L727.8,2186.4 L728.3,2186.4" fill="none" stroke="#000" stroke-width="5.6" stroke-linecap="butt" stroke-linejoin="round"/>
<text x="2.6" y="1685.6" font-size="34.5" textLength="24.5" lengthAdjust="spacingAndGlyphs">D</text>
<path d="M3.9,1715.4 H86.6" fill="none" stroke="#000" stroke-width="5.8" stroke-linecap="round" stroke-linejoin="round"/>
<path d="M2.5,1756 H83.5" fill="none" stroke="#000" stroke-width="4.6" stroke-linecap="round" stroke-linejoin="round" stroke-dasharray="0 10.03"/>
<g font-size="26.4"><text x="96.30" y="1723.4" textLength="15.26" lengthAdjust="spacingAndGlyphs">2</text><text x="111.56" y="1723.4" textLength="18.53" lengthAdjust="spacingAndGlyphs">D</text><text x="130.09" y="1723.4" textLength="19.00" lengthAdjust="spacingAndGlyphs">G</text><text x="149.08" y="1723.4" textLength="15.00" lengthAdjust="spacingAndGlyphs">+</text><text x="164.08" y="1723.4" textLength="15.26" lengthAdjust="spacingAndGlyphs">2</text><text x="179.34" y="1723.4" textLength="18.53" lengthAdjust="spacingAndGlyphs">D</text><text x="197.87" y="1723.4" textLength="19.00" lengthAdjust="spacingAndGlyphs">G</text><text x="216.86" y="1723.4" textLength="15.26" lengthAdjust="spacingAndGlyphs">6</text><text x="232.13" y="1723.4" textLength="15.56" lengthAdjust="spacingAndGlyphs">P</text><text x="254.49" y="1723.4" textLength="9.22" lengthAdjust="spacingAndGlyphs">-</text><text x="270.51" y="1723.4" textLength="17.42" lengthAdjust="spacingAndGlyphs">A</text><text x="287.94" y="1723.4" textLength="12.73" lengthAdjust="spacingAndGlyphs">c</text><text x="300.67" y="1723.4" textLength="15.82" lengthAdjust="spacingAndGlyphs">q</text><text x="316.49" y="1723.4" textLength="15.82" lengthAdjust="spacingAndGlyphs">u</text><text x="332.31" y="1723.4" textLength="6.91" lengthAdjust="spacingAndGlyphs">i</text><text x="339.22" y="1723.4" textLength="10.50" lengthAdjust="spacingAndGlyphs">r</text><text x="349.72" y="1723.4" textLength="14.98" lengthAdjust="spacingAndGlyphs">e</text><text x="364.70" y="1723.4" textLength="15.82" lengthAdjust="spacingAndGlyphs">d</text><text x="387.33" y="1723.4" textLength="11.78" lengthAdjust="spacingAndGlyphs">s</text><text x="399.11" y="1723.4" textLength="15.82" lengthAdjust="spacingAndGlyphs">p</text><text x="414.93" y="1723.4" textLength="14.98" lengthAdjust="spacingAndGlyphs">e</text><text x="429.91" y="1723.4" textLength="12.73" lengthAdjust="spacingAndGlyphs">c</text><text x="443.21" y="1723.4" textLength="8.95" lengthAdjust="spacingAndGlyphs">t</text><text x="452.73" y="1723.4" textLength="10.50" lengthAdjust="spacingAndGlyphs">r</text><text x="463.23" y="1723.4" textLength="15.82" lengthAdjust="spacingAndGlyphs">u</text><text x="479.05" y="1723.4" textLength="24.05" lengthAdjust="spacingAndGlyphs">m</text></g>
<g font-size="26.4"><text x="96.30" y="1763.8" textLength="11.80" lengthAdjust="spacingAndGlyphs">s</text><text x="108.10" y="1763.8" textLength="15.86" lengthAdjust="spacingAndGlyphs">u</text><text x="123.96" y="1763.8" textLength="24.11" lengthAdjust="spacingAndGlyphs">m</text><text x="154.89" y="1763.8" textLength="15.92" lengthAdjust="spacingAndGlyphs">o</text><text x="170.94" y="1763.8" textLength="8.95" lengthAdjust="spacingAndGlyphs">f</text><text x="186.84" y="1763.8" textLength="14.46" lengthAdjust="spacingAndGlyphs">a</text><text x="201.30" y="1763.8" textLength="6.93" lengthAdjust="spacingAndGlyphs">l</text><text x="208.22" y="1763.8" textLength="6.93" lengthAdjust="spacingAndGlyphs">l</text><text x="221.97" y="1763.8" textLength="6.93" lengthAdjust="spacingAndGlyphs">l</text><text x="228.90" y="1763.8" textLength="6.93" lengthAdjust="spacingAndGlyphs">i</text><text x="235.82" y="1763.8" textLength="15.86" lengthAdjust="spacingAndGlyphs">n</text><text x="251.68" y="1763.8" textLength="15.02" lengthAdjust="spacingAndGlyphs">e</text><text x="266.70" y="1763.8" textLength="11.80" lengthAdjust="spacingAndGlyphs">s</text></g>
<text x="547.2" y="1756.3" font-size="32.3" textLength="19.6" lengthAdjust="spacingAndGlyphs">C</text><path d="M568.7,1763.7 H577.8 M573.6,1763.7 V1750.0 L569.4,1752.7" fill="none" stroke="#000" stroke-width="1.9" stroke-linejoin="miter"/><text x="579.3" y="1756.3" font-size="32.3" textLength="20.5" lengthAdjust="spacingAndGlyphs">α</text>
<text x="199.9" y="1980" font-size="32.3" textLength="19.6" lengthAdjust="spacingAndGlyphs">C</text><path d="M221.4,1987.4 H230.5 M226.3,1987.4 V1973.7 L222.1,1976.4" fill="none" stroke="#000" stroke-width="1.9" stroke-linejoin="miter"/><text x="231.3" y="1980" font-size="32.3" textLength="19.0" lengthAdjust="spacingAndGlyphs" transform="translate(0,1980) scale(1,1.08) translate(0,-1980)">β</text>
<g font-size="31"><text x="317.10" y="2287.2" textLength="17.48" lengthAdjust="spacingAndGlyphs">δ</text><text x="335.73" y="2287.2" textLength="10.51" lengthAdjust="spacingAndGlyphs">/</text><text x="347.39" y="2287.2" textLength="17.42" lengthAdjust="spacingAndGlyphs">p</text><text x="364.80" y="2287.2" textLength="17.42" lengthAdjust="spacingAndGlyphs">p</text><text x="382.22" y="2287.2" textLength="26.48" lengthAdjust="spacingAndGlyphs">m</text></g>
</svg>
</body></html>
